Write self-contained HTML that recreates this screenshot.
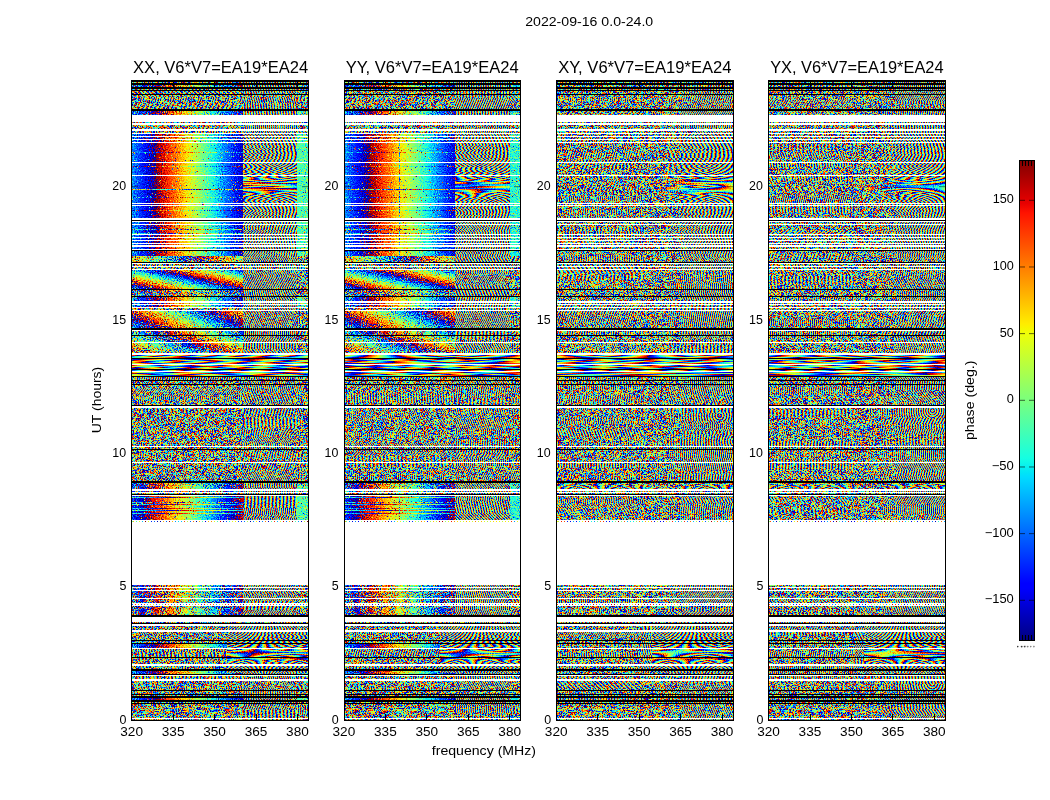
<!DOCTYPE html>
<html lang="en"><head><meta charset="utf-8"><title>2022-09-16 0.0-24.0</title>
<style>html,body{margin:0;padding:0;background:#fff}svg{display:block}text{font-family:'Liberation Sans', sans-serif;fill:#000}</style></head>
<body>
<svg width="1050" height="800" viewBox="0 0 1050 800" shape-rendering="crispEdges">
<defs>
<filter id="S0" x="0" y="0" width="1" height="1" color-interpolation-filters="sRGB"><feTurbulence type="fractalNoise" baseFrequency="0.93 0.91" numOctaves="1" seed="3" result="t"/><feColorMatrix in="t" values="0 0 0 0 0 1 0 0 0 0 0 0 0 0 0 0 0 0 0 1" result="n"/><feComposite in="SourceGraphic" in2="n" operator="arithmetic" k1="1" k2="0" k3="0" k4="0" result="p"/><feColorMatrix in="p" values="0 1 0 0 0 0 0 0 0 0 0 0 0 0 0 0 0 0 0 1" result="p2"/><feColorMatrix in="SourceGraphic" values="1 -.5 0 0 0 0 0 0 0 0 0 0 0 0 0 0 0 0 0 1" result="q"/><feComposite in="p2" in2="q" operator="arithmetic" k1="0" k2="1" k3="1" k4="0" result="s"/><feColorMatrix in="s" values="1 0 0 0 0 1 0 0 0 0 1 0 0 0 0 0 0 0 0 1"/><feComponentTransfer><feFuncR type="discrete" tableValues="0.484 0.534 0.585 0.636 0.686 0.737 0.787 0.838 0.889 0.939 0.99 1 1 1 1 1 1 1 1 1 1 1 1 1 1 0.99 0.919 0.848 0.776 0.705 0.634 0.562 0 0 0 0 0 0 0 0 0 0 0 0 0 0 0 0 0 0 0 0 0 0 0 0.041 0.092 0.142 0.193 0.244 0.294 0.345 0.395 0.446 0.497 0.547 0.598 0.648 0.699 0.75 0.8 0.851 0.901 0.952 1 1 1 1 1 1 1 1 1 1 1 1 1 1 1 0.972 0.901 0.83 0.758 0.687 0.616 0.545 0 0 0 0 0 0 0 0 0 0 0 0 0 0 0 0 0 0 0 0 0 0 0.003 0.054 0.104 0.155 0.206 0.256 0.307 0.357 0.408 0.459 0.509 0.56 0.61 0.661 0.712 0.762 0.813 0.863 0.914 0.965 1 1 1 1 1 1 1 1 1 1 1 1 1 1 1 0.955 0.883 0.812 0.741 0.669 0.598 0.527 0 0 0 0 0 0 0 0 0 0 0 0 0 0 0 0 0 0 0 0 0 0 0.016 0.066 0.117 0.168 0.218 0.269 0.319 0.37 0.421 0.471 0.522 0.572 0.623 0.674 0.724 0.775 0.825 0.876 0.927 0.977 1 1 1 1 1 1 1 1 1 1 1 1 1 1 1 0.937 0.865 0.794 0.723 0.652 0.58 0.509 0 0 0 0 0 0 0 0 0 0 0 0 0 0 0 0 0 0 0 0 0 0 0.028 0.079 0.13 0.18 0.231 0.281 0.332 0.383 0.433 0.484"/><feFuncG type="discrete" tableValues="1 1 1 1 1 1 1 1 1 0.996 0.938 0.879 0.821 0.763 0.705 0.647 0.589 0.531 0.473 0.415 0.357 0.298 0.24 0.182 0.124 0.066 0.008 0 0 0 0 0 0 0 0 0 0 0 0 0 0.01 0.073 0.135 0.198 0.261 0.324 0.386 0.449 0.512 0.575 0.637 0.7 0.763 0.825 0.888 0.951 1 1 1 1 1 1 1 1 1 1 1 1 1 1 1 1 1 0.981 0.923 0.865 0.807 0.749 0.691 0.633 0.574 0.516 0.458 0.4 0.342 0.284 0.226 0.168 0.11 0.052 0 0 0 0 0 0 0 0 0 0 0 0 0 0 0.025 0.088 0.151 0.214 0.276 0.339 0.402 0.465 0.527 0.59 0.653 0.716 0.778 0.841 0.904 0.967 1 1 1 1 1 1 1 1 1 1 1 1 1 1 1 1 1 0.967 0.908 0.85 0.792 0.734 0.676 0.618 0.56 0.502 0.444 0.386 0.328 0.269 0.211 0.153 0.095 0.037 0 0 0 0 0 0 0 0 0 0 0 0 0 0 0.041 0.104 0.167 0.229 0.292 0.355 0.418 0.48 0.543 0.606 0.669 0.731 0.794 0.857 0.92 0.982 1 1 1 1 1 1 1 1 1 1 1 1 1 1 1 1 1 0.952 0.894 0.836 0.778 0.72 0.662 0.603 0.545 0.487 0.429 0.371 0.313 0.255 0.197 0.139 0.081 0.023 0 0 0 0 0 0 0 0 0 0 0 0 0 0 0.057 0.12 0.182 0.245 0.308 0.371 0.433 0.496 0.559 0.622 0.684 0.747 0.81 0.873 0.935 0.998 1 1 1 1 1 1 1 1"/><feFuncB type="discrete" tableValues="0.484 0.433 0.383 0.332 0.281 0.231 0.18 0.13 0.079 0.028 0 0 0 0 0 0 0 0 0 0 0 0 0 0 0 0 0 0 0 0 0 0 0.509 0.58 0.652 0.723 0.794 0.865 0.937 1 1 1 1 1 1 1 1 1 1 1 1 1 1 1 0.977 0.927 0.876 0.825 0.775 0.724 0.674 0.623 0.572 0.522 0.471 0.421 0.37 0.319 0.269 0.218 0.168 0.117 0.066 0.016 0 0 0 0 0 0 0 0 0 0 0 0 0 0 0 0 0 0 0 0 0 0 0.527 0.598 0.669 0.741 0.812 0.883 0.955 1 1 1 1 1 1 1 1 1 1 1 1 1 1 1 0.965 0.914 0.863 0.813 0.762 0.712 0.661 0.61 0.56 0.509 0.459 0.408 0.357 0.307 0.256 0.206 0.155 0.104 0.054 0.003 0 0 0 0 0 0 0 0 0 0 0 0 0 0 0 0 0 0 0 0 0 0 0.545 0.616 0.687 0.758 0.83 0.901 0.972 1 1 1 1 1 1 1 1 1 1 1 1 1 1 1 0.952 0.901 0.851 0.8 0.75 0.699 0.648 0.598 0.547 0.497 0.446 0.395 0.345 0.294 0.244 0.193 0.142 0.092 0.041 0 0 0 0 0 0 0 0 0 0 0 0 0 0 0 0 0 0 0 0 0 0 0 0.562 0.634 0.705 0.776 0.848 0.919 0.99 1 1 1 1 1 1 1 1 1 1 1 1 1 1 0.99 0.939 0.889 0.838 0.787 0.737 0.686 0.636 0.585 0.534 0.484"/></feComponentTransfer></filter>
<filter id="S1" x="0" y="0" width="1" height="1" color-interpolation-filters="sRGB"><feTurbulence type="fractalNoise" baseFrequency="0.93 0.91" numOctaves="1" seed="10" result="t"/><feColorMatrix in="t" values="0 0 0 0 0 1 0 0 0 0 0 0 0 0 0 0 0 0 0 1" result="n"/><feComposite in="SourceGraphic" in2="n" operator="arithmetic" k1="1" k2="0" k3="0" k4="0" result="p"/><feColorMatrix in="p" values="0 1 0 0 0 0 0 0 0 0 0 0 0 0 0 0 0 0 0 1" result="p2"/><feColorMatrix in="SourceGraphic" values="1 -.5 0 0 0 0 0 0 0 0 0 0 0 0 0 0 0 0 0 1" result="q"/><feComposite in="p2" in2="q" operator="arithmetic" k1="0" k2="1" k3="1" k4="0" result="s"/><feColorMatrix in="s" values="1 0 0 0 0 1 0 0 0 0 1 0 0 0 0 0 0 0 0 1"/><feComponentTransfer><feFuncR type="discrete" tableValues="0.484 0.534 0.585 0.636 0.686 0.737 0.787 0.838 0.889 0.939 0.99 1 1 1 1 1 1 1 1 1 1 1 1 1 1 0.99 0.919 0.848 0.776 0.705 0.634 0.562 0 0 0 0 0 0 0 0 0 0 0 0 0 0 0 0 0 0 0 0 0 0 0 0.041 0.092 0.142 0.193 0.244 0.294 0.345 0.395 0.446 0.497 0.547 0.598 0.648 0.699 0.75 0.8 0.851 0.901 0.952 1 1 1 1 1 1 1 1 1 1 1 1 1 1 1 0.972 0.901 0.83 0.758 0.687 0.616 0.545 0 0 0 0 0 0 0 0 0 0 0 0 0 0 0 0 0 0 0 0 0 0 0.003 0.054 0.104 0.155 0.206 0.256 0.307 0.357 0.408 0.459 0.509 0.56 0.61 0.661 0.712 0.762 0.813 0.863 0.914 0.965 1 1 1 1 1 1 1 1 1 1 1 1 1 1 1 0.955 0.883 0.812 0.741 0.669 0.598 0.527 0 0 0 0 0 0 0 0 0 0 0 0 0 0 0 0 0 0 0 0 0 0 0.016 0.066 0.117 0.168 0.218 0.269 0.319 0.37 0.421 0.471 0.522 0.572 0.623 0.674 0.724 0.775 0.825 0.876 0.927 0.977 1 1 1 1 1 1 1 1 1 1 1 1 1 1 1 0.937 0.865 0.794 0.723 0.652 0.58 0.509 0 0 0 0 0 0 0 0 0 0 0 0 0 0 0 0 0 0 0 0 0 0 0.028 0.079 0.13 0.18 0.231 0.281 0.332 0.383 0.433 0.484"/><feFuncG type="discrete" tableValues="1 1 1 1 1 1 1 1 1 0.996 0.938 0.879 0.821 0.763 0.705 0.647 0.589 0.531 0.473 0.415 0.357 0.298 0.24 0.182 0.124 0.066 0.008 0 0 0 0 0 0 0 0 0 0 0 0 0 0.01 0.073 0.135 0.198 0.261 0.324 0.386 0.449 0.512 0.575 0.637 0.7 0.763 0.825 0.888 0.951 1 1 1 1 1 1 1 1 1 1 1 1 1 1 1 1 1 0.981 0.923 0.865 0.807 0.749 0.691 0.633 0.574 0.516 0.458 0.4 0.342 0.284 0.226 0.168 0.11 0.052 0 0 0 0 0 0 0 0 0 0 0 0 0 0 0.025 0.088 0.151 0.214 0.276 0.339 0.402 0.465 0.527 0.59 0.653 0.716 0.778 0.841 0.904 0.967 1 1 1 1 1 1 1 1 1 1 1 1 1 1 1 1 1 0.967 0.908 0.85 0.792 0.734 0.676 0.618 0.56 0.502 0.444 0.386 0.328 0.269 0.211 0.153 0.095 0.037 0 0 0 0 0 0 0 0 0 0 0 0 0 0 0.041 0.104 0.167 0.229 0.292 0.355 0.418 0.48 0.543 0.606 0.669 0.731 0.794 0.857 0.92 0.982 1 1 1 1 1 1 1 1 1 1 1 1 1 1 1 1 1 0.952 0.894 0.836 0.778 0.72 0.662 0.603 0.545 0.487 0.429 0.371 0.313 0.255 0.197 0.139 0.081 0.023 0 0 0 0 0 0 0 0 0 0 0 0 0 0 0.057 0.12 0.182 0.245 0.308 0.371 0.433 0.496 0.559 0.622 0.684 0.747 0.81 0.873 0.935 0.998 1 1 1 1 1 1 1 1"/><feFuncB type="discrete" tableValues="0.484 0.433 0.383 0.332 0.281 0.231 0.18 0.13 0.079 0.028 0 0 0 0 0 0 0 0 0 0 0 0 0 0 0 0 0 0 0 0 0 0 0.509 0.58 0.652 0.723 0.794 0.865 0.937 1 1 1 1 1 1 1 1 1 1 1 1 1 1 1 0.977 0.927 0.876 0.825 0.775 0.724 0.674 0.623 0.572 0.522 0.471 0.421 0.37 0.319 0.269 0.218 0.168 0.117 0.066 0.016 0 0 0 0 0 0 0 0 0 0 0 0 0 0 0 0 0 0 0 0 0 0 0.527 0.598 0.669 0.741 0.812 0.883 0.955 1 1 1 1 1 1 1 1 1 1 1 1 1 1 1 0.965 0.914 0.863 0.813 0.762 0.712 0.661 0.61 0.56 0.509 0.459 0.408 0.357 0.307 0.256 0.206 0.155 0.104 0.054 0.003 0 0 0 0 0 0 0 0 0 0 0 0 0 0 0 0 0 0 0 0 0 0 0.545 0.616 0.687 0.758 0.83 0.901 0.972 1 1 1 1 1 1 1 1 1 1 1 1 1 1 1 0.952 0.901 0.851 0.8 0.75 0.699 0.648 0.598 0.547 0.497 0.446 0.395 0.345 0.294 0.244 0.193 0.142 0.092 0.041 0 0 0 0 0 0 0 0 0 0 0 0 0 0 0 0 0 0 0 0 0 0 0 0.562 0.634 0.705 0.776 0.848 0.919 0.99 1 1 1 1 1 1 1 1 1 1 1 1 1 1 0.99 0.939 0.889 0.838 0.787 0.737 0.686 0.636 0.585 0.534 0.484"/></feComponentTransfer></filter>
<filter id="S2" x="0" y="0" width="1" height="1" color-interpolation-filters="sRGB"><feTurbulence type="fractalNoise" baseFrequency="0.93 0.91" numOctaves="1" seed="17" result="t"/><feColorMatrix in="t" values="0 0 0 0 0 1 0 0 0 0 0 0 0 0 0 0 0 0 0 1" result="n"/><feComposite in="SourceGraphic" in2="n" operator="arithmetic" k1="1" k2="0" k3="0" k4="0" result="p"/><feColorMatrix in="p" values="0 1 0 0 0 0 0 0 0 0 0 0 0 0 0 0 0 0 0 1" result="p2"/><feColorMatrix in="SourceGraphic" values="1 -.5 0 0 0 0 0 0 0 0 0 0 0 0 0 0 0 0 0 1" result="q"/><feComposite in="p2" in2="q" operator="arithmetic" k1="0" k2="1" k3="1" k4="0" result="s"/><feColorMatrix in="s" values="1 0 0 0 0 1 0 0 0 0 1 0 0 0 0 0 0 0 0 1"/><feComponentTransfer><feFuncR type="discrete" tableValues="0.484 0.534 0.585 0.636 0.686 0.737 0.787 0.838 0.889 0.939 0.99 1 1 1 1 1 1 1 1 1 1 1 1 1 1 0.99 0.919 0.848 0.776 0.705 0.634 0.562 0 0 0 0 0 0 0 0 0 0 0 0 0 0 0 0 0 0 0 0 0 0 0 0.041 0.092 0.142 0.193 0.244 0.294 0.345 0.395 0.446 0.497 0.547 0.598 0.648 0.699 0.75 0.8 0.851 0.901 0.952 1 1 1 1 1 1 1 1 1 1 1 1 1 1 1 0.972 0.901 0.83 0.758 0.687 0.616 0.545 0 0 0 0 0 0 0 0 0 0 0 0 0 0 0 0 0 0 0 0 0 0 0.003 0.054 0.104 0.155 0.206 0.256 0.307 0.357 0.408 0.459 0.509 0.56 0.61 0.661 0.712 0.762 0.813 0.863 0.914 0.965 1 1 1 1 1 1 1 1 1 1 1 1 1 1 1 0.955 0.883 0.812 0.741 0.669 0.598 0.527 0 0 0 0 0 0 0 0 0 0 0 0 0 0 0 0 0 0 0 0 0 0 0.016 0.066 0.117 0.168 0.218 0.269 0.319 0.37 0.421 0.471 0.522 0.572 0.623 0.674 0.724 0.775 0.825 0.876 0.927 0.977 1 1 1 1 1 1 1 1 1 1 1 1 1 1 1 0.937 0.865 0.794 0.723 0.652 0.58 0.509 0 0 0 0 0 0 0 0 0 0 0 0 0 0 0 0 0 0 0 0 0 0 0.028 0.079 0.13 0.18 0.231 0.281 0.332 0.383 0.433 0.484"/><feFuncG type="discrete" tableValues="1 1 1 1 1 1 1 1 1 0.996 0.938 0.879 0.821 0.763 0.705 0.647 0.589 0.531 0.473 0.415 0.357 0.298 0.24 0.182 0.124 0.066 0.008 0 0 0 0 0 0 0 0 0 0 0 0 0 0.01 0.073 0.135 0.198 0.261 0.324 0.386 0.449 0.512 0.575 0.637 0.7 0.763 0.825 0.888 0.951 1 1 1 1 1 1 1 1 1 1 1 1 1 1 1 1 1 0.981 0.923 0.865 0.807 0.749 0.691 0.633 0.574 0.516 0.458 0.4 0.342 0.284 0.226 0.168 0.11 0.052 0 0 0 0 0 0 0 0 0 0 0 0 0 0 0.025 0.088 0.151 0.214 0.276 0.339 0.402 0.465 0.527 0.59 0.653 0.716 0.778 0.841 0.904 0.967 1 1 1 1 1 1 1 1 1 1 1 1 1 1 1 1 1 0.967 0.908 0.85 0.792 0.734 0.676 0.618 0.56 0.502 0.444 0.386 0.328 0.269 0.211 0.153 0.095 0.037 0 0 0 0 0 0 0 0 0 0 0 0 0 0 0.041 0.104 0.167 0.229 0.292 0.355 0.418 0.48 0.543 0.606 0.669 0.731 0.794 0.857 0.92 0.982 1 1 1 1 1 1 1 1 1 1 1 1 1 1 1 1 1 0.952 0.894 0.836 0.778 0.72 0.662 0.603 0.545 0.487 0.429 0.371 0.313 0.255 0.197 0.139 0.081 0.023 0 0 0 0 0 0 0 0 0 0 0 0 0 0 0.057 0.12 0.182 0.245 0.308 0.371 0.433 0.496 0.559 0.622 0.684 0.747 0.81 0.873 0.935 0.998 1 1 1 1 1 1 1 1"/><feFuncB type="discrete" tableValues="0.484 0.433 0.383 0.332 0.281 0.231 0.18 0.13 0.079 0.028 0 0 0 0 0 0 0 0 0 0 0 0 0 0 0 0 0 0 0 0 0 0 0.509 0.58 0.652 0.723 0.794 0.865 0.937 1 1 1 1 1 1 1 1 1 1 1 1 1 1 1 0.977 0.927 0.876 0.825 0.775 0.724 0.674 0.623 0.572 0.522 0.471 0.421 0.37 0.319 0.269 0.218 0.168 0.117 0.066 0.016 0 0 0 0 0 0 0 0 0 0 0 0 0 0 0 0 0 0 0 0 0 0 0.527 0.598 0.669 0.741 0.812 0.883 0.955 1 1 1 1 1 1 1 1 1 1 1 1 1 1 1 0.965 0.914 0.863 0.813 0.762 0.712 0.661 0.61 0.56 0.509 0.459 0.408 0.357 0.307 0.256 0.206 0.155 0.104 0.054 0.003 0 0 0 0 0 0 0 0 0 0 0 0 0 0 0 0 0 0 0 0 0 0 0.545 0.616 0.687 0.758 0.83 0.901 0.972 1 1 1 1 1 1 1 1 1 1 1 1 1 1 1 0.952 0.901 0.851 0.8 0.75 0.699 0.648 0.598 0.547 0.497 0.446 0.395 0.345 0.294 0.244 0.193 0.142 0.092 0.041 0 0 0 0 0 0 0 0 0 0 0 0 0 0 0 0 0 0 0 0 0 0 0 0.562 0.634 0.705 0.776 0.848 0.919 0.99 1 1 1 1 1 1 1 1 1 1 1 1 1 1 0.99 0.939 0.889 0.838 0.787 0.737 0.686 0.636 0.585 0.534 0.484"/></feComponentTransfer></filter>
<filter id="S3" x="0" y="0" width="1" height="1" color-interpolation-filters="sRGB"><feTurbulence type="fractalNoise" baseFrequency="0.93 0.91" numOctaves="1" seed="24" result="t"/><feColorMatrix in="t" values="0 0 0 0 0 1 0 0 0 0 0 0 0 0 0 0 0 0 0 1" result="n"/><feComposite in="SourceGraphic" in2="n" operator="arithmetic" k1="1" k2="0" k3="0" k4="0" result="p"/><feColorMatrix in="p" values="0 1 0 0 0 0 0 0 0 0 0 0 0 0 0 0 0 0 0 1" result="p2"/><feColorMatrix in="SourceGraphic" values="1 -.5 0 0 0 0 0 0 0 0 0 0 0 0 0 0 0 0 0 1" result="q"/><feComposite in="p2" in2="q" operator="arithmetic" k1="0" k2="1" k3="1" k4="0" result="s"/><feColorMatrix in="s" values="1 0 0 0 0 1 0 0 0 0 1 0 0 0 0 0 0 0 0 1"/><feComponentTransfer><feFuncR type="discrete" tableValues="0.484 0.534 0.585 0.636 0.686 0.737 0.787 0.838 0.889 0.939 0.99 1 1 1 1 1 1 1 1 1 1 1 1 1 1 0.99 0.919 0.848 0.776 0.705 0.634 0.562 0 0 0 0 0 0 0 0 0 0 0 0 0 0 0 0 0 0 0 0 0 0 0 0.041 0.092 0.142 0.193 0.244 0.294 0.345 0.395 0.446 0.497 0.547 0.598 0.648 0.699 0.75 0.8 0.851 0.901 0.952 1 1 1 1 1 1 1 1 1 1 1 1 1 1 1 0.972 0.901 0.83 0.758 0.687 0.616 0.545 0 0 0 0 0 0 0 0 0 0 0 0 0 0 0 0 0 0 0 0 0 0 0.003 0.054 0.104 0.155 0.206 0.256 0.307 0.357 0.408 0.459 0.509 0.56 0.61 0.661 0.712 0.762 0.813 0.863 0.914 0.965 1 1 1 1 1 1 1 1 1 1 1 1 1 1 1 0.955 0.883 0.812 0.741 0.669 0.598 0.527 0 0 0 0 0 0 0 0 0 0 0 0 0 0 0 0 0 0 0 0 0 0 0.016 0.066 0.117 0.168 0.218 0.269 0.319 0.37 0.421 0.471 0.522 0.572 0.623 0.674 0.724 0.775 0.825 0.876 0.927 0.977 1 1 1 1 1 1 1 1 1 1 1 1 1 1 1 0.937 0.865 0.794 0.723 0.652 0.58 0.509 0 0 0 0 0 0 0 0 0 0 0 0 0 0 0 0 0 0 0 0 0 0 0.028 0.079 0.13 0.18 0.231 0.281 0.332 0.383 0.433 0.484"/><feFuncG type="discrete" tableValues="1 1 1 1 1 1 1 1 1 0.996 0.938 0.879 0.821 0.763 0.705 0.647 0.589 0.531 0.473 0.415 0.357 0.298 0.24 0.182 0.124 0.066 0.008 0 0 0 0 0 0 0 0 0 0 0 0 0 0.01 0.073 0.135 0.198 0.261 0.324 0.386 0.449 0.512 0.575 0.637 0.7 0.763 0.825 0.888 0.951 1 1 1 1 1 1 1 1 1 1 1 1 1 1 1 1 1 0.981 0.923 0.865 0.807 0.749 0.691 0.633 0.574 0.516 0.458 0.4 0.342 0.284 0.226 0.168 0.11 0.052 0 0 0 0 0 0 0 0 0 0 0 0 0 0 0.025 0.088 0.151 0.214 0.276 0.339 0.402 0.465 0.527 0.59 0.653 0.716 0.778 0.841 0.904 0.967 1 1 1 1 1 1 1 1 1 1 1 1 1 1 1 1 1 0.967 0.908 0.85 0.792 0.734 0.676 0.618 0.56 0.502 0.444 0.386 0.328 0.269 0.211 0.153 0.095 0.037 0 0 0 0 0 0 0 0 0 0 0 0 0 0 0.041 0.104 0.167 0.229 0.292 0.355 0.418 0.48 0.543 0.606 0.669 0.731 0.794 0.857 0.92 0.982 1 1 1 1 1 1 1 1 1 1 1 1 1 1 1 1 1 0.952 0.894 0.836 0.778 0.72 0.662 0.603 0.545 0.487 0.429 0.371 0.313 0.255 0.197 0.139 0.081 0.023 0 0 0 0 0 0 0 0 0 0 0 0 0 0 0.057 0.12 0.182 0.245 0.308 0.371 0.433 0.496 0.559 0.622 0.684 0.747 0.81 0.873 0.935 0.998 1 1 1 1 1 1 1 1"/><feFuncB type="discrete" tableValues="0.484 0.433 0.383 0.332 0.281 0.231 0.18 0.13 0.079 0.028 0 0 0 0 0 0 0 0 0 0 0 0 0 0 0 0 0 0 0 0 0 0 0.509 0.58 0.652 0.723 0.794 0.865 0.937 1 1 1 1 1 1 1 1 1 1 1 1 1 1 1 0.977 0.927 0.876 0.825 0.775 0.724 0.674 0.623 0.572 0.522 0.471 0.421 0.37 0.319 0.269 0.218 0.168 0.117 0.066 0.016 0 0 0 0 0 0 0 0 0 0 0 0 0 0 0 0 0 0 0 0 0 0 0.527 0.598 0.669 0.741 0.812 0.883 0.955 1 1 1 1 1 1 1 1 1 1 1 1 1 1 1 0.965 0.914 0.863 0.813 0.762 0.712 0.661 0.61 0.56 0.509 0.459 0.408 0.357 0.307 0.256 0.206 0.155 0.104 0.054 0.003 0 0 0 0 0 0 0 0 0 0 0 0 0 0 0 0 0 0 0 0 0 0 0.545 0.616 0.687 0.758 0.83 0.901 0.972 1 1 1 1 1 1 1 1 1 1 1 1 1 1 1 0.952 0.901 0.851 0.8 0.75 0.699 0.648 0.598 0.547 0.497 0.446 0.395 0.345 0.294 0.244 0.193 0.142 0.092 0.041 0 0 0 0 0 0 0 0 0 0 0 0 0 0 0 0 0 0 0 0 0 0 0 0.562 0.634 0.705 0.776 0.848 0.919 0.99 1 1 1 1 1 1 1 1 1 1 1 1 1 1 0.99 0.939 0.889 0.838 0.787 0.737 0.686 0.636 0.585 0.534 0.484"/></feComponentTransfer></filter>
<linearGradient id="c153" gradientUnits="userSpaceOnUse" spreadMethod="repeat"><stop offset="0" stop-color="#609900"/><stop offset="1" stop-color="#9f9900"/></linearGradient>
<linearGradient id="g1" href="#c153" x1="129.47" y1="80.31" x2="131.38" y2="81.17"/>
<linearGradient id="c76" gradientUnits="userSpaceOnUse" spreadMethod="repeat"><stop offset="0" stop-color="#604c00"/><stop offset="1" stop-color="#9f4c00"/></linearGradient>
<linearGradient id="g2" href="#c76" x1="129.75" y1="87.36" x2="131.68" y2="85.26"/>
<linearGradient id="c128" gradientUnits="userSpaceOnUse" spreadMethod="repeat"><stop offset="0" stop-color="#608000"/><stop offset="1" stop-color="#9f8000"/></linearGradient>
<linearGradient id="g3" href="#c128" x1="131.78" y1="97.26" x2="129.53" y2="96.52"/>
<linearGradient id="c102" gradientUnits="userSpaceOnUse" spreadMethod="repeat"><stop offset="0" stop-color="#606600"/><stop offset="1" stop-color="#9f6600"/></linearGradient>
<linearGradient id="g4" href="#c102" x1="128.85" y1="101.89" x2="132.16" y2="103.6"/>
<linearGradient id="g5" href="#c102" x1="133.47" y1="113.17" x2="130.53" y2="111.78"/>
<radialGradient id="r153_0" gradientUnits="userSpaceOnUse" spreadMethod="repeat"><stop offset="0" stop-color="#609900"/><stop offset="1" stop-color="#9f9900"/></radialGradient>
<radialGradient id="g6" href="#r153_0" cx="50.69" cy="124.92" r="2.7"/>
<radialGradient id="r178_5" gradientUnits="userSpaceOnUse" spreadMethod="repeat"><stop offset="0" stop-color="#87b200"/><stop offset="0.38" stop-color="#9fb200"/><stop offset="0.38" stop-color="#60b200"/><stop offset="1" stop-color="#87b200"/></radialGradient>
<radialGradient id="g7" href="#r178_5" cx="334.01" cy="120.47" r="3.1"/>
<radialGradient id="r128_5" gradientUnits="userSpaceOnUse" spreadMethod="repeat"><stop offset="0" stop-color="#878000"/><stop offset="0.38" stop-color="#9f8000"/><stop offset="0.38" stop-color="#608000"/><stop offset="1" stop-color="#878000"/></radialGradient>
<radialGradient id="g8" href="#r128_5" cx="18.4" cy="144.71" r="2.7"/>
<radialGradient id="r102_4" gradientUnits="userSpaceOnUse" spreadMethod="repeat"><stop offset="0" stop-color="#806600"/><stop offset="0.5" stop-color="#9f6600"/><stop offset="0.5" stop-color="#606600"/><stop offset="1" stop-color="#806600"/></radialGradient>
<radialGradient id="g9" href="#r102_4" cx="347.13" cy="142.35" r="3.6"/>
<linearGradient id="g10" href="#c102" x1="132.24" y1="147.12" x2="130.48" y2="145.53"/>
<radialGradient id="r76_6" gradientUnits="userSpaceOnUse" spreadMethod="repeat"><stop offset="0" stop-color="#8f4c00"/><stop offset="0.25" stop-color="#9f4c00"/><stop offset="0.25" stop-color="#604c00"/><stop offset="1" stop-color="#8f4c00"/></radialGradient>
<radialGradient id="g11" href="#r76_6" cx="305.92" cy="147.98" r="2.2"/>
<linearGradient id="g12" href="#c128" x1="130.82" y1="157.12" x2="132.33" y2="156.13"/>
<linearGradient id="g13" href="#c76" x1="129.89" y1="165.59" x2="131.57" y2="164.7"/>
<linearGradient id="c178" gradientUnits="userSpaceOnUse" spreadMethod="repeat"><stop offset="0" stop-color="#60b200"/><stop offset="1" stop-color="#9fb200"/></linearGradient>
<linearGradient id="g14" href="#c178" x1="132.44" y1="172.79" x2="130.79" y2="170.74"/>
<radialGradient id="r102_1" gradientUnits="userSpaceOnUse" spreadMethod="repeat"><stop offset="0" stop-color="#686600"/><stop offset="0.88" stop-color="#9f6600"/><stop offset="0.88" stop-color="#606600"/><stop offset="1" stop-color="#686600"/></radialGradient>
<radialGradient id="g15" href="#r102_1" cx="150.11" cy="175.66" r="2.2"/>
<radialGradient id="r76_4" gradientUnits="userSpaceOnUse" spreadMethod="repeat"><stop offset="0" stop-color="#804c00"/><stop offset="0.5" stop-color="#9f4c00"/><stop offset="0.5" stop-color="#604c00"/><stop offset="1" stop-color="#804c00"/></radialGradient>
<radialGradient id="g16" href="#r76_4" cx="223.02" cy="185.08" r="3.6"/>
<linearGradient id="g17" href="#c178" x1="129.65" y1="192.14" x2="131.28" y2="190.76"/>
<linearGradient id="g18" href="#c178" x1="128.06" y1="202.39" x2="131.01" y2="201"/>
<linearGradient id="g19" href="#c128" x1="131.8" y1="205.78" x2="130.37" y2="204.38"/>
<linearGradient id="g20" href="#c153" x1="132.2" y1="213.34" x2="130.55" y2="214.25"/>
<radialGradient id="g21" href="#r76_6" cx="331.3" cy="219.78" r="2.4"/>
<linearGradient id="g22" href="#c76" x1="131.01" y1="223.01" x2="129.45" y2="221.41"/>
<linearGradient id="g23" href="#c128" x1="130.68" y1="227.8" x2="132.32" y2="228.84"/>
<radialGradient id="r178_6" gradientUnits="userSpaceOnUse" spreadMethod="repeat"><stop offset="0" stop-color="#8fb200"/><stop offset="0.25" stop-color="#9fb200"/><stop offset="0.25" stop-color="#60b200"/><stop offset="1" stop-color="#8fb200"/></radialGradient>
<radialGradient id="g24" href="#r178_6" cx="229.19" cy="231.98" r="3.1"/>
<radialGradient id="r178_1" gradientUnits="userSpaceOnUse" spreadMethod="repeat"><stop offset="0" stop-color="#68b200"/><stop offset="0.88" stop-color="#9fb200"/><stop offset="0.88" stop-color="#60b200"/><stop offset="1" stop-color="#68b200"/></radialGradient>
<radialGradient id="g25" href="#r178_1" cx="46" cy="229.52" r="3.1"/>
<linearGradient id="g26" href="#c76" x1="130.87" y1="244.82" x2="132.41" y2="246.85"/>
<linearGradient id="g27" href="#c153" x1="130.51" y1="251.3" x2="132.18" y2="250.28"/>
<radialGradient id="g28" href="#r178_1" cx="-7.18" cy="256.76" r="2.2"/>
<linearGradient id="g29" href="#c178" x1="129.14" y1="257.55" x2="131.17" y2="258.04"/>
<linearGradient id="g30" href="#c128" x1="131.34" y1="266.36" x2="129.82" y2="264.76"/>
<linearGradient id="g31" href="#c178" x1="132.3" y1="275.04" x2="129.57" y2="277.05"/>
<radialGradient id="r76_0" gradientUnits="userSpaceOnUse" spreadMethod="repeat"><stop offset="0" stop-color="#604c00"/><stop offset="1" stop-color="#9f4c00"/></radialGradient>
<radialGradient id="g32" href="#r76_0" cx="221.74" cy="285.23" r="3.6"/>
<linearGradient id="g33" href="#c102" x1="130.15" y1="290.24" x2="132.47" y2="289.59"/>
<radialGradient id="g34" href="#r76_4" cx="268.59" cy="307.41" r="2.05"/>
<linearGradient id="g35" href="#c128" x1="131.15" y1="302.13" x2="129.33" y2="300.54"/>
<linearGradient id="g36" href="#c178" x1="132.61" y1="308.9" x2="130.48" y2="307.71"/>
<radialGradient id="r102_0" gradientUnits="userSpaceOnUse" spreadMethod="repeat"><stop offset="0" stop-color="#606600"/><stop offset="1" stop-color="#9f6600"/></radialGradient>
<radialGradient id="g37" href="#r102_0" cx="343" cy="324.58" r="2.2"/>
<radialGradient id="r153_3" gradientUnits="userSpaceOnUse" spreadMethod="repeat"><stop offset="0" stop-color="#789900"/><stop offset="0.62" stop-color="#9f9900"/><stop offset="0.62" stop-color="#609900"/><stop offset="1" stop-color="#789900"/></radialGradient>
<radialGradient id="g38" href="#r153_3" cx="72.23" cy="321.76" r="2.05"/>
<linearGradient id="g39" href="#c153" x1="130.41" y1="330.56" x2="131.89" y2="329.16"/>
<linearGradient id="g40" href="#c128" x1="132.09" y1="336.29" x2="129.47" y2="335.6"/>
<linearGradient id="g41" href="#c76" x1="130.12" y1="346.07" x2="131.82" y2="344.01"/>
<linearGradient id="g42" href="#c76" x1="133.15" y1="351.52" x2="130.97" y2="353.02"/>
<linearGradient id="g43" href="#c128" x1="130.27" y1="361.54" x2="132.28" y2="362.8"/>
<radialGradient id="r102_2" gradientUnits="userSpaceOnUse" spreadMethod="repeat"><stop offset="0" stop-color="#706600"/><stop offset="0.75" stop-color="#9f6600"/><stop offset="0.75" stop-color="#606600"/><stop offset="1" stop-color="#706600"/></radialGradient>
<radialGradient id="g44" href="#r102_2" cx="348.3" cy="370.83" r="2.4"/>
<linearGradient id="g45" href="#c76" x1="132.34" y1="371.31" x2="130.16" y2="370.8"/>
<linearGradient id="g46" href="#c153" x1="130.04" y1="381.74" x2="132.05" y2="380.19"/>
<linearGradient id="g47" href="#c76" x1="130.43" y1="387.55" x2="131.84" y2="388.67"/>
<radialGradient id="r76_3" gradientUnits="userSpaceOnUse" spreadMethod="repeat"><stop offset="0" stop-color="#784c00"/><stop offset="0.62" stop-color="#9f4c00"/><stop offset="0.62" stop-color="#604c00"/><stop offset="1" stop-color="#784c00"/></radialGradient>
<radialGradient id="g48" href="#r76_3" cx="16.67" cy="392.06" r="2.05"/>
<linearGradient id="g49" href="#c178" x1="130.83" y1="398.95" x2="132.74" y2="399.46"/>
<radialGradient id="g50" href="#r178_6" cx="66.71" cy="408.83" r="3.6"/>
<linearGradient id="g51" href="#c178" x1="130.27" y1="419.69" x2="131.95" y2="418.1"/>
<radialGradient id="r178_3" gradientUnits="userSpaceOnUse" spreadMethod="repeat"><stop offset="0" stop-color="#78b200"/><stop offset="0.62" stop-color="#9fb200"/><stop offset="0.62" stop-color="#60b200"/><stop offset="1" stop-color="#78b200"/></radialGradient>
<radialGradient id="g52" href="#r178_3" cx="380.94" cy="418.04" r="2.7"/>
<linearGradient id="g53" href="#c178" x1="130.05" y1="433.4" x2="131.84" y2="434.53"/>
<linearGradient id="g54" href="#c153" x1="129.94" y1="444.26" x2="132.58" y2="443.62"/>
<radialGradient id="g55" href="#r178_3" cx="15.85" cy="458.25" r="2.2"/>
<radialGradient id="r178_4" gradientUnits="userSpaceOnUse" spreadMethod="repeat"><stop offset="0" stop-color="#80b200"/><stop offset="0.5" stop-color="#9fb200"/><stop offset="0.5" stop-color="#60b200"/><stop offset="1" stop-color="#80b200"/></radialGradient>
<radialGradient id="g56" href="#r178_4" cx="314.55" cy="463.24" r="2.7"/>
<radialGradient id="g57" href="#r178_4" cx="70.04" cy="451.75" r="2.2"/>
<linearGradient id="g58" href="#c153" x1="131.44" y1="471.25" x2="129.8" y2="470.33"/>
<radialGradient id="r102_3" gradientUnits="userSpaceOnUse" spreadMethod="repeat"><stop offset="0" stop-color="#786600"/><stop offset="0.62" stop-color="#9f6600"/><stop offset="0.62" stop-color="#606600"/><stop offset="1" stop-color="#786600"/></radialGradient>
<radialGradient id="g59" href="#r102_3" cx="330.03" cy="480.43" r="2.7"/>
<linearGradient id="g60" href="#c153" x1="131.05" y1="490.94" x2="129.63" y2="492.7"/>
<linearGradient id="g61" href="#c153" x1="132.2" y1="493.75" x2="130.18" y2="495.85"/>
<linearGradient id="g62" href="#c76" x1="130.56" y1="503.25" x2="132.2" y2="502.33"/>
<linearGradient id="g63" href="#c76" x1="129.81" y1="511.64" x2="131.26" y2="509.64"/>
<radialGradient id="g64" href="#r178_4" cx="343.64" cy="518.51" r="2.2"/>
<radialGradient id="r128_0" gradientUnits="userSpaceOnUse" spreadMethod="repeat"><stop offset="0" stop-color="#608000"/><stop offset="1" stop-color="#9f8000"/></radialGradient>
<radialGradient id="g65" href="#r128_0" cx="234.13" cy="528.35" r="2.4"/>
<linearGradient id="g66" href="#c102" x1="131.31" y1="527.79" x2="129.09" y2="529.26"/>
<radialGradient id="r102_7" gradientUnits="userSpaceOnUse" spreadMethod="repeat"><stop offset="0" stop-color="#976600"/><stop offset="0.12" stop-color="#9f6600"/><stop offset="0.12" stop-color="#606600"/><stop offset="1" stop-color="#976600"/></radialGradient>
<radialGradient id="g67" href="#r102_7" cx="35.11" cy="536.67" r="2.2"/>
<radialGradient id="r128_6" gradientUnits="userSpaceOnUse" spreadMethod="repeat"><stop offset="0" stop-color="#8f8000"/><stop offset="0.25" stop-color="#9f8000"/><stop offset="0.25" stop-color="#608000"/><stop offset="1" stop-color="#8f8000"/></radialGradient>
<radialGradient id="g68" href="#r128_6" cx="315.07" cy="546.82" r="3.6"/>
<linearGradient id="g69" href="#c178" x1="129.24" y1="558.34" x2="131.01" y2="556.99"/>
<radialGradient id="r128_7" gradientUnits="userSpaceOnUse" spreadMethod="repeat"><stop offset="0" stop-color="#978000"/><stop offset="0.12" stop-color="#9f8000"/><stop offset="0.12" stop-color="#608000"/><stop offset="1" stop-color="#978000"/></radialGradient>
<radialGradient id="g70" href="#r128_7" cx="289.13" cy="569.92" r="2.4"/>
<linearGradient id="g71" href="#c76" x1="132.56" y1="571.35" x2="130.37" y2="570.86"/>
<linearGradient id="g72" href="#c153" x1="132.27" y1="575.62" x2="129.7" y2="576.39"/>
<radialGradient id="r153_1" gradientUnits="userSpaceOnUse" spreadMethod="repeat"><stop offset="0" stop-color="#689900"/><stop offset="0.88" stop-color="#9f9900"/><stop offset="0.88" stop-color="#609900"/><stop offset="1" stop-color="#689900"/></radialGradient>
<radialGradient id="g73" href="#r153_1" cx="59.89" cy="598.11" r="2.4"/>
<radialGradient id="r153_4" gradientUnits="userSpaceOnUse" spreadMethod="repeat"><stop offset="0" stop-color="#809900"/><stop offset="0.5" stop-color="#9f9900"/><stop offset="0.5" stop-color="#609900"/><stop offset="1" stop-color="#809900"/></radialGradient>
<radialGradient id="g74" href="#r153_4" cx="219.49" cy="587.77" r="3.6"/>
<linearGradient id="g75" href="#c76" x1="132.11" y1="599.3" x2="130.58" y2="600.27"/>
<linearGradient id="g76" href="#c128" x1="131.32" y1="610.71" x2="129.56" y2="612.3"/>
<linearGradient id="g77" href="#c153" x1="128.45" y1="614.14" x2="131.32" y2="615.11"/>
<radialGradient id="r153_6" gradientUnits="userSpaceOnUse" spreadMethod="repeat"><stop offset="0" stop-color="#8f9900"/><stop offset="0.25" stop-color="#9f9900"/><stop offset="0.25" stop-color="#609900"/><stop offset="1" stop-color="#8f9900"/></radialGradient>
<radialGradient id="g78" href="#r153_6" cx="90.37" cy="624.05" r="2.4"/>
<linearGradient id="g79" href="#c76" x1="131.27" y1="628.29" x2="129.6" y2="626.49"/>
<linearGradient id="g80" href="#c128" x1="131.16" y1="630.89" x2="129.57" y2="631.96"/>
<radialGradient id="g81" href="#r178_3" cx="6.83" cy="645.03" r="2.2"/>
<radialGradient id="r76_5" gradientUnits="userSpaceOnUse" spreadMethod="repeat"><stop offset="0" stop-color="#874c00"/><stop offset="0.38" stop-color="#9f4c00"/><stop offset="0.38" stop-color="#604c00"/><stop offset="1" stop-color="#874c00"/></radialGradient>
<radialGradient id="g82" href="#r76_5" cx="7.74" cy="647.57" r="2.7"/>
<radialGradient id="g83" href="#r102_7" cx="311.67" cy="643.69" r="3.6"/>
<radialGradient id="g84" href="#r153_6" cx="155.8" cy="659.88" r="2.7"/>
<radialGradient id="g85" href="#r128_5" cx="19.28" cy="674.7" r="3.6"/>
<linearGradient id="g86" href="#c178" x1="130" y1="681.46" x2="131.58" y2="682.32"/>
<linearGradient id="g87" href="#c128" x1="128.76" y1="686.62" x2="131.08" y2="685.98"/>
<radialGradient id="g88" href="#r153_4" cx="295.37" cy="694.33" r="2.2"/>
<linearGradient id="g89" href="#c153" x1="130.84" y1="692.17" x2="132.38" y2="690.57"/>
<radialGradient id="g90" href="#r76_5" cx="100.69" cy="693.77" r="3.1"/>
<radialGradient id="g91" href="#r178_3" cx="345.82" cy="712.2" r="2.05"/>
<linearGradient id="g92" href="#c76" x1="130.5" y1="715.27" x2="132.29" y2="714.31"/>
<radialGradient id="g93" href="#r76_0" cx="48.53" cy="714.64" r="2.2"/>
<linearGradient id="c46" gradientUnits="userSpaceOnUse" spreadMethod="repeat"><stop offset="0" stop-color="#602e00"/><stop offset="1" stop-color="#9f2e00"/></linearGradient>
<linearGradient id="g94" href="#c46" x1="240.91" y1="81.33" x2="243.4" y2="80.81"/>
<radialGradient id="g95" href="#r102_2" cx="165.43" cy="98.81" r="3.1"/>
<linearGradient id="c64" gradientUnits="userSpaceOnUse" spreadMethod="repeat"><stop offset="0" stop-color="#604000"/><stop offset="1" stop-color="#9f4000"/></linearGradient>
<linearGradient id="g96" href="#c64" x1="241.74" y1="97.23" x2="243.9" y2="96.58"/>
<radialGradient id="r46_1" gradientUnits="userSpaceOnUse" spreadMethod="repeat"><stop offset="0" stop-color="#682e00"/><stop offset="0.88" stop-color="#9f2e00"/><stop offset="0.88" stop-color="#602e00"/><stop offset="1" stop-color="#682e00"/></radialGradient>
<radialGradient id="g97" href="#r46_1" cx="408.97" cy="97.11" r="2.7"/>
<linearGradient id="g98" href="#c64" x1="241.07" y1="115.28" x2="243.33" y2="114.84"/>
<radialGradient id="r38_6" gradientUnits="userSpaceOnUse" spreadMethod="repeat"><stop offset="0" stop-color="#8f2600"/><stop offset="0.25" stop-color="#9f2600"/><stop offset="0.25" stop-color="#602600"/><stop offset="1" stop-color="#8f2600"/></radialGradient>
<radialGradient id="g99" href="#r38_6" cx="222.09" cy="129.67" r="2.05"/>
<linearGradient id="g100" href="#c46" x1="241.48" y1="131.65" x2="244.16" y2="132.57"/>
<linearGradient id="c31" gradientUnits="userSpaceOnUse" spreadMethod="repeat"><stop offset="0" stop-color="#601f00"/><stop offset="1" stop-color="#9f1f00"/></linearGradient>
<linearGradient id="g101" href="#c31" x1="242.8" y1="140.88" x2="241.02" y2="141.58"/>
<linearGradient id="g102" href="#c31" x1="244.28" y1="151.54" x2="242.32" y2="152.05"/>
<radialGradient id="r31_4" gradientUnits="userSpaceOnUse" spreadMethod="repeat"><stop offset="0" stop-color="#801f00"/><stop offset="0.5" stop-color="#9f1f00"/><stop offset="0.5" stop-color="#601f00"/><stop offset="1" stop-color="#801f00"/></radialGradient>
<radialGradient id="g103" href="#r31_4" cx="371.41" cy="153.34" r="2.2"/>
<linearGradient id="g104" href="#c31" x1="243.65" y1="167.17" x2="242.1" y2="168.29"/>
<linearGradient id="g105" href="#c31" x1="244.36" y1="178.26" x2="242.31" y2="176.87"/>
<linearGradient id="g106" href="#c31" x1="243.37" y1="187.64" x2="241.67" y2="186.4"/>
<radialGradient id="r31_5" gradientUnits="userSpaceOnUse" spreadMethod="repeat"><stop offset="0" stop-color="#871f00"/><stop offset="0.38" stop-color="#9f1f00"/><stop offset="0.38" stop-color="#601f00"/><stop offset="1" stop-color="#871f00"/></radialGradient>
<radialGradient id="g107" href="#r31_5" cx="218.01" cy="201.34" r="3.6"/>
<linearGradient id="g108" href="#c31" x1="241.88" y1="208.78" x2="244.18" y2="209.61"/>
<linearGradient id="g109" href="#c31" x1="243.18" y1="216.55" x2="241.38" y2="215.09"/>
<linearGradient id="g110" href="#c31" x1="242.03" y1="223.37" x2="243.65" y2="222.11"/>
<linearGradient id="g111" href="#c31" x1="243.2" y1="228.34" x2="241.5" y2="227.51"/>
<linearGradient id="g112" href="#c31" x1="243.42" y1="234.59" x2="241.59" y2="235.41"/>
<linearGradient id="g113" href="#c31" x1="242.96" y1="243.14" x2="241.08" y2="242.57"/>
<linearGradient id="g114" href="#c31" x1="241.37" y1="255.7" x2="242.89" y2="254.76"/>
<linearGradient id="g115" href="#c64" x1="242.98" y1="260.84" x2="240.65" y2="261.63"/>
<linearGradient id="g116" href="#c64" x1="244.19" y1="265.56" x2="242.23" y2="266.07"/>
<linearGradient id="c38" gradientUnits="userSpaceOnUse" spreadMethod="repeat"><stop offset="0" stop-color="#602600"/><stop offset="1" stop-color="#9f2600"/></linearGradient>
<linearGradient id="g117" href="#c38" x1="243.76" y1="271.15" x2="242.14" y2="272.24"/>
<linearGradient id="g118" href="#c38" x1="244.2" y1="276.97" x2="242.43" y2="275.96"/>
<radialGradient id="r46_2" gradientUnits="userSpaceOnUse" spreadMethod="repeat"><stop offset="0" stop-color="#702e00"/><stop offset="0.75" stop-color="#9f2e00"/><stop offset="0.75" stop-color="#602e00"/><stop offset="1" stop-color="#702e00"/></radialGradient>
<radialGradient id="g119" href="#r46_2" cx="308.29" cy="283.02" r="2.2"/>
<linearGradient id="g120" href="#c46" x1="241.47" y1="299.26" x2="242.83" y2="300.24"/>
<linearGradient id="g121" href="#c64" x1="243.19" y1="306.54" x2="241.4" y2="307.74"/>
<linearGradient id="g122" href="#c64" x1="242.78" y1="314.87" x2="241.06" y2="315.67"/>
<radialGradient id="r38_2" gradientUnits="userSpaceOnUse" spreadMethod="repeat"><stop offset="0" stop-color="#702600"/><stop offset="0.75" stop-color="#9f2600"/><stop offset="0.75" stop-color="#602600"/><stop offset="1" stop-color="#702600"/></radialGradient>
<radialGradient id="g123" href="#r38_2" cx="82" cy="329.08" r="2.05"/>
<linearGradient id="g124" href="#c38" x1="242.41" y1="336.94" x2="244.18" y2="338.15"/>
<radialGradient id="r38_0" gradientUnits="userSpaceOnUse" spreadMethod="repeat"><stop offset="0" stop-color="#602600"/><stop offset="1" stop-color="#9f2600"/></radialGradient>
<radialGradient id="g125" href="#r38_0" cx="127.58" cy="343.14" r="2.7"/>
<linearGradient id="c51" gradientUnits="userSpaceOnUse" spreadMethod="repeat"><stop offset="0" stop-color="#603300"/><stop offset="1" stop-color="#9f3300"/></linearGradient>
<linearGradient id="g126" href="#c51" x1="242.73" y1="348.8" x2="241.01" y2="350.29"/>
<radialGradient id="r76_2" gradientUnits="userSpaceOnUse" spreadMethod="repeat"><stop offset="0" stop-color="#704c00"/><stop offset="0.75" stop-color="#9f4c00"/><stop offset="0.75" stop-color="#604c00"/><stop offset="1" stop-color="#704c00"/></radialGradient>
<radialGradient id="g127" href="#r76_2" cx="305.21" cy="353.66" r="3.1"/>
<radialGradient id="g128" href="#r76_4" cx="361.03" cy="363.02" r="2.2"/>
<radialGradient id="r64_1" gradientUnits="userSpaceOnUse" spreadMethod="repeat"><stop offset="0" stop-color="#684000"/><stop offset="0.88" stop-color="#9f4000"/><stop offset="0.88" stop-color="#604000"/><stop offset="1" stop-color="#684000"/></radialGradient>
<radialGradient id="g129" href="#r64_1" cx="196.98" cy="377.99" r="2.4"/>
<linearGradient id="g130" href="#c102" x1="242.06" y1="379.26" x2="244.29" y2="377.95"/>
<linearGradient id="g131" href="#c64" x1="241.35" y1="382.26" x2="243.34" y2="381.81"/>
<linearGradient id="g132" href="#c76" x1="244.04" y1="390.38" x2="241.8" y2="391.28"/>
<linearGradient id="g133" href="#c64" x1="242.57" y1="402.05" x2="241.16" y2="401.06"/>
<linearGradient id="g134" href="#c64" x1="245.16" y1="409.77" x2="242.39" y2="408.97"/>
<radialGradient id="g135" href="#r64_1" cx="426.9" cy="415.6" r="3.6"/>
<radialGradient id="g136" href="#r76_5" cx="306.42" cy="444.1" r="2.4"/>
<linearGradient id="g137" href="#c64" x1="241.99" y1="437.39" x2="243.37" y2="436.33"/>
<radialGradient id="g138" href="#r76_6" cx="167.34" cy="455.07" r="2.2"/>
<linearGradient id="g139" href="#c64" x1="243.49" y1="449.68" x2="241.73" y2="448.47"/>
<linearGradient id="g140" href="#c102" x1="244.6" y1="452.51" x2="242.15" y2="451.91"/>
<linearGradient id="g141" href="#c102" x1="243.11" y1="461.23" x2="240.83" y2="460.38"/>
<linearGradient id="g142" href="#c64" x1="244.05" y1="471.11" x2="242.39" y2="472.06"/>
<radialGradient id="r46_3" gradientUnits="userSpaceOnUse" spreadMethod="repeat"><stop offset="0" stop-color="#782e00"/><stop offset="0.62" stop-color="#9f2e00"/><stop offset="0.62" stop-color="#602e00"/><stop offset="1" stop-color="#782e00"/></radialGradient>
<radialGradient id="g143" href="#r46_3" cx="458.59" cy="484.45" r="2.4"/>
<radialGradient id="r46_6" gradientUnits="userSpaceOnUse" spreadMethod="repeat"><stop offset="0" stop-color="#8f2e00"/><stop offset="0.25" stop-color="#9f2e00"/><stop offset="0.25" stop-color="#602e00"/><stop offset="1" stop-color="#8f2e00"/></radialGradient>
<radialGradient id="g144" href="#r46_6" cx="415.22" cy="498.19" r="2.4"/>
<radialGradient id="g145" href="#r46_6" cx="95.28" cy="495.32" r="3.6"/>
<radialGradient id="r46_7" gradientUnits="userSpaceOnUse" spreadMethod="repeat"><stop offset="0" stop-color="#972e00"/><stop offset="0.12" stop-color="#9f2e00"/><stop offset="0.12" stop-color="#602e00"/><stop offset="1" stop-color="#972e00"/></radialGradient>
<radialGradient id="g146" href="#r46_7" cx="189.03" cy="501.81" r="2.05"/>
<linearGradient id="g147" href="#c46" x1="242.24" y1="514.78" x2="243.98" y2="516.26"/>
<radialGradient id="r46_0" gradientUnits="userSpaceOnUse" spreadMethod="repeat"><stop offset="0" stop-color="#602e00"/><stop offset="1" stop-color="#9f2e00"/></radialGradient>
<radialGradient id="g148" href="#r46_0" cx="211.17" cy="524.17" r="2.2"/>
<linearGradient id="g149" href="#c76" x1="243.15" y1="521.78" x2="241.27" y2="522.42"/>
<linearGradient id="g150" href="#c64" x1="243.31" y1="533.28" x2="241.34" y2="532.6"/>
<radialGradient id="g151" href="#r76_0" cx="169.64" cy="536.26" r="2.2"/>
<linearGradient id="g152" href="#c64" x1="242.89" y1="546.17" x2="240.7" y2="545.22"/>
<radialGradient id="r64_0" gradientUnits="userSpaceOnUse" spreadMethod="repeat"><stop offset="0" stop-color="#604000"/><stop offset="1" stop-color="#9f4000"/></radialGradient>
<radialGradient id="g153" href="#r64_0" cx="112.39" cy="559.02" r="3.6"/>
<radialGradient id="r64_3" gradientUnits="userSpaceOnUse" spreadMethod="repeat"><stop offset="0" stop-color="#784000"/><stop offset="0.62" stop-color="#9f4000"/><stop offset="0.62" stop-color="#604000"/><stop offset="1" stop-color="#784000"/></radialGradient>
<radialGradient id="g154" href="#r64_3" cx="215.91" cy="547.86" r="2.05"/>
<radialGradient id="r64_5" gradientUnits="userSpaceOnUse" spreadMethod="repeat"><stop offset="0" stop-color="#874000"/><stop offset="0.38" stop-color="#9f4000"/><stop offset="0.38" stop-color="#604000"/><stop offset="1" stop-color="#874000"/></radialGradient>
<radialGradient id="g155" href="#r64_5" cx="193.31" cy="572.68" r="2.2"/>
<radialGradient id="g156" href="#r76_3" cx="453.23" cy="561.14" r="3.6"/>
<linearGradient id="g157" href="#c76" x1="241.84" y1="568.16" x2="244.06" y2="567.61"/>
<linearGradient id="g158" href="#c102" x1="241.18" y1="579.22" x2="242.73" y2="580.14"/>
<linearGradient id="g159" href="#c46" x1="242.98" y1="585.27" x2="241.2" y2="584.26"/>
<linearGradient id="g160" href="#c46" x1="242.15" y1="592.27" x2="244.04" y2="590.82"/>
<linearGradient id="g161" href="#c46" x1="243.99" y1="594.43" x2="242.16" y2="595.13"/>
<radialGradient id="g162" href="#r46_1" cx="303.75" cy="614.47" r="3.6"/>
<linearGradient id="g163" href="#c46" x1="243.12" y1="610.46" x2="241.71" y2="609.41"/>
<linearGradient id="g164" href="#c46" x1="244.41" y1="613.2" x2="241.86" y2="614.27"/>
<linearGradient id="g165" href="#c102" x1="243.21" y1="617.3" x2="240.66" y2="616.22"/>
<linearGradient id="g166" href="#c76" x1="241.64" y1="629.6" x2="243.02" y2="628.64"/>
<linearGradient id="g167" href="#c102" x1="243.13" y1="638.26" x2="240.57" y2="637.2"/>
<radialGradient id="g168" href="#r46_1" cx="424.75" cy="642.82" r="3.1"/>
<linearGradient id="g169" href="#c76" x1="241.55" y1="650.61" x2="244.11" y2="651.67"/>
<radialGradient id="g170" href="#r76_0" cx="143.49" cy="659.33" r="2.4"/>
<radialGradient id="g171" href="#r46_1" cx="115.85" cy="683.54" r="2.7"/>
<linearGradient id="g172" href="#c76" x1="241.48" y1="676.24" x2="243.47" y2="675.77"/>
<linearGradient id="g173" href="#c102" x1="242.67" y1="681.9" x2="241.11" y2="682.82"/>
<radialGradient id="g174" href="#r46_1" cx="95.44" cy="693.96" r="2.4"/>
<linearGradient id="g175" href="#c46" x1="241.46" y1="698.32" x2="243.29" y2="699.51"/>
<linearGradient id="g176" href="#c64" x1="242.44" y1="703.97" x2="244.37" y2="704.87"/>
<radialGradient id="r64_4" gradientUnits="userSpaceOnUse" spreadMethod="repeat"><stop offset="0" stop-color="#804000"/><stop offset="0.5" stop-color="#9f4000"/><stop offset="0.5" stop-color="#604000"/><stop offset="1" stop-color="#804000"/></radialGradient>
<radialGradient id="g177" href="#r64_4" cx="83.83" cy="719.02" r="3.6"/>
<radialGradient id="g178" href="#r102_0" cx="71.72" cy="715.71" r="3.6"/>
<linearGradient id="g179" href="#c128" x1="298.16" y1="80.64" x2="296.2" y2="81.25"/>
<linearGradient id="g180" href="#c102" x1="298.42" y1="86.54" x2="296.87" y2="88.14"/>
<radialGradient id="g181" href="#r102_7" cx="350.51" cy="109.95" r="3.6"/>
<linearGradient id="g182" href="#c128" x1="294" y1="101.93" x2="297.28" y2="100.91"/>
<radialGradient id="g183" href="#r153_4" cx="212.75" cy="115.51" r="2.05"/>
<radialGradient id="r178_2" gradientUnits="userSpaceOnUse" spreadMethod="repeat"><stop offset="0" stop-color="#70b200"/><stop offset="0.75" stop-color="#9fb200"/><stop offset="0.75" stop-color="#60b200"/><stop offset="1" stop-color="#70b200"/></radialGradient>
<radialGradient id="g184" href="#r178_2" cx="172.13" cy="105.78" r="3.1"/>
<linearGradient id="g185" href="#c102" x1="297.55" y1="122.21" x2="295.37" y2="121.37"/>
<radialGradient id="g186" href="#r153_3" cx="371.58" cy="138.82" r="3.6"/>
<linearGradient id="g187" href="#c128" x1="298.17" y1="130.09" x2="296.18" y2="131.64"/>
<radialGradient id="r128_4" gradientUnits="userSpaceOnUse" spreadMethod="repeat"><stop offset="0" stop-color="#808000"/><stop offset="0.5" stop-color="#9f8000"/><stop offset="0.5" stop-color="#608000"/><stop offset="1" stop-color="#808000"/></radialGradient>
<radialGradient id="g188" href="#r128_4" cx="446.23" cy="149.4" r="2.7"/>
<linearGradient id="g189" href="#c178" x1="294.14" y1="148.39" x2="297.05" y2="146.98"/>
<linearGradient id="g190" href="#c128" x1="297.16" y1="154.08" x2="294.61" y2="152.8"/>
<linearGradient id="g191" href="#c153" x1="298.53" y1="159.48" x2="296.61" y2="160.13"/>
<radialGradient id="g192" href="#r128_6" cx="251.31" cy="162.79" r="2.05"/>
<radialGradient id="r128_2" gradientUnits="userSpaceOnUse" spreadMethod="repeat"><stop offset="0" stop-color="#708000"/><stop offset="0.75" stop-color="#9f8000"/><stop offset="0.75" stop-color="#608000"/><stop offset="1" stop-color="#708000"/></radialGradient>
<radialGradient id="g193" href="#r128_2" cx="339.86" cy="195.85" r="2.05"/>
<linearGradient id="g194" href="#c153" x1="298.34" y1="190.31" x2="296.19" y2="188.21"/>
<radialGradient id="g195" href="#r76_0" cx="225.87" cy="213.92" r="2.05"/>
<radialGradient id="r178_0" gradientUnits="userSpaceOnUse" spreadMethod="repeat"><stop offset="0" stop-color="#60b200"/><stop offset="1" stop-color="#9fb200"/></radialGradient>
<radialGradient id="g196" href="#r178_0" cx="103.02" cy="198.15" r="3.1"/>
<radialGradient id="g197" href="#r153_1" cx="491.47" cy="223.29" r="2.7"/>
<linearGradient id="g198" href="#c153" x1="298.6" y1="216.53" x2="295.36" y2="215.46"/>
<radialGradient id="g199" href="#r128_5" cx="235.15" cy="211.68" r="3.1"/>
<radialGradient id="r178_7" gradientUnits="userSpaceOnUse" spreadMethod="repeat"><stop offset="0" stop-color="#97b200"/><stop offset="0.12" stop-color="#9fb200"/><stop offset="0.12" stop-color="#60b200"/><stop offset="1" stop-color="#97b200"/></radialGradient>
<radialGradient id="g200" href="#r178_7" cx="129.82" cy="220.73" r="2.05"/>
<linearGradient id="g201" href="#c76" x1="298.27" y1="237.76" x2="296.21" y2="236.53"/>
<radialGradient id="g202" href="#r128_5" cx="182.39" cy="258.63" r="3.1"/>
<linearGradient id="g203" href="#c102" x1="296.52" y1="258.66" x2="297.88" y2="259.63"/>
<radialGradient id="g204" href="#r178_6" cx="128.55" cy="265.46" r="2.05"/>
<linearGradient id="g205" href="#c128" x1="296.38" y1="274.76" x2="298.07" y2="272.7"/>
<radialGradient id="g206" href="#r128_0" cx="342.62" cy="292.14" r="3.1"/>
<linearGradient id="g207" href="#c102" x1="296.46" y1="286.44" x2="298.2" y2="288.24"/>
<linearGradient id="g208" href="#c128" x1="297.13" y1="299.05" x2="295.36" y2="298.35"/>
<radialGradient id="g209" href="#r178_0" cx="479.34" cy="313.31" r="3.6"/>
<radialGradient id="r153_5" gradientUnits="userSpaceOnUse" spreadMethod="repeat"><stop offset="0" stop-color="#879900"/><stop offset="0.38" stop-color="#9f9900"/><stop offset="0.38" stop-color="#609900"/><stop offset="1" stop-color="#879900"/></radialGradient>
<radialGradient id="g210" href="#r153_5" cx="501.88" cy="308.1" r="2.4"/>
<linearGradient id="g211" href="#c76" x1="294.33" y1="323.27" x2="297.31" y2="324.08"/>
<linearGradient id="g212" href="#c153" x1="297.94" y1="335.63" x2="296.22" y2="334.47"/>
<linearGradient id="g213" href="#c128" x1="296.17" y1="347.51" x2="297.98" y2="346.39"/>
<linearGradient id="g214" href="#c102" x1="298.96" y1="357.31" x2="296.11" y2="358.31"/>
<linearGradient id="g215" href="#c128" x1="298.06" y1="363.69" x2="295.76" y2="364.36"/>
<radialGradient id="g216" href="#r102_4" cx="451.17" cy="371.84" r="2.2"/>
<linearGradient id="g217" href="#c153" x1="296.65" y1="378.49" x2="297.99" y2="380.44"/>
<linearGradient id="g218" href="#c128" x1="296.71" y1="383.93" x2="298.66" y2="384.39"/>
<radialGradient id="g219" href="#r153_3" cx="210.8" cy="399.49" r="2.4"/>
<radialGradient id="g220" href="#r102_4" cx="114.42" cy="402.32" r="2.2"/>
<linearGradient id="g221" href="#c128" x1="295.14" y1="406.64" x2="297.37" y2="405.87"/>
<radialGradient id="g222" href="#r153_1" cx="376.79" cy="423.3" r="2.4"/>
<radialGradient id="g223" href="#r178_6" cx="434.34" cy="414.86" r="3.6"/>
<radialGradient id="g224" href="#r153_0" cx="380.54" cy="449.81" r="2.2"/>
<linearGradient id="g225" href="#c102" x1="296.05" y1="443.33" x2="298.86" y2="445.31"/>
<radialGradient id="g226" href="#r153_6" cx="349.08" cy="458.95" r="3.1"/>
<linearGradient id="g227" href="#c128" x1="298.35" y1="463.81" x2="295.7" y2="462.22"/>
<linearGradient id="g228" href="#c153" x1="297.62" y1="465.53" x2="296.16" y2="466.64"/>
<radialGradient id="r102_5" gradientUnits="userSpaceOnUse" spreadMethod="repeat"><stop offset="0" stop-color="#876600"/><stop offset="0.38" stop-color="#9f6600"/><stop offset="0.38" stop-color="#606600"/><stop offset="1" stop-color="#876600"/></radialGradient>
<radialGradient id="g229" href="#r102_5" cx="467.03" cy="482.96" r="2.7"/>
<linearGradient id="g230" href="#c178" x1="296.08" y1="478.3" x2="297.54" y2="479.41"/>
<linearGradient id="g231" href="#c153" x1="295.61" y1="488.13" x2="297.78" y2="486.37"/>
<radialGradient id="g232" href="#r102_7" cx="370.61" cy="489.82" r="2.7"/>
<linearGradient id="g233" href="#c178" x1="294.52" y1="505.17" x2="297.95" y2="503.55"/>
<linearGradient id="g234" href="#c178" x1="298.01" y1="511.57" x2="296.27" y2="512.31"/>
<linearGradient id="g235" href="#c102" x1="298.19" y1="518.63" x2="295.91" y2="519.34"/>
<radialGradient id="g236" href="#r102_0" cx="154.11" cy="535.45" r="2.2"/>
<radialGradient id="g237" href="#r178_5" cx="337.6" cy="548.69" r="3.1"/>
<radialGradient id="g238" href="#r178_4" cx="337.31" cy="551.71" r="3.1"/>
<linearGradient id="g239" href="#c102" x1="296.37" y1="546.22" x2="298.59" y2="545.44"/>
<radialGradient id="g240" href="#r102_4" cx="162.24" cy="572.89" r="3.1"/>
<linearGradient id="g241" href="#c178" x1="296.5" y1="566.55" x2="298.4" y2="564.46"/>
<linearGradient id="g242" href="#c128" x1="295.64" y1="578.98" x2="297.05" y2="577.96"/>
<linearGradient id="g243" href="#c76" x1="298.63" y1="581.83" x2="296.98" y2="583.02"/>
<linearGradient id="g244" href="#c153" x1="296.88" y1="589.04" x2="300.02" y2="587.84"/>
<radialGradient id="g245" href="#r102_5" cx="263.75" cy="590.58" r="2.4"/>
<linearGradient id="g246" href="#c178" x1="298.42" y1="600.53" x2="296.23" y2="599.71"/>
<linearGradient id="g247" href="#c128" x1="299.3" y1="611.03" x2="296.92" y2="612.03"/>
<linearGradient id="g248" href="#c76" x1="296.35" y1="624.45" x2="298.23" y2="623.14"/>
<linearGradient id="g249" href="#c76" x1="296.61" y1="634.88" x2="298.57" y2="635.49"/>
<linearGradient id="g250" href="#c153" x1="296.07" y1="645.59" x2="298.07" y2="644.32"/>
<linearGradient id="g251" href="#c102" x1="298.33" y1="655.33" x2="296.34" y2="656.33"/>
<radialGradient id="r153_7" gradientUnits="userSpaceOnUse" spreadMethod="repeat"><stop offset="0" stop-color="#979900"/><stop offset="0.12" stop-color="#9f9900"/><stop offset="0.12" stop-color="#609900"/><stop offset="1" stop-color="#979900"/></radialGradient>
<radialGradient id="g252" href="#r153_7" cx="490.38" cy="680.79" r="2.7"/>
<linearGradient id="g253" href="#c102" x1="295.35" y1="680.85" x2="297.33" y2="679.83"/>
<linearGradient id="g254" href="#c102" x1="295.64" y1="683.64" x2="299.08" y2="682.02"/>
<linearGradient id="g255" href="#c102" x1="298.56" y1="691.29" x2="296.06" y2="689.23"/>
<linearGradient id="g256" href="#c153" x1="297.33" y1="694.13" x2="294.54" y2="693.06"/>
<radialGradient id="g257" href="#r76_6" cx="234.19" cy="709.47" r="2.2"/>
<radialGradient id="g258" href="#r102_5" cx="269.28" cy="721.27" r="2.05"/>
<linearGradient id="c89" gradientUnits="userSpaceOnUse" spreadMethod="repeat"><stop offset="0" stop-color="#605900"/><stop offset="1" stop-color="#9f5900"/></linearGradient>
<linearGradient id="g259" href="#c89" x1="156.23" y1="85" x2="64.49" y2="85"/>
<linearGradient id="g260" href="#c76" x1="156.23" y1="111" x2="64.49" y2="111"/>
<linearGradient id="c56" gradientUnits="userSpaceOnUse" spreadMethod="repeat"><stop offset="0" stop-color="#603800"/><stop offset="1" stop-color="#9f3800"/></linearGradient>
<linearGradient id="g261" href="#c56" x1="156.23" y1="134" x2="64.49" y2="134"/>
<linearGradient id="c26" gradientUnits="userSpaceOnUse" spreadMethod="repeat"><stop offset="0" stop-color="#601a00"/><stop offset="1" stop-color="#9f1a00"/></linearGradient>
<linearGradient id="g262" href="#c26" x1="156.23" y1="143" x2="64.49" y2="143"/>
<linearGradient id="c41" gradientUnits="userSpaceOnUse" spreadMethod="repeat"><stop offset="0" stop-color="#602900"/><stop offset="1" stop-color="#9f2900"/></linearGradient>
<linearGradient id="g263" href="#c41" x1="156.23" y1="221" x2="64.49" y2="221"/>
<linearGradient id="g264" href="#c51" x1="156.23" y1="251" x2="64.49" y2="251"/>
<linearGradient id="g265" href="#c76" x1="156.23" y1="297" x2="64.49" y2="297"/>
<linearGradient id="g266" href="#c64" x1="156.23" y1="303" x2="64.49" y2="303"/>
<linearGradient id="g267" href="#c89" x1="148.89" y1="483" x2="57.15" y2="483"/>
<linearGradient id="g268" href="#c128" x1="156.23" y1="491" x2="64.49" y2="491"/>
<linearGradient id="c36" gradientUnits="userSpaceOnUse" spreadMethod="repeat"><stop offset="0" stop-color="#602400"/><stop offset="1" stop-color="#9f2400"/></linearGradient>
<linearGradient id="g269" href="#c36" x1="146.14" y1="496" x2="54.39" y2="496"/>
<linearGradient id="c107" gradientUnits="userSpaceOnUse" spreadMethod="repeat"><stop offset="0" stop-color="#606b00"/><stop offset="1" stop-color="#9f6b00"/></linearGradient>
<linearGradient id="g270" href="#c107" x1="149.81" y1="585" x2="58.06" y2="585"/>
<linearGradient id="g271" href="#c128" x1="149.81" y1="599" x2="58.06" y2="599"/>
<linearGradient id="c115" gradientUnits="userSpaceOnUse" spreadMethod="repeat"><stop offset="0" stop-color="#607300"/><stop offset="1" stop-color="#9f7300"/></linearGradient>
<linearGradient id="g272" href="#c115" x1="149.81" y1="606" x2="58.06" y2="606"/>
<linearGradient id="g273" href="#c56" x1="156.23" y1="644" x2="64.49" y2="644"/>
<linearGradient id="g274" href="#c56" x1="156.23" y1="671" x2="64.49" y2="671"/>
<linearGradient id="g275" href="#c56" x1="156.23" y1="698" x2="64.49" y2="698"/>
<linearGradient id="g276" href="#c64" x1="167.24" y1="152" x2="75.5" y2="152"/>
<linearGradient id="g277" href="#c76" x1="147.06" y1="166" x2="55.31" y2="166"/>
<linearGradient id="g278" href="#c128" x1="197.51" y1="189" x2="105.77" y2="189"/>
<linearGradient id="g279" href="#c76" x1="165.4" y1="197" x2="73.66" y2="197"/>
<linearGradient id="g280" href="#c76" x1="145.22" y1="210" x2="53.48" y2="210"/>
<linearGradient id="g281" href="#c102" x1="183.75" y1="229" x2="92.01" y2="229"/>
<linearGradient id="g282" href="#c102" x1="174.58" y1="233" x2="82.83" y2="233"/>
<linearGradient id="g283" href="#c38" x1="173.66" y1="497" x2="81.92" y2="497"/>
<linearGradient id="g284" href="#c115" x1="164.49" y1="502" x2="72.74" y2="502"/>
<linearGradient id="g285" href="#c38" x1="171.83" y1="504" x2="80.08" y2="504"/>
<linearGradient id="g286" href="#c38" x1="166.32" y1="508" x2="74.58" y2="508"/>
<linearGradient id="g287" href="#c46" x1="178.25" y1="510" x2="86.5" y2="510"/>
<linearGradient id="g288" href="#c38" x1="169.07" y1="513" x2="77.33" y2="513"/>
<linearGradient id="g289" href="#c102" x1="199.81" y1="256" x2="108.06" y2="256"/>
<linearGradient id="g290" href="#c64" x1="132.37" y1="263.7" x2="128.21" y2="282.79"/>
<linearGradient id="g291" href="#c128" x1="133.14" y1="284.11" x2="122.44" y2="313.56"/>
<linearGradient id="g292" href="#c76" x1="144.19" y1="280.75" x2="129.53" y2="314.36"/>
<linearGradient id="g293" href="#c115" x1="134.21" y1="322.17" x2="123.51" y2="351.61"/>
<linearGradient id="g294" href="#c102" x1="135.06" y1="323.71" x2="126.04" y2="351.03"/>
<linearGradient id="g295" href="#c31" x1="242.03" y1="134" x2="245.34" y2="134"/>
<linearGradient id="g296" href="#c31" x1="240.38" y1="135" x2="243.65" y2="135"/>
<linearGradient id="g297" href="#c31" x1="240.3" y1="137" x2="243.65" y2="137"/>
<linearGradient id="g298" href="#c31" x1="241.27" y1="138" x2="244.79" y2="138"/>
<linearGradient id="g299" href="#c31" x1="239.63" y1="140" x2="243.12" y2="140"/>
<linearGradient id="g300" href="#c31" x1="240.9" y1="141" x2="244.35" y2="141"/>
<linearGradient id="g301" href="#c31" x1="240.91" y1="143" x2="244.41" y2="143"/>
<linearGradient id="g302" href="#c31" x1="239.7" y1="144" x2="243.3" y2="144"/>
<linearGradient id="g303" href="#c31" x1="241.17" y1="145" x2="244.7" y2="145"/>
<linearGradient id="g304" href="#c31" x1="241.78" y1="146" x2="245.31" y2="146"/>
<linearGradient id="g305" href="#c31" x1="241.2" y1="147" x2="244.78" y2="147"/>
<linearGradient id="g306" href="#c31" x1="241.85" y1="148" x2="245.62" y2="148"/>
<linearGradient id="g307" href="#c31" x1="239.98" y1="149" x2="243.65" y2="149"/>
<linearGradient id="g308" href="#c31" x1="241.44" y1="150" x2="245.27" y2="150"/>
<linearGradient id="g309" href="#c31" x1="242.09" y1="151" x2="245.9" y2="151"/>
<linearGradient id="g310" href="#c31" x1="242.21" y1="152" x2="246.03" y2="152"/>
<linearGradient id="g311" href="#c31" x1="240.61" y1="153" x2="244.29" y2="153"/>
<linearGradient id="g312" href="#c31" x1="241.62" y1="154" x2="245.49" y2="154"/>
<linearGradient id="g313" href="#c31" x1="242.16" y1="155" x2="245.99" y2="155"/>
<linearGradient id="g314" href="#c31" x1="240.38" y1="156" x2="244.32" y2="156"/>
<linearGradient id="g315" href="#c31" x1="239.79" y1="157" x2="243.77" y2="157"/>
<linearGradient id="g316" href="#c31" x1="241.58" y1="158" x2="245.42" y2="158"/>
<linearGradient id="g317" href="#c31" x1="239.11" y1="159" x2="243.08" y2="159"/>
<linearGradient id="g318" href="#c31" x1="241.58" y1="160" x2="245.63" y2="160"/>
<linearGradient id="g319" href="#c31" x1="241.28" y1="161" x2="245.33" y2="161"/>
<linearGradient id="g320" href="#c31" x1="239.25" y1="163" x2="243.38" y2="163"/>
<linearGradient id="g321" href="#c31" x1="240.63" y1="164" x2="244.91" y2="164"/>
<linearGradient id="g322" href="#c31" x1="241.17" y1="165" x2="245.65" y2="165"/>
<linearGradient id="g323" href="#c31" x1="241.12" y1="166" x2="245.88" y2="166"/>
<linearGradient id="g324" href="#c31" x1="241.07" y1="167" x2="246.14" y2="167"/>
<linearGradient id="g325" href="#c31" x1="239.48" y1="168" x2="244.6" y2="168"/>
<linearGradient id="g326" href="#c31" x1="237" y1="169" x2="242.65" y2="169"/>
<linearGradient id="g327" href="#c31" x1="239.33" y1="170" x2="245.15" y2="170"/>
<linearGradient id="g328" href="#c31" x1="239.75" y1="171" x2="245.98" y2="171"/>
<linearGradient id="g329" href="#c31" x1="238.25" y1="172" x2="245.11" y2="172"/>
<linearGradient id="g330" href="#c31" x1="240.34" y1="173" x2="247.56" y2="173"/>
<linearGradient id="g331" href="#c31" x1="236.61" y1="174" x2="244.96" y2="174"/>
<linearGradient id="g332" href="#c31" x1="238.3" y1="176" x2="248.26" y2="176"/>
<linearGradient id="g333" href="#c31" x1="240.52" y1="177" x2="253.76" y2="177"/>
<linearGradient id="g334" href="#c31" x1="238.75" y1="178" x2="254.98" y2="178"/>
<linearGradient id="g335" href="#c31" x1="231.43" y1="179" x2="253.59" y2="179"/>
<linearGradient id="g336" href="#c31" x1="233.47" y1="180" x2="261.74" y2="180"/>
<linearGradient id="g337" href="#c31" x1="215.68" y1="181" x2="247.43" y2="181"/>
<linearGradient id="g338" href="#c31" x1="221.94" y1="182" x2="263.79" y2="182"/>
<linearGradient id="g339" href="#c31" x1="46.94" y1="183" x2="285.89" y2="183"/>
<linearGradient id="g340" href="#c31" x1="318.44" y1="184" x2="213.25" y2="184"/>
<linearGradient id="g341" href="#c31" x1="247.15" y1="185" x2="178.02" y2="185"/>
<linearGradient id="g342" href="#c31" x1="273.49" y1="186" x2="238.26" y2="186"/>
<linearGradient id="g343" href="#c31" x1="260.22" y1="187" x2="209.45" y2="187"/>
<linearGradient id="g344" href="#c31" x1="26.11" y1="188" x2="276.11" y2="188"/>
<linearGradient id="g345" href="#c31" x1="132.28" y1="189" x2="307.02" y2="189"/>
<linearGradient id="g346" href="#c31" x1="227.33" y1="190" x2="268.28" y2="190"/>
<linearGradient id="g347" href="#c31" x1="240.82" y1="191" x2="277.07" y2="191"/>
<linearGradient id="g348" href="#c31" x1="229.2" y1="192" x2="250.18" y2="192"/>
<linearGradient id="g349" href="#c31" x1="242.11" y1="193" x2="256.16" y2="193"/>
<linearGradient id="g350" href="#c31" x1="242.16" y1="194" x2="254.14" y2="194"/>
<linearGradient id="g351" href="#c31" x1="239.64" y1="195" x2="250.45" y2="195"/>
<linearGradient id="g352" href="#c31" x1="238.1" y1="196" x2="246.53" y2="196"/>
<linearGradient id="g353" href="#c31" x1="237.1" y1="197" x2="244.84" y2="197"/>
<linearGradient id="g354" href="#c31" x1="237.46" y1="198" x2="244.45" y2="198"/>
<linearGradient id="g355" href="#c31" x1="237.65" y1="199" x2="243.45" y2="199"/>
<linearGradient id="g356" href="#c31" x1="237.67" y1="200" x2="243.08" y2="200"/>
<linearGradient id="g357" href="#c31" x1="238.83" y1="201" x2="243.81" y2="201"/>
<linearGradient id="g358" href="#c31" x1="240.76" y1="202" x2="245.62" y2="202"/>
<linearGradient id="g359" href="#c31" x1="238.52" y1="204" x2="242.65" y2="204"/>
<linearGradient id="g360" href="#c31" x1="240.37" y1="206" x2="244.16" y2="206"/>
<linearGradient id="g361" href="#c31" x1="241.77" y1="207" x2="245.47" y2="207"/>
<linearGradient id="g362" href="#c31" x1="239.04" y1="208" x2="242.68" y2="208"/>
<linearGradient id="g363" href="#c31" x1="240.35" y1="209" x2="243.92" y2="209"/>
<linearGradient id="g364" href="#c31" x1="241.85" y1="210" x2="245.31" y2="210"/>
<linearGradient id="g365" href="#c31" x1="241.11" y1="211" x2="244.6" y2="211"/>
<linearGradient id="g366" href="#c31" x1="240.15" y1="212" x2="243.48" y2="212"/>
<linearGradient id="g367" href="#c31" x1="242.43" y1="213" x2="245.79" y2="213"/>
<linearGradient id="g368" href="#c31" x1="240.6" y1="214" x2="243.85" y2="214"/>
<linearGradient id="g369" href="#c31" x1="242.07" y1="215" x2="245.4" y2="215"/>
<linearGradient id="g370" href="#c31" x1="241.88" y1="216" x2="245.01" y2="216"/>
<linearGradient id="g371" href="#c31" x1="241.32" y1="217" x2="244.47" y2="217"/>
<linearGradient id="g372" href="#c31" x1="240.2" y1="222" x2="243.27" y2="222"/>
<linearGradient id="g373" href="#c31" x1="242.2" y1="223" x2="245.13" y2="223"/>
<linearGradient id="g374" href="#c31" x1="241.6" y1="225" x2="244.5" y2="225"/>
<linearGradient id="g375" href="#c31" x1="240.85" y1="226" x2="243.77" y2="226"/>
<linearGradient id="g376" href="#c31" x1="241.38" y1="227" x2="244.24" y2="227"/>
<linearGradient id="g377" href="#c31" x1="241.45" y1="228" x2="244.28" y2="228"/>
<linearGradient id="g378" href="#c31" x1="241.46" y1="229" x2="244.28" y2="229"/>
<linearGradient id="g379" href="#c31" x1="239.8" y1="230" x2="242.67" y2="230"/>
<linearGradient id="g380" href="#c31" x1="241.32" y1="231" x2="244.11" y2="231"/>
<linearGradient id="g381" href="#c31" x1="240.22" y1="232" x2="243.05" y2="232"/>
<linearGradient id="g382" href="#c31" x1="241.9" y1="233" x2="244.77" y2="233"/>
<linearGradient id="g383" href="#c31" x1="239.76" y1="235" x2="242.6" y2="235"/>
<linearGradient id="g384" href="#c31" x1="239.79" y1="236" x2="242.51" y2="236"/>
<linearGradient id="g385" href="#c31" x1="240.21" y1="238" x2="242.91" y2="238"/>
<linearGradient id="g386" href="#c31" x1="240.11" y1="239" x2="242.83" y2="239"/>
<linearGradient id="g387" href="#c31" x1="241.2" y1="241" x2="243.89" y2="241"/>
<linearGradient id="g388" href="#c31" x1="240.24" y1="242" x2="242.98" y2="242"/>
<linearGradient id="g389" href="#c31" x1="241.99" y1="244" x2="244.66" y2="244"/>
<linearGradient id="g390" href="#c31" x1="239.94" y1="247" x2="242.58" y2="247"/>
<linearGradient id="g391" href="#c31" x1="240.93" y1="248" x2="243.53" y2="248"/>
<linearGradient id="g392" href="#c31" x1="241.95" y1="251" x2="244.47" y2="251"/>
<linearGradient id="g393" href="#c31" x1="241.4" y1="252" x2="243.94" y2="252"/>
<linearGradient id="g394" href="#c31" x1="240.6" y1="253" x2="243.16" y2="253"/>
<linearGradient id="g395" href="#c31" x1="242.43" y1="254" x2="244.9" y2="254"/>
<linearGradient id="g396" href="#c31" x1="241.45" y1="255" x2="243.96" y2="255"/>
<linearGradient id="g397" href="#c31" x1="240.58" y1="256" x2="243.11" y2="256"/>
<linearGradient id="g398" href="#c38" x1="224.5" y1="626" x2="227.26" y2="626"/>
<linearGradient id="g399" href="#c38" x1="226.09" y1="627" x2="228.94" y2="627"/>
<linearGradient id="g400" href="#c38" x1="224.07" y1="628" x2="227.06" y2="628"/>
<linearGradient id="g401" href="#c38" x1="226.13" y1="629" x2="229.17" y2="629"/>
<linearGradient id="g402" href="#c38" x1="223.93" y1="632" x2="227.36" y2="632"/>
<linearGradient id="g403" href="#c38" x1="226.2" y1="633" x2="229.68" y2="633"/>
<linearGradient id="g404" href="#c38" x1="223.23" y1="634" x2="227.01" y2="634"/>
<linearGradient id="g405" href="#c38" x1="224.92" y1="635" x2="228.89" y2="635"/>
<linearGradient id="g406" href="#c38" x1="226.66" y1="636" x2="230.8" y2="636"/>
<linearGradient id="g407" href="#c38" x1="224.75" y1="637" x2="229" y2="637"/>
<linearGradient id="g408" href="#c38" x1="225.45" y1="638" x2="230.17" y2="638"/>
<linearGradient id="g409" href="#c38" x1="222.41" y1="639" x2="227.47" y2="639"/>
<linearGradient id="g410" href="#c38" x1="221.63" y1="641" x2="227.29" y2="641"/>
<linearGradient id="g411" href="#c38" x1="224.24" y1="642" x2="230.24" y2="642"/>
<linearGradient id="g412" href="#c38" x1="220.23" y1="644" x2="228.02" y2="644"/>
<linearGradient id="g413" href="#c38" x1="223.23" y1="645" x2="232.12" y2="645"/>
<linearGradient id="g414" href="#c38" x1="219.84" y1="646" x2="229.39" y2="646"/>
<linearGradient id="g415" href="#c38" x1="223.08" y1="647" x2="234.55" y2="647"/>
<linearGradient id="g416" href="#c38" x1="221.44" y1="649" x2="238.24" y2="649"/>
<linearGradient id="g417" href="#c38" x1="225.16" y1="650" x2="255.26" y2="650"/>
<linearGradient id="g418" href="#c38" x1="179.37" y1="651" x2="252.69" y2="651"/>
<linearGradient id="g419" href="#c38" x1="-6.55" y1="652" x2="243.45" y2="652"/>
<linearGradient id="g420" href="#c38" x1="254.86" y1="653" x2="179.88" y2="653"/>
<linearGradient id="g421" href="#c38" x1="253.4" y1="654" x2="210.84" y2="654"/>
<linearGradient id="g422" href="#c38" x1="249.98" y1="655" x2="221.47" y2="655"/>
<linearGradient id="g423" href="#c38" x1="229.42" y1="656" x2="210.48" y2="656"/>
<linearGradient id="g424" href="#c38" x1="214.56" y1="658" x2="297.71" y2="658"/>
<linearGradient id="g425" href="#c38" x1="219.73" y1="659" x2="246.89" y2="659"/>
<linearGradient id="g426" href="#c38" x1="226.67" y1="660" x2="239.83" y2="660"/>
<linearGradient id="g427" href="#c38" x1="224.49" y1="661" x2="235.02" y2="661"/>
<linearGradient id="g428" href="#c38" x1="225.5" y1="662" x2="233.28" y2="662"/>
<linearGradient id="g429" href="#c38" x1="223.11" y1="663" x2="230.05" y2="663"/>
<linearGradient id="g430" href="#c38" x1="222.36" y1="666" x2="227.03" y2="666"/>
<linearGradient id="g431" href="#c38" x1="226.89" y1="667" x2="231.01" y2="667"/>
<linearGradient id="g432" href="#c38" x1="225.3" y1="668" x2="229.19" y2="668"/>
<linearGradient id="g433" href="#c38" x1="225.44" y1="671" x2="228.64" y2="671"/>
<linearGradient id="g434" href="#c38" x1="224.81" y1="672" x2="227.8" y2="672"/>
<linearGradient id="c140" gradientUnits="userSpaceOnUse" spreadMethod="repeat"><stop offset="0" stop-color="#608c00"/><stop offset="1" stop-color="#9f8c00"/></linearGradient>
<linearGradient id="g435" href="#c140" x1="113.97" y1="704" x2="135.15" y2="704"/>
<linearGradient id="g436" href="#c140" x1="125.53" y1="705" x2="140.62" y2="705"/>
<linearGradient id="g437" href="#c140" x1="137.28" y1="706" x2="96.04" y2="706"/>
<linearGradient id="g438" href="#c140" x1="157.18" y1="707" x2="122.1" y2="707"/>
<linearGradient id="g439" href="#c140" x1="140.09" y1="708" x2="107.64" y2="708"/>
<linearGradient id="g440" href="#c140" x1="132.54" y1="709" x2="109.52" y2="709"/>
<linearGradient id="g441" href="#c140" x1="139.54" y1="710" x2="97.81" y2="710"/>
<linearGradient id="g442" href="#c140" x1="117.35" y1="711" x2="135.92" y2="711"/>
<linearGradient id="g443" href="#c140" x1="129.73" y1="712" x2="183.05" y2="712"/>
<linearGradient id="g444" href="#c140" x1="108.12" y1="713" x2="171.32" y2="713"/>
<linearGradient id="g445" href="#c140" x1="84.37" y1="714" x2="137.02" y2="714"/>
<linearGradient id="g446" href="#c140" x1="89.28" y1="715" x2="339.28" y2="715"/>
<linearGradient id="g447" href="#c140" x1="176.22" y1="716" x2="109.57" y2="716"/>
<linearGradient id="g448" href="#c140" x1="141.73" y1="717" x2="127.72" y2="717"/>
<linearGradient id="c8" gradientUnits="userSpaceOnUse" spreadMethod="repeat"><stop offset="0" stop-color="#600800"/><stop offset="1" stop-color="#9f0800"/></linearGradient>
<linearGradient id="g449" href="#c8" x1="110.56" y1="355" x2="137.08" y2="355"/>
<linearGradient id="g450" href="#c8" x1="126.06" y1="356" x2="153.33" y2="356"/>
<linearGradient id="g451" href="#c8" x1="104.23" y1="357" x2="184.77" y2="357"/>
<linearGradient id="g452" href="#c8" x1="140.75" y1="359" x2="85.56" y2="359"/>
<linearGradient id="g453" href="#c8" x1="132.85" y1="360" x2="93.81" y2="360"/>
<linearGradient id="g454" href="#c8" x1="111.69" y1="361" x2="146.54" y2="361"/>
<linearGradient id="g455" href="#c8" x1="108.66" y1="362" x2="141.65" y2="362"/>
<linearGradient id="g456" href="#c8" x1="111.24" y1="363" x2="153.35" y2="363"/>
<linearGradient id="g457" href="#c8" x1="161.35" y1="365" x2="130.64" y2="365"/>
<linearGradient id="g458" href="#c8" x1="200.05" y1="366" x2="85.73" y2="366"/>
<linearGradient id="g459" href="#c8" x1="107.69" y1="367" x2="135.18" y2="367"/>
<linearGradient id="g460" href="#c8" x1="137.71" y1="368" x2="87.98" y2="368"/>
<linearGradient id="g461" href="#c8" x1="127.48" y1="370" x2="155.94" y2="370"/>
<linearGradient id="g462" href="#c8" x1="173.63" y1="372" x2="118.02" y2="372"/>
<linearGradient id="g463" href="#c8" x1="62.51" y1="373" x2="137.37" y2="373"/>
<linearGradient id="g464" href="#c8" x1="113.16" y1="374" x2="151.35" y2="374"/>
<linearGradient id="g465" href="#c8" x1="180.08" y1="375" x2="107.66" y2="375"/>
<radialGradient id="g466" href="#r178_2" cx="256.56" cy="76.36" r="2.7"/>
<radialGradient id="r153_2" gradientUnits="userSpaceOnUse" spreadMethod="repeat"><stop offset="0" stop-color="#709900"/><stop offset="0.75" stop-color="#9f9900"/><stop offset="0.75" stop-color="#609900"/><stop offset="1" stop-color="#709900"/></radialGradient>
<radialGradient id="g467" href="#r153_2" cx="594.44" cy="78.83" r="2.2"/>
<radialGradient id="g468" href="#r153_5" cx="289.16" cy="91.5" r="2.4"/>
<linearGradient id="g469" href="#c153" x1="342.11" y1="97.07" x2="345.01" y2="98.5"/>
<linearGradient id="g470" href="#c128" x1="346.37" y1="106.14" x2="343.19" y2="107.29"/>
<radialGradient id="g471" href="#r76_6" cx="310.61" cy="105.61" r="2.2"/>
<radialGradient id="g472" href="#r128_6" cx="295.95" cy="120.11" r="2.2"/>
<radialGradient id="g473" href="#r128_4" cx="457.63" cy="140.63" r="3.1"/>
<radialGradient id="g474" href="#r178_4" cx="358.14" cy="139.82" r="2.05"/>
<radialGradient id="r76_1" gradientUnits="userSpaceOnUse" spreadMethod="repeat"><stop offset="0" stop-color="#684c00"/><stop offset="0.88" stop-color="#9f4c00"/><stop offset="0.88" stop-color="#604c00"/><stop offset="1" stop-color="#684c00"/></radialGradient>
<radialGradient id="g475" href="#r76_1" cx="564.03" cy="135.07" r="3.1"/>
<linearGradient id="g476" href="#c178" x1="344.5" y1="151.37" x2="343.01" y2="150.27"/>
<linearGradient id="g477" href="#c76" x1="342.16" y1="157.78" x2="344.87" y2="156.63"/>
<linearGradient id="g478" href="#c76" x1="343.76" y1="160.93" x2="345.86" y2="161.58"/>
<linearGradient id="g479" href="#c102" x1="345.48" y1="169.85" x2="343.75" y2="168.86"/>
<linearGradient id="g480" href="#c178" x1="344.44" y1="176.71" x2="342.21" y2="178.19"/>
<linearGradient id="g481" href="#c128" x1="342.5" y1="186.09" x2="344.18" y2="187.11"/>
<radialGradient id="g482" href="#r76_1" cx="332.6" cy="206.62" r="3.1"/>
<linearGradient id="g483" href="#c128" x1="342.74" y1="207.36" x2="345.05" y2="206.7"/>
<radialGradient id="g484" href="#r128_4" cx="470.27" cy="212.75" r="3.6"/>
<linearGradient id="g485" href="#c76" x1="343.49" y1="218.58" x2="345.38" y2="220.15"/>
<radialGradient id="g486" href="#r76_5" cx="367.1" cy="239.19" r="2.7"/>
<radialGradient id="g487" href="#r153_5" cx="363.3" cy="242.88" r="3.6"/>
<radialGradient id="g488" href="#r76_4" cx="517.82" cy="228.67" r="2.7"/>
<linearGradient id="g489" href="#c76" x1="343.05" y1="241.6" x2="344.83" y2="240.47"/>
<radialGradient id="g490" href="#r102_2" cx="293.07" cy="240.95" r="2.2"/>
<radialGradient id="g491" href="#r178_7" cx="312.74" cy="273.93" r="2.05"/>
<linearGradient id="g492" href="#c102" x1="343.45" y1="267.39" x2="344.81" y2="266.42"/>
<linearGradient id="g493" href="#c76" x1="344.31" y1="276.9" x2="342.45" y2="277.5"/>
<linearGradient id="g494" href="#c178" x1="346.26" y1="283.18" x2="343.74" y2="281.87"/>
<linearGradient id="g495" href="#c102" x1="345.76" y1="290.2" x2="343.86" y2="291.06"/>
<radialGradient id="g496" href="#r76_4" cx="561.53" cy="296.82" r="2.2"/>
<linearGradient id="g497" href="#c153" x1="343.91" y1="307.91" x2="345.53" y2="309.51"/>
<linearGradient id="g498" href="#c76" x1="343.93" y1="310.96" x2="345.39" y2="311.89"/>
<linearGradient id="g499" href="#c76" x1="346.28" y1="317.35" x2="343.97" y2="318.01"/>
<linearGradient id="g500" href="#c102" x1="343" y1="325.57" x2="344.37" y2="327.54"/>
<linearGradient id="g501" href="#c153" x1="343.38" y1="330.53" x2="344.85" y2="331.64"/>
<linearGradient id="g502" href="#c76" x1="345.21" y1="337.59" x2="343.28" y2="338.24"/>
<linearGradient id="g503" href="#c102" x1="345.27" y1="350.53" x2="343.56" y2="348.47"/>
<radialGradient id="g504" href="#r76_5" cx="199.78" cy="347.71" r="2.7"/>
<radialGradient id="g505" href="#r128_6" cx="275.04" cy="361.08" r="2.2"/>
<radialGradient id="g506" href="#r178_0" cx="559.05" cy="389.35" r="2.7"/>
<linearGradient id="g507" href="#c76" x1="345.06" y1="382.46" x2="343.24" y2="383.39"/>
<radialGradient id="g508" href="#r178_2" cx="336.55" cy="378.28" r="3.6"/>
<radialGradient id="g509" href="#r76_1" cx="594.32" cy="388.33" r="2.7"/>
<linearGradient id="g510" href="#c153" x1="344.11" y1="402.93" x2="342.62" y2="403.84"/>
<radialGradient id="g511" href="#r102_7" cx="435.72" cy="409.94" r="2.05"/>
<linearGradient id="g512" href="#c153" x1="343.04" y1="420.69" x2="344.69" y2="419.5"/>
<linearGradient id="g513" href="#c153" x1="343.14" y1="424.47" x2="345.17" y2="425.72"/>
<radialGradient id="g514" href="#r102_7" cx="447.75" cy="433.46" r="2.05"/>
<linearGradient id="g515" href="#c128" x1="345.44" y1="438.66" x2="341.96" y2="437.07"/>
<linearGradient id="g516" href="#c76" x1="343.1" y1="443.68" x2="344.56" y2="442.57"/>
<linearGradient id="g517" href="#c102" x1="344.59" y1="452.54" x2="343.06" y2="451.14"/>
<radialGradient id="g518" href="#r102_3" cx="548.24" cy="452.94" r="3.6"/>
<linearGradient id="g519" href="#c153" x1="343.1" y1="466.63" x2="345.24" y2="467.51"/>
<radialGradient id="r128_3" gradientUnits="userSpaceOnUse" spreadMethod="repeat"><stop offset="0" stop-color="#788000"/><stop offset="0.62" stop-color="#9f8000"/><stop offset="0.62" stop-color="#608000"/><stop offset="1" stop-color="#788000"/></radialGradient>
<radialGradient id="g520" href="#r128_3" cx="512.26" cy="483.22" r="2.05"/>
<linearGradient id="g521" href="#c76" x1="341.51" y1="478.53" x2="344.63" y2="480.37"/>
<linearGradient id="g522" href="#c178" x1="343.08" y1="487.38" x2="344.66" y2="488.45"/>
<radialGradient id="g523" href="#r128_5" cx="265.49" cy="499.07" r="2.05"/>
<linearGradient id="g524" href="#c178" x1="343.88" y1="498.05" x2="345.79" y2="497.19"/>
<radialGradient id="r128_1" gradientUnits="userSpaceOnUse" spreadMethod="repeat"><stop offset="0" stop-color="#688000"/><stop offset="0.88" stop-color="#9f8000"/><stop offset="0.88" stop-color="#608000"/><stop offset="1" stop-color="#688000"/></radialGradient>
<radialGradient id="g525" href="#r128_1" cx="239.93" cy="516.33" r="2.2"/>
<linearGradient id="g526" href="#c76" x1="344.59" y1="512.86" x2="341.94" y2="513.49"/>
<linearGradient id="g527" href="#c178" x1="344.26" y1="519.84" x2="341.66" y2="521.45"/>
<radialGradient id="g528" href="#r153_2" cx="441.2" cy="516.03" r="2.4"/>
<linearGradient id="g529" href="#c76" x1="344.2" y1="532.1" x2="342.35" y2="531.19"/>
<radialGradient id="g530" href="#r102_7" cx="461.53" cy="543.41" r="3.1"/>
<radialGradient id="r76_7" gradientUnits="userSpaceOnUse" spreadMethod="repeat"><stop offset="0" stop-color="#974c00"/><stop offset="0.12" stop-color="#9f4c00"/><stop offset="0.12" stop-color="#604c00"/><stop offset="1" stop-color="#974c00"/></radialGradient>
<radialGradient id="g531" href="#r76_7" cx="577.12" cy="562.75" r="2.4"/>
<radialGradient id="r102_6" gradientUnits="userSpaceOnUse" spreadMethod="repeat"><stop offset="0" stop-color="#8f6600"/><stop offset="0.25" stop-color="#9f6600"/><stop offset="0.25" stop-color="#606600"/><stop offset="1" stop-color="#8f6600"/></radialGradient>
<radialGradient id="g532" href="#r102_6" cx="436.31" cy="574.53" r="3.1"/>
<radialGradient id="g533" href="#r178_5" cx="434.84" cy="561.57" r="2.05"/>
<linearGradient id="g534" href="#c178" x1="343.75" y1="575.18" x2="345.43" y2="574.01"/>
<radialGradient id="g535" href="#r153_6" cx="566" cy="588.7" r="3.1"/>
<linearGradient id="g536" href="#c76" x1="345.24" y1="581.85" x2="342.99" y2="583.94"/>
<linearGradient id="g537" href="#c102" x1="344.1" y1="594.12" x2="342.26" y2="592.03"/>
<linearGradient id="g538" href="#c102" x1="344.14" y1="597.95" x2="341.25" y2="598.9"/>
<radialGradient id="g539" href="#r178_0" cx="573.62" cy="602.19" r="2.2"/>
<linearGradient id="g540" href="#c76" x1="344.85" y1="607.58" x2="342.94" y2="606.28"/>
<radialGradient id="g541" href="#r128_7" cx="348.83" cy="606.64" r="2.05"/>
<radialGradient id="g542" href="#r128_4" cx="217.22" cy="613.61" r="3.6"/>
<radialGradient id="g543" href="#r153_3" cx="485.31" cy="623.47" r="2.05"/>
<radialGradient id="g544" href="#r178_4" cx="525.91" cy="634.29" r="2.2"/>
<linearGradient id="g545" href="#c76" x1="345.09" y1="649.35" x2="342.82" y2="648.62"/>
<linearGradient id="g546" href="#c178" x1="342.76" y1="655.19" x2="345.71" y2="657.11"/>
<linearGradient id="g547" href="#c128" x1="344.26" y1="667.14" x2="341.76" y2="665.81"/>
<linearGradient id="g548" href="#c178" x1="342.91" y1="675.64" x2="344.98" y2="676.33"/>
<radialGradient id="g549" href="#r128_1" cx="326.76" cy="697.36" r="2.7"/>
<linearGradient id="g550" href="#c128" x1="342.26" y1="691.43" x2="344.41" y2="689.67"/>
<radialGradient id="g551" href="#r178_2" cx="338.48" cy="694.91" r="3.6"/>
<linearGradient id="g552" href="#c128" x1="342.1" y1="698.75" x2="344.53" y2="697.79"/>
<linearGradient id="g553" href="#c102" x1="342.22" y1="699.68" x2="344.03" y2="701.02"/>
<radialGradient id="g554" href="#r153_6" cx="576.57" cy="714.24" r="2.2"/>
<linearGradient id="g555" href="#c76" x1="342.88" y1="717.74" x2="344.73" y2="719.82"/>
<radialGradient id="g556" href="#r46_6" cx="331.75" cy="90.43" r="2.4"/>
<radialGradient id="r64_2" gradientUnits="userSpaceOnUse" spreadMethod="repeat"><stop offset="0" stop-color="#704000"/><stop offset="0.75" stop-color="#9f4000"/><stop offset="0.75" stop-color="#604000"/><stop offset="1" stop-color="#704000"/></radialGradient>
<radialGradient id="g557" href="#r64_2" cx="639.31" cy="93.36" r="3.1"/>
<linearGradient id="g558" href="#c38" x1="455.93" y1="98.52" x2="453.94" y2="97.68"/>
<radialGradient id="r46_4" gradientUnits="userSpaceOnUse" spreadMethod="repeat"><stop offset="0" stop-color="#802e00"/><stop offset="0.5" stop-color="#9f2e00"/><stop offset="0.5" stop-color="#602e00"/><stop offset="1" stop-color="#802e00"/></radialGradient>
<radialGradient id="g559" href="#r46_4" cx="664.87" cy="105.7" r="2.7"/>
<radialGradient id="r51_0" gradientUnits="userSpaceOnUse" spreadMethod="repeat"><stop offset="0" stop-color="#603300"/><stop offset="1" stop-color="#9f3300"/></radialGradient>
<radialGradient id="g560" href="#r51_0" cx="602.85" cy="116.28" r="3.1"/>
<linearGradient id="g561" href="#c46" x1="453.75" y1="125.67" x2="455.62" y2="126.32"/>
<radialGradient id="r31_0" gradientUnits="userSpaceOnUse" spreadMethod="repeat"><stop offset="0" stop-color="#601f00"/><stop offset="1" stop-color="#9f1f00"/></radialGradient>
<radialGradient id="g562" href="#r31_0" cx="525.78" cy="146.8" r="3.1"/>
<linearGradient id="g563" href="#c31" x1="453.2" y1="147.3" x2="455.22" y2="146.9"/>
<linearGradient id="g564" href="#c31" x1="453.22" y1="150.34" x2="455.73" y2="151.46"/>
<linearGradient id="g565" href="#c31" x1="456.05" y1="157.7" x2="454.31" y2="156.8"/>
<linearGradient id="g566" href="#c31" x1="456.19" y1="166.07" x2="454.04" y2="167.42"/>
<radialGradient id="r31_6" gradientUnits="userSpaceOnUse" spreadMethod="repeat"><stop offset="0" stop-color="#8f1f00"/><stop offset="0.25" stop-color="#9f1f00"/><stop offset="0.25" stop-color="#601f00"/><stop offset="1" stop-color="#8f1f00"/></radialGradient>
<radialGradient id="g567" href="#r31_6" cx="283.25" cy="171.08" r="2.05"/>
<radialGradient id="r31_3" gradientUnits="userSpaceOnUse" spreadMethod="repeat"><stop offset="0" stop-color="#781f00"/><stop offset="0.62" stop-color="#9f1f00"/><stop offset="0.62" stop-color="#601f00"/><stop offset="1" stop-color="#781f00"/></radialGradient>
<radialGradient id="g568" href="#r31_3" cx="309.96" cy="195.49" r="3.1"/>
<linearGradient id="g569" href="#c31" x1="455.61" y1="192.28" x2="454.17" y2="193.42"/>
<linearGradient id="g570" href="#c31" x1="454.41" y1="198.85" x2="456.16" y2="199.74"/>
<linearGradient id="g571" href="#c31" x1="454.28" y1="208.73" x2="456.4" y2="210.1"/>
<linearGradient id="g572" href="#c31" x1="455.48" y1="215.54" x2="453.73" y2="216.57"/>
<radialGradient id="g573" href="#r31_0" cx="569.29" cy="238.12" r="3.6"/>
<linearGradient id="g574" href="#c31" x1="453.17" y1="230.43" x2="455.07" y2="229.89"/>
<radialGradient id="r31_7" gradientUnits="userSpaceOnUse" spreadMethod="repeat"><stop offset="0" stop-color="#971f00"/><stop offset="0.12" stop-color="#9f1f00"/><stop offset="0.12" stop-color="#601f00"/><stop offset="1" stop-color="#971f00"/></radialGradient>
<radialGradient id="g575" href="#r31_7" cx="364.82" cy="246.08" r="3.6"/>
<linearGradient id="g576" href="#c31" x1="454.83" y1="243.05" x2="452.21" y2="242.05"/>
<linearGradient id="g577" href="#c31" x1="453.95" y1="254.18" x2="456.03" y2="253.69"/>
<linearGradient id="g578" href="#c38" x1="456.23" y1="256.1" x2="454" y2="257.41"/>
<radialGradient id="r51_4" gradientUnits="userSpaceOnUse" spreadMethod="repeat"><stop offset="0" stop-color="#803300"/><stop offset="0.5" stop-color="#9f3300"/><stop offset="0.5" stop-color="#603300"/><stop offset="1" stop-color="#803300"/></radialGradient>
<radialGradient id="g579" href="#r51_4" cx="639.84" cy="277.39" r="2.4"/>
<linearGradient id="g580" href="#c64" x1="454.55" y1="272.91" x2="456.1" y2="273.83"/>
<linearGradient id="g581" href="#c38" x1="453.86" y1="285.33" x2="456.46" y2="284.31"/>
<linearGradient id="g582" href="#c46" x1="457.13" y1="297.56" x2="454.66" y2="296.99"/>
<radialGradient id="r51_7" gradientUnits="userSpaceOnUse" spreadMethod="repeat"><stop offset="0" stop-color="#973300"/><stop offset="0.12" stop-color="#9f3300"/><stop offset="0.12" stop-color="#603300"/><stop offset="1" stop-color="#973300"/></radialGradient>
<radialGradient id="g583" href="#r51_7" cx="413.68" cy="320.4" r="2.7"/>
<linearGradient id="g584" href="#c38" x1="455.91" y1="311.43" x2="454.23" y2="312.22"/>
<linearGradient id="g585" href="#c38" x1="455.69" y1="320.58" x2="454.16" y2="319.69"/>
<radialGradient id="r64_7" gradientUnits="userSpaceOnUse" spreadMethod="repeat"><stop offset="0" stop-color="#974000"/><stop offset="0.12" stop-color="#9f4000"/><stop offset="0.12" stop-color="#604000"/><stop offset="1" stop-color="#974000"/></radialGradient>
<radialGradient id="g586" href="#r64_7" cx="403.42" cy="329.62" r="3.6"/>
<linearGradient id="g587" href="#c64" x1="454.18" y1="339.91" x2="456.17" y2="340.25"/>
<linearGradient id="g588" href="#c38" x1="453.4" y1="344.73" x2="455.37" y2="343.62"/>
<radialGradient id="g589" href="#r64_4" cx="623.97" cy="358.86" r="2.2"/>
<linearGradient id="g590" href="#c76" x1="453.6" y1="353.5" x2="455.76" y2="354.48"/>
<linearGradient id="g591" href="#c64" x1="454.7" y1="362" x2="456.06" y2="361.03"/>
<linearGradient id="g592" href="#c76" x1="453.28" y1="372.55" x2="455.11" y2="371.84"/>
<linearGradient id="g593" href="#c76" x1="456.31" y1="377.91" x2="454.53" y2="379.12"/>
<radialGradient id="g594" href="#r76_6" cx="566.93" cy="403.26" r="2.2"/>
<radialGradient id="g595" href="#r102_3" cx="431.88" cy="399.33" r="3.6"/>
<linearGradient id="g596" href="#c102" x1="454.89" y1="407.95" x2="452.69" y2="408.52"/>
<linearGradient id="g597" href="#c64" x1="454.67" y1="419.01" x2="456.57" y2="418.26"/>
<radialGradient id="g598" href="#r102_2" cx="612.05" cy="430.62" r="2.05"/>
<linearGradient id="g599" href="#c102" x1="455.93" y1="435.86" x2="454.45" y2="434.83"/>
<radialGradient id="g600" href="#r76_1" cx="664.69" cy="450.39" r="2.4"/>
<linearGradient id="g601" href="#c64" x1="453.55" y1="449.72" x2="456.01" y2="450.32"/>
<linearGradient id="g602" href="#c76" x1="454.45" y1="452.84" x2="456.55" y2="454.21"/>
<radialGradient id="g603" href="#r64_4" cx="377.6" cy="471.13" r="2.05"/>
<linearGradient id="g604" href="#c102" x1="453.19" y1="465.28" x2="454.99" y2="466.13"/>
<linearGradient id="g605" href="#c102" x1="452.94" y1="476.67" x2="454.97" y2="477.05"/>
<linearGradient id="g606" href="#c46" x1="454.81" y1="482.91" x2="453.35" y2="484.05"/>
<linearGradient id="g607" href="#c46" x1="453.11" y1="486.9" x2="454.87" y2="488.11"/>
<radialGradient id="g608" href="#r46_2" cx="419.99" cy="492.42" r="2.2"/>
<linearGradient id="g609" href="#c46" x1="455.8" y1="500.74" x2="453.33" y2="501.32"/>
<linearGradient id="g610" href="#c46" x1="453.9" y1="513.8" x2="455.4" y2="512.3"/>
<radialGradient id="g611" href="#r76_1" cx="301.02" cy="519.3" r="2.4"/>
<radialGradient id="g612" href="#r64_2" cx="419.2" cy="537.27" r="3.6"/>
<radialGradient id="g613" href="#r76_3" cx="311.08" cy="555.36" r="2.4"/>
<radialGradient id="g614" href="#r76_0" cx="523.87" cy="547.14" r="2.05"/>
<radialGradient id="g615" href="#r64_3" cx="605.69" cy="564.1" r="3.1"/>
<linearGradient id="g616" href="#c102" x1="454.77" y1="556.95" x2="453.39" y2="557.91"/>
<linearGradient id="g617" href="#c76" x1="453.19" y1="567.56" x2="455.12" y2="566.84"/>
<linearGradient id="g618" href="#c46" x1="454.86" y1="578.87" x2="453.46" y2="580.02"/>
<radialGradient id="g619" href="#r46_1" cx="530.39" cy="579.98" r="2.05"/>
<radialGradient id="g620" href="#r46_4" cx="516.7" cy="608.33" r="2.05"/>
<linearGradient id="g621" href="#c46" x1="453.09" y1="609.2" x2="454.77" y2="610.04"/>
<radialGradient id="g622" href="#r76_6" cx="528.13" cy="630.92" r="2.2"/>
<radialGradient id="g623" href="#r102_7" cx="528.38" cy="634.54" r="2.2"/>
<radialGradient id="g624" href="#r76_4" cx="336.89" cy="631.34" r="2.05"/>
<linearGradient id="g625" href="#c46" x1="456.28" y1="639.4" x2="454.07" y2="638.84"/>
<linearGradient id="g626" href="#c76" x1="456.27" y1="647.3" x2="454.43" y2="648.12"/>
<radialGradient id="g627" href="#r102_7" cx="605.74" cy="669.47" r="2.05"/>
<radialGradient id="g628" href="#r46_4" cx="676.82" cy="678.92" r="2.05"/>
<radialGradient id="g629" href="#r46_0" cx="559.1" cy="667.35" r="2.4"/>
<linearGradient id="g630" href="#c76" x1="454.3" y1="681.23" x2="455.94" y2="680.28"/>
<linearGradient id="g631" href="#c102" x1="452.58" y1="687.94" x2="454.98" y2="689.14"/>
<linearGradient id="g632" href="#c46" x1="453.72" y1="694.33" x2="455.61" y2="693.69"/>
<radialGradient id="g633" href="#r64_5" cx="610.33" cy="702.09" r="2.2"/>
<radialGradient id="g634" href="#r102_2" cx="308.66" cy="727.07" r="2.7"/>
<radialGradient id="g635" href="#r102_5" cx="338.9" cy="87.18" r="3.6"/>
<linearGradient id="g636" href="#c102" x1="510.45" y1="92.57" x2="508.56" y2="94.37"/>
<linearGradient id="g637" href="#c102" x1="508.98" y1="100.96" x2="510.46" y2="99.56"/>
<linearGradient id="g638" href="#c153" x1="511.36" y1="108.32" x2="508.47" y2="109.76"/>
<radialGradient id="g639" href="#r128_1" cx="595.48" cy="122.34" r="3.6"/>
<radialGradient id="g640" href="#r102_2" cx="691.77" cy="149.66" r="2.05"/>
<radialGradient id="g641" href="#r128_2" cx="419.39" cy="147.91" r="3.1"/>
<linearGradient id="g642" href="#c178" x1="509.48" y1="146.18" x2="511.99" y2="145.33"/>
<linearGradient id="g643" href="#c102" x1="509.05" y1="150.58" x2="511.4" y2="151.61"/>
<radialGradient id="g644" href="#r178_7" cx="321.65" cy="178.13" r="2.7"/>
<linearGradient id="g645" href="#c153" x1="510.11" y1="170.07" x2="508.45" y2="169.04"/>
<radialGradient id="g646" href="#r76_1" cx="671.56" cy="181.63" r="2.4"/>
<linearGradient id="g647" href="#c178" x1="509.61" y1="182.75" x2="511.24" y2="183.8"/>
<radialGradient id="g648" href="#r153_1" cx="420.2" cy="187.93" r="2.4"/>
<linearGradient id="g649" href="#c153" x1="510.86" y1="196.55" x2="509.25" y2="197.39"/>
<linearGradient id="g650" href="#c128" x1="509.56" y1="206.25" x2="511.11" y2="205.37"/>
<linearGradient id="g651" href="#c178" x1="511.16" y1="213.22" x2="509.16" y2="211.12"/>
<radialGradient id="g652" href="#r128_2" cx="619.45" cy="217.04" r="2.2"/>
<radialGradient id="g653" href="#r153_1" cx="443.95" cy="232.12" r="2.7"/>
<radialGradient id="g654" href="#r102_3" cx="572.84" cy="246.69" r="2.7"/>
<linearGradient id="g655" href="#c128" x1="511.02" y1="241.34" x2="508.5" y2="240.5"/>
<linearGradient id="g656" href="#c102" x1="508.99" y1="250.83" x2="511.5" y2="248.77"/>
<linearGradient id="g657" href="#c76" x1="507.72" y1="253.78" x2="510.99" y2="255.53"/>
<linearGradient id="g658" href="#c76" x1="510.99" y1="263.58" x2="509.47" y2="262.69"/>
<linearGradient id="g659" href="#c153" x1="507.85" y1="268.64" x2="510.42" y2="267.87"/>
<radialGradient id="g660" href="#r153_5" cx="676.36" cy="271.9" r="2.7"/>
<linearGradient id="g661" href="#c178" x1="508.78" y1="282.51" x2="510.22" y2="284.27"/>
<linearGradient id="g662" href="#c76" x1="510.28" y1="292.15" x2="508.34" y2="291.1"/>
<radialGradient id="g663" href="#r76_4" cx="341.03" cy="302.96" r="2.05"/>
<radialGradient id="g664" href="#r178_5" cx="336.76" cy="319.97" r="2.05"/>
<radialGradient id="g665" href="#r153_2" cx="393.49" cy="334.95" r="2.7"/>
<linearGradient id="g666" href="#c102" x1="509.6" y1="327.74" x2="512.13" y2="329.39"/>
<linearGradient id="g667" href="#c153" x1="509.2" y1="332.24" x2="511.4" y2="334.34"/>
<radialGradient id="g668" href="#r102_1" cx="428.63" cy="349.2" r="2.4"/>
<radialGradient id="g669" href="#r128_7" cx="345.56" cy="362.35" r="2.4"/>
<radialGradient id="g670" href="#r76_3" cx="678.74" cy="359.41" r="3.1"/>
<linearGradient id="g671" href="#c128" x1="509.9" y1="364.07" x2="511.4" y2="363.08"/>
<linearGradient id="g672" href="#c178" x1="511.67" y1="369.21" x2="509.84" y2="367.88"/>
<radialGradient id="g673" href="#r102_3" cx="566.45" cy="374.92" r="3.1"/>
<linearGradient id="g674" href="#c102" x1="508.73" y1="383.7" x2="510.67" y2="384.16"/>
<radialGradient id="g675" href="#r153_1" cx="684.47" cy="406.18" r="2.4"/>
<radialGradient id="g676" href="#r76_2" cx="571.95" cy="395.58" r="2.7"/>
<linearGradient id="g677" href="#c76" x1="510.77" y1="402.6" x2="509.22" y2="401.39"/>
<linearGradient id="g678" href="#c153" x1="510.17" y1="409.04" x2="507.8" y2="408.48"/>
<radialGradient id="g679" href="#r128_3" cx="629.92" cy="403.37" r="2.7"/>
<linearGradient id="g680" href="#c153" x1="510.08" y1="415.92" x2="508.32" y2="417.72"/>
<radialGradient id="g681" href="#r153_0" cx="616.4" cy="416.32" r="2.4"/>
<linearGradient id="g682" href="#c153" x1="510.56" y1="422.86" x2="508.63" y2="423.33"/>
<linearGradient id="g683" href="#c153" x1="510.24" y1="425.78" x2="508.54" y2="427.37"/>
<radialGradient id="g684" href="#r128_2" cx="661.02" cy="428.68" r="2.7"/>
<radialGradient id="g685" href="#r178_7" cx="634.77" cy="447.67" r="2.2"/>
<radialGradient id="g686" href="#r178_7" cx="437.63" cy="442.05" r="3.1"/>
<linearGradient id="g687" href="#c153" x1="510.6" y1="449.34" x2="508.71" y2="448.27"/>
<radialGradient id="g688" href="#r128_1" cx="671.84" cy="450.98" r="2.4"/>
<radialGradient id="g689" href="#r153_4" cx="713.12" cy="456.87" r="2.4"/>
<linearGradient id="g690" href="#c76" x1="510.04" y1="468.01" x2="508.23" y2="467.35"/>
<linearGradient id="g691" href="#c76" x1="510.93" y1="479.7" x2="509.46" y2="478.6"/>
<linearGradient id="g692" href="#c153" x1="509.87" y1="485.88" x2="511.9" y2="487.67"/>
<radialGradient id="g693" href="#r102_0" cx="389.11" cy="495.08" r="2.7"/>
<radialGradient id="g694" href="#r76_5" cx="680.51" cy="512.11" r="2.2"/>
<radialGradient id="g695" href="#r153_3" cx="369.31" cy="500.39" r="2.4"/>
<linearGradient id="g696" href="#c128" x1="510.35" y1="512.64" x2="508.79" y2="514.24"/>
<radialGradient id="g697" href="#r153_1" cx="619.14" cy="520.57" r="3.6"/>
<radialGradient id="g698" href="#r76_5" cx="369.96" cy="544.66" r="2.7"/>
<linearGradient id="g699" href="#c102" x1="509.01" y1="536.51" x2="511.87" y2="535.05"/>
<linearGradient id="g700" href="#c102" x1="509.26" y1="545.63" x2="510.98" y2="546.49"/>
<linearGradient id="g701" href="#c102" x1="509.03" y1="548.78" x2="511.41" y2="549.31"/>
<radialGradient id="g702" href="#r128_4" cx="571.14" cy="556.22" r="2.7"/>
<radialGradient id="g703" href="#r153_5" cx="572.94" cy="563.4" r="2.7"/>
<linearGradient id="g704" href="#c178" x1="510.41" y1="576.25" x2="508.75" y2="575.22"/>
<radialGradient id="g705" href="#r128_0" cx="618.95" cy="573.86" r="2.2"/>
<radialGradient id="g706" href="#r128_6" cx="452.54" cy="589.12" r="3.6"/>
<linearGradient id="g707" href="#c76" x1="507.83" y1="594.2" x2="510.28" y2="592.84"/>
<linearGradient id="g708" href="#c128" x1="508.2" y1="600.78" x2="510.12" y2="602.08"/>
<radialGradient id="g709" href="#r178_2" cx="386.13" cy="620.89" r="2.2"/>
<radialGradient id="g710" href="#r153_3" cx="691.73" cy="637" r="3.6"/>
<linearGradient id="g711" href="#c178" x1="510.21" y1="634.06" x2="507.89" y2="633.41"/>
<linearGradient id="g712" href="#c178" x1="510.55" y1="646.39" x2="509.13" y2="645.37"/>
<linearGradient id="g713" href="#c76" x1="510.64" y1="652.56" x2="508.19" y2="654.24"/>
<radialGradient id="g714" href="#r128_4" cx="397.5" cy="683.56" r="3.6"/>
<linearGradient id="g715" href="#c153" x1="509.95" y1="676.04" x2="512.65" y2="674.03"/>
<linearGradient id="g716" href="#c153" x1="509.63" y1="684.91" x2="511.67" y2="685.4"/>
<linearGradient id="g717" href="#c178" x1="512.28" y1="687.37" x2="509.95" y2="688.01"/>
<linearGradient id="g718" href="#c76" x1="508.73" y1="700.18" x2="510.44" y2="698.59"/>
<radialGradient id="g719" href="#r102_5" cx="318.49" cy="706.23" r="2.4"/>
<linearGradient id="g720" href="#c76" x1="510.76" y1="708.28" x2="507.58" y2="707.13"/>
<radialGradient id="g721" href="#r102_2" cx="668.37" cy="707.22" r="3.1"/>
<linearGradient id="g722" href="#c178" x1="509.3" y1="713.13" x2="510.71" y2="714.88"/>
<linearGradient id="g723" href="#c89" x1="369.46" y1="85" x2="276.87" y2="85"/>
<linearGradient id="g724" href="#c76" x1="369.46" y1="111" x2="276.87" y2="111"/>
<linearGradient id="g725" href="#c56" x1="369.46" y1="134" x2="276.87" y2="134"/>
<linearGradient id="g726" href="#c26" x1="369.46" y1="143" x2="276.87" y2="143"/>
<linearGradient id="g727" href="#c41" x1="369.46" y1="221" x2="276.87" y2="221"/>
<linearGradient id="g728" href="#c51" x1="369.46" y1="251" x2="276.87" y2="251"/>
<linearGradient id="g729" href="#c76" x1="369.46" y1="297" x2="276.87" y2="297"/>
<linearGradient id="g730" href="#c64" x1="369.46" y1="303" x2="276.87" y2="303"/>
<linearGradient id="g731" href="#c89" x1="362.06" y1="483" x2="269.46" y2="483"/>
<linearGradient id="g732" href="#c128" x1="369.46" y1="491" x2="276.87" y2="491"/>
<linearGradient id="g733" href="#c36" x1="359.28" y1="496" x2="266.69" y2="496"/>
<linearGradient id="g734" href="#c107" x1="362.98" y1="585" x2="270.39" y2="585"/>
<linearGradient id="g735" href="#c128" x1="362.98" y1="599" x2="270.39" y2="599"/>
<linearGradient id="g736" href="#c115" x1="362.98" y1="606" x2="270.39" y2="606"/>
<linearGradient id="g737" href="#c56" x1="369.46" y1="644" x2="276.87" y2="644"/>
<linearGradient id="g738" href="#c56" x1="369.46" y1="671" x2="276.87" y2="671"/>
<linearGradient id="g739" href="#c56" x1="369.46" y1="698" x2="276.87" y2="698"/>
<linearGradient id="g740" href="#c64" x1="380.57" y1="152" x2="287.98" y2="152"/>
<linearGradient id="g741" href="#c76" x1="360.2" y1="166" x2="267.61" y2="166"/>
<linearGradient id="g742" href="#c128" x1="411.13" y1="189" x2="318.54" y2="189"/>
<linearGradient id="g743" href="#c76" x1="378.72" y1="197" x2="286.13" y2="197"/>
<linearGradient id="g744" href="#c76" x1="358.35" y1="210" x2="265.76" y2="210"/>
<linearGradient id="g745" href="#c102" x1="397.24" y1="229" x2="304.65" y2="229"/>
<linearGradient id="g746" href="#c102" x1="387.98" y1="233" x2="295.39" y2="233"/>
<linearGradient id="g747" href="#c38" x1="387.06" y1="497" x2="294.46" y2="497"/>
<linearGradient id="g748" href="#c115" x1="377.8" y1="502" x2="285.2" y2="502"/>
<linearGradient id="g749" href="#c38" x1="385.2" y1="504" x2="292.61" y2="504"/>
<linearGradient id="g750" href="#c38" x1="379.65" y1="508" x2="287.06" y2="508"/>
<linearGradient id="g751" href="#c46" x1="391.69" y1="510" x2="299.09" y2="510"/>
<linearGradient id="g752" href="#c38" x1="382.43" y1="513" x2="289.83" y2="513"/>
<linearGradient id="g753" href="#c102" x1="413.44" y1="256" x2="320.85" y2="256"/>
<linearGradient id="g754" href="#c64" x1="345.36" y1="263.69" x2="341.23" y2="282.8"/>
<linearGradient id="g755" href="#c128" x1="346.12" y1="284.1" x2="335.5" y2="313.61"/>
<linearGradient id="g756" href="#c76" x1="357.11" y1="280.66" x2="342.54" y2="314.37"/>
<linearGradient id="g757" href="#c115" x1="347.19" y1="322.15" x2="336.56" y2="351.66"/>
<linearGradient id="g758" href="#c102" x1="348.03" y1="323.68" x2="339.07" y2="351.05"/>
<linearGradient id="g759" href="#c31" x1="452.53" y1="134" x2="455.75" y2="134"/>
<linearGradient id="g760" href="#c31" x1="454.11" y1="135" x2="457.29" y2="135"/>
<linearGradient id="g761" href="#c31" x1="453.28" y1="137" x2="456.57" y2="137"/>
<linearGradient id="g762" href="#c31" x1="452.95" y1="138" x2="456.29" y2="138"/>
<linearGradient id="g763" href="#c31" x1="451.67" y1="140" x2="454.95" y2="140"/>
<linearGradient id="g764" href="#c31" x1="453.26" y1="141" x2="456.66" y2="141"/>
<linearGradient id="g765" href="#c31" x1="451.81" y1="143" x2="455.16" y2="143"/>
<linearGradient id="g766" href="#c31" x1="452.64" y1="144" x2="455.96" y2="144"/>
<linearGradient id="g767" href="#c31" x1="452.55" y1="145" x2="455.9" y2="145"/>
<linearGradient id="g768" href="#c31" x1="453.2" y1="146" x2="456.74" y2="146"/>
<linearGradient id="g769" href="#c31" x1="452.99" y1="147" x2="456.36" y2="147"/>
<linearGradient id="g770" href="#c31" x1="452.9" y1="148" x2="456.3" y2="148"/>
<linearGradient id="g771" href="#c31" x1="453.09" y1="149" x2="456.69" y2="149"/>
<linearGradient id="g772" href="#c31" x1="454.63" y1="150" x2="458.16" y2="150"/>
<linearGradient id="g773" href="#c31" x1="453.05" y1="151" x2="456.68" y2="151"/>
<linearGradient id="g774" href="#c31" x1="451.79" y1="152" x2="455.5" y2="152"/>
<linearGradient id="g775" href="#c31" x1="452.27" y1="153" x2="455.95" y2="153"/>
<linearGradient id="g776" href="#c31" x1="453.92" y1="154" x2="457.51" y2="154"/>
<linearGradient id="g777" href="#c31" x1="454.39" y1="155" x2="458.18" y2="155"/>
<linearGradient id="g778" href="#c31" x1="451.31" y1="156" x2="455.05" y2="156"/>
<linearGradient id="g779" href="#c31" x1="451.75" y1="157" x2="455.46" y2="157"/>
<linearGradient id="g780" href="#c31" x1="452.06" y1="158" x2="455.96" y2="158"/>
<linearGradient id="g781" href="#c31" x1="454.46" y1="159" x2="458.2" y2="159"/>
<linearGradient id="g782" href="#c31" x1="452.27" y1="160" x2="456.11" y2="160"/>
<linearGradient id="g783" href="#c31" x1="452.94" y1="161" x2="456.94" y2="161"/>
<linearGradient id="g784" href="#c31" x1="451.53" y1="163" x2="455.55" y2="163"/>
<linearGradient id="g785" href="#c31" x1="452.66" y1="164" x2="456.85" y2="164"/>
<linearGradient id="g786" href="#c31" x1="453.9" y1="165" x2="458.26" y2="165"/>
<linearGradient id="g787" href="#c31" x1="454.48" y1="166" x2="459.07" y2="166"/>
<linearGradient id="g788" href="#c31" x1="452.21" y1="167" x2="456.91" y2="167"/>
<linearGradient id="g789" href="#c31" x1="450.38" y1="168" x2="455.52" y2="168"/>
<linearGradient id="g790" href="#c31" x1="449.97" y1="169" x2="455.06" y2="169"/>
<linearGradient id="g791" href="#c31" x1="450.01" y1="170" x2="455.42" y2="170"/>
<linearGradient id="g792" href="#c31" x1="453.91" y1="171" x2="459.9" y2="171"/>
<linearGradient id="g793" href="#c31" x1="449.6" y1="172" x2="455.88" y2="172"/>
<linearGradient id="g794" href="#c31" x1="453.33" y1="173" x2="460.42" y2="173"/>
<linearGradient id="g795" href="#c31" x1="451" y1="174" x2="458.17" y2="174"/>
<linearGradient id="g796" href="#c31" x1="454.45" y1="176" x2="463.91" y2="176"/>
<linearGradient id="g797" href="#c31" x1="445.69" y1="177" x2="456.02" y2="177"/>
<linearGradient id="g798" href="#c31" x1="444.99" y1="178" x2="456.59" y2="178"/>
<linearGradient id="g799" href="#c31" x1="439.82" y1="179" x2="457.11" y2="179"/>
<linearGradient id="g800" href="#c31" x1="454.12" y1="180" x2="470.63" y2="180"/>
<linearGradient id="g801" href="#c31" x1="430.15" y1="181" x2="459.53" y2="181"/>
<linearGradient id="g802" href="#c31" x1="428.34" y1="182" x2="469.99" y2="182"/>
<linearGradient id="g803" href="#c31" x1="429.34" y1="183" x2="468.18" y2="183"/>
<linearGradient id="g804" href="#c31" x1="424.86" y1="184" x2="674.86" y2="184"/>
<linearGradient id="g805" href="#c31" x1="409.72" y1="185" x2="659.72" y2="185"/>
<linearGradient id="g806" href="#c31" x1="479.63" y1="186" x2="418.93" y2="186"/>
<linearGradient id="g807" href="#c31" x1="470.04" y1="187" x2="389.67" y2="187"/>
<linearGradient id="g808" href="#c31" x1="424.68" y1="188" x2="674.68" y2="188"/>
<linearGradient id="g809" href="#c31" x1="393.36" y1="189" x2="484.31" y2="189"/>
<linearGradient id="g810" href="#c31" x1="451.92" y1="190" x2="479.41" y2="190"/>
<linearGradient id="g811" href="#c31" x1="452.16" y1="191" x2="481.51" y2="191"/>
<linearGradient id="g812" href="#c31" x1="444.37" y1="192" x2="462.26" y2="192"/>
<linearGradient id="g813" href="#c31" x1="448.17" y1="193" x2="462.36" y2="193"/>
<linearGradient id="g814" href="#c31" x1="444.17" y1="194" x2="455.12" y2="194"/>
<linearGradient id="g815" href="#c31" x1="448.92" y1="195" x2="458.1" y2="195"/>
<linearGradient id="g816" href="#c31" x1="452.24" y1="196" x2="460.08" y2="196"/>
<linearGradient id="g817" href="#c31" x1="452.49" y1="197" x2="459.58" y2="197"/>
<linearGradient id="g818" href="#c31" x1="452.05" y1="198" x2="458" y2="198"/>
<linearGradient id="g819" href="#c31" x1="450.96" y1="199" x2="456.58" y2="199"/>
<linearGradient id="g820" href="#c31" x1="450.65" y1="200" x2="455.89" y2="200"/>
<linearGradient id="g821" href="#c31" x1="453.34" y1="201" x2="458.03" y2="201"/>
<linearGradient id="g822" href="#c31" x1="453.67" y1="202" x2="458.04" y2="202"/>
<linearGradient id="g823" href="#c31" x1="454.11" y1="204" x2="457.97" y2="204"/>
<linearGradient id="g824" href="#c31" x1="454.14" y1="206" x2="457.58" y2="206"/>
<linearGradient id="g825" href="#c31" x1="452.56" y1="207" x2="456.09" y2="207"/>
<linearGradient id="g826" href="#c31" x1="452.96" y1="208" x2="456.48" y2="208"/>
<linearGradient id="g827" href="#c31" x1="451.55" y1="209" x2="454.95" y2="209"/>
<linearGradient id="g828" href="#c31" x1="452.96" y1="210" x2="456.29" y2="210"/>
<linearGradient id="g829" href="#c31" x1="453.92" y1="211" x2="457.18" y2="211"/>
<linearGradient id="g830" href="#c31" x1="454.55" y1="212" x2="457.76" y2="212"/>
<linearGradient id="g831" href="#c31" x1="454.22" y1="213" x2="457.43" y2="213"/>
<linearGradient id="g832" href="#c31" x1="454.33" y1="214" x2="457.5" y2="214"/>
<linearGradient id="g833" href="#c31" x1="453.34" y1="215" x2="456.39" y2="215"/>
<linearGradient id="g834" href="#c31" x1="451.76" y1="216" x2="454.87" y2="216"/>
<linearGradient id="g835" href="#c31" x1="451.84" y1="217" x2="454.92" y2="217"/>
<linearGradient id="g836" href="#c31" x1="452.15" y1="222" x2="455.08" y2="222"/>
<linearGradient id="g837" href="#c31" x1="453.92" y1="223" x2="456.74" y2="223"/>
<linearGradient id="g838" href="#c31" x1="452.46" y1="225" x2="455.3" y2="225"/>
<linearGradient id="g839" href="#c31" x1="453.78" y1="226" x2="456.53" y2="226"/>
<linearGradient id="g840" href="#c31" x1="454.1" y1="227" x2="456.95" y2="227"/>
<linearGradient id="g841" href="#c31" x1="453.34" y1="228" x2="456.07" y2="228"/>
<linearGradient id="g842" href="#c31" x1="452.4" y1="229" x2="455.16" y2="229"/>
<linearGradient id="g843" href="#c31" x1="453.52" y1="230" x2="456.34" y2="230"/>
<linearGradient id="g844" href="#c31" x1="454.52" y1="231" x2="457.29" y2="231"/>
<linearGradient id="g845" href="#c31" x1="453.4" y1="232" x2="456.09" y2="232"/>
<linearGradient id="g846" href="#c31" x1="453.15" y1="233" x2="455.85" y2="233"/>
<linearGradient id="g847" href="#c31" x1="454.11" y1="235" x2="456.76" y2="235"/>
<linearGradient id="g848" href="#c31" x1="452.51" y1="236" x2="455.12" y2="236"/>
<linearGradient id="g849" href="#c31" x1="453.85" y1="238" x2="456.52" y2="238"/>
<linearGradient id="g850" href="#c31" x1="452.48" y1="239" x2="455.1" y2="239"/>
<linearGradient id="g851" href="#c31" x1="452.18" y1="241" x2="454.74" y2="241"/>
<linearGradient id="g852" href="#c31" x1="454.26" y1="242" x2="456.84" y2="242"/>
<linearGradient id="g853" href="#c31" x1="452.98" y1="244" x2="455.52" y2="244"/>
<linearGradient id="g854" href="#c31" x1="454.39" y1="247" x2="456.87" y2="247"/>
<linearGradient id="g855" href="#c31" x1="453.98" y1="248" x2="456.47" y2="248"/>
<linearGradient id="g856" href="#c31" x1="452.81" y1="251" x2="455.33" y2="251"/>
<linearGradient id="g857" href="#c31" x1="454.51" y1="252" x2="456.95" y2="252"/>
<linearGradient id="g858" href="#c31" x1="452.52" y1="253" x2="454.93" y2="253"/>
<linearGradient id="g859" href="#c31" x1="453.22" y1="254" x2="455.69" y2="254"/>
<linearGradient id="g860" href="#c31" x1="453.44" y1="255" x2="455.88" y2="255"/>
<linearGradient id="g861" href="#c31" x1="453.36" y1="256" x2="455.79" y2="256"/>
<linearGradient id="g862" href="#c38" x1="439.81" y1="626" x2="442.56" y2="626"/>
<linearGradient id="g863" href="#c38" x1="438.36" y1="627" x2="441.21" y2="627"/>
<linearGradient id="g864" href="#c38" x1="437.8" y1="628" x2="440.65" y2="628"/>
<linearGradient id="g865" href="#c38" x1="438.87" y1="629" x2="441.84" y2="629"/>
<linearGradient id="g866" href="#c38" x1="437.68" y1="632" x2="440.92" y2="632"/>
<linearGradient id="g867" href="#c38" x1="438.53" y1="633" x2="441.98" y2="633"/>
<linearGradient id="g868" href="#c38" x1="437.44" y1="634" x2="440.93" y2="634"/>
<linearGradient id="g869" href="#c38" x1="437.74" y1="635" x2="441.57" y2="635"/>
<linearGradient id="g870" href="#c38" x1="439.33" y1="636" x2="443.36" y2="636"/>
<linearGradient id="g871" href="#c38" x1="437.66" y1="637" x2="441.8" y2="637"/>
<linearGradient id="g872" href="#c38" x1="438.24" y1="638" x2="442.8" y2="638"/>
<linearGradient id="g873" href="#c38" x1="436.43" y1="639" x2="441.09" y2="639"/>
<linearGradient id="g874" href="#c38" x1="438.52" y1="641" x2="444.13" y2="641"/>
<linearGradient id="g875" href="#c38" x1="435.32" y1="642" x2="441.29" y2="642"/>
<linearGradient id="g876" href="#c38" x1="439.91" y1="644" x2="447.45" y2="644"/>
<linearGradient id="g877" href="#c38" x1="436.12" y1="645" x2="444.38" y2="645"/>
<linearGradient id="g878" href="#c38" x1="432.51" y1="646" x2="441.33" y2="646"/>
<linearGradient id="g879" href="#c38" x1="433.8" y1="647" x2="445.07" y2="647"/>
<linearGradient id="g880" href="#c38" x1="434.95" y1="649" x2="450.04" y2="649"/>
<linearGradient id="g881" href="#c38" x1="419.42" y1="650" x2="441.6" y2="650"/>
<linearGradient id="g882" href="#c38" x1="421.81" y1="651" x2="461.91" y2="651"/>
<linearGradient id="g883" href="#c38" x1="393.15" y1="652" x2="456.62" y2="652"/>
<linearGradient id="g884" href="#c38" x1="424.13" y1="653" x2="674.13" y2="653"/>
<linearGradient id="g885" href="#c38" x1="469.08" y1="654" x2="399.69" y2="654"/>
<linearGradient id="g886" href="#c38" x1="465.87" y1="655" x2="419.2" y2="655"/>
<linearGradient id="g887" href="#c38" x1="461.42" y1="656" x2="438.3" y2="656"/>
<linearGradient id="g888" href="#c38" x1="385.91" y1="658" x2="440.17" y2="658"/>
<linearGradient id="g889" href="#c38" x1="422.23" y1="659" x2="441.47" y2="659"/>
<linearGradient id="g890" href="#c38" x1="431.08" y1="660" x2="442.53" y2="660"/>
<linearGradient id="g891" href="#c38" x1="432.6" y1="661" x2="441.25" y2="661"/>
<linearGradient id="g892" href="#c38" x1="439.58" y1="662" x2="446.79" y2="662"/>
<linearGradient id="g893" href="#c38" x1="437.44" y1="663" x2="443.84" y2="663"/>
<linearGradient id="g894" href="#c38" x1="436.34" y1="666" x2="440.75" y2="666"/>
<linearGradient id="g895" href="#c38" x1="438.99" y1="667" x2="443.09" y2="667"/>
<linearGradient id="g896" href="#c38" x1="438.84" y1="668" x2="442.5" y2="668"/>
<linearGradient id="g897" href="#c38" x1="438.74" y1="671" x2="441.78" y2="671"/>
<linearGradient id="g898" href="#c38" x1="437.8" y1="672" x2="440.68" y2="672"/>
<linearGradient id="g899" href="#c140" x1="333.51" y1="704" x2="344.42" y2="704"/>
<linearGradient id="g900" href="#c140" x1="322.4" y1="705" x2="356.57" y2="705"/>
<linearGradient id="g901" href="#c140" x1="367.71" y1="706" x2="320.96" y2="706"/>
<linearGradient id="g902" href="#c140" x1="356.43" y1="707" x2="327.96" y2="707"/>
<linearGradient id="g903" href="#c140" x1="370.18" y1="708" x2="342.25" y2="708"/>
<linearGradient id="g904" href="#c140" x1="497.2" y1="709" x2="321.02" y2="709"/>
<linearGradient id="g905" href="#c140" x1="348.37" y1="710" x2="184.23" y2="710"/>
<linearGradient id="g906" href="#c140" x1="325.67" y1="711" x2="356.52" y2="711"/>
<linearGradient id="g907" href="#c140" x1="316.7" y1="712" x2="349" y2="712"/>
<linearGradient id="g908" href="#c140" x1="338.83" y1="713" x2="353.32" y2="713"/>
<linearGradient id="g909" href="#c140" x1="306.25" y1="714" x2="368.84" y2="714"/>
<linearGradient id="g910" href="#c140" x1="140.8" y1="715" x2="390.8" y2="715"/>
<linearGradient id="g911" href="#c140" x1="317.49" y1="716" x2="374.21" y2="716"/>
<linearGradient id="g912" href="#c140" x1="344.5" y1="717" x2="322.65" y2="717"/>
<linearGradient id="g913" href="#c8" x1="367.76" y1="355" x2="338.26" y2="355"/>
<linearGradient id="g914" href="#c8" x1="365.08" y1="356" x2="328.74" y2="356"/>
<linearGradient id="g915" href="#c8" x1="358.59" y1="357" x2="310.77" y2="357"/>
<linearGradient id="g916" href="#c8" x1="325.83" y1="359" x2="353.76" y2="359"/>
<linearGradient id="g917" href="#c8" x1="299.42" y1="360" x2="357.68" y2="360"/>
<linearGradient id="g918" href="#c8" x1="357.18" y1="361" x2="320.22" y2="361"/>
<linearGradient id="g919" href="#c8" x1="394.7" y1="362" x2="342.99" y2="362"/>
<linearGradient id="g920" href="#c8" x1="365.55" y1="363" x2="233.89" y2="363"/>
<linearGradient id="g921" href="#c8" x1="315.26" y1="365" x2="345.18" y2="365"/>
<linearGradient id="g922" href="#c8" x1="190.42" y1="366" x2="355" y2="366"/>
<linearGradient id="g923" href="#c8" x1="348.38" y1="367" x2="320.01" y2="367"/>
<linearGradient id="g924" href="#c8" x1="312.66" y1="368" x2="372.21" y2="368"/>
<linearGradient id="g925" href="#c8" x1="359.78" y1="370" x2="323.69" y2="370"/>
<linearGradient id="g926" href="#c8" x1="294.09" y1="372" x2="350.74" y2="372"/>
<linearGradient id="g927" href="#c8" x1="361.62" y1="373" x2="290.04" y2="373"/>
<linearGradient id="g928" href="#c8" x1="354.8" y1="374" x2="322.88" y2="374"/>
<linearGradient id="g929" href="#c8" x1="325.67" y1="375" x2="474.3" y2="375"/>
<linearGradient id="g930" href="#c178" x1="555.01" y1="80.44" x2="556.75" y2="81.43"/>
<linearGradient id="g931" href="#c178" x1="555.73" y1="85.91" x2="557.81" y2="86.59"/>
<radialGradient id="g932" href="#r102_4" cx="447.57" cy="90.56" r="2.7"/>
<radialGradient id="g933" href="#r153_2" cx="428.16" cy="92.57" r="2.2"/>
<linearGradient id="g934" href="#c178" x1="556.18" y1="101.12" x2="553.63" y2="99.48"/>
<linearGradient id="g935" href="#c128" x1="555.07" y1="109.01" x2="557.05" y2="111.11"/>
<radialGradient id="g936" href="#r153_5" cx="502.58" cy="128.29" r="3.1"/>
<linearGradient id="g937" href="#c178" x1="557.34" y1="126.52" x2="554.51" y2="127.54"/>
<linearGradient id="g938" href="#c128" x1="554.23" y1="136.31" x2="556.11" y2="138.11"/>
<linearGradient id="g939" href="#c128" x1="557.29" y1="142.65" x2="555.14" y2="143.23"/>
<linearGradient id="g940" href="#c102" x1="555.73" y1="148.92" x2="558.02" y2="149.61"/>
<linearGradient id="g941" href="#c76" x1="555.43" y1="159.65" x2="557.76" y2="161.08"/>
<radialGradient id="g942" href="#r128_6" cx="565.19" cy="159.69" r="3.6"/>
<radialGradient id="g943" href="#r178_7" cx="524.96" cy="188.3" r="3.6"/>
<linearGradient id="g944" href="#c153" x1="554.42" y1="180.39" x2="556.85" y2="181.33"/>
<radialGradient id="g945" href="#r102_2" cx="488.28" cy="200.92" r="3.6"/>
<radialGradient id="g946" href="#r102_1" cx="455.24" cy="208.08" r="2.05"/>
<radialGradient id="g947" href="#r153_6" cx="721.38" cy="204.12" r="2.05"/>
<radialGradient id="g948" href="#r102_0" cx="782.05" cy="203.77" r="2.4"/>
<linearGradient id="g949" href="#c76" x1="554.95" y1="216.39" x2="557.14" y2="215.57"/>
<linearGradient id="g950" href="#c153" x1="556.14" y1="221.93" x2="554.41" y2="222.79"/>
<radialGradient id="g951" href="#r76_6" cx="412.69" cy="234.87" r="3.6"/>
<radialGradient id="g952" href="#r102_2" cx="433.87" cy="242.02" r="2.7"/>
<linearGradient id="g953" href="#c153" x1="558.39" y1="238.9" x2="554.93" y2="240.49"/>
<linearGradient id="g954" href="#c128" x1="556.03" y1="246.98" x2="554.65" y2="248.01"/>
<radialGradient id="g955" href="#r76_7" cx="559.49" cy="258.69" r="2.4"/>
<linearGradient id="g956" href="#c76" x1="555.45" y1="265.34" x2="558.47" y2="263.46"/>
<radialGradient id="g957" href="#r102_7" cx="520.78" cy="266.21" r="3.6"/>
<radialGradient id="g958" href="#r128_4" cx="555.33" cy="289.92" r="2.2"/>
<radialGradient id="g959" href="#r178_4" cx="402.67" cy="302.31" r="3.6"/>
<linearGradient id="g960" href="#c178" x1="555.98" y1="293.99" x2="557.54" y2="295.06"/>
<linearGradient id="g961" href="#c76" x1="556.22" y1="303.11" x2="553.94" y2="302.02"/>
<linearGradient id="g962" href="#c76" x1="554.12" y1="313.42" x2="556.09" y2="314.03"/>
<linearGradient id="g963" href="#c76" x1="555.65" y1="323.3" x2="557.46" y2="321.72"/>
<radialGradient id="g964" href="#r102_4" cx="483.54" cy="318.31" r="2.4"/>
<linearGradient id="g965" href="#c153" x1="556.62" y1="335.62" x2="554.83" y2="333.82"/>
<linearGradient id="g966" href="#c128" x1="556.3" y1="337.89" x2="554.42" y2="338.6"/>
<linearGradient id="g967" href="#c102" x1="554.22" y1="348.51" x2="556.22" y2="349.06"/>
<radialGradient id="g968" href="#r128_3" cx="691.95" cy="374.2" r="2.2"/>
<linearGradient id="g969" href="#c102" x1="554.1" y1="365.5" x2="556.01" y2="366"/>
<radialGradient id="g970" href="#r102_1" cx="755.64" cy="375.45" r="2.05"/>
<radialGradient id="g971" href="#r76_4" cx="470.35" cy="388.69" r="3.1"/>
<radialGradient id="g972" href="#r102_2" cx="786.58" cy="379.69" r="2.2"/>
<linearGradient id="g973" href="#c153" x1="554.88" y1="389.72" x2="556.91" y2="390.23"/>
<radialGradient id="g974" href="#r76_7" cx="680.53" cy="398.83" r="2.4"/>
<radialGradient id="g975" href="#r102_5" cx="668.51" cy="400.79" r="2.4"/>
<radialGradient id="g976" href="#r128_5" cx="697.07" cy="402.56" r="2.05"/>
<linearGradient id="g977" href="#c178" x1="556.72" y1="409.19" x2="554.87" y2="411.27"/>
<radialGradient id="g978" href="#r76_7" cx="712.1" cy="426.14" r="2.7"/>
<radialGradient id="g979" href="#r76_7" cx="408.85" cy="423.58" r="2.2"/>
<radialGradient id="g980" href="#r128_4" cx="788.46" cy="435.71" r="3.6"/>
<linearGradient id="g981" href="#c76" x1="554.89" y1="429.42" x2="557.34" y2="428.49"/>
<radialGradient id="g982" href="#r153_6" cx="710.84" cy="449.88" r="2.05"/>
<linearGradient id="g983" href="#c178" x1="557.58" y1="446.6" x2="555.57" y2="448.38"/>
<linearGradient id="g984" href="#c178" x1="555.54" y1="454.13" x2="557.43" y2="453.58"/>
<radialGradient id="g985" href="#r76_6" cx="428.26" cy="468.84" r="2.7"/>
<linearGradient id="g986" href="#c178" x1="557.47" y1="467.11" x2="555.13" y2="468.53"/>
<radialGradient id="g987" href="#r153_0" cx="526.53" cy="468.77" r="2.4"/>
<linearGradient id="g988" href="#c102" x1="556.28" y1="480.85" x2="554.67" y2="481.7"/>
<linearGradient id="g989" href="#c102" x1="556.73" y1="489.8" x2="554.41" y2="490.44"/>
<radialGradient id="g990" href="#r76_7" cx="755" cy="493.08" r="2.2"/>
<linearGradient id="g991" href="#c76" x1="554.96" y1="504.98" x2="556.45" y2="503.58"/>
<linearGradient id="g992" href="#c128" x1="558.2" y1="506.87" x2="555.98" y2="508.01"/>
<linearGradient id="g993" href="#c128" x1="556.99" y1="517.28" x2="554.63" y2="518.99"/>
<linearGradient id="g994" href="#c76" x1="557.08" y1="525.92" x2="555.28" y2="527.72"/>
<radialGradient id="g995" href="#r102_3" cx="703.98" cy="533.23" r="2.4"/>
<linearGradient id="g996" href="#c102" x1="555.97" y1="538.99" x2="557.61" y2="539.9"/>
<linearGradient id="g997" href="#c102" x1="556.42" y1="548.6" x2="554.96" y2="550"/>
<linearGradient id="g998" href="#c178" x1="555.97" y1="557.99" x2="559.64" y2="559.39"/>
<radialGradient id="g999" href="#r178_7" cx="667.01" cy="574.47" r="3.6"/>
<linearGradient id="g1000" href="#c128" x1="555.3" y1="567.47" x2="556.67" y2="568.51"/>
<linearGradient id="g1001" href="#c153" x1="555.38" y1="577.75" x2="557.23" y2="578.49"/>
<radialGradient id="g1002" href="#r153_4" cx="777.39" cy="583.38" r="2.4"/>
<radialGradient id="g1003" href="#r76_3" cx="736.68" cy="595.63" r="2.2"/>
<radialGradient id="g1004" href="#r178_5" cx="790.64" cy="596.35" r="3.1"/>
<radialGradient id="g1005" href="#r153_6" cx="739.46" cy="606.98" r="2.05"/>
<linearGradient id="g1006" href="#c76" x1="557.23" y1="613.41" x2="555.57" y2="614.21"/>
<linearGradient id="g1007" href="#c128" x1="557.47" y1="616.34" x2="554.81" y2="617.54"/>
<radialGradient id="g1008" href="#r153_7" cx="493.39" cy="614.25" r="3.6"/>
<linearGradient id="g1009" href="#c76" x1="556.21" y1="630.12" x2="554.68" y2="629.23"/>
<linearGradient id="g1010" href="#c153" x1="556.3" y1="638.26" x2="554.26" y2="636.48"/>
<radialGradient id="g1011" href="#r153_5" cx="763.89" cy="641.76" r="3.6"/>
<radialGradient id="g1012" href="#r76_6" cx="680.56" cy="646.49" r="2.4"/>
<radialGradient id="g1013" href="#r128_2" cx="476.76" cy="651.4" r="3.6"/>
<radialGradient id="g1014" href="#r153_0" cx="520.8" cy="655.18" r="3.1"/>
<radialGradient id="g1015" href="#r178_4" cx="677.45" cy="685.57" r="2.7"/>
<linearGradient id="g1016" href="#c76" x1="557.62" y1="676.34" x2="555.57" y2="678.44"/>
<radialGradient id="g1017" href="#r153_0" cx="725.33" cy="697.94" r="2.4"/>
<radialGradient id="g1018" href="#r102_1" cx="770.02" cy="682.79" r="2.7"/>
<radialGradient id="g1019" href="#r76_7" cx="493.94" cy="711.88" r="3.6"/>
<radialGradient id="g1020" href="#r153_6" cx="736.14" cy="709.92" r="2.7"/>
<linearGradient id="g1021" href="#c76" x1="556.22" y1="716.07" x2="554.11" y2="715.43"/>
<radialGradient id="g1022" href="#r76_3" cx="582.3" cy="85.89" r="2.7"/>
<linearGradient id="g1023" href="#c38" x1="642.09" y1="92.93" x2="640.62" y2="94.07"/>
<linearGradient id="g1024" href="#c51" x1="640.39" y1="95.42" x2="642.47" y2="96.17"/>
<linearGradient id="g1025" href="#c76" x1="643.25" y1="100.35" x2="641.59" y2="101.21"/>
<linearGradient id="g1026" href="#c38" x1="642.47" y1="107.3" x2="640.98" y2="106.35"/>
<radialGradient id="g1027" href="#r38_2" cx="847.85" cy="134.3" r="2.2"/>
<linearGradient id="g1028" href="#c76" x1="641.24" y1="128.68" x2="642.68" y2="127.39"/>
<radialGradient id="r64_6" gradientUnits="userSpaceOnUse" spreadMethod="repeat"><stop offset="0" stop-color="#8f4000"/><stop offset="0.25" stop-color="#9f4000"/><stop offset="0.25" stop-color="#604000"/><stop offset="1" stop-color="#8f4000"/></radialGradient>
<radialGradient id="g1029" href="#r64_6" cx="790.96" cy="154.03" r="2.05"/>
<radialGradient id="r51_5" gradientUnits="userSpaceOnUse" spreadMethod="repeat"><stop offset="0" stop-color="#873300"/><stop offset="0.38" stop-color="#9f3300"/><stop offset="0.38" stop-color="#603300"/><stop offset="1" stop-color="#873300"/></radialGradient>
<radialGradient id="g1030" href="#r51_5" cx="781.29" cy="137.48" r="2.2"/>
<radialGradient id="r38_3" gradientUnits="userSpaceOnUse" spreadMethod="repeat"><stop offset="0" stop-color="#782600"/><stop offset="0.62" stop-color="#9f2600"/><stop offset="0.62" stop-color="#602600"/><stop offset="1" stop-color="#782600"/></radialGradient>
<radialGradient id="g1031" href="#r38_3" cx="886.62" cy="164.95" r="2.7"/>
<linearGradient id="g1032" href="#c64" x1="641.8" y1="168.89" x2="643.48" y2="169.83"/>
<radialGradient id="g1033" href="#r51_0" cx="721.38" cy="175.72" r="3.6"/>
<radialGradient id="g1034" href="#r38_6" cx="495.26" cy="176.57" r="2.05"/>
<linearGradient id="g1035" href="#c38" x1="643.55" y1="192.33" x2="641.78" y2="193.1"/>
<linearGradient id="g1036" href="#c51" x1="643.51" y1="195.71" x2="641.48" y2="196.1"/>
<linearGradient id="g1037" href="#c51" x1="641.77" y1="207.84" x2="643.15" y2="208.8"/>
<linearGradient id="g1038" href="#c64" x1="643.21" y1="217.12" x2="641.24" y2="218.55"/>
<linearGradient id="g1039" href="#c76" x1="643.47" y1="226.65" x2="641.75" y2="225.89"/>
<linearGradient id="g1040" href="#c76" x1="640.31" y1="229.66" x2="642.57" y2="230.12"/>
<linearGradient id="g1041" href="#c38" x1="642.18" y1="233.12" x2="640.73" y2="232.15"/>
<radialGradient id="r38_4" gradientUnits="userSpaceOnUse" spreadMethod="repeat"><stop offset="0" stop-color="#802600"/><stop offset="0.5" stop-color="#9f2600"/><stop offset="0.5" stop-color="#602600"/><stop offset="1" stop-color="#802600"/></radialGradient>
<radialGradient id="g1042" href="#r38_4" cx="646.09" cy="247.8" r="2.2"/>
<linearGradient id="g1043" href="#c51" x1="642.13" y1="248.94" x2="640.27" y2="249.89"/>
<linearGradient id="g1044" href="#c64" x1="642.21" y1="255.83" x2="640.78" y2="256.98"/>
<linearGradient id="g1045" href="#c38" x1="643.37" y1="264.74" x2="641.66" y2="263.82"/>
<radialGradient id="g1046" href="#r76_5" cx="757.24" cy="267.18" r="3.1"/>
<radialGradient id="g1047" href="#r76_5" cx="865.74" cy="276.45" r="2.05"/>
<radialGradient id="g1048" href="#r38_6" cx="537.82" cy="275.27" r="2.05"/>
<linearGradient id="g1049" href="#c38" x1="640.19" y1="293.66" x2="642.26" y2="292.91"/>
<radialGradient id="g1050" href="#r64_5" cx="580.14" cy="293.04" r="3.6"/>
<radialGradient id="g1051" href="#r38_6" cx="793.65" cy="330.46" r="2.05"/>
<radialGradient id="r38_1" gradientUnits="userSpaceOnUse" spreadMethod="repeat"><stop offset="0" stop-color="#682600"/><stop offset="0.88" stop-color="#9f2600"/><stop offset="0.88" stop-color="#602600"/><stop offset="1" stop-color="#682600"/></radialGradient>
<radialGradient id="g1052" href="#r38_1" cx="835.49" cy="333.79" r="2.05"/>
<radialGradient id="g1053" href="#r64_1" cx="804.66" cy="329.97" r="3.6"/>
<radialGradient id="r38_5" gradientUnits="userSpaceOnUse" spreadMethod="repeat"><stop offset="0" stop-color="#872600"/><stop offset="0.38" stop-color="#9f2600"/><stop offset="0.38" stop-color="#602600"/><stop offset="1" stop-color="#872600"/></radialGradient>
<radialGradient id="g1054" href="#r38_5" cx="819.62" cy="329.68" r="2.7"/>
<linearGradient id="g1055" href="#c76" x1="643.48" y1="333.14" x2="641.95" y2="334.03"/>
<radialGradient id="g1056" href="#r76_4" cx="857.69" cy="346.03" r="2.7"/>
<radialGradient id="r51_3" gradientUnits="userSpaceOnUse" spreadMethod="repeat"><stop offset="0" stop-color="#783300"/><stop offset="0.62" stop-color="#9f3300"/><stop offset="0.62" stop-color="#603300"/><stop offset="1" stop-color="#783300"/></radialGradient>
<radialGradient id="g1057" href="#r51_3" cx="510.1" cy="343.2" r="3.6"/>
<linearGradient id="g1058" href="#c51" x1="642.22" y1="356.16" x2="640.82" y2="355.17"/>
<linearGradient id="g1059" href="#c76" x1="642.41" y1="365.18" x2="640.69" y2="364.42"/>
<radialGradient id="r51_2" gradientUnits="userSpaceOnUse" spreadMethod="repeat"><stop offset="0" stop-color="#703300"/><stop offset="0.75" stop-color="#9f3300"/><stop offset="0.75" stop-color="#603300"/><stop offset="1" stop-color="#703300"/></radialGradient>
<radialGradient id="g1060" href="#r51_2" cx="553.51" cy="387.24" r="2.05"/>
<linearGradient id="g1061" href="#c51" x1="641.31" y1="387.17" x2="643.38" y2="386.65"/>
<linearGradient id="g1062" href="#c76" x1="643.55" y1="394.31" x2="641.38" y2="395.28"/>
<radialGradient id="g1063" href="#r76_4" cx="802.81" cy="413.13" r="3.6"/>
<radialGradient id="g1064" href="#r38_3" cx="719.51" cy="415.56" r="2.7"/>
<linearGradient id="g1065" href="#c76" x1="641.26" y1="421.37" x2="643.14" y2="420.43"/>
<radialGradient id="g1066" href="#r51_5" cx="764.61" cy="424.41" r="2.05"/>
<linearGradient id="g1067" href="#c51" x1="642.24" y1="427.84" x2="640.84" y2="428.79"/>
<radialGradient id="g1068" href="#r76_7" cx="839.34" cy="429.92" r="3.6"/>
<radialGradient id="g1069" href="#r51_7" cx="735.99" cy="441.47" r="2.7"/>
<radialGradient id="g1070" href="#r38_1" cx="802.98" cy="462.48" r="2.05"/>
<linearGradient id="g1071" href="#c38" x1="640.36" y1="458.3" x2="642.39" y2="457.93"/>
<radialGradient id="g1072" href="#r76_0" cx="553.2" cy="463.2" r="3.1"/>
<radialGradient id="g1073" href="#r38_1" cx="747.12" cy="481.14" r="2.7"/>
<radialGradient id="g1074" href="#r76_5" cx="495.62" cy="475.57" r="2.2"/>
<radialGradient id="g1075" href="#r76_4" cx="653.69" cy="492.26" r="3.6"/>
<radialGradient id="g1076" href="#r76_7" cx="645.19" cy="495.4" r="3.6"/>
<linearGradient id="g1077" href="#c76" x1="643.37" y1="489.01" x2="641.99" y2="490.01"/>
<linearGradient id="g1078" href="#c51" x1="641.13" y1="498.42" x2="643.56" y2="497.25"/>
<radialGradient id="g1079" href="#r51_2" cx="777.54" cy="517.82" r="2.2"/>
<radialGradient id="g1080" href="#r76_3" cx="775.18" cy="512.94" r="2.2"/>
<radialGradient id="g1081" href="#r51_5" cx="593.96" cy="518.09" r="2.05"/>
<radialGradient id="g1082" href="#r76_5" cx="596.45" cy="534.53" r="3.6"/>
<linearGradient id="g1083" href="#c38" x1="641.49" y1="535.49" x2="643.04" y2="533.99"/>
<radialGradient id="g1084" href="#r76_2" cx="733.05" cy="558.23" r="3.1"/>
<linearGradient id="g1085" href="#c76" x1="641.13" y1="555.8" x2="643.13" y2="556.26"/>
<linearGradient id="g1086" href="#c38" x1="641.48" y1="562.34" x2="642.93" y2="561.4"/>
<linearGradient id="g1087" href="#c51" x1="640.51" y1="565.72" x2="642.21" y2="564.9"/>
<radialGradient id="r51_6" gradientUnits="userSpaceOnUse" spreadMethod="repeat"><stop offset="0" stop-color="#8f3300"/><stop offset="0.25" stop-color="#9f3300"/><stop offset="0.25" stop-color="#603300"/><stop offset="1" stop-color="#8f3300"/></radialGradient>
<radialGradient id="g1088" href="#r51_6" cx="822.16" cy="567.22" r="2.2"/>
<radialGradient id="g1089" href="#r38_2" cx="655.14" cy="578.75" r="2.2"/>
<linearGradient id="g1090" href="#c38" x1="643.4" y1="591.98" x2="641.92" y2="590.94"/>
<radialGradient id="g1091" href="#r76_5" cx="499.73" cy="594.01" r="2.7"/>
<linearGradient id="g1092" href="#c38" x1="641.25" y1="610.22" x2="642.7" y2="611.72"/>
<radialGradient id="g1093" href="#r38_5" cx="546.68" cy="629.5" r="3.6"/>
<radialGradient id="g1094" href="#r76_5" cx="600.12" cy="622.4" r="2.4"/>
<linearGradient id="g1095" href="#c76" x1="641.4" y1="637.13" x2="643.5" y2="636.67"/>
<linearGradient id="g1096" href="#c38" x1="643.33" y1="642.72" x2="641.07" y2="643.19"/>
<radialGradient id="g1097" href="#r38_0" cx="762.06" cy="649.73" r="2.4"/>
<linearGradient id="g1098" href="#c76" x1="641.76" y1="659.15" x2="643.62" y2="657.98"/>
<linearGradient id="g1099" href="#c51" x1="640.27" y1="667.17" x2="642.39" y2="668.19"/>
<radialGradient id="g1100" href="#r76_6" cx="773.89" cy="680.81" r="3.6"/>
<linearGradient id="g1101" href="#c51" x1="639.64" y1="675.25" x2="642.37" y2="676.12"/>
<radialGradient id="g1102" href="#r76_5" cx="741.72" cy="680.69" r="3.6"/>
<linearGradient id="g1103" href="#c76" x1="642.91" y1="684.46" x2="641.39" y2="685.36"/>
<radialGradient id="g1104" href="#r76_3" cx="885.18" cy="691.49" r="3.1"/>
<linearGradient id="g1105" href="#c76" x1="642.14" y1="699.95" x2="640.07" y2="700.71"/>
<linearGradient id="g1106" href="#c76" x1="640.76" y1="708.6" x2="642.54" y2="707.74"/>
<linearGradient id="g1107" href="#c38" x1="642.4" y1="716.23" x2="640.64" y2="715.21"/>
<linearGradient id="g1108" href="#c128" x1="731.31" y1="80.07" x2="735.06" y2="81.37"/>
<linearGradient id="g1109" href="#c76" x1="735.65" y1="83.84" x2="733.23" y2="85.54"/>
<linearGradient id="g1110" href="#c76" x1="732.31" y1="90.26" x2="734.12" y2="91.05"/>
<linearGradient id="g1111" href="#c102" x1="732.52" y1="100.32" x2="734.08" y2="98.93"/>
<linearGradient id="g1112" href="#c128" x1="733.59" y1="102.68" x2="735.33" y2="104.04"/>
<radialGradient id="g1113" href="#r102_7" cx="593.85" cy="102.34" r="2.2"/>
<radialGradient id="g1114" href="#r153_5" cx="855.05" cy="109.99" r="2.4"/>
<radialGradient id="g1115" href="#r153_3" cx="902.05" cy="106.15" r="2.4"/>
<linearGradient id="g1116" href="#c76" x1="736.13" y1="125.74" x2="733.76" y2="127.14"/>
<radialGradient id="g1117" href="#r128_7" cx="662.09" cy="132.99" r="2.4"/>
<radialGradient id="g1118" href="#r178_0" cx="908.6" cy="139.4" r="2.05"/>
<radialGradient id="g1119" href="#r102_2" cx="876.11" cy="142.68" r="3.6"/>
<radialGradient id="g1120" href="#r178_7" cx="651.89" cy="162.24" r="2.05"/>
<radialGradient id="g1121" href="#r76_0" cx="652.98" cy="163.75" r="2.05"/>
<linearGradient id="g1122" href="#c153" x1="734.26" y1="161.06" x2="731.87" y2="160.53"/>
<radialGradient id="g1123" href="#r76_0" cx="877.96" cy="164.43" r="2.4"/>
<linearGradient id="g1124" href="#c128" x1="733.93" y1="173.95" x2="735.63" y2="175.12"/>
<linearGradient id="g1125" href="#c153" x1="734.18" y1="179.91" x2="732.56" y2="180.74"/>
<radialGradient id="g1126" href="#r178_1" cx="889.13" cy="197.87" r="3.1"/>
<linearGradient id="g1127" href="#c102" x1="732.98" y1="190.79" x2="734.54" y2="189.58"/>
<radialGradient id="g1128" href="#r76_5" cx="619.51" cy="205.61" r="2.2"/>
<radialGradient id="g1129" href="#r76_5" cx="775.53" cy="207.51" r="3.6"/>
<linearGradient id="g1130" href="#c153" x1="733.92" y1="218.06" x2="735.62" y2="216.69"/>
<linearGradient id="g1131" href="#c178" x1="732.46" y1="220.12" x2="735.18" y2="221.67"/>
<radialGradient id="g1132" href="#r128_4" cx="684.25" cy="229.72" r="2.7"/>
<radialGradient id="g1133" href="#r76_4" cx="767.82" cy="226.82" r="2.05"/>
<linearGradient id="g1134" href="#c178" x1="732.06" y1="239.37" x2="734.04" y2="238.99"/>
<linearGradient id="g1135" href="#c178" x1="732.01" y1="244.41" x2="734.41" y2="243.92"/>
<radialGradient id="g1136" href="#r76_6" cx="554.75" cy="248.16" r="3.1"/>
<linearGradient id="g1137" href="#c178" x1="733.46" y1="256.72" x2="735.15" y2="257.6"/>
<radialGradient id="g1138" href="#r102_6" cx="676.09" cy="285.26" r="2.2"/>
<radialGradient id="g1139" href="#r102_7" cx="649.42" cy="293.71" r="2.4"/>
<linearGradient id="g1140" href="#c102" x1="734.74" y1="286.3" x2="732.6" y2="285.43"/>
<radialGradient id="g1141" href="#r153_5" cx="560.29" cy="302.8" r="2.2"/>
<linearGradient id="g1142" href="#c102" x1="735.21" y1="300.25" x2="733" y2="299.79"/>
<linearGradient id="g1143" href="#c128" x1="732.82" y1="305.38" x2="734.43" y2="306.23"/>
<linearGradient id="g1144" href="#c153" x1="732.05" y1="318.13" x2="734.75" y2="316.57"/>
<radialGradient id="g1145" href="#r153_7" cx="784.44" cy="331.72" r="2.7"/>
<radialGradient id="g1146" href="#r128_1" cx="550.97" cy="331.35" r="2.2"/>
<radialGradient id="g1147" href="#r102_2" cx="832.63" cy="339.72" r="2.05"/>
<linearGradient id="g1148" href="#c102" x1="733.52" y1="359.46" x2="735.11" y2="361.25"/>
<linearGradient id="g1149" href="#c76" x1="731.97" y1="370.11" x2="734.22" y2="372.21"/>
<radialGradient id="g1150" href="#r76_4" cx="608.7" cy="375.91" r="3.6"/>
<radialGradient id="g1151" href="#r128_2" cx="835.72" cy="376.95" r="3.6"/>
<linearGradient id="g1152" href="#c178" x1="732.8" y1="388.76" x2="735.09" y2="387.31"/>
<radialGradient id="g1153" href="#r128_3" cx="925.17" cy="386.52" r="2.7"/>
<radialGradient id="g1154" href="#r178_5" cx="862.52" cy="397.64" r="2.2"/>
<linearGradient id="g1155" href="#c153" x1="733.08" y1="397.91" x2="734.84" y2="399.99"/>
<radialGradient id="g1156" href="#r178_4" cx="854.78" cy="416.74" r="2.7"/>
<radialGradient id="g1157" href="#r153_6" cx="536.09" cy="433.48" r="2.4"/>
<radialGradient id="g1158" href="#r178_3" cx="611.72" cy="419.4" r="3.1"/>
<linearGradient id="g1159" href="#c102" x1="732.98" y1="431.37" x2="734.54" y2="432.33"/>
<radialGradient id="g1160" href="#r102_7" cx="545.15" cy="445.52" r="2.7"/>
<linearGradient id="g1161" href="#c128" x1="733.96" y1="443.98" x2="736.96" y2="445.87"/>
<linearGradient id="g1162" href="#c178" x1="734" y1="455" x2="735.72" y2="455.75"/>
<radialGradient id="g1163" href="#r76_5" cx="852.58" cy="450.61" r="3.6"/>
<linearGradient id="g1164" href="#c102" x1="732.98" y1="464.65" x2="734.75" y2="463.52"/>
<linearGradient id="g1165" href="#c153" x1="732.9" y1="469.97" x2="734.39" y2="471.36"/>
<linearGradient id="g1166" href="#c102" x1="733.61" y1="478.84" x2="736.34" y2="479.97"/>
<radialGradient id="g1167" href="#r128_6" cx="540.37" cy="484.18" r="2.2"/>
<linearGradient id="g1168" href="#c178" x1="734.43" y1="492.85" x2="732.21" y2="493.63"/>
<linearGradient id="g1169" href="#c76" x1="731.6" y1="503.07" x2="734.27" y2="501.88"/>
<linearGradient id="g1170" href="#c178" x1="733.63" y1="511.87" x2="736.5" y2="512.85"/>
<linearGradient id="g1171" href="#c128" x1="733.45" y1="523.61" x2="735.06" y2="521.82"/>
<radialGradient id="g1172" href="#r153_2" cx="549" cy="539.81" r="2.2"/>
<radialGradient id="g1173" href="#r76_1" cx="833.87" cy="543.76" r="3.6"/>
<radialGradient id="g1174" href="#r178_3" cx="791.97" cy="532.96" r="2.7"/>
<linearGradient id="g1175" href="#c153" x1="733.5" y1="548.57" x2="735.36" y2="550.15"/>
<linearGradient id="g1176" href="#c153" x1="734.54" y1="560.76" x2="732.19" y2="561.79"/>
<linearGradient id="g1177" href="#c153" x1="735.39" y1="564.21" x2="733.84" y2="565.09"/>
<linearGradient id="g1178" href="#c178" x1="733.12" y1="573.18" x2="734.62" y2="574.57"/>
<linearGradient id="g1179" href="#c153" x1="731.54" y1="579.84" x2="735.3" y2="578.55"/>
<radialGradient id="g1180" href="#r76_2" cx="668.85" cy="592.62" r="3.1"/>
<linearGradient id="g1181" href="#c102" x1="733.87" y1="597.9" x2="735.3" y2="599.01"/>
<linearGradient id="g1182" href="#c128" x1="735.29" y1="603.02" x2="733.87" y2="601.9"/>
<linearGradient id="g1183" href="#c153" x1="733.01" y1="614.7" x2="734.88" y2="613.38"/>
<linearGradient id="g1184" href="#c102" x1="735.81" y1="619.52" x2="733.5" y2="618.86"/>
<linearGradient id="g1185" href="#c128" x1="733.4" y1="625.75" x2="735.23" y2="626.51"/>
<radialGradient id="g1186" href="#r76_6" cx="698.91" cy="630.35" r="2.4"/>
<linearGradient id="g1187" href="#c102" x1="734.44" y1="639.7" x2="732.88" y2="640.77"/>
<radialGradient id="g1188" href="#r128_3" cx="646.43" cy="656.46" r="2.05"/>
<linearGradient id="g1189" href="#c128" x1="735.95" y1="653.19" x2="732.9" y2="651.32"/>
<linearGradient id="g1190" href="#c102" x1="733.14" y1="662.64" x2="735.1" y2="663.46"/>
<radialGradient id="g1191" href="#r76_6" cx="676.94" cy="687.33" r="3.1"/>
<radialGradient id="g1192" href="#r102_3" cx="602.9" cy="674.97" r="2.7"/>
<radialGradient id="g1193" href="#r102_6" cx="817.23" cy="698.98" r="2.4"/>
<linearGradient id="g1194" href="#c102" x1="732.47" y1="700.21" x2="734.28" y2="701.15"/>
<linearGradient id="g1195" href="#c153" x1="732.49" y1="710.39" x2="734.84" y2="709.78"/>
<linearGradient id="g1196" href="#c38" x1="641.96" y1="134" x2="645.64" y2="134"/>
<linearGradient id="g1197" href="#c38" x1="639.45" y1="135" x2="642.96" y2="135"/>
<linearGradient id="g1198" href="#c38" x1="639.98" y1="137" x2="643.67" y2="137"/>
<linearGradient id="g1199" href="#c38" x1="638.7" y1="138" x2="642.31" y2="138"/>
<linearGradient id="g1200" href="#c38" x1="640.91" y1="140" x2="644.64" y2="140"/>
<linearGradient id="g1201" href="#c38" x1="639.39" y1="141" x2="643.21" y2="141"/>
<linearGradient id="g1202" href="#c38" x1="639.27" y1="143" x2="643.14" y2="143"/>
<linearGradient id="g1203" href="#c38" x1="640.35" y1="144" x2="644.2" y2="144"/>
<linearGradient id="g1204" href="#c38" x1="641.39" y1="145" x2="645.21" y2="145"/>
<linearGradient id="g1205" href="#c38" x1="639.59" y1="146" x2="643.35" y2="146"/>
<linearGradient id="g1206" href="#c38" x1="638.55" y1="147" x2="642.38" y2="147"/>
<linearGradient id="g1207" href="#c38" x1="639.57" y1="148" x2="643.38" y2="148"/>
<linearGradient id="g1208" href="#c38" x1="638.64" y1="149" x2="642.68" y2="149"/>
<linearGradient id="g1209" href="#c38" x1="638.13" y1="150" x2="642.2" y2="150"/>
<linearGradient id="g1210" href="#c38" x1="641.25" y1="151" x2="645.18" y2="151"/>
<linearGradient id="g1211" href="#c38" x1="640.04" y1="152" x2="644.03" y2="152"/>
<linearGradient id="g1212" href="#c38" x1="639.17" y1="153" x2="643.4" y2="153"/>
<linearGradient id="g1213" href="#c38" x1="639.74" y1="154" x2="643.95" y2="154"/>
<linearGradient id="g1214" href="#c38" x1="639.63" y1="155" x2="643.85" y2="155"/>
<linearGradient id="g1215" href="#c38" x1="639.42" y1="156" x2="643.65" y2="156"/>
<linearGradient id="g1216" href="#c38" x1="640.29" y1="157" x2="644.46" y2="157"/>
<linearGradient id="g1217" href="#c38" x1="640.86" y1="158" x2="645.19" y2="158"/>
<linearGradient id="g1218" href="#c38" x1="637.88" y1="159" x2="642.13" y2="159"/>
<linearGradient id="g1219" href="#c38" x1="638.35" y1="160" x2="642.77" y2="160"/>
<linearGradient id="g1220" href="#c38" x1="639.6" y1="161" x2="643.92" y2="161"/>
<linearGradient id="g1221" href="#c38" x1="640.26" y1="163" x2="644.7" y2="163"/>
<linearGradient id="g1222" href="#c38" x1="640.8" y1="164" x2="645.65" y2="164"/>
<linearGradient id="g1223" href="#c38" x1="640.24" y1="165" x2="645.34" y2="165"/>
<linearGradient id="g1224" href="#c38" x1="640.47" y1="166" x2="645.52" y2="166"/>
<linearGradient id="g1225" href="#c38" x1="641.81" y1="167" x2="647.37" y2="167"/>
<linearGradient id="g1226" href="#c38" x1="639.63" y1="168" x2="645.63" y2="168"/>
<linearGradient id="g1227" href="#c38" x1="638.48" y1="169" x2="644.88" y2="169"/>
<linearGradient id="g1228" href="#c38" x1="638.91" y1="170" x2="645.19" y2="170"/>
<linearGradient id="g1229" href="#c38" x1="637.56" y1="171" x2="644.85" y2="171"/>
<linearGradient id="g1230" href="#c38" x1="637.39" y1="172" x2="645.17" y2="172"/>
<linearGradient id="g1231" href="#c38" x1="636.63" y1="173" x2="644.96" y2="173"/>
<linearGradient id="g1232" href="#c38" x1="638.05" y1="174" x2="647.81" y2="174"/>
<linearGradient id="g1233" href="#c38" x1="631.77" y1="176" x2="644.27" y2="176"/>
<linearGradient id="g1234" href="#c38" x1="627.83" y1="177" x2="642.08" y2="177"/>
<linearGradient id="g1235" href="#c38" x1="627.91" y1="178" x2="651.36" y2="178"/>
<linearGradient id="g1236" href="#c38" x1="635.12" y1="179" x2="661.24" y2="179"/>
<linearGradient id="g1237" href="#c38" x1="596.76" y1="180" x2="642.28" y2="180"/>
<linearGradient id="g1238" href="#c38" x1="438.2" y1="181" x2="688.2" y2="181"/>
<linearGradient id="g1239" href="#c38" x1="783.1" y1="182" x2="633.34" y2="182"/>
<linearGradient id="g1240" href="#c38" x1="663.91" y1="183" x2="507.18" y2="183"/>
<linearGradient id="g1241" href="#c38" x1="651.76" y1="184" x2="618.96" y2="184"/>
<linearGradient id="g1242" href="#c38" x1="645.93" y1="185" x2="620.56" y2="185"/>
<linearGradient id="g1243" href="#c38" x1="654.32" y1="186" x2="636.6" y2="186"/>
<linearGradient id="g1244" href="#c38" x1="663.19" y1="187" x2="633.85" y2="187"/>
<linearGradient id="g1245" href="#c38" x1="660.76" y1="188" x2="605.72" y2="188"/>
<linearGradient id="g1246" href="#c38" x1="646.01" y1="189" x2="583.52" y2="189"/>
<linearGradient id="g1247" href="#c38" x1="586.85" y1="190" x2="836.85" y2="190"/>
<linearGradient id="g1248" href="#c38" x1="635.14" y1="191" x2="843.31" y2="191"/>
<linearGradient id="g1249" href="#c38" x1="629.33" y1="192" x2="673.01" y2="192"/>
<linearGradient id="g1250" href="#c38" x1="633.29" y1="193" x2="657.06" y2="193"/>
<linearGradient id="g1251" href="#c38" x1="630.34" y1="194" x2="644.9" y2="194"/>
<linearGradient id="g1252" href="#c38" x1="637.77" y1="195" x2="651.84" y2="195"/>
<linearGradient id="g1253" href="#c38" x1="631.8" y1="196" x2="642.27" y2="196"/>
<linearGradient id="g1254" href="#c38" x1="639.64" y1="197" x2="648.54" y2="197"/>
<linearGradient id="g1255" href="#c38" x1="640.71" y1="198" x2="648.89" y2="198"/>
<linearGradient id="g1256" href="#c38" x1="638.4" y1="199" x2="645.03" y2="199"/>
<linearGradient id="g1257" href="#c38" x1="635.77" y1="200" x2="642.23" y2="200"/>
<linearGradient id="g1258" href="#c38" x1="641.89" y1="201" x2="647.59" y2="201"/>
<linearGradient id="g1259" href="#c38" x1="639.33" y1="202" x2="644.58" y2="202"/>
<linearGradient id="g1260" href="#c38" x1="641.37" y1="204" x2="646.01" y2="204"/>
<linearGradient id="g1261" href="#c38" x1="639.67" y1="206" x2="643.59" y2="206"/>
<linearGradient id="g1262" href="#c38" x1="639.99" y1="207" x2="643.91" y2="207"/>
<linearGradient id="g1263" href="#c38" x1="638.37" y1="208" x2="642.36" y2="208"/>
<linearGradient id="g1264" href="#c38" x1="641.02" y1="209" x2="644.72" y2="209"/>
<linearGradient id="g1265" href="#c38" x1="641.69" y1="210" x2="645.35" y2="210"/>
<linearGradient id="g1266" href="#c38" x1="640.77" y1="211" x2="644.45" y2="211"/>
<linearGradient id="g1267" href="#c38" x1="641.43" y1="212" x2="645.08" y2="212"/>
<linearGradient id="g1268" href="#c38" x1="641.1" y1="213" x2="644.6" y2="213"/>
<linearGradient id="g1269" href="#c38" x1="641.14" y1="214" x2="644.62" y2="214"/>
<linearGradient id="g1270" href="#c38" x1="638.83" y1="215" x2="642.38" y2="215"/>
<linearGradient id="g1271" href="#c38" x1="639.42" y1="216" x2="642.92" y2="216"/>
<linearGradient id="g1272" href="#c38" x1="641.83" y1="217" x2="645.22" y2="217"/>
<linearGradient id="g1273" href="#c38" x1="640.26" y1="222" x2="643.37" y2="222"/>
<linearGradient id="g1274" href="#c38" x1="641.77" y1="223" x2="644.92" y2="223"/>
<linearGradient id="g1275" href="#c38" x1="641.66" y1="225" x2="644.75" y2="225"/>
<linearGradient id="g1276" href="#c38" x1="638.93" y1="226" x2="642.1" y2="226"/>
<linearGradient id="g1277" href="#c38" x1="641.33" y1="227" x2="644.4" y2="227"/>
<linearGradient id="g1278" href="#c38" x1="640.14" y1="228" x2="643.24" y2="228"/>
<linearGradient id="g1279" href="#c38" x1="640.23" y1="229" x2="643.2" y2="229"/>
<linearGradient id="g1280" href="#c38" x1="640.87" y1="230" x2="643.92" y2="230"/>
<linearGradient id="g1281" href="#c38" x1="639.33" y1="231" x2="642.42" y2="231"/>
<linearGradient id="g1282" href="#c38" x1="640.46" y1="232" x2="643.5" y2="232"/>
<linearGradient id="g1283" href="#c38" x1="640.02" y1="233" x2="642.97" y2="233"/>
<linearGradient id="g1284" href="#c38" x1="641.59" y1="235" x2="644.49" y2="235"/>
<linearGradient id="g1285" href="#c38" x1="640.44" y1="236" x2="643.38" y2="236"/>
<linearGradient id="g1286" href="#c38" x1="641.52" y1="238" x2="644.44" y2="238"/>
<linearGradient id="g1287" href="#c38" x1="641.45" y1="239" x2="644.29" y2="239"/>
<linearGradient id="g1288" href="#c38" x1="639.93" y1="241" x2="642.73" y2="241"/>
<linearGradient id="g1289" href="#c38" x1="639.89" y1="242" x2="642.79" y2="242"/>
<linearGradient id="g1290" href="#c38" x1="639.27" y1="244" x2="642.02" y2="244"/>
<linearGradient id="g1291" href="#c38" x1="640.75" y1="247" x2="643.46" y2="247"/>
<linearGradient id="g1292" href="#c38" x1="640.59" y1="248" x2="643.39" y2="248"/>
<linearGradient id="g1293" href="#c38" x1="641.63" y1="251" x2="644.29" y2="251"/>
<linearGradient id="g1294" href="#c38" x1="639.86" y1="252" x2="642.49" y2="252"/>
<linearGradient id="g1295" href="#c38" x1="639.63" y1="253" x2="642.25" y2="253"/>
<linearGradient id="g1296" href="#c38" x1="641.66" y1="254" x2="644.37" y2="254"/>
<linearGradient id="g1297" href="#c38" x1="641.99" y1="255" x2="644.68" y2="255"/>
<linearGradient id="g1298" href="#c38" x1="641.03" y1="256" x2="643.67" y2="256"/>
<linearGradient id="g1299" href="#c76" x1="541.79" y1="483" x2="559.76" y2="483"/>
<linearGradient id="g1300" href="#c76" x1="540.57" y1="484" x2="557.93" y2="484"/>
<linearGradient id="g1301" href="#c76" x1="545.55" y1="485" x2="557.75" y2="485"/>
<linearGradient id="g1302" href="#c76" x1="553.07" y1="486" x2="564.05" y2="486"/>
<linearGradient id="g1303" href="#c76" x1="553.21" y1="487" x2="561.97" y2="487"/>
<linearGradient id="g1304" href="#c76" x1="554.37" y1="488" x2="561.62" y2="488"/>
<linearGradient id="g1305" href="#c38" x1="649.68" y1="626" x2="652.61" y2="626"/>
<linearGradient id="g1306" href="#c38" x1="651.96" y1="627" x2="654.91" y2="627"/>
<linearGradient id="g1307" href="#c38" x1="650.21" y1="628" x2="653.31" y2="628"/>
<linearGradient id="g1308" href="#c38" x1="649.36" y1="629" x2="652.47" y2="629"/>
<linearGradient id="g1309" href="#c38" x1="650.79" y1="632" x2="654.28" y2="632"/>
<linearGradient id="g1310" href="#c38" x1="651.48" y1="633" x2="655.27" y2="633"/>
<linearGradient id="g1311" href="#c38" x1="649.38" y1="634" x2="653.33" y2="634"/>
<linearGradient id="g1312" href="#c38" x1="648.26" y1="635" x2="652.24" y2="635"/>
<linearGradient id="g1313" href="#c38" x1="649.5" y1="636" x2="653.73" y2="636"/>
<linearGradient id="g1314" href="#c38" x1="650.18" y1="637" x2="654.82" y2="637"/>
<linearGradient id="g1315" href="#c38" x1="647.93" y1="638" x2="652.77" y2="638"/>
<linearGradient id="g1316" href="#c38" x1="649.73" y1="639" x2="654.89" y2="639"/>
<linearGradient id="g1317" href="#c38" x1="648.08" y1="641" x2="654.07" y2="641"/>
<linearGradient id="g1318" href="#c38" x1="649.76" y1="642" x2="656.43" y2="642"/>
<linearGradient id="g1319" href="#c38" x1="647.89" y1="644" x2="656.18" y2="644"/>
<linearGradient id="g1320" href="#c38" x1="643.6" y1="645" x2="652.74" y2="645"/>
<linearGradient id="g1321" href="#c38" x1="645.27" y1="646" x2="656.44" y2="646"/>
<linearGradient id="g1322" href="#c38" x1="650.38" y1="647" x2="663.72" y2="647"/>
<linearGradient id="g1323" href="#c38" x1="639.07" y1="649" x2="669.04" y2="649"/>
<linearGradient id="g1324" href="#c38" x1="624.19" y1="650" x2="662" y2="650"/>
<linearGradient id="g1325" href="#c38" x1="568.08" y1="651" x2="818.08" y2="651"/>
<linearGradient id="g1326" href="#c38" x1="732.38" y1="652" x2="606.01" y2="652"/>
<linearGradient id="g1327" href="#c38" x1="653.63" y1="653" x2="615.03" y2="653"/>
<linearGradient id="g1328" href="#c38" x1="658.93" y1="654" x2="632.53" y2="654"/>
<linearGradient id="g1329" href="#c38" x1="662.74" y1="655" x2="644.66" y2="655"/>
<linearGradient id="g1330" href="#c38" x1="662.7" y1="656" x2="647.62" y2="656"/>
<linearGradient id="g1331" href="#c38" x1="479" y1="658" x2="729" y2="658"/>
<linearGradient id="g1332" href="#c38" x1="628.3" y1="659" x2="659.26" y2="659"/>
<linearGradient id="g1333" href="#c38" x1="637.54" y1="660" x2="655.07" y2="660"/>
<linearGradient id="g1334" href="#c38" x1="640.79" y1="661" x2="652.76" y2="661"/>
<linearGradient id="g1335" href="#c38" x1="644.14" y1="662" x2="652.95" y2="662"/>
<linearGradient id="g1336" href="#c38" x1="650.61" y1="663" x2="658.19" y2="663"/>
<linearGradient id="g1337" href="#c38" x1="649.69" y1="666" x2="654.36" y2="666"/>
<linearGradient id="g1338" href="#c38" x1="648.49" y1="667" x2="652.82" y2="667"/>
<linearGradient id="g1339" href="#c38" x1="651.62" y1="668" x2="655.61" y2="668"/>
<linearGradient id="g1340" href="#c38" x1="649.12" y1="671" x2="652.29" y2="671"/>
<linearGradient id="g1341" href="#c38" x1="650.85" y1="672" x2="653.9" y2="672"/>
<linearGradient id="g1342" href="#c140" x1="541.16" y1="704" x2="564.43" y2="704"/>
<linearGradient id="g1343" href="#c140" x1="541.34" y1="705" x2="563.28" y2="705"/>
<linearGradient id="g1344" href="#c140" x1="500.54" y1="706" x2="586.08" y2="706"/>
<linearGradient id="g1345" href="#c140" x1="395.73" y1="707" x2="645.73" y2="707"/>
<linearGradient id="g1346" href="#c140" x1="663.55" y1="708" x2="535.23" y2="708"/>
<linearGradient id="g1347" href="#c140" x1="434.19" y1="709" x2="684.19" y2="709"/>
<linearGradient id="g1348" href="#c140" x1="549.41" y1="710" x2="568.79" y2="710"/>
<linearGradient id="g1349" href="#c140" x1="551.03" y1="711" x2="594.75" y2="711"/>
<linearGradient id="g1350" href="#c140" x1="532.62" y1="712" x2="571.83" y2="712"/>
<linearGradient id="g1351" href="#c140" x1="547.93" y1="713" x2="562.17" y2="713"/>
<linearGradient id="g1352" href="#c140" x1="537.35" y1="714" x2="556.18" y2="714"/>
<linearGradient id="g1353" href="#c140" x1="553.91" y1="715" x2="600.63" y2="715"/>
<linearGradient id="g1354" href="#c140" x1="561.26" y1="716" x2="495.01" y2="716"/>
<linearGradient id="g1355" href="#c140" x1="567.92" y1="717" x2="540.88" y2="717"/>
<linearGradient id="g1356" href="#c8" x1="537.99" y1="355" x2="565.88" y2="355"/>
<linearGradient id="g1357" href="#c8" x1="537.81" y1="356" x2="574.43" y2="356"/>
<linearGradient id="g1358" href="#c8" x1="513.64" y1="357" x2="580.83" y2="357"/>
<linearGradient id="g1359" href="#c8" x1="563.76" y1="359" x2="534.89" y2="359"/>
<linearGradient id="g1360" href="#c8" x1="585.99" y1="360" x2="528.9" y2="360"/>
<linearGradient id="g1361" href="#c8" x1="551.87" y1="361" x2="586.38" y2="361"/>
<linearGradient id="g1362" href="#c8" x1="539.78" y1="362" x2="574.05" y2="362"/>
<linearGradient id="g1363" href="#c8" x1="515.58" y1="363" x2="577.47" y2="363"/>
<linearGradient id="g1364" href="#c8" x1="563.61" y1="365" x2="534.52" y2="365"/>
<linearGradient id="g1365" href="#c8" x1="525.18" y1="366" x2="677.88" y2="366"/>
<linearGradient id="g1366" href="#c8" x1="531.45" y1="367" x2="575" y2="367"/>
<linearGradient id="g1367" href="#c8" x1="588.22" y1="368" x2="545.31" y2="368"/>
<linearGradient id="g1368" href="#c8" x1="531.53" y1="370" x2="557.58" y2="370"/>
<linearGradient id="g1369" href="#c8" x1="608.11" y1="372" x2="478.29" y2="372"/>
<linearGradient id="g1370" href="#c8" x1="492.24" y1="373" x2="584.19" y2="373"/>
<linearGradient id="g1371" href="#c8" x1="553" y1="374" x2="637.15" y2="374"/>
<linearGradient id="g1372" href="#c8" x1="629.75" y1="375" x2="533.19" y2="375"/>
<radialGradient id="g1373" href="#r102_3" cx="669.76" cy="84.37" r="3.1"/>
<linearGradient id="g1374" href="#c153" x1="768.24" y1="91.08" x2="766.01" y2="90.3"/>
<linearGradient id="g1375" href="#c178" x1="766.63" y1="94.56" x2="768.71" y2="95.23"/>
<linearGradient id="g1376" href="#c76" x1="766.45" y1="98.95" x2="768.16" y2="100.11"/>
<linearGradient id="g1377" href="#c153" x1="768.21" y1="105.82" x2="766.59" y2="107.2"/>
<radialGradient id="g1378" href="#r128_6" cx="857.44" cy="131.39" r="2.7"/>
<linearGradient id="g1379" href="#c128" x1="769.06" y1="127.64" x2="767.13" y2="128.3"/>
<radialGradient id="g1380" href="#r153_4" cx="968.41" cy="123.81" r="2.7"/>
<radialGradient id="g1381" href="#r128_2" cx="684.88" cy="144.69" r="2.05"/>
<radialGradient id="g1382" href="#r102_1" cx="845.79" cy="146.72" r="3.6"/>
<linearGradient id="g1383" href="#c76" x1="769.97" y1="152.19" x2="767.83" y2="153.07"/>
<linearGradient id="g1384" href="#c128" x1="766.74" y1="157.7" x2="768.68" y2="158.16"/>
<radialGradient id="g1385" href="#r76_6" cx="711.23" cy="171.97" r="2.7"/>
<radialGradient id="g1386" href="#r178_0" cx="911.41" cy="163.94" r="3.6"/>
<radialGradient id="g1387" href="#r128_7" cx="757.86" cy="186.46" r="2.7"/>
<linearGradient id="g1388" href="#c178" x1="770" y1="182.98" x2="766.66" y2="184.68"/>
<linearGradient id="g1389" href="#c76" x1="768.28" y1="195.07" x2="766.34" y2="194.6"/>
<radialGradient id="g1390" href="#r76_0" cx="958.82" cy="200.84" r="3.1"/>
<radialGradient id="g1391" href="#r128_7" cx="891.55" cy="211.46" r="3.1"/>
<radialGradient id="g1392" href="#r153_5" cx="859.21" cy="214.62" r="2.2"/>
<linearGradient id="g1393" href="#c128" x1="767.91" y1="226.89" x2="769.63" y2="228.96"/>
<linearGradient id="g1394" href="#c153" x1="768.71" y1="238.28" x2="766.71" y2="237.5"/>
<linearGradient id="g1395" href="#c128" x1="769.29" y1="244.21" x2="767.73" y2="245.17"/>
<linearGradient id="g1396" href="#c102" x1="766.85" y1="253.61" x2="769.72" y2="254.59"/>
<radialGradient id="g1397" href="#r128_5" cx="616.94" cy="262.1" r="2.4"/>
<radialGradient id="g1398" href="#r128_6" cx="846.45" cy="259.26" r="3.6"/>
<radialGradient id="g1399" href="#r76_2" cx="1000.41" cy="277.92" r="3.6"/>
<radialGradient id="g1400" href="#r128_0" cx="666.53" cy="294.28" r="3.1"/>
<linearGradient id="g1401" href="#c128" x1="766.86" y1="290.16" x2="768.43" y2="288.56"/>
<radialGradient id="g1402" href="#r128_2" cx="892.29" cy="309.86" r="2.2"/>
<linearGradient id="g1403" href="#c178" x1="767.49" y1="302.62" x2="769.19" y2="300.56"/>
<linearGradient id="g1404" href="#c128" x1="766.79" y1="307.55" x2="768.52" y2="309.62"/>
<linearGradient id="g1405" href="#c128" x1="767.45" y1="314.72" x2="769.17" y2="315.59"/>
<radialGradient id="g1406" href="#r76_6" cx="932.03" cy="319.98" r="2.05"/>
<radialGradient id="g1407" href="#r128_0" cx="842.91" cy="321.71" r="3.6"/>
<radialGradient id="g1408" href="#r102_5" cx="660.81" cy="332.86" r="2.05"/>
<linearGradient id="g1409" href="#c178" x1="769.11" y1="338.97" x2="767.17" y2="340.77"/>
<linearGradient id="g1410" href="#c153" x1="769.88" y1="343.86" x2="767.54" y2="345.28"/>
<radialGradient id="g1411" href="#r102_7" cx="865.89" cy="359.72" r="2.05"/>
<radialGradient id="g1412" href="#r102_5" cx="765.79" cy="371.71" r="3.6"/>
<linearGradient id="g1413" href="#c76" x1="769.57" y1="361.79" x2="767.56" y2="363.34"/>
<radialGradient id="g1414" href="#r76_6" cx="867.2" cy="382.39" r="3.6"/>
<linearGradient id="g1415" href="#c178" x1="768.66" y1="377.43" x2="767.04" y2="376.37"/>
<linearGradient id="g1416" href="#c102" x1="769.17" y1="380.68" x2="767.32" y2="382.77"/>
<radialGradient id="g1417" href="#r76_7" cx="959.21" cy="395.76" r="2.2"/>
<linearGradient id="g1418" href="#c153" x1="766.09" y1="396.91" x2="768.19" y2="394.81"/>
<linearGradient id="g1419" href="#c128" x1="767.81" y1="404.21" x2="769.62" y2="402.13"/>
<radialGradient id="g1420" href="#r76_3" cx="980.56" cy="416.69" r="3.6"/>
<radialGradient id="g1421" href="#r178_0" cx="694.12" cy="414.92" r="2.2"/>
<radialGradient id="g1422" href="#r153_0" cx="736.51" cy="421.4" r="2.05"/>
<linearGradient id="g1423" href="#c178" x1="769.46" y1="436.51" x2="766.22" y2="437.6"/>
<radialGradient id="g1424" href="#r76_1" cx="943.29" cy="455.93" r="3.1"/>
<radialGradient id="g1425" href="#r178_5" cx="917.45" cy="442.56" r="2.2"/>
<radialGradient id="g1426" href="#r76_3" cx="734.19" cy="463.93" r="3.1"/>
<linearGradient id="g1427" href="#c153" x1="769.25" y1="468.62" x2="767.62" y2="470.41"/>
<linearGradient id="g1428" href="#c153" x1="767.49" y1="478.26" x2="770.83" y2="476.56"/>
<radialGradient id="g1429" href="#r153_1" cx="858.98" cy="493.8" r="2.7"/>
<linearGradient id="g1430" href="#c128" x1="766.14" y1="498.34" x2="768.25" y2="496.82"/>
<radialGradient id="g1431" href="#r128_7" cx="693.4" cy="523.8" r="3.6"/>
<radialGradient id="g1432" href="#r178_3" cx="729.16" cy="532.76" r="2.2"/>
<linearGradient id="g1433" href="#c178" x1="768.2" y1="527.87" x2="766.76" y2="528.81"/>
<linearGradient id="g1434" href="#c178" x1="769.01" y1="535.4" x2="767.02" y2="534.61"/>
<radialGradient id="g1435" href="#r153_2" cx="887.56" cy="557" r="3.1"/>
<linearGradient id="g1436" href="#c102" x1="769.46" y1="552.63" x2="767.11" y2="553.22"/>
<radialGradient id="g1437" href="#r153_4" cx="728.68" cy="559.08" r="2.2"/>
<linearGradient id="g1438" href="#c128" x1="766.35" y1="564.18" x2="768.19" y2="565.1"/>
<linearGradient id="g1439" href="#c76" x1="767.88" y1="570.96" x2="770.38" y2="571.82"/>
<linearGradient id="g1440" href="#c178" x1="767.43" y1="576.75" x2="769.14" y2="577.51"/>
<radialGradient id="g1441" href="#r178_7" cx="946.28" cy="576.91" r="3.1"/>
<radialGradient id="g1442" href="#r102_4" cx="964.44" cy="592.65" r="3.1"/>
<linearGradient id="g1443" href="#c178" x1="767.3" y1="592.61" x2="769.06" y2="593.59"/>
<linearGradient id="g1444" href="#c76" x1="767.35" y1="601.81" x2="768.77" y2="600.05"/>
<radialGradient id="g1445" href="#r153_3" cx="672.13" cy="605.82" r="2.4"/>
<radialGradient id="g1446" href="#r102_4" cx="653.83" cy="623.26" r="3.6"/>
<linearGradient id="g1447" href="#c76" x1="769.58" y1="623.06" x2="767.86" y2="621.9"/>
<radialGradient id="g1448" href="#r102_6" cx="665.82" cy="638.38" r="3.1"/>
<radialGradient id="g1449" href="#r153_5" cx="779.1" cy="645.39" r="2.4"/>
<radialGradient id="g1450" href="#r153_5" cx="962.21" cy="631.34" r="2.05"/>
<linearGradient id="g1451" href="#c76" x1="766.59" y1="650.74" x2="768.67" y2="651.12"/>
<linearGradient id="g1452" href="#c153" x1="767.92" y1="658.03" x2="769.85" y2="657.37"/>
<radialGradient id="g1453" href="#r76_0" cx="657.82" cy="682.06" r="2.05"/>
<radialGradient id="g1454" href="#r102_6" cx="709.04" cy="675.92" r="2.05"/>
<radialGradient id="g1455" href="#r76_5" cx="668.54" cy="684.23" r="3.6"/>
<radialGradient id="g1456" href="#r178_7" cx="864.04" cy="686.05" r="3.6"/>
<radialGradient id="g1457" href="#r128_2" cx="907.67" cy="685.89" r="2.2"/>
<radialGradient id="g1458" href="#r178_4" cx="688.76" cy="702.4" r="2.4"/>
<radialGradient id="g1459" href="#r128_1" cx="625.63" cy="712.88" r="2.4"/>
<radialGradient id="g1460" href="#r178_7" cx="699.33" cy="725.18" r="2.05"/>
<linearGradient id="g1461" href="#c38" x1="855.92" y1="81.35" x2="853.94" y2="80.99"/>
<linearGradient id="g1462" href="#c51" x1="854.84" y1="86.55" x2="853.41" y2="85.61"/>
<linearGradient id="g1463" href="#c51" x1="854.05" y1="90.03" x2="852.47" y2="89.12"/>
<radialGradient id="g1464" href="#r38_2" cx="846.75" cy="102.71" r="2.7"/>
<radialGradient id="g1465" href="#r76_6" cx="947.09" cy="104.07" r="3.1"/>
<radialGradient id="g1466" href="#r51_2" cx="955.32" cy="116.7" r="2.2"/>
<radialGradient id="g1467" href="#r64_1" cx="811.81" cy="124.53" r="2.05"/>
<linearGradient id="g1468" href="#c64" x1="852.74" y1="120.01" x2="854.35" y2="121.28"/>
<radialGradient id="g1469" href="#r38_0" cx="706.81" cy="139.05" r="2.7"/>
<linearGradient id="g1470" href="#c64" x1="854.08" y1="133.04" x2="852.49" y2="132.19"/>
<radialGradient id="g1471" href="#r76_5" cx="756.25" cy="135.04" r="3.1"/>
<radialGradient id="g1472" href="#r51_6" cx="738.71" cy="166.82" r="3.6"/>
<linearGradient id="g1473" href="#c76" x1="853.72" y1="162.81" x2="855.51" y2="164.02"/>
<radialGradient id="r38_7" gradientUnits="userSpaceOnUse" spreadMethod="repeat"><stop offset="0" stop-color="#972600"/><stop offset="0.12" stop-color="#9f2600"/><stop offset="0.12" stop-color="#602600"/><stop offset="1" stop-color="#972600"/></radialGradient>
<radialGradient id="g1474" href="#r38_7" cx="930.7" cy="170.5" r="2.05"/>
<radialGradient id="g1475" href="#r38_1" cx="984.23" cy="172.09" r="2.4"/>
<radialGradient id="g1476" href="#r51_7" cx="733.84" cy="193.26" r="2.4"/>
<linearGradient id="g1477" href="#c64" x1="852.94" y1="193.44" x2="854.54" y2="194.29"/>
<linearGradient id="g1478" href="#c64" x1="854.52" y1="198.24" x2="852.79" y2="197.44"/>
<linearGradient id="g1479" href="#c38" x1="854.26" y1="208.87" x2="852.58" y2="209.71"/>
<radialGradient id="g1480" href="#r76_0" cx="1078.82" cy="225.71" r="2.4"/>
<linearGradient id="g1481" href="#c64" x1="853.9" y1="220.91" x2="855.59" y2="222.4"/>
<radialGradient id="r51_1" gradientUnits="userSpaceOnUse" spreadMethod="repeat"><stop offset="0" stop-color="#683300"/><stop offset="0.88" stop-color="#9f3300"/><stop offset="0.88" stop-color="#603300"/><stop offset="1" stop-color="#683300"/></radialGradient>
<radialGradient id="g1482" href="#r51_1" cx="940.77" cy="238.85" r="3.1"/>
<radialGradient id="g1483" href="#r51_0" cx="1006.56" cy="237.66" r="2.7"/>
<radialGradient id="g1484" href="#r76_7" cx="1054.29" cy="245.89" r="2.7"/>
<linearGradient id="g1485" href="#c38" x1="855.16" y1="244.34" x2="853.38" y2="245.35"/>
<radialGradient id="g1486" href="#r38_4" cx="1077.58" cy="257.59" r="2.4"/>
<linearGradient id="g1487" href="#c76" x1="853.71" y1="257.83" x2="855.47" y2="258.86"/>
<radialGradient id="g1488" href="#r76_4" cx="864.94" cy="266.12" r="2.2"/>
<linearGradient id="g1489" href="#c64" x1="852.76" y1="279.75" x2="854.48" y2="278.71"/>
<linearGradient id="g1490" href="#c76" x1="853" y1="283.52" x2="854.84" y2="282.56"/>
<radialGradient id="g1491" href="#r51_0" cx="761.5" cy="294.37" r="2.2"/>
<linearGradient id="g1492" href="#c51" x1="855.17" y1="298.53" x2="853.35" y2="297.7"/>
<radialGradient id="g1493" href="#r51_3" cx="994.4" cy="314.56" r="3.1"/>
<linearGradient id="g1494" href="#c76" x1="852.6" y1="308.01" x2="854.33" y2="309.23"/>
<linearGradient id="g1495" href="#c51" x1="854.55" y1="315.17" x2="852.18" y2="314.43"/>
<linearGradient id="g1496" href="#c64" x1="855.94" y1="322.91" x2="853.81" y2="321.91"/>
<linearGradient id="g1497" href="#c64" x1="851.81" y1="328.2" x2="854.46" y2="329.17"/>
<linearGradient id="g1498" href="#c64" x1="856.06" y1="335.22" x2="853.78" y2="336.08"/>
<linearGradient id="g1499" href="#c51" x1="854.13" y1="346.04" x2="852.28" y2="345.44"/>
<linearGradient id="g1500" href="#c38" x1="854.43" y1="355.29" x2="853.02" y2="354.34"/>
<radialGradient id="g1501" href="#r76_0" cx="858.15" cy="375.82" r="2.7"/>
<linearGradient id="g1502" href="#c38" x1="852.71" y1="373.02" x2="854.15" y2="371.88"/>
<radialGradient id="g1503" href="#r38_0" cx="1003.44" cy="393.09" r="2.4"/>
<linearGradient id="g1504" href="#c76" x1="852.79" y1="391" x2="854.34" y2="389.72"/>
<linearGradient id="g1505" href="#c76" x1="853.08" y1="402.27" x2="855.01" y2="401.7"/>
<radialGradient id="g1506" href="#r38_2" cx="932.44" cy="410.67" r="2.4"/>
<linearGradient id="g1507" href="#c38" x1="853.41" y1="417.7" x2="855.81" y2="418.91"/>
<radialGradient id="g1508" href="#r51_7" cx="991.34" cy="426.19" r="2.7"/>
<linearGradient id="g1509" href="#c38" x1="852.69" y1="428.54" x2="854.78" y2="429.27"/>
<radialGradient id="g1510" href="#r76_2" cx="1070.08" cy="435.75" r="3.1"/>
<radialGradient id="g1511" href="#r38_0" cx="867.27" cy="455.29" r="2.05"/>
<radialGradient id="g1512" href="#r51_6" cx="814.3" cy="449.12" r="2.05"/>
<linearGradient id="g1513" href="#c38" x1="852.54" y1="459.79" x2="854.24" y2="458.87"/>
<linearGradient id="g1514" href="#c38" x1="852.51" y1="469.64" x2="854.96" y2="470.23"/>
<linearGradient id="g1515" href="#c51" x1="855.23" y1="475.62" x2="853.32" y2="476.21"/>
<linearGradient id="g1516" href="#c38" x1="851.96" y1="479.43" x2="854.75" y2="480.21"/>
<radialGradient id="g1517" href="#r38_6" cx="1036.55" cy="483.1" r="2.2"/>
<linearGradient id="g1518" href="#c51" x1="855.17" y1="495.75" x2="853.51" y2="494.68"/>
<radialGradient id="g1519" href="#r38_7" cx="978.99" cy="510.65" r="2.05"/>
<linearGradient id="g1520" href="#c76" x1="855.89" y1="514.76" x2="853.66" y2="513.86"/>
<linearGradient id="g1521" href="#c76" x1="852.99" y1="519.44" x2="854.71" y2="518.69"/>
<linearGradient id="g1522" href="#c76" x1="855.12" y1="529.38" x2="853.14" y2="530.48"/>
<radialGradient id="g1523" href="#r76_4" cx="1075.46" cy="545.42" r="2.2"/>
<radialGradient id="g1524" href="#r38_4" cx="700.87" cy="536.55" r="2.2"/>
<radialGradient id="g1525" href="#r51_0" cx="784.27" cy="543.44" r="2.4"/>
<radialGradient id="g1526" href="#r51_6" cx="750.09" cy="559.54" r="2.2"/>
<radialGradient id="g1527" href="#r38_3" cx="960.99" cy="569.01" r="2.4"/>
<radialGradient id="g1528" href="#r38_7" cx="948.03" cy="567.13" r="2.7"/>
<radialGradient id="g1529" href="#r51_7" cx="1065.59" cy="568.48" r="2.2"/>
<radialGradient id="g1530" href="#r51_7" cx="1009.39" cy="591.25" r="2.4"/>
<linearGradient id="g1531" href="#c51" x1="854.01" y1="589" x2="852.29" y2="588.09"/>
<linearGradient id="g1532" href="#c38" x1="853.72" y1="600.11" x2="855.77" y2="599.33"/>
<linearGradient id="g1533" href="#c38" x1="853.67" y1="611.22" x2="855.11" y2="610.25"/>
<linearGradient id="g1534" href="#c51" x1="855.49" y1="614.79" x2="853.15" y2="613.55"/>
<linearGradient id="g1535" href="#c76" x1="854.02" y1="618.01" x2="852.17" y2="617.19"/>
<radialGradient id="g1536" href="#r38_2" cx="991.36" cy="621.33" r="2.4"/>
<linearGradient id="g1537" href="#c76" x1="852.59" y1="632.68" x2="855.03" y2="631.51"/>
<linearGradient id="g1538" href="#c38" x1="854.93" y1="643.65" x2="853.55" y2="642.69"/>
<linearGradient id="g1539" href="#c76" x1="852.86" y1="648.18" x2="854.24" y2="649.17"/>
<radialGradient id="g1540" href="#r51_0" cx="805.31" cy="663.15" r="3.1"/>
<linearGradient id="g1541" href="#c76" x1="853.56" y1="664.72" x2="855.12" y2="665.72"/>
<radialGradient id="g1542" href="#r38_7" cx="962.13" cy="673.78" r="3.1"/>
<radialGradient id="g1543" href="#r51_0" cx="932.2" cy="683.33" r="2.7"/>
<radialGradient id="g1544" href="#r76_4" cx="1006.38" cy="698.74" r="2.4"/>
<linearGradient id="g1545" href="#c38" x1="853.68" y1="697.25" x2="855.14" y2="696.11"/>
<radialGradient id="g1546" href="#r38_7" cx="987.92" cy="697.75" r="3.1"/>
<linearGradient id="g1547" href="#c38" x1="855.35" y1="708.08" x2="853.3" y2="709.48"/>
<linearGradient id="g1548" href="#c38" x1="854.76" y1="715.57" x2="853.36" y2="714.51"/>
<radialGradient id="g1549" href="#r102_6" cx="999.13" cy="74.74" r="2.7"/>
<radialGradient id="g1550" href="#r128_6" cx="762.81" cy="96.43" r="2.4"/>
<linearGradient id="g1551" href="#c153" x1="942.41" y1="92.6" x2="946.06" y2="94.02"/>
<linearGradient id="g1552" href="#c76" x1="946.99" y1="98.46" x2="945.06" y2="99.51"/>
<radialGradient id="g1553" href="#r178_7" cx="1064.85" cy="113.09" r="2.2"/>
<linearGradient id="g1554" href="#c76" x1="947.15" y1="116.94" x2="945.24" y2="115.37"/>
<radialGradient id="g1555" href="#r76_2" cx="1052.45" cy="121.83" r="2.4"/>
<radialGradient id="g1556" href="#r76_0" cx="761.63" cy="135.92" r="2.7"/>
<linearGradient id="g1557" href="#c178" x1="945.52" y1="132.54" x2="947.18" y2="134.14"/>
<linearGradient id="g1558" href="#c178" x1="947.34" y1="136.03" x2="945.93" y2="137.05"/>
<linearGradient id="g1559" href="#c153" x1="946.42" y1="148.71" x2="944.85" y2="149.79"/>
<linearGradient id="g1560" href="#c178" x1="947.53" y1="154.21" x2="945.91" y2="155.05"/>
<linearGradient id="g1561" href="#c76" x1="943.74" y1="166.88" x2="946.22" y2="164.82"/>
<linearGradient id="g1562" href="#c153" x1="945.92" y1="174.93" x2="947.41" y2="176.16"/>
<linearGradient id="g1563" href="#c76" x1="946.14" y1="184.96" x2="944.18" y2="185.58"/>
<linearGradient id="g1564" href="#c178" x1="948.22" y1="187.53" x2="945.3" y2="189.47"/>
<linearGradient id="g1565" href="#c178" x1="947.18" y1="195.23" x2="945.65" y2="193.64"/>
<radialGradient id="g1566" href="#r102_0" cx="866.64" cy="204.77" r="3.1"/>
<linearGradient id="g1567" href="#c153" x1="946.38" y1="205.41" x2="944.69" y2="203.61"/>
<linearGradient id="g1568" href="#c102" x1="946.5" y1="216.14" x2="944.6" y2="215.61"/>
<linearGradient id="g1569" href="#c153" x1="944.51" y1="227.14" x2="946.52" y2="225.6"/>
<linearGradient id="g1570" href="#c178" x1="947.34" y1="231.49" x2="944.51" y2="230.46"/>
<linearGradient id="g1571" href="#c76" x1="947.67" y1="238.39" x2="945.49" y2="240.49"/>
<linearGradient id="g1572" href="#c76" x1="946.52" y1="246.54" x2="944.72" y2="248.13"/>
<radialGradient id="g1573" href="#r178_5" cx="993.3" cy="264.17" r="2.4"/>
<linearGradient id="g1574" href="#c128" x1="944.14" y1="268.02" x2="946.06" y2="266.96"/>
<linearGradient id="g1575" href="#c178" x1="944.84" y1="276.44" x2="946.71" y2="275.73"/>
<radialGradient id="g1576" href="#r178_3" cx="858.64" cy="276.86" r="2.05"/>
<linearGradient id="g1577" href="#c178" x1="944.06" y1="295.58" x2="946.02" y2="296"/>
<linearGradient id="g1578" href="#c102" x1="946.98" y1="307.63" x2="945.35" y2="306.58"/>
<radialGradient id="g1579" href="#r178_3" cx="844.54" cy="324.5" r="3.1"/>
<radialGradient id="g1580" href="#r128_0" cx="757.04" cy="313.93" r="3.1"/>
<radialGradient id="g1581" href="#r102_0" cx="899.85" cy="315.59" r="3.1"/>
<linearGradient id="g1582" href="#c128" x1="947.58" y1="335.16" x2="945.09" y2="336.49"/>
<radialGradient id="g1583" href="#r128_3" cx="804.32" cy="347.62" r="2.05"/>
<radialGradient id="g1584" href="#r102_4" cx="1047.31" cy="347.26" r="2.05"/>
<radialGradient id="g1585" href="#r178_3" cx="787.21" cy="353.3" r="2.4"/>
<linearGradient id="g1586" href="#c178" x1="946.03" y1="367.99" x2="944.3" y2="368.74"/>
<linearGradient id="g1587" href="#c178" x1="947.13" y1="372.25" x2="944.94" y2="371.76"/>
<linearGradient id="g1588" href="#c153" x1="945.05" y1="376.81" x2="947.26" y2="377.26"/>
<linearGradient id="g1589" href="#c178" x1="946.31" y1="383.08" x2="943.32" y2="382.29"/>
<radialGradient id="g1590" href="#r153_4" cx="853.05" cy="388.49" r="3.6"/>
<radialGradient id="g1591" href="#r102_3" cx="1048.45" cy="401.19" r="2.7"/>
<linearGradient id="g1592" href="#c76" x1="944.51" y1="401.4" x2="946.85" y2="400.77"/>
<linearGradient id="g1593" href="#c76" x1="943.74" y1="409.39" x2="946.53" y2="411.38"/>
<radialGradient id="g1594" href="#r178_2" cx="785.42" cy="420.89" r="2.7"/>
<radialGradient id="g1595" href="#r102_7" cx="1136.44" cy="433.91" r="2.2"/>
<linearGradient id="g1596" href="#c178" x1="947.01" y1="431.6" x2="945.02" y2="432.38"/>
<radialGradient id="g1597" href="#r76_0" cx="777.18" cy="455.98" r="3.1"/>
<linearGradient id="g1598" href="#c102" x1="944.75" y1="447.12" x2="946.29" y2="448.2"/>
<linearGradient id="g1599" href="#c102" x1="947.83" y1="453.3" x2="945.38" y2="454.23"/>
<linearGradient id="g1600" href="#c178" x1="945.85" y1="459.88" x2="947.29" y2="460.99"/>
<linearGradient id="g1601" href="#c128" x1="943.76" y1="469.79" x2="946.25" y2="468.91"/>
<radialGradient id="g1602" href="#r76_1" cx="808.02" cy="475.23" r="2.4"/>
<radialGradient id="g1603" href="#r178_2" cx="1104.61" cy="488.78" r="3.6"/>
<linearGradient id="g1604" href="#c153" x1="945.19" y1="487.5" x2="946.68" y2="486.58"/>
<radialGradient id="g1605" href="#r102_5" cx="797.84" cy="497.4" r="3.6"/>
<linearGradient id="g1606" href="#c128" x1="945.25" y1="507.79" x2="947.26" y2="505.69"/>
<radialGradient id="g1607" href="#r178_6" cx="1090.76" cy="526.41" r="2.4"/>
<linearGradient id="g1608" href="#c128" x1="947.19" y1="517.16" x2="945.33" y2="518.48"/>
<linearGradient id="g1609" href="#c102" x1="946.96" y1="521.98" x2="945.27" y2="523.77"/>
<linearGradient id="g1610" href="#c76" x1="944.41" y1="536.15" x2="946.25" y2="534.82"/>
<radialGradient id="g1611" href="#r102_1" cx="845" cy="556.16" r="2.7"/>
<radialGradient id="g1612" href="#r153_1" cx="754.99" cy="563.3" r="2.4"/>
<linearGradient id="g1613" href="#c102" x1="946.33" y1="556.78" x2="944.59" y2="557.93"/>
<linearGradient id="g1614" href="#c178" x1="944.64" y1="561.48" x2="946.69" y2="560.76"/>
<radialGradient id="g1615" href="#r102_6" cx="770.57" cy="556.55" r="3.6"/>
<linearGradient id="g1616" href="#c153" x1="945.55" y1="575.83" x2="949.23" y2="577.21"/>
<radialGradient id="g1617" href="#r178_7" cx="1105.94" cy="585.33" r="3.1"/>
<linearGradient id="g1618" href="#c102" x1="945.52" y1="591.43" x2="947.27" y2="589.84"/>
<radialGradient id="g1619" href="#r128_3" cx="902.84" cy="595.01" r="2.05"/>
<linearGradient id="g1620" href="#c76" x1="947.71" y1="603.63" x2="945.68" y2="602.88"/>
<linearGradient id="g1621" href="#c153" x1="946.85" y1="608.5" x2="943.73" y2="606.66"/>
<linearGradient id="g1622" href="#c76" x1="945.98" y1="614.01" x2="947.88" y2="613.47"/>
<radialGradient id="g1623" href="#r128_1" cx="1022.47" cy="611.58" r="3.1"/>
<radialGradient id="g1624" href="#r153_2" cx="902.98" cy="618.59" r="3.6"/>
<linearGradient id="g1625" href="#c178" x1="945.12" y1="627.36" x2="946.96" y2="626.61"/>
<radialGradient id="g1626" href="#r76_7" cx="870.31" cy="635.98" r="2.7"/>
<linearGradient id="g1627" href="#c178" x1="943.48" y1="647.65" x2="946.48" y2="646.88"/>
<radialGradient id="g1628" href="#r153_2" cx="793.18" cy="663.53" r="3.1"/>
<linearGradient id="g1629" href="#c102" x1="944.31" y1="661.18" x2="947.23" y2="662.59"/>
<radialGradient id="g1630" href="#r178_4" cx="791.71" cy="661.06" r="2.05"/>
<linearGradient id="g1631" href="#c128" x1="944.57" y1="679.97" x2="946.22" y2="681.16"/>
<radialGradient id="g1632" href="#r76_6" cx="1100.81" cy="690.07" r="2.05"/>
<radialGradient id="g1633" href="#r128_7" cx="845.53" cy="704.9" r="2.05"/>
<radialGradient id="g1634" href="#r153_0" cx="866.6" cy="703.32" r="3.1"/>
<linearGradient id="g1635" href="#c128" x1="946.02" y1="701.01" x2="944.22" y2="700.06"/>
<linearGradient id="g1636" href="#c178" x1="943.69" y1="702.98" x2="946.36" y2="704.16"/>
<radialGradient id="g1637" href="#r76_5" cx="880.31" cy="714.09" r="2.7"/>
<linearGradient id="g1638" href="#c38" x1="851.98" y1="134" x2="855.05" y2="134"/>
<linearGradient id="g1639" href="#c38" x1="853.43" y1="135" x2="856.46" y2="135"/>
<linearGradient id="g1640" href="#c38" x1="851.07" y1="137" x2="854.13" y2="137"/>
<linearGradient id="g1641" href="#c38" x1="853.78" y1="138" x2="856.98" y2="138"/>
<linearGradient id="g1642" href="#c38" x1="853.63" y1="140" x2="856.88" y2="140"/>
<linearGradient id="g1643" href="#c38" x1="851.02" y1="141" x2="854.15" y2="141"/>
<linearGradient id="g1644" href="#c38" x1="852.85" y1="143" x2="856.07" y2="143"/>
<linearGradient id="g1645" href="#c38" x1="853.26" y1="144" x2="856.6" y2="144"/>
<linearGradient id="g1646" href="#c38" x1="853.08" y1="145" x2="856.43" y2="145"/>
<linearGradient id="g1647" href="#c38" x1="851.55" y1="146" x2="854.85" y2="146"/>
<linearGradient id="g1648" href="#c38" x1="852.58" y1="147" x2="855.99" y2="147"/>
<linearGradient id="g1649" href="#c38" x1="851.26" y1="148" x2="854.6" y2="148"/>
<linearGradient id="g1650" href="#c38" x1="852.92" y1="149" x2="856.33" y2="149"/>
<linearGradient id="g1651" href="#c38" x1="852.58" y1="150" x2="856.01" y2="150"/>
<linearGradient id="g1652" href="#c38" x1="851.96" y1="151" x2="855.41" y2="151"/>
<linearGradient id="g1653" href="#c38" x1="852.68" y1="152" x2="856.12" y2="152"/>
<linearGradient id="g1654" href="#c38" x1="851.91" y1="153" x2="855.38" y2="153"/>
<linearGradient id="g1655" href="#c38" x1="853.69" y1="154" x2="857.11" y2="154"/>
<linearGradient id="g1656" href="#c38" x1="852.95" y1="155" x2="856.39" y2="155"/>
<linearGradient id="g1657" href="#c38" x1="851.12" y1="156" x2="854.63" y2="156"/>
<linearGradient id="g1658" href="#c38" x1="853" y1="157" x2="856.57" y2="157"/>
<linearGradient id="g1659" href="#c38" x1="851.35" y1="158" x2="854.97" y2="158"/>
<linearGradient id="g1660" href="#c38" x1="852.35" y1="159" x2="855.9" y2="159"/>
<linearGradient id="g1661" href="#c38" x1="853.73" y1="160" x2="857.36" y2="160"/>
<linearGradient id="g1662" href="#c38" x1="853.82" y1="161" x2="857.59" y2="161"/>
<linearGradient id="g1663" href="#c38" x1="853.3" y1="163" x2="857.03" y2="163"/>
<linearGradient id="g1664" href="#c38" x1="850.74" y1="164" x2="854.71" y2="164"/>
<linearGradient id="g1665" href="#c38" x1="850.95" y1="165" x2="855.06" y2="165"/>
<linearGradient id="g1666" href="#c38" x1="850.69" y1="166" x2="854.8" y2="166"/>
<linearGradient id="g1667" href="#c38" x1="851.55" y1="167" x2="855.98" y2="167"/>
<linearGradient id="g1668" href="#c38" x1="849.41" y1="168" x2="854.12" y2="168"/>
<linearGradient id="g1669" href="#c38" x1="849.71" y1="169" x2="854.61" y2="169"/>
<linearGradient id="g1670" href="#c38" x1="852.28" y1="170" x2="857.56" y2="170"/>
<linearGradient id="g1671" href="#c38" x1="849.21" y1="171" x2="854.58" y2="171"/>
<linearGradient id="g1672" href="#c38" x1="852.58" y1="172" x2="858.01" y2="172"/>
<linearGradient id="g1673" href="#c38" x1="851.46" y1="173" x2="857.63" y2="173"/>
<linearGradient id="g1674" href="#c38" x1="853.23" y1="174" x2="859.6" y2="174"/>
<linearGradient id="g1675" href="#c38" x1="850.48" y1="176" x2="859.32" y2="176"/>
<linearGradient id="g1676" href="#c38" x1="846.22" y1="177" x2="855.22" y2="177"/>
<linearGradient id="g1677" href="#c38" x1="851.18" y1="178" x2="862.78" y2="178"/>
<linearGradient id="g1678" href="#c38" x1="851.15" y1="179" x2="862.31" y2="179"/>
<linearGradient id="g1679" href="#c38" x1="851.14" y1="180" x2="867.93" y2="180"/>
<linearGradient id="g1680" href="#c38" x1="845.13" y1="181" x2="865.76" y2="181"/>
<linearGradient id="g1681" href="#c38" x1="847.77" y1="182" x2="871.62" y2="182"/>
<linearGradient id="g1682" href="#c38" x1="851.81" y1="183" x2="894.48" y2="183"/>
<linearGradient id="g1683" href="#c38" x1="831.42" y1="184" x2="879.61" y2="184"/>
<linearGradient id="g1684" href="#c38" x1="849.74" y1="185" x2="1099.74" y2="185"/>
<linearGradient id="g1685" href="#c38" x1="843.03" y1="186" x2="1093.03" y2="186"/>
<linearGradient id="g1686" href="#c38" x1="780.23" y1="187" x2="891.72" y2="187"/>
<linearGradient id="g1687" href="#c38" x1="839.17" y1="188" x2="881.23" y2="188"/>
<linearGradient id="g1688" href="#c38" x1="848.72" y1="189" x2="875.9" y2="189"/>
<linearGradient id="g1689" href="#c38" x1="849.41" y1="190" x2="870.87" y2="190"/>
<linearGradient id="g1690" href="#c38" x1="848.51" y1="191" x2="866.62" y2="191"/>
<linearGradient id="g1691" href="#c38" x1="840.65" y1="192" x2="855.23" y2="192"/>
<linearGradient id="g1692" href="#c38" x1="844.96" y1="193" x2="856.08" y2="193"/>
<linearGradient id="g1693" href="#c38" x1="847.29" y1="194" x2="857.29" y2="194"/>
<linearGradient id="g1694" href="#c38" x1="845.48" y1="195" x2="854.03" y2="195"/>
<linearGradient id="g1695" href="#c38" x1="848.26" y1="196" x2="855.45" y2="196"/>
<linearGradient id="g1696" href="#c38" x1="852.35" y1="197" x2="858.84" y2="197"/>
<linearGradient id="g1697" href="#c38" x1="851.41" y1="198" x2="857.21" y2="198"/>
<linearGradient id="g1698" href="#c38" x1="853.92" y1="199" x2="858.94" y2="199"/>
<linearGradient id="g1699" href="#c38" x1="853.44" y1="200" x2="858.27" y2="200"/>
<linearGradient id="g1700" href="#c38" x1="852.87" y1="201" x2="857.28" y2="201"/>
<linearGradient id="g1701" href="#c38" x1="852" y1="202" x2="856.26" y2="202"/>
<linearGradient id="g1702" href="#c38" x1="851.37" y1="204" x2="854.99" y2="204"/>
<linearGradient id="g1703" href="#c38" x1="851.4" y1="206" x2="854.76" y2="206"/>
<linearGradient id="g1704" href="#c38" x1="853.7" y1="207" x2="857.09" y2="207"/>
<linearGradient id="g1705" href="#c38" x1="852.71" y1="208" x2="855.9" y2="208"/>
<linearGradient id="g1706" href="#c38" x1="851.05" y1="209" x2="854.3" y2="209"/>
<linearGradient id="g1707" href="#c38" x1="851.64" y1="210" x2="854.76" y2="210"/>
<linearGradient id="g1708" href="#c38" x1="852.88" y1="211" x2="855.95" y2="211"/>
<linearGradient id="g1709" href="#c38" x1="853.06" y1="212" x2="856.22" y2="212"/>
<linearGradient id="g1710" href="#c38" x1="852.01" y1="213" x2="855.09" y2="213"/>
<linearGradient id="g1711" href="#c38" x1="851.61" y1="214" x2="854.68" y2="214"/>
<linearGradient id="g1712" href="#c38" x1="851.05" y1="215" x2="854.03" y2="215"/>
<linearGradient id="g1713" href="#c38" x1="853.89" y1="216" x2="856.76" y2="216"/>
<linearGradient id="g1714" href="#c38" x1="851.58" y1="217" x2="854.41" y2="217"/>
<linearGradient id="g1715" href="#c38" x1="852.19" y1="222" x2="854.91" y2="222"/>
<linearGradient id="g1716" href="#c38" x1="852.96" y1="223" x2="855.73" y2="223"/>
<linearGradient id="g1717" href="#c38" x1="851.56" y1="225" x2="854.25" y2="225"/>
<linearGradient id="g1718" href="#c38" x1="851.91" y1="226" x2="854.58" y2="226"/>
<linearGradient id="g1719" href="#c38" x1="852.54" y1="227" x2="855.17" y2="227"/>
<linearGradient id="g1720" href="#c38" x1="851.53" y1="228" x2="854.27" y2="228"/>
<linearGradient id="g1721" href="#c38" x1="851.62" y1="229" x2="854.34" y2="229"/>
<linearGradient id="g1722" href="#c38" x1="851.62" y1="230" x2="854.33" y2="230"/>
<linearGradient id="g1723" href="#c38" x1="852.26" y1="231" x2="854.86" y2="231"/>
<linearGradient id="g1724" href="#c38" x1="851.62" y1="232" x2="854.23" y2="232"/>
<linearGradient id="g1725" href="#c38" x1="852.31" y1="233" x2="854.9" y2="233"/>
<linearGradient id="g1726" href="#c38" x1="852.91" y1="235" x2="855.55" y2="235"/>
<linearGradient id="g1727" href="#c38" x1="853.78" y1="236" x2="856.4" y2="236"/>
<linearGradient id="g1728" href="#c38" x1="852.28" y1="238" x2="854.87" y2="238"/>
<linearGradient id="g1729" href="#c38" x1="853.94" y1="239" x2="856.49" y2="239"/>
<linearGradient id="g1730" href="#c38" x1="852.54" y1="241" x2="855.08" y2="241"/>
<linearGradient id="g1731" href="#c38" x1="852.17" y1="242" x2="854.64" y2="242"/>
<linearGradient id="g1732" href="#c38" x1="851.64" y1="244" x2="854.15" y2="244"/>
<linearGradient id="g1733" href="#c38" x1="853.13" y1="247" x2="855.59" y2="247"/>
<linearGradient id="g1734" href="#c38" x1="853.32" y1="248" x2="855.78" y2="248"/>
<linearGradient id="g1735" href="#c38" x1="851.74" y1="251" x2="854.16" y2="251"/>
<linearGradient id="g1736" href="#c38" x1="851.93" y1="252" x2="854.28" y2="252"/>
<linearGradient id="g1737" href="#c38" x1="853.77" y1="253" x2="856.12" y2="253"/>
<linearGradient id="g1738" href="#c38" x1="852.73" y1="254" x2="855.11" y2="254"/>
<linearGradient id="g1739" href="#c38" x1="853.99" y1="255" x2="856.32" y2="255"/>
<linearGradient id="g1740" href="#c38" x1="853.31" y1="256" x2="855.66" y2="256"/>
<linearGradient id="g1741" href="#c76" x1="764.89" y1="483" x2="787.84" y2="483"/>
<linearGradient id="g1742" href="#c76" x1="754.51" y1="484" x2="771.07" y2="484"/>
<linearGradient id="g1743" href="#c76" x1="765.51" y1="485" x2="778.06" y2="485"/>
<linearGradient id="g1744" href="#c76" x1="763.19" y1="486" x2="774.25" y2="486"/>
<linearGradient id="g1745" href="#c76" x1="764.21" y1="487" x2="773.01" y2="487"/>
<linearGradient id="g1746" href="#c76" x1="763.76" y1="488" x2="771.13" y2="488"/>
<linearGradient id="g1747" href="#c38" x1="862.76" y1="626" x2="865.51" y2="626"/>
<linearGradient id="g1748" href="#c38" x1="862.13" y1="627" x2="864.88" y2="627"/>
<linearGradient id="g1749" href="#c38" x1="863.48" y1="628" x2="866.33" y2="628"/>
<linearGradient id="g1750" href="#c38" x1="861.33" y1="629" x2="864.35" y2="629"/>
<linearGradient id="g1751" href="#c38" x1="862.88" y1="632" x2="866.23" y2="632"/>
<linearGradient id="g1752" href="#c38" x1="860.62" y1="633" x2="864.14" y2="633"/>
<linearGradient id="g1753" href="#c38" x1="863.02" y1="634" x2="866.6" y2="634"/>
<linearGradient id="g1754" href="#c38" x1="861.24" y1="635" x2="864.96" y2="635"/>
<linearGradient id="g1755" href="#c38" x1="862.69" y1="636" x2="866.6" y2="636"/>
<linearGradient id="g1756" href="#c38" x1="863.76" y1="637" x2="868" y2="637"/>
<linearGradient id="g1757" href="#c38" x1="861.7" y1="638" x2="866.08" y2="638"/>
<linearGradient id="g1758" href="#c38" x1="861.78" y1="639" x2="866.72" y2="639"/>
<linearGradient id="g1759" href="#c38" x1="861.48" y1="641" x2="866.89" y2="641"/>
<linearGradient id="g1760" href="#c38" x1="862.92" y1="642" x2="869.01" y2="642"/>
<linearGradient id="g1761" href="#c38" x1="862.15" y1="644" x2="869.5" y2="644"/>
<linearGradient id="g1762" href="#c38" x1="857.99" y1="645" x2="866" y2="645"/>
<linearGradient id="g1763" href="#c38" x1="861.32" y1="646" x2="870.42" y2="646"/>
<linearGradient id="g1764" href="#c38" x1="863.96" y1="647" x2="875.54" y2="647"/>
<linearGradient id="g1765" href="#c38" x1="847.02" y1="649" x2="864.54" y2="649"/>
<linearGradient id="g1766" href="#c38" x1="854.74" y1="650" x2="877.58" y2="650"/>
<linearGradient id="g1767" href="#c38" x1="859.94" y1="651" x2="913.27" y2="651"/>
<linearGradient id="g1768" href="#c38" x1="824.81" y1="652" x2="927.54" y2="652"/>
<linearGradient id="g1769" href="#c38" x1="726.65" y1="653" x2="976.65" y2="653"/>
<linearGradient id="g1770" href="#c38" x1="947.46" y1="654" x2="842.37" y2="654"/>
<linearGradient id="g1771" href="#c38" x1="865.93" y1="655" x2="820.59" y2="655"/>
<linearGradient id="g1772" href="#c38" x1="874.11" y1="656" x2="852" y2="656"/>
<linearGradient id="g1773" href="#c38" x1="845.02" y1="658" x2="884.81" y2="658"/>
<linearGradient id="g1774" href="#c38" x1="853.2" y1="659" x2="872.26" y2="659"/>
<linearGradient id="g1775" href="#c38" x1="857.54" y1="660" x2="869.62" y2="660"/>
<linearGradient id="g1776" href="#c38" x1="855.53" y1="661" x2="865.47" y2="661"/>
<linearGradient id="g1777" href="#c38" x1="856.44" y1="662" x2="864.3" y2="662"/>
<linearGradient id="g1778" href="#c38" x1="863.75" y1="663" x2="870.32" y2="663"/>
<linearGradient id="g1779" href="#c38" x1="862.99" y1="666" x2="867.26" y2="666"/>
<linearGradient id="g1780" href="#c38" x1="861.42" y1="667" x2="865.44" y2="667"/>
<linearGradient id="g1781" href="#c38" x1="860.9" y1="668" x2="864.58" y2="668"/>
<linearGradient id="g1782" href="#c38" x1="861.47" y1="671" x2="864.55" y2="671"/>
<linearGradient id="g1783" href="#c38" x1="863.51" y1="672" x2="866.43" y2="672"/>
<linearGradient id="g1784" href="#c140" x1="756.04" y1="704" x2="773.53" y2="704"/>
<linearGradient id="g1785" href="#c140" x1="755.97" y1="705" x2="772" y2="705"/>
<linearGradient id="g1786" href="#c140" x1="757.68" y1="706" x2="784.46" y2="706"/>
<linearGradient id="g1787" href="#c140" x1="672.43" y1="707" x2="922.43" y2="707"/>
<linearGradient id="g1788" href="#c140" x1="790.91" y1="708" x2="758.95" y2="708"/>
<linearGradient id="g1789" href="#c140" x1="768.13" y1="709" x2="749.6" y2="709"/>
<linearGradient id="g1790" href="#c140" x1="743.07" y1="710" x2="772.64" y2="710"/>
<linearGradient id="g1791" href="#c140" x1="749.46" y1="711" x2="775.41" y2="711"/>
<linearGradient id="g1792" href="#c140" x1="760.71" y1="712" x2="770.5" y2="712"/>
<linearGradient id="g1793" href="#c140" x1="648.63" y1="713" x2="814.41" y2="713"/>
<linearGradient id="g1794" href="#c140" x1="748.56" y1="714" x2="780.75" y2="714"/>
<linearGradient id="g1795" href="#c140" x1="761.93" y1="715" x2="793.08" y2="715"/>
<linearGradient id="g1796" href="#c140" x1="788.43" y1="716" x2="739.14" y2="716"/>
<linearGradient id="g1797" href="#c140" x1="773.36" y1="717" x2="741.1" y2="717"/>
<linearGradient id="g1798" href="#c8" x1="781.26" y1="355" x2="747.83" y2="355"/>
<linearGradient id="g1799" href="#c8" x1="776.68" y1="356" x2="735.43" y2="356"/>
<linearGradient id="g1800" href="#c8" x1="799.51" y1="357" x2="763.03" y2="357"/>
<linearGradient id="g1801" href="#c8" x1="746.01" y1="359" x2="798.89" y2="359"/>
<linearGradient id="g1802" href="#c8" x1="713.31" y1="360" x2="771.98" y2="360"/>
<linearGradient id="g1803" href="#c8" x1="777.77" y1="361" x2="751.32" y2="361"/>
<linearGradient id="g1804" href="#c8" x1="771.49" y1="362" x2="729.63" y2="362"/>
<linearGradient id="g1805" href="#c8" x1="783.78" y1="363" x2="709.5" y2="363"/>
<linearGradient id="g1806" href="#c8" x1="762.72" y1="365" x2="797.17" y2="365"/>
<linearGradient id="g1807" href="#c8" x1="693.62" y1="366" x2="943.62" y2="366"/>
<linearGradient id="g1808" href="#c8" x1="789.66" y1="367" x2="759.89" y2="367"/>
<linearGradient id="g1809" href="#c8" x1="748.16" y1="368" x2="785.59" y2="368"/>
<linearGradient id="g1810" href="#c8" x1="784.07" y1="370" x2="759.03" y2="370"/>
<linearGradient id="g1811" href="#c8" x1="759.31" y1="372" x2="814.52" y2="372"/>
<linearGradient id="g1812" href="#c8" x1="839.71" y1="373" x2="753.24" y2="373"/>
<linearGradient id="g1813" href="#c8" x1="776.06" y1="374" x2="725.32" y2="374"/>
<linearGradient id="g1814" href="#c8" x1="534.3" y1="375" x2="784.3" y2="375"/>
<linearGradient id="af" x1="0" y1="0" x2="1" y2="0"><stop offset="0" stop-color="#0f0" stop-opacity=".75"/><stop offset=".35" stop-color="#0f0" stop-opacity=".5"/><stop offset="1" stop-color="#0f0" stop-opacity="0"/></linearGradient>
<linearGradient id="cb" x1="0" y1="0" x2="0" y2="1"><stop offset="0" stop-color="#800000"/><stop offset="0.09" stop-color="#e80000"/><stop offset="0.11" stop-color="#ff1300"/><stop offset="0.34" stop-color="#ffec00"/><stop offset="0.35" stop-color="#f7f600"/><stop offset="0.36" stop-color="#efff08"/><stop offset="0.62" stop-color="#15ffe2"/><stop offset="0.65" stop-color="#00e5f7"/><stop offset="0.66" stop-color="#00dbff"/><stop offset="0.88" stop-color="#0000ff"/><stop offset="0.89" stop-color="#0000ff"/><stop offset="1" stop-color="#000080"/></linearGradient>
</defs>
<rect width="1050" height="800" fill="#fff"/>
<g filter="url(#S0)"><rect x="131" y="80" width="178" height="641" fill="#80ff00"/><rect x="131" y="81" width="111.5" height="5" fill="url(#g1)"/><rect x="131" y="86" width="111.5" height="11" fill="url(#g2)"/><rect x="131" y="97" width="111.5" height="6" fill="url(#g3)"/><rect x="131" y="103" width="111.5" height="9" fill="url(#g4)"/><rect x="131" y="112" width="111.5" height="4" fill="url(#g5)"/><rect x="131" y="116" width="111.5" height="6" fill="url(#g6)"/><rect x="131" y="122" width="111.5" height="6" fill="url(#g7)"/><rect x="131" y="128" width="111.5" height="11" fill="url(#g8)"/><rect x="131" y="139" width="111.5" height="7" fill="url(#g9)"/><rect x="131" y="146" width="111.5" height="7" fill="url(#g10)"/><rect x="131" y="153" width="111.5" height="4" fill="url(#g11)"/><rect x="131" y="157" width="111.5" height="8" fill="url(#g12)"/><rect x="131" y="165" width="111.5" height="6" fill="url(#g13)"/><rect x="131" y="171" width="111.5" height="10" fill="url(#g14)"/><rect x="131" y="181" width="111.5" height="3" fill="url(#g15)"/><rect x="131" y="184" width="111.5" height="7" fill="url(#g16)"/><rect x="131" y="191" width="111.5" height="10" fill="url(#g17)"/><rect x="131" y="201" width="111.5" height="4" fill="url(#g18)"/><rect x="131" y="205" width="111.5" height="9" fill="url(#g19)"/><rect x="131" y="214" width="111.5" height="6" fill="url(#g20)"/><rect x="131" y="220" width="111.5" height="3" fill="url(#g21)"/><rect x="131" y="223" width="111.5" height="5" fill="url(#g22)"/><rect x="131" y="228" width="111.5" height="3" fill="url(#g23)"/><rect x="131" y="231" width="111.5" height="5" fill="url(#g24)"/><rect x="131" y="236" width="111.5" height="9" fill="url(#g25)"/><rect x="131" y="245" width="111.5" height="6" fill="url(#g26)"/><rect x="131" y="251" width="111.5" height="3" fill="url(#g27)"/><rect x="131" y="254" width="111.5" height="4" fill="url(#g28)"/><rect x="131" y="258" width="111.5" height="8" fill="url(#g29)"/><rect x="131" y="266" width="111.5" height="10" fill="url(#g30)"/><rect x="131" y="276" width="111.5" height="4" fill="url(#g31)"/><rect x="131" y="280" width="111.5" height="10" fill="url(#g32)"/><rect x="131" y="290" width="111.5" height="4" fill="url(#g33)"/><rect x="131" y="294" width="111.5" height="8" fill="url(#g34)"/><rect x="131" y="302" width="111.5" height="6" fill="url(#g35)"/><rect x="131" y="308" width="111.5" height="8" fill="url(#g36)"/><rect x="131" y="316" width="111.5" height="3" fill="url(#g37)"/><rect x="131" y="319" width="111.5" height="11" fill="url(#g38)"/><rect x="131" y="330" width="111.5" height="6" fill="url(#g39)"/><rect x="131" y="336" width="111.5" height="9" fill="url(#g40)"/><rect x="131" y="345" width="111.5" height="8" fill="url(#g41)"/><rect x="131" y="353" width="111.5" height="9" fill="url(#g42)"/><rect x="131" y="362" width="111.5" height="4" fill="url(#g43)"/><rect x="131" y="366" width="111.5" height="5" fill="url(#g44)"/><rect x="131" y="371" width="111.5" height="10" fill="url(#g45)"/><rect x="131" y="381" width="111.5" height="7" fill="url(#g46)"/><rect x="131" y="388" width="111.5" height="8" fill="url(#g47)"/><rect x="131" y="396" width="111.5" height="3" fill="url(#g48)"/><rect x="131" y="399" width="111.5" height="10" fill="url(#g49)"/><rect x="131" y="409" width="111.5" height="10" fill="url(#g50)"/><rect x="131" y="419" width="111.5" height="9" fill="url(#g51)"/><rect x="131" y="428" width="111.5" height="6" fill="url(#g52)"/><rect x="131" y="434" width="111.5" height="10" fill="url(#g53)"/><rect x="131" y="444" width="111.5" height="5" fill="url(#g54)"/><rect x="131" y="449" width="111.5" height="4" fill="url(#g55)"/><rect x="131" y="453" width="111.5" height="7" fill="url(#g56)"/><rect x="131" y="460" width="111.5" height="11" fill="url(#g57)"/><rect x="131" y="471" width="111.5" height="9" fill="url(#g58)"/><rect x="131" y="480" width="111.5" height="11" fill="url(#g59)"/><rect x="131" y="491" width="111.5" height="4" fill="url(#g60)"/><rect x="131" y="495" width="111.5" height="8" fill="url(#g61)"/><rect x="131" y="503" width="111.5" height="7" fill="url(#g62)"/><rect x="131" y="510" width="111.5" height="3" fill="url(#g63)"/><rect x="131" y="513" width="111.5" height="8" fill="url(#g64)"/><rect x="131" y="521" width="111.5" height="7" fill="url(#g65)"/><rect x="131" y="528" width="111.5" height="11" fill="url(#g66)"/><rect x="131" y="539" width="111.5" height="8" fill="url(#g67)"/><rect x="131" y="547" width="111.5" height="10" fill="url(#g68)"/><rect x="131" y="557" width="111.5" height="9" fill="url(#g69)"/><rect x="131" y="566" width="111.5" height="5" fill="url(#g70)"/><rect x="131" y="571" width="111.5" height="5" fill="url(#g71)"/><rect x="131" y="576" width="111.5" height="11" fill="url(#g72)"/><rect x="131" y="587" width="111.5" height="10" fill="url(#g73)"/><rect x="131" y="597" width="111.5" height="3" fill="url(#g74)"/><rect x="131" y="600" width="111.5" height="11" fill="url(#g75)"/><rect x="131" y="611" width="111.5" height="4" fill="url(#g76)"/><rect x="131" y="615" width="111.5" height="3" fill="url(#g77)"/><rect x="131" y="618" width="111.5" height="10" fill="url(#g78)"/><rect x="131" y="628" width="111.5" height="3" fill="url(#g79)"/><rect x="131" y="631" width="111.5" height="6" fill="url(#g80)"/><rect x="131" y="637" width="111.5" height="7" fill="url(#g81)"/><rect x="131" y="644" width="111.5" height="8" fill="url(#g82)"/><rect x="131" y="652" width="111.5" height="8" fill="url(#g83)"/><rect x="131" y="660" width="111.5" height="11" fill="url(#g84)"/><rect x="131" y="671" width="111.5" height="11" fill="url(#g85)"/><rect x="131" y="682" width="111.5" height="4" fill="url(#g86)"/><rect x="131" y="686" width="111.5" height="3" fill="url(#g87)"/><rect x="131" y="689" width="111.5" height="3" fill="url(#g88)"/><rect x="131" y="692" width="111.5" height="7" fill="url(#g89)"/><rect x="131" y="699" width="111.5" height="6" fill="url(#g90)"/><rect x="131" y="705" width="111.5" height="10" fill="url(#g91)"/><rect x="131" y="715" width="111.5" height="4" fill="url(#g92)"/><rect x="131" y="719" width="111.5" height="1" fill="url(#g93)"/><rect x="242.5" y="81" width="54.5" height="12" fill="url(#g94)"/><rect x="242.5" y="93" width="54.5" height="4" fill="url(#g95)"/><rect x="242.5" y="97" width="54.5" height="6" fill="url(#g96)"/><rect x="242.5" y="103" width="54.5" height="12" fill="url(#g97)"/><rect x="242.5" y="115" width="54.5" height="6" fill="url(#g98)"/><rect x="242.5" y="121" width="54.5" height="11" fill="url(#g99)"/><rect x="242.5" y="132" width="54.5" height="9" fill="url(#g100)"/><rect x="242.5" y="141" width="54.5" height="11" fill="url(#g101)"/><rect x="242.5" y="152" width="54.5" height="8" fill="url(#g102)"/><rect x="242.5" y="160" width="54.5" height="8" fill="url(#g103)"/><rect x="242.5" y="168" width="54.5" height="9" fill="url(#g104)"/><rect x="242.5" y="177" width="54.5" height="10" fill="url(#g105)"/><rect x="242.5" y="187" width="54.5" height="11" fill="url(#g106)"/><rect x="242.5" y="198" width="54.5" height="11" fill="url(#g107)"/><rect x="242.5" y="209" width="54.5" height="7" fill="url(#g108)"/><rect x="242.5" y="216" width="54.5" height="7" fill="url(#g109)"/><rect x="242.5" y="223" width="54.5" height="5" fill="url(#g110)"/><rect x="242.5" y="228" width="54.5" height="7" fill="url(#g111)"/><rect x="242.5" y="235" width="54.5" height="8" fill="url(#g112)"/><rect x="242.5" y="243" width="54.5" height="12" fill="url(#g113)"/><rect x="242.5" y="255" width="54.5" height="6" fill="url(#g114)"/><rect x="242.5" y="261" width="54.5" height="5" fill="url(#g115)"/><rect x="242.5" y="266" width="54.5" height="6" fill="url(#g116)"/><rect x="242.5" y="272" width="54.5" height="4" fill="url(#g117)"/><rect x="242.5" y="276" width="54.5" height="12" fill="url(#g118)"/><rect x="242.5" y="288" width="54.5" height="12" fill="url(#g119)"/><rect x="242.5" y="300" width="54.5" height="7" fill="url(#g120)"/><rect x="242.5" y="307" width="54.5" height="8" fill="url(#g121)"/><rect x="242.5" y="315" width="54.5" height="11" fill="url(#g122)"/><rect x="242.5" y="326" width="54.5" height="11" fill="url(#g123)"/><rect x="242.5" y="337" width="54.5" height="6" fill="url(#g124)"/><rect x="242.5" y="343" width="54.5" height="6" fill="url(#g125)"/><rect x="242.5" y="349" width="54.5" height="7" fill="url(#g126)"/><rect x="242.5" y="356" width="54.5" height="8" fill="url(#g127)"/><rect x="242.5" y="364" width="54.5" height="11" fill="url(#g128)"/><rect x="242.5" y="375" width="54.5" height="4" fill="url(#g129)"/><rect x="242.5" y="379" width="54.5" height="3" fill="url(#g130)"/><rect x="242.5" y="382" width="54.5" height="9" fill="url(#g131)"/><rect x="242.5" y="391" width="54.5" height="11" fill="url(#g132)"/><rect x="242.5" y="402" width="54.5" height="7" fill="url(#g133)"/><rect x="242.5" y="409" width="54.5" height="8" fill="url(#g134)"/><rect x="242.5" y="417" width="54.5" height="11" fill="url(#g135)"/><rect x="242.5" y="428" width="54.5" height="9" fill="url(#g136)"/><rect x="242.5" y="437" width="54.5" height="6" fill="url(#g137)"/><rect x="242.5" y="443" width="54.5" height="6" fill="url(#g138)"/><rect x="242.5" y="449" width="54.5" height="3" fill="url(#g139)"/><rect x="242.5" y="452" width="54.5" height="9" fill="url(#g140)"/><rect x="242.5" y="461" width="54.5" height="11" fill="url(#g141)"/><rect x="242.5" y="472" width="54.5" height="10" fill="url(#g142)"/><rect x="242.5" y="482" width="54.5" height="6" fill="url(#g143)"/><rect x="242.5" y="488" width="54.5" height="8" fill="url(#g144)"/><rect x="242.5" y="496" width="54.5" height="12" fill="url(#g145)"/><rect x="242.5" y="508" width="54.5" height="7" fill="url(#g146)"/><rect x="242.5" y="515" width="54.5" height="3" fill="url(#g147)"/><rect x="242.5" y="518" width="54.5" height="4" fill="url(#g148)"/><rect x="242.5" y="522" width="54.5" height="11" fill="url(#g149)"/><rect x="242.5" y="533" width="54.5" height="8" fill="url(#g150)"/><rect x="242.5" y="541" width="54.5" height="5" fill="url(#g151)"/><rect x="242.5" y="546" width="54.5" height="3" fill="url(#g152)"/><rect x="242.5" y="549" width="54.5" height="7" fill="url(#g153)"/><rect x="242.5" y="556" width="54.5" height="4" fill="url(#g154)"/><rect x="242.5" y="560" width="54.5" height="4" fill="url(#g155)"/><rect x="242.5" y="564" width="54.5" height="4" fill="url(#g156)"/><rect x="242.5" y="568" width="54.5" height="12" fill="url(#g157)"/><rect x="242.5" y="580" width="54.5" height="5" fill="url(#g158)"/><rect x="242.5" y="585" width="54.5" height="7" fill="url(#g159)"/><rect x="242.5" y="592" width="54.5" height="3" fill="url(#g160)"/><rect x="242.5" y="595" width="54.5" height="6" fill="url(#g161)"/><rect x="242.5" y="601" width="54.5" height="9" fill="url(#g162)"/><rect x="242.5" y="610" width="54.5" height="4" fill="url(#g163)"/><rect x="242.5" y="614" width="54.5" height="3" fill="url(#g164)"/><rect x="242.5" y="617" width="54.5" height="12" fill="url(#g165)"/><rect x="242.5" y="629" width="54.5" height="9" fill="url(#g166)"/><rect x="242.5" y="638" width="54.5" height="4" fill="url(#g167)"/><rect x="242.5" y="642" width="54.5" height="9" fill="url(#g168)"/><rect x="242.5" y="651" width="54.5" height="11" fill="url(#g169)"/><rect x="242.5" y="662" width="54.5" height="8" fill="url(#g170)"/><rect x="242.5" y="670" width="54.5" height="6" fill="url(#g171)"/><rect x="242.5" y="676" width="54.5" height="6" fill="url(#g172)"/><rect x="242.5" y="682" width="54.5" height="7" fill="url(#g173)"/><rect x="242.5" y="689" width="54.5" height="10" fill="url(#g174)"/><rect x="242.5" y="699" width="54.5" height="5" fill="url(#g175)"/><rect x="242.5" y="704" width="54.5" height="6" fill="url(#g176)"/><rect x="242.5" y="710" width="54.5" height="9" fill="url(#g177)"/><rect x="242.5" y="719" width="54.5" height="1" fill="url(#g178)"/><rect x="297" y="81" width="12" height="7" fill="url(#g179)"/><rect x="297" y="88" width="12" height="4" fill="url(#g180)"/><rect x="297" y="92" width="12" height="9" fill="url(#g181)"/><rect x="297" y="101" width="12" height="3" fill="url(#g182)"/><rect x="297" y="104" width="12" height="9" fill="url(#g183)"/><rect x="297" y="113" width="12" height="9" fill="url(#g184)"/><rect x="297" y="122" width="12" height="6" fill="url(#g185)"/><rect x="297" y="128" width="12" height="3" fill="url(#g186)"/><rect x="297" y="131" width="12" height="9" fill="url(#g187)"/><rect x="297" y="140" width="12" height="7" fill="url(#g188)"/><rect x="297" y="147" width="12" height="7" fill="url(#g189)"/><rect x="297" y="154" width="12" height="6" fill="url(#g190)"/><rect x="297" y="160" width="12" height="8" fill="url(#g191)"/><rect x="297" y="168" width="12" height="9" fill="url(#g192)"/><rect x="297" y="177" width="12" height="12" fill="url(#g193)"/><rect x="297" y="189" width="12" height="12" fill="url(#g194)"/><rect x="297" y="201" width="12" height="4" fill="url(#g195)"/><rect x="297" y="205" width="12" height="4" fill="url(#g196)"/><rect x="297" y="209" width="12" height="7" fill="url(#g197)"/><rect x="297" y="216" width="12" height="3" fill="url(#g198)"/><rect x="297" y="219" width="12" height="11" fill="url(#g199)"/><rect x="297" y="230" width="12" height="7" fill="url(#g200)"/><rect x="297" y="237" width="12" height="12" fill="url(#g201)"/><rect x="297" y="249" width="12" height="10" fill="url(#g202)"/><rect x="297" y="259" width="12" height="5" fill="url(#g203)"/><rect x="297" y="264" width="12" height="10" fill="url(#g204)"/><rect x="297" y="274" width="12" height="10" fill="url(#g205)"/><rect x="297" y="284" width="12" height="3" fill="url(#g206)"/><rect x="297" y="287" width="12" height="12" fill="url(#g207)"/><rect x="297" y="299" width="12" height="8" fill="url(#g208)"/><rect x="297" y="307" width="12" height="8" fill="url(#g209)"/><rect x="297" y="315" width="12" height="9" fill="url(#g210)"/><rect x="297" y="324" width="12" height="11" fill="url(#g211)"/><rect x="297" y="335" width="12" height="12" fill="url(#g212)"/><rect x="297" y="347" width="12" height="11" fill="url(#g213)"/><rect x="297" y="358" width="12" height="6" fill="url(#g214)"/><rect x="297" y="364" width="12" height="12" fill="url(#g215)"/><rect x="297" y="376" width="12" height="3" fill="url(#g216)"/><rect x="297" y="379" width="12" height="5" fill="url(#g217)"/><rect x="297" y="384" width="12" height="7" fill="url(#g218)"/><rect x="297" y="391" width="12" height="12" fill="url(#g219)"/><rect x="297" y="403" width="12" height="3" fill="url(#g220)"/><rect x="297" y="406" width="12" height="12" fill="url(#g221)"/><rect x="297" y="418" width="12" height="6" fill="url(#g222)"/><rect x="297" y="424" width="12" height="8" fill="url(#g223)"/><rect x="297" y="432" width="12" height="12" fill="url(#g224)"/><rect x="297" y="444" width="12" height="9" fill="url(#g225)"/><rect x="297" y="453" width="12" height="10" fill="url(#g226)"/><rect x="297" y="463" width="12" height="3" fill="url(#g227)"/><rect x="297" y="466" width="12" height="3" fill="url(#g228)"/><rect x="297" y="469" width="12" height="10" fill="url(#g229)"/><rect x="297" y="479" width="12" height="8" fill="url(#g230)"/><rect x="297" y="487" width="12" height="7" fill="url(#g231)"/><rect x="297" y="494" width="12" height="10" fill="url(#g232)"/><rect x="297" y="504" width="12" height="8" fill="url(#g233)"/><rect x="297" y="512" width="12" height="7" fill="url(#g234)"/><rect x="297" y="519" width="12" height="12" fill="url(#g235)"/><rect x="297" y="531" width="12" height="3" fill="url(#g236)"/><rect x="297" y="534" width="12" height="7" fill="url(#g237)"/><rect x="297" y="541" width="12" height="5" fill="url(#g238)"/><rect x="297" y="546" width="12" height="12" fill="url(#g239)"/><rect x="297" y="558" width="12" height="8" fill="url(#g240)"/><rect x="297" y="566" width="12" height="12" fill="url(#g241)"/><rect x="297" y="578" width="12" height="5" fill="url(#g242)"/><rect x="297" y="583" width="12" height="6" fill="url(#g243)"/><rect x="297" y="589" width="12" height="8" fill="url(#g244)"/><rect x="297" y="597" width="12" height="3" fill="url(#g245)"/><rect x="297" y="600" width="12" height="12" fill="url(#g246)"/><rect x="297" y="612" width="12" height="12" fill="url(#g247)"/><rect x="297" y="624" width="12" height="11" fill="url(#g248)"/><rect x="297" y="635" width="12" height="10" fill="url(#g249)"/><rect x="297" y="645" width="12" height="11" fill="url(#g250)"/><rect x="297" y="656" width="12" height="12" fill="url(#g251)"/><rect x="297" y="668" width="12" height="12" fill="url(#g252)"/><rect x="297" y="680" width="12" height="3" fill="url(#g253)"/><rect x="297" y="683" width="12" height="7" fill="url(#g254)"/><rect x="297" y="690" width="12" height="4" fill="url(#g255)"/><rect x="297" y="694" width="12" height="11" fill="url(#g256)"/><rect x="297" y="705" width="12" height="10" fill="url(#g257)"/><rect x="297" y="715" width="12" height="5" fill="url(#g258)"/><rect x="131" y="85" width="111.5" height="2" fill="url(#g259)"/><rect x="297" y="85" width="12" height="2" fill="#7c6e00"/><rect x="131" y="111" width="111.5" height="4" fill="url(#g260)"/><rect x="297" y="111" width="12" height="4" fill="#7c6100"/><rect x="131" y="134" width="111.5" height="9" fill="url(#g261)"/><rect x="297" y="134" width="12" height="9" fill="#7c4c00"/><rect x="131" y="143" width="111.5" height="77" fill="url(#g262)"/><rect x="297" y="143" width="12" height="77" fill="#7c2e00"/><rect x="131" y="221" width="111.5" height="29" fill="url(#g263)"/><rect x="297" y="221" width="12" height="29" fill="#7c3d00"/><rect x="131" y="251" width="111.5" height="5" fill="url(#g264)"/><rect x="297" y="251" width="12" height="5" fill="#7c4700"/><rect x="131" y="297" width="111.5" height="4" fill="url(#g265)"/><rect x="297" y="297" width="12" height="4" fill="#7c6100"/><rect x="131" y="303" width="111.5" height="4" fill="url(#g266)"/><rect x="297" y="303" width="12" height="4" fill="#7c5400"/><rect x="131" y="483" width="111.5" height="6" fill="url(#g267)"/><rect x="297" y="483" width="12" height="6" fill="#7c6e00"/><rect x="131" y="491" width="111.5" height="2" fill="url(#g268)"/><rect x="297" y="491" width="12" height="2" fill="#7c9400"/><rect x="131" y="496" width="111.5" height="24" fill="url(#g269)"/><rect x="297" y="496" width="12" height="24" fill="#7c3800"/><rect x="131" y="585" width="111.5" height="13" fill="url(#g270)"/><rect x="131" y="599" width="111.5" height="4" fill="url(#g271)"/><rect x="131" y="606" width="111.5" height="9" fill="url(#g272)"/><rect x="131" y="644" width="111.5" height="4" fill="url(#g273)"/><rect x="297" y="644" width="12" height="4" fill="#7c4c00"/><rect x="131" y="671" width="111.5" height="4" fill="url(#g274)"/><rect x="297" y="671" width="12" height="4" fill="#7c4c00"/><rect x="131" y="698" width="111.5" height="2" fill="url(#g275)"/><rect x="297" y="698" width="12" height="2" fill="#7c4c00"/><rect x="131" y="152" width="111.5" height="1" fill="url(#g276)"/><rect x="131" y="166" width="111.5" height="1" fill="url(#g277)"/><rect x="131" y="189" width="111.5" height="1" fill="url(#g278)"/><rect x="131" y="197" width="111.5" height="1" fill="url(#g279)"/><rect x="131" y="210" width="111.5" height="1" fill="url(#g280)"/><rect x="131" y="229" width="111.5" height="1" fill="url(#g281)"/><rect x="131" y="233" width="111.5" height="1" fill="url(#g282)"/><rect x="131" y="497" width="111.5" height="1" fill="url(#g283)"/><rect x="131" y="502" width="111.5" height="1" fill="url(#g284)"/><rect x="131" y="504" width="111.5" height="1" fill="url(#g285)"/><rect x="131" y="508" width="111.5" height="1" fill="url(#g286)"/><rect x="131" y="510" width="111.5" height="1" fill="url(#g287)"/><rect x="131" y="513" width="111.5" height="1" fill="url(#g288)"/><rect x="131" y="256" width="111.5" height="6" fill="url(#g289)"/><rect x="131" y="270" width="111.5" height="19" fill="url(#g290)"/><rect x="131" y="290" width="111.5" height="6" fill="url(#g291)"/><rect x="131" y="311" width="111.5" height="17" fill="url(#g292)"/><rect x="131" y="331" width="111.5" height="4" fill="url(#g293)"/><rect x="131" y="336" width="111.5" height="16" fill="url(#g294)"/><rect x="242.5" y="134" width="54.5" height="1" fill="url(#g295)"/><rect x="242.5" y="135" width="54.5" height="1" fill="url(#g296)"/><rect x="242.5" y="137" width="54.5" height="1" fill="url(#g297)"/><rect x="242.5" y="138" width="54.5" height="1" fill="url(#g298)"/><rect x="242.5" y="140" width="54.5" height="1" fill="url(#g299)"/><rect x="242.5" y="141" width="54.5" height="1" fill="url(#g300)"/><rect x="242.5" y="143" width="54.5" height="1" fill="url(#g301)"/><rect x="242.5" y="144" width="54.5" height="1" fill="url(#g302)"/><rect x="242.5" y="145" width="54.5" height="1" fill="url(#g303)"/><rect x="242.5" y="146" width="54.5" height="1" fill="url(#g304)"/><rect x="242.5" y="147" width="54.5" height="1" fill="url(#g305)"/><rect x="242.5" y="148" width="54.5" height="1" fill="url(#g306)"/><rect x="242.5" y="149" width="54.5" height="1" fill="url(#g307)"/><rect x="242.5" y="150" width="54.5" height="1" fill="url(#g308)"/><rect x="242.5" y="151" width="54.5" height="1" fill="url(#g309)"/><rect x="242.5" y="152" width="54.5" height="1" fill="url(#g310)"/><rect x="242.5" y="153" width="54.5" height="1" fill="url(#g311)"/><rect x="242.5" y="154" width="54.5" height="1" fill="url(#g312)"/><rect x="242.5" y="155" width="54.5" height="1" fill="url(#g313)"/><rect x="242.5" y="156" width="54.5" height="1" fill="url(#g314)"/><rect x="242.5" y="157" width="54.5" height="1" fill="url(#g315)"/><rect x="242.5" y="158" width="54.5" height="1" fill="url(#g316)"/><rect x="242.5" y="159" width="54.5" height="1" fill="url(#g317)"/><rect x="242.5" y="160" width="54.5" height="1" fill="url(#g318)"/><rect x="242.5" y="161" width="54.5" height="1" fill="url(#g319)"/><rect x="242.5" y="163" width="54.5" height="1" fill="url(#g320)"/><rect x="242.5" y="164" width="54.5" height="1" fill="url(#g321)"/><rect x="242.5" y="165" width="54.5" height="1" fill="url(#g322)"/><rect x="242.5" y="166" width="54.5" height="1" fill="url(#g323)"/><rect x="242.5" y="167" width="54.5" height="1" fill="url(#g324)"/><rect x="242.5" y="168" width="54.5" height="1" fill="url(#g325)"/><rect x="242.5" y="169" width="54.5" height="1" fill="url(#g326)"/><rect x="242.5" y="170" width="54.5" height="1" fill="url(#g327)"/><rect x="242.5" y="171" width="54.5" height="1" fill="url(#g328)"/><rect x="242.5" y="172" width="54.5" height="1" fill="url(#g329)"/><rect x="242.5" y="173" width="54.5" height="1" fill="url(#g330)"/><rect x="242.5" y="174" width="54.5" height="1" fill="url(#g331)"/><rect x="242.5" y="176" width="54.5" height="1" fill="url(#g332)"/><rect x="242.5" y="177" width="54.5" height="1" fill="url(#g333)"/><rect x="242.5" y="178" width="54.5" height="1" fill="url(#g334)"/><rect x="242.5" y="179" width="54.5" height="1" fill="url(#g335)"/><rect x="242.5" y="180" width="54.5" height="1" fill="url(#g336)"/><rect x="242.5" y="181" width="54.5" height="1" fill="url(#g337)"/><rect x="242.5" y="182" width="54.5" height="1" fill="url(#g338)"/><rect x="242.5" y="183" width="54.5" height="1" fill="url(#g339)"/><rect x="242.5" y="184" width="54.5" height="1" fill="url(#g340)"/><rect x="242.5" y="185" width="54.5" height="1" fill="url(#g341)"/><rect x="242.5" y="186" width="54.5" height="1" fill="url(#g342)"/><rect x="242.5" y="187" width="54.5" height="1" fill="url(#g343)"/><rect x="242.5" y="188" width="54.5" height="1" fill="url(#g344)"/><rect x="242.5" y="189" width="54.5" height="1" fill="url(#g345)"/><rect x="242.5" y="190" width="54.5" height="1" fill="url(#g346)"/><rect x="242.5" y="191" width="54.5" height="1" fill="url(#g347)"/><rect x="242.5" y="192" width="54.5" height="1" fill="url(#g348)"/><rect x="242.5" y="193" width="54.5" height="1" fill="url(#g349)"/><rect x="242.5" y="194" width="54.5" height="1" fill="url(#g350)"/><rect x="242.5" y="195" width="54.5" height="1" fill="url(#g351)"/><rect x="242.5" y="196" width="54.5" height="1" fill="url(#g352)"/><rect x="242.5" y="197" width="54.5" height="1" fill="url(#g353)"/><rect x="242.5" y="198" width="54.5" height="1" fill="url(#g354)"/><rect x="242.5" y="199" width="54.5" height="1" fill="url(#g355)"/><rect x="242.5" y="200" width="54.5" height="1" fill="url(#g356)"/><rect x="242.5" y="201" width="54.5" height="1" fill="url(#g357)"/><rect x="242.5" y="202" width="54.5" height="1" fill="url(#g358)"/><rect x="242.5" y="204" width="54.5" height="1" fill="url(#g359)"/><rect x="242.5" y="206" width="54.5" height="1" fill="url(#g360)"/><rect x="242.5" y="207" width="54.5" height="1" fill="url(#g361)"/><rect x="242.5" y="208" width="54.5" height="1" fill="url(#g362)"/><rect x="242.5" y="209" width="54.5" height="1" fill="url(#g363)"/><rect x="242.5" y="210" width="54.5" height="1" fill="url(#g364)"/><rect x="242.5" y="211" width="54.5" height="1" fill="url(#g365)"/><rect x="242.5" y="212" width="54.5" height="1" fill="url(#g366)"/><rect x="242.5" y="213" width="54.5" height="1" fill="url(#g367)"/><rect x="242.5" y="214" width="54.5" height="1" fill="url(#g368)"/><rect x="242.5" y="215" width="54.5" height="1" fill="url(#g369)"/><rect x="242.5" y="216" width="54.5" height="1" fill="url(#g370)"/><rect x="242.5" y="217" width="54.5" height="1" fill="url(#g371)"/><rect x="242.5" y="222" width="54.5" height="1" fill="url(#g372)"/><rect x="242.5" y="223" width="54.5" height="1" fill="url(#g373)"/><rect x="242.5" y="225" width="54.5" height="1" fill="url(#g374)"/><rect x="242.5" y="226" width="54.5" height="1" fill="url(#g375)"/><rect x="242.5" y="227" width="54.5" height="1" fill="url(#g376)"/><rect x="242.5" y="228" width="54.5" height="1" fill="url(#g377)"/><rect x="242.5" y="229" width="54.5" height="1" fill="url(#g378)"/><rect x="242.5" y="230" width="54.5" height="1" fill="url(#g379)"/><rect x="242.5" y="231" width="54.5" height="1" fill="url(#g380)"/><rect x="242.5" y="232" width="54.5" height="1" fill="url(#g381)"/><rect x="242.5" y="233" width="54.5" height="1" fill="url(#g382)"/><rect x="242.5" y="235" width="54.5" height="1" fill="url(#g383)"/><rect x="242.5" y="236" width="54.5" height="1" fill="url(#g384)"/><rect x="242.5" y="238" width="54.5" height="1" fill="url(#g385)"/><rect x="242.5" y="239" width="54.5" height="1" fill="url(#g386)"/><rect x="242.5" y="241" width="54.5" height="1" fill="url(#g387)"/><rect x="242.5" y="242" width="54.5" height="1" fill="url(#g388)"/><rect x="242.5" y="244" width="54.5" height="1" fill="url(#g389)"/><rect x="242.5" y="247" width="54.5" height="1" fill="url(#g390)"/><rect x="242.5" y="248" width="54.5" height="1" fill="url(#g391)"/><rect x="242.5" y="251" width="54.5" height="1" fill="url(#g392)"/><rect x="242.5" y="252" width="54.5" height="1" fill="url(#g393)"/><rect x="242.5" y="253" width="54.5" height="1" fill="url(#g394)"/><rect x="242.5" y="254" width="54.5" height="1" fill="url(#g395)"/><rect x="242.5" y="255" width="54.5" height="1" fill="url(#g396)"/><rect x="242.5" y="256" width="54.5" height="1" fill="url(#g397)"/><rect x="227" y="626" width="82" height="1" fill="url(#g398)"/><rect x="227" y="627" width="82" height="1" fill="url(#g399)"/><rect x="227" y="628" width="82" height="1" fill="url(#g400)"/><rect x="227" y="629" width="82" height="1" fill="url(#g401)"/><rect x="227" y="632" width="82" height="1" fill="url(#g402)"/><rect x="227" y="633" width="82" height="1" fill="url(#g403)"/><rect x="227" y="634" width="82" height="1" fill="url(#g404)"/><rect x="227" y="635" width="82" height="1" fill="url(#g405)"/><rect x="227" y="636" width="82" height="1" fill="url(#g406)"/><rect x="227" y="637" width="82" height="1" fill="url(#g407)"/><rect x="227" y="638" width="82" height="1" fill="url(#g408)"/><rect x="227" y="639" width="82" height="1" fill="url(#g409)"/><rect x="227" y="641" width="82" height="1" fill="url(#g410)"/><rect x="227" y="642" width="82" height="1" fill="url(#g411)"/><rect x="227" y="644" width="82" height="1" fill="url(#g412)"/><rect x="227" y="645" width="82" height="1" fill="url(#g413)"/><rect x="227" y="646" width="82" height="1" fill="url(#g414)"/><rect x="227" y="647" width="82" height="1" fill="url(#g415)"/><rect x="227" y="649" width="82" height="1" fill="url(#g416)"/><rect x="227" y="650" width="82" height="1" fill="url(#g417)"/><rect x="227" y="651" width="82" height="1" fill="url(#g418)"/><rect x="227" y="652" width="82" height="1" fill="url(#g419)"/><rect x="227" y="653" width="82" height="1" fill="url(#g420)"/><rect x="227" y="654" width="82" height="1" fill="url(#g421)"/><rect x="227" y="655" width="82" height="1" fill="url(#g422)"/><rect x="227" y="656" width="82" height="1" fill="url(#g423)"/><rect x="227" y="658" width="82" height="1" fill="url(#g424)"/><rect x="227" y="659" width="82" height="1" fill="url(#g425)"/><rect x="227" y="660" width="82" height="1" fill="url(#g426)"/><rect x="227" y="661" width="82" height="1" fill="url(#g427)"/><rect x="227" y="662" width="82" height="1" fill="url(#g428)"/><rect x="227" y="663" width="82" height="1" fill="url(#g429)"/><rect x="227" y="666" width="82" height="1" fill="url(#g430)"/><rect x="227" y="667" width="82" height="1" fill="url(#g431)"/><rect x="227" y="668" width="82" height="1" fill="url(#g432)"/><rect x="227" y="671" width="82" height="1" fill="url(#g433)"/><rect x="227" y="672" width="82" height="1" fill="url(#g434)"/><rect x="131" y="704" width="104" height="1" fill="url(#g435)"/><rect x="131" y="705" width="104" height="1" fill="url(#g436)"/><rect x="131" y="706" width="104" height="1" fill="url(#g437)"/><rect x="131" y="707" width="104" height="1" fill="url(#g438)"/><rect x="131" y="708" width="104" height="1" fill="url(#g439)"/><rect x="131" y="709" width="104" height="1" fill="url(#g440)"/><rect x="131" y="710" width="104" height="1" fill="url(#g441)"/><rect x="131" y="711" width="104" height="1" fill="url(#g442)"/><rect x="131" y="712" width="104" height="1" fill="url(#g443)"/><rect x="131" y="713" width="104" height="1" fill="url(#g444)"/><rect x="131" y="714" width="104" height="1" fill="url(#g445)"/><rect x="131" y="715" width="104" height="1" fill="url(#g446)"/><rect x="131" y="716" width="104" height="1" fill="url(#g447)"/><rect x="131" y="717" width="104" height="1" fill="url(#g448)"/><rect x="131" y="355" width="178" height="1" fill="url(#g449)"/><rect x="131" y="356" width="178" height="1" fill="url(#g450)"/><rect x="131" y="357" width="178" height="1" fill="url(#g451)"/><rect x="131" y="359" width="178" height="1" fill="url(#g452)"/><rect x="131" y="360" width="178" height="1" fill="url(#g453)"/><rect x="131" y="361" width="178" height="1" fill="url(#g454)"/><rect x="131" y="362" width="178" height="1" fill="url(#g455)"/><rect x="131" y="363" width="178" height="1" fill="url(#g456)"/><rect x="131" y="365" width="178" height="1" fill="url(#g457)"/><rect x="131" y="366" width="178" height="1" fill="url(#g458)"/><rect x="131" y="367" width="178" height="1" fill="url(#g459)"/><rect x="131" y="368" width="178" height="1" fill="url(#g460)"/><rect x="131" y="370" width="178" height="1" fill="url(#g461)"/><rect x="131" y="372" width="178" height="1" fill="url(#g462)"/><rect x="131" y="373" width="178" height="1" fill="url(#g463)"/><rect x="131" y="374" width="178" height="1" fill="url(#g464)"/><rect x="131" y="375" width="178" height="1" fill="url(#g465)"/><path fill="#80ff00" d="M163 134h1v1h-1zM167 134h1v1h-1zM147 135h1v1h-1zM207 135h1v1h-1zM215 135h1v1h-1zM231 135h1v1h-1zM157 137h1v1h-1zM222 137h1v1h-1zM241 137h1v1h-1zM147 138h1v1h-1zM164 138h1v1h-1zM166 138h1v1h-1zM179 138h1v1h-1zM186 138h1v1h-1zM191 138h1v1h-1zM300 138h1v1h-1zM144 140h1v1h-1zM146 140h1v1h-1zM151 140h1v1h-1zM169 140h1v1h-1zM181 140h1v1h-1zM203 140h1v1h-1zM208 140h1v1h-1zM306 140h1v1h-1zM157 141h1v1h-1zM194 141h1v1h-1zM195 141h1v1h-1zM200 141h1v1h-1zM307 141h1v1h-1zM142 143h1v1h-1zM151 143h1v1h-1zM159 143h1v1h-1zM179 143h1v1h-1zM216 143h1v1h-1zM227 143h1v1h-1zM233 143h1v1h-1zM234 143h1v1h-1zM166 144h1v1h-1zM197 144h1v1h-1zM212 144h1v1h-1zM159 145h1v1h-1zM171 145h1v1h-1zM192 145h1v1h-1zM211 145h1v1h-1zM214 145h1v1h-1zM235 145h1v1h-1zM192 146h1v1h-1zM197 146h1v1h-1zM200 146h1v1h-1zM159 147h1v1h-1zM175 147h1v1h-1zM179 147h1v1h-1zM196 147h1v1h-1zM306 147h1v1h-1zM160 148h1v1h-1zM195 148h1v1h-1zM215 148h1v1h-1zM162 149h1v1h-1zM185 150h1v1h-1zM172 151h1v1h-1zM185 151h1v1h-1zM225 151h1v1h-1zM227 151h1v1h-1zM302 151h1v1h-1zM133 152h1v1h-1zM161 152h1v1h-1zM164 152h1v1h-1zM176 152h1v1h-1zM177 152h1v1h-1zM180 152h1v1h-1zM203 152h1v1h-1zM224 152h1v1h-1zM134 153h1v1h-1zM145 153h1v1h-1zM167 153h1v1h-1zM221 153h1v1h-1zM306 153h1v1h-1zM167 154h1v1h-1zM220 154h1v1h-1zM238 154h1v1h-1zM300 154h1v1h-1zM132 155h1v1h-1zM154 155h1v1h-1zM171 155h1v1h-1zM211 155h1v1h-1zM229 155h1v1h-1zM154 156h1v1h-1zM165 156h1v1h-1zM188 156h1v1h-1zM196 156h1v1h-1zM219 156h1v1h-1zM231 156h1v1h-1zM233 156h1v1h-1zM240 156h1v1h-1zM159 157h1v1h-1zM172 157h1v1h-1zM221 157h1v1h-1zM166 158h1v1h-1zM175 158h1v1h-1zM208 158h1v1h-1zM220 158h1v1h-1zM148 159h1v1h-1zM203 159h1v1h-1zM134 160h1v1h-1zM175 160h1v1h-1zM185 160h1v1h-1zM190 160h1v1h-1zM192 160h1v1h-1zM238 160h1v1h-1zM298 160h1v1h-1zM164 161h1v1h-1zM165 161h1v1h-1zM172 161h1v1h-1zM229 161h1v1h-1zM306 161h1v1h-1zM212 163h1v1h-1zM222 163h1v1h-1zM149 164h1v1h-1zM166 164h1v1h-1zM173 164h1v1h-1zM185 164h1v1h-1zM205 164h1v1h-1zM172 165h1v1h-1zM200 165h1v1h-1zM203 165h1v1h-1zM239 165h1v1h-1zM133 166h1v1h-1zM152 166h1v1h-1zM155 166h1v1h-1zM162 166h1v1h-1zM224 166h1v1h-1zM137 167h1v1h-1zM153 167h1v1h-1zM237 167h1v1h-1zM172 168h1v1h-1zM177 168h1v1h-1zM157 169h1v1h-1zM172 169h1v1h-1zM139 170h1v1h-1zM145 170h1v1h-1zM195 170h1v1h-1zM305 170h1v1h-1zM196 171h1v1h-1zM197 171h1v1h-1zM215 171h1v1h-1zM191 172h1v1h-1zM195 172h1v1h-1zM237 172h1v1h-1zM307 172h1v1h-1zM151 173h1v1h-1zM156 173h1v1h-1zM234 173h1v1h-1zM241 173h1v1h-1zM299 173h1v1h-1zM142 174h1v1h-1zM156 174h1v1h-1zM204 174h1v1h-1zM222 174h1v1h-1zM237 174h1v1h-1zM141 176h1v1h-1zM216 176h1v1h-1zM304 176h1v1h-1zM214 177h1v1h-1zM220 177h1v1h-1zM178 178h1v1h-1zM197 178h1v1h-1zM141 179h1v1h-1zM150 179h1v1h-1zM307 179h1v1h-1zM148 180h1v1h-1zM153 180h1v1h-1zM160 180h1v1h-1zM197 180h1v1h-1zM203 180h1v1h-1zM231 180h1v1h-1zM159 181h1v1h-1zM176 181h1v1h-1zM212 181h1v1h-1zM237 181h1v1h-1zM137 182h1v1h-1zM172 182h1v1h-1zM228 182h1v1h-1zM235 182h1v1h-1zM238 182h1v1h-1zM306 182h1v1h-1zM172 183h1v1h-1zM208 183h1v1h-1zM223 183h1v1h-1zM301 183h1v1h-1zM147 184h1v1h-1zM233 184h1v1h-1zM164 185h1v1h-1zM172 185h1v1h-1zM174 185h1v1h-1zM180 185h1v1h-1zM186 185h1v1h-1zM195 185h1v1h-1zM213 185h1v1h-1zM235 185h1v1h-1zM241 185h1v1h-1zM172 186h1v1h-1zM205 186h1v1h-1zM232 186h1v1h-1zM240 186h1v1h-1zM306 186h1v1h-1zM173 187h1v1h-1zM182 187h1v1h-1zM214 187h1v1h-1zM219 187h1v1h-1zM224 187h1v1h-1zM299 187h1v1h-1zM145 188h1v1h-1zM175 188h1v1h-1zM218 188h1v1h-1zM232 188h1v1h-1zM142 189h1v1h-1zM176 189h1v1h-1zM207 189h1v1h-1zM135 190h1v1h-1zM166 190h1v1h-1zM201 190h1v1h-1zM228 190h1v1h-1zM233 190h1v1h-1zM236 190h1v1h-1zM300 190h1v1h-1zM169 192h1v1h-1zM188 192h1v1h-1zM303 192h1v1h-1zM305 192h1v1h-1zM145 193h1v1h-1zM152 193h1v1h-1zM191 193h1v1h-1zM217 193h1v1h-1zM306 193h1v1h-1zM155 194h1v1h-1zM201 194h1v1h-1zM216 194h1v1h-1zM137 195h1v1h-1zM239 195h1v1h-1zM299 195h1v1h-1zM134 196h1v1h-1zM147 196h1v1h-1zM150 196h1v1h-1zM164 196h1v1h-1zM167 196h1v1h-1zM302 196h1v1h-1zM186 197h1v1h-1zM230 197h1v1h-1zM301 197h1v1h-1zM132 198h1v1h-1zM210 198h1v1h-1zM215 198h1v1h-1zM132 199h1v1h-1zM221 199h1v1h-1zM228 199h1v1h-1zM241 199h1v1h-1zM146 200h1v1h-1zM170 200h1v1h-1zM237 200h1v1h-1zM154 201h1v1h-1zM186 201h1v1h-1zM233 201h1v1h-1zM236 201h1v1h-1zM301 201h1v1h-1zM306 201h1v1h-1zM136 202h1v1h-1zM173 202h1v1h-1zM179 202h1v1h-1zM199 202h1v1h-1zM202 202h1v1h-1zM219 202h1v1h-1zM195 204h1v1h-1zM202 204h1v1h-1zM203 204h1v1h-1zM211 204h1v1h-1zM217 204h1v1h-1zM219 204h1v1h-1zM240 204h1v1h-1zM306 204h1v1h-1zM151 206h1v1h-1zM168 206h1v1h-1zM175 206h1v1h-1zM212 206h1v1h-1zM231 206h1v1h-1zM149 207h1v1h-1zM160 207h1v1h-1zM173 207h1v1h-1zM211 207h1v1h-1zM233 207h1v1h-1zM160 208h1v1h-1zM168 208h1v1h-1zM202 208h1v1h-1zM229 208h1v1h-1zM236 208h1v1h-1zM173 209h1v1h-1zM230 209h1v1h-1zM239 209h1v1h-1zM240 209h1v1h-1zM168 210h1v1h-1zM191 210h1v1h-1zM224 210h1v1h-1zM298 210h1v1h-1zM301 210h1v1h-1zM183 211h1v1h-1zM217 211h1v1h-1zM231 211h1v1h-1zM305 211h1v1h-1zM158 212h1v1h-1zM162 212h1v1h-1zM200 212h1v1h-1zM224 212h1v1h-1zM152 213h1v1h-1zM170 213h1v1h-1zM151 214h1v1h-1zM168 214h1v1h-1zM197 214h1v1h-1zM198 214h1v1h-1zM203 214h1v1h-1zM153 215h1v1h-1zM185 215h1v1h-1zM153 216h1v1h-1zM172 216h1v1h-1zM226 216h1v1h-1zM301 216h1v1h-1zM305 216h1v1h-1zM206 217h1v1h-1zM216 217h1v1h-1zM217 217h1v1h-1zM138 222h1v1h-1zM150 222h1v1h-1zM156 222h1v1h-1zM177 223h1v1h-1zM178 223h1v1h-1zM222 223h1v1h-1zM224 223h1v1h-1zM137 225h1v1h-1zM146 225h1v1h-1zM204 225h1v1h-1zM156 226h1v1h-1zM170 226h1v1h-1zM175 226h1v1h-1zM298 226h1v1h-1zM191 227h1v1h-1zM195 227h1v1h-1zM216 227h1v1h-1zM176 228h1v1h-1zM191 228h1v1h-1zM233 228h1v1h-1zM306 228h1v1h-1zM307 228h1v1h-1zM144 229h1v1h-1zM178 229h1v1h-1zM224 229h1v1h-1zM144 231h1v1h-1zM178 231h1v1h-1zM240 231h1v1h-1zM147 232h1v1h-1zM148 232h1v1h-1zM159 232h1v1h-1zM304 232h1v1h-1zM306 232h1v1h-1zM184 233h1v1h-1zM187 233h1v1h-1zM194 233h1v1h-1zM149 235h1v1h-1zM167 235h1v1h-1zM187 235h1v1h-1zM193 235h1v1h-1zM198 235h1v1h-1zM134 236h1v1h-1zM153 236h1v1h-1zM169 236h1v1h-1zM183 236h1v1h-1zM216 236h1v1h-1zM140 238h1v1h-1zM148 238h1v1h-1zM178 238h1v1h-1zM180 238h1v1h-1zM183 238h1v1h-1zM234 238h1v1h-1zM240 238h1v1h-1zM298 238h1v1h-1zM193 239h1v1h-1zM218 239h1v1h-1zM302 239h1v1h-1zM148 241h1v1h-1zM200 241h1v1h-1zM216 241h1v1h-1zM235 241h1v1h-1zM238 241h1v1h-1zM303 241h1v1h-1zM305 241h1v1h-1zM136 242h1v1h-1zM166 242h1v1h-1zM160 244h1v1h-1zM177 244h1v1h-1zM184 244h1v1h-1zM197 244h1v1h-1zM175 247h1v1h-1zM184 247h1v1h-1zM213 247h1v1h-1zM138 248h1v1h-1zM163 248h1v1h-1zM207 248h1v1h-1zM215 248h1v1h-1zM150 251h1v1h-1zM174 251h1v1h-1zM180 251h1v1h-1zM197 251h1v1h-1zM205 251h1v1h-1zM206 251h1v1h-1zM298 251h1v1h-1zM158 252h1v1h-1zM176 252h1v1h-1zM241 253h1v1h-1zM153 254h1v1h-1zM220 254h1v1h-1zM231 254h1v1h-1zM196 255h1v1h-1zM214 255h1v1h-1zM224 255h1v1h-1zM143 256h1v1h-1zM155 256h1v1h-1zM158 256h1v1h-1zM162 256h1v1h-1zM214 256h1v1h-1zM220 256h1v1h-1zM234 256h1v1h-1zM306 256h1v1h-1zM144 483h1v1h-1zM153 483h1v1h-1zM174 483h1v1h-1zM178 483h1v1h-1zM301 483h1v1h-1zM141 484h1v1h-1zM144 484h1v1h-1zM154 484h1v1h-1zM157 484h1v1h-1zM180 484h1v1h-1zM192 484h1v1h-1zM198 484h1v1h-1zM202 484h1v1h-1zM223 484h1v1h-1zM236 484h1v1h-1zM240 484h1v1h-1zM148 485h1v1h-1zM210 485h1v1h-1zM228 485h1v1h-1zM230 485h1v1h-1zM303 485h1v1h-1zM146 486h1v1h-1zM233 486h1v1h-1zM305 486h1v1h-1zM153 487h1v1h-1zM194 487h1v1h-1zM204 487h1v1h-1zM212 487h1v1h-1zM232 487h1v1h-1zM152 488h1v1h-1zM186 488h1v1h-1zM190 488h1v1h-1zM233 488h1v1h-1zM175 491h1v1h-1zM216 491h1v1h-1zM233 491h1v1h-1zM234 491h1v1h-1zM241 491h1v1h-1zM300 491h1v1h-1zM301 491h1v1h-1zM302 491h1v1h-1zM134 493h1v1h-1zM173 493h1v1h-1zM189 493h1v1h-1zM211 493h1v1h-1zM223 493h1v1h-1zM138 496h1v1h-1zM213 496h1v1h-1zM220 496h1v1h-1zM222 496h1v1h-1zM154 497h1v1h-1zM189 497h1v1h-1zM193 497h1v1h-1zM307 497h1v1h-1zM144 498h1v1h-1zM180 498h1v1h-1zM193 498h1v1h-1zM225 498h1v1h-1zM302 498h1v1h-1zM239 499h1v1h-1zM144 500h1v1h-1zM156 500h1v1h-1zM162 500h1v1h-1zM234 500h1v1h-1zM298 500h1v1h-1zM134 501h1v1h-1zM137 501h1v1h-1zM182 501h1v1h-1zM189 501h1v1h-1zM199 501h1v1h-1zM232 501h1v1h-1zM138 502h1v1h-1zM142 502h1v1h-1zM150 502h1v1h-1zM298 502h1v1h-1zM305 502h1v1h-1zM136 503h1v1h-1zM141 503h1v1h-1zM142 503h1v1h-1zM154 503h1v1h-1zM177 503h1v1h-1zM178 503h1v1h-1zM241 503h1v1h-1zM301 503h1v1h-1zM145 504h1v1h-1zM190 504h1v1h-1zM220 504h1v1h-1zM224 504h1v1h-1zM132 505h1v1h-1zM137 505h1v1h-1zM152 505h1v1h-1zM175 505h1v1h-1zM184 505h1v1h-1zM186 505h1v1h-1zM187 505h1v1h-1zM218 505h1v1h-1zM152 506h1v1h-1zM177 506h1v1h-1zM190 506h1v1h-1zM204 506h1v1h-1zM207 506h1v1h-1zM219 506h1v1h-1zM241 506h1v1h-1zM305 506h1v1h-1zM184 507h1v1h-1zM189 507h1v1h-1zM202 507h1v1h-1zM231 507h1v1h-1zM300 507h1v1h-1zM182 508h1v1h-1zM188 508h1v1h-1zM305 508h1v1h-1zM138 509h1v1h-1zM178 509h1v1h-1zM181 509h1v1h-1zM190 509h1v1h-1zM203 509h1v1h-1zM220 509h1v1h-1zM227 509h1v1h-1zM236 509h1v1h-1zM299 509h1v1h-1zM211 510h1v1h-1zM228 510h1v1h-1zM300 510h1v1h-1zM152 511h1v1h-1zM155 511h1v1h-1zM193 511h1v1h-1zM195 511h1v1h-1zM212 511h1v1h-1zM220 511h1v1h-1zM301 511h1v1h-1zM144 512h1v1h-1zM172 512h1v1h-1zM204 512h1v1h-1zM213 512h1v1h-1zM223 512h1v1h-1zM228 512h1v1h-1zM235 512h1v1h-1zM238 512h1v1h-1zM165 513h1v1h-1zM169 513h1v1h-1zM175 513h1v1h-1zM223 513h1v1h-1zM224 513h1v1h-1zM303 513h1v1h-1zM147 514h1v1h-1zM159 514h1v1h-1zM169 514h1v1h-1zM193 514h1v1h-1zM235 514h1v1h-1zM162 515h1v1h-1zM169 515h1v1h-1zM209 515h1v1h-1zM141 516h1v1h-1zM145 516h1v1h-1zM157 516h1v1h-1zM175 516h1v1h-1zM174 517h1v1h-1zM186 517h1v1h-1zM227 517h1v1h-1zM141 518h1v1h-1zM186 518h1v1h-1zM219 518h1v1h-1zM300 518h1v1h-1zM151 519h1v1h-1zM152 519h1v1h-1zM162 519h1v1h-1zM184 519h1v1h-1zM200 519h1v1h-1zM227 519h1v1h-1zM145 270h1v1h-1zM191 270h1v1h-1zM168 271h1v1h-1zM177 271h1v1h-1zM223 271h1v1h-1zM239 271h1v1h-1zM203 272h1v1h-1zM215 272h1v1h-1zM226 272h1v1h-1zM239 272h1v1h-1zM304 272h1v1h-1zM134 273h1v1h-1zM212 273h1v1h-1zM142 274h1v1h-1zM194 274h1v1h-1zM205 274h1v1h-1zM208 274h1v1h-1zM219 275h1v1h-1zM223 275h1v1h-1zM307 275h1v1h-1zM133 276h1v1h-1zM203 276h1v1h-1zM216 276h1v1h-1zM181 277h1v1h-1zM193 277h1v1h-1zM301 277h1v1h-1zM163 278h1v1h-1zM299 278h1v1h-1zM303 278h1v1h-1zM160 279h1v1h-1zM168 279h1v1h-1zM172 279h1v1h-1zM198 280h1v1h-1zM212 280h1v1h-1zM143 281h1v1h-1zM149 282h1v1h-1zM156 282h1v1h-1zM162 282h1v1h-1zM132 283h1v1h-1zM144 283h1v1h-1zM150 283h1v1h-1zM183 283h1v1h-1zM219 283h1v1h-1zM228 283h1v1h-1zM156 284h1v1h-1zM171 284h1v1h-1zM213 284h1v1h-1zM221 284h1v1h-1zM160 285h1v1h-1zM229 285h1v1h-1zM151 286h1v1h-1zM188 286h1v1h-1zM143 287h1v1h-1zM151 287h1v1h-1zM229 287h1v1h-1zM146 288h1v1h-1zM239 288h1v1h-1zM200 290h1v1h-1zM234 290h1v1h-1zM204 291h1v1h-1zM223 291h1v1h-1zM162 292h1v1h-1zM203 292h1v1h-1zM204 292h1v1h-1zM212 292h1v1h-1zM213 292h1v1h-1zM224 292h1v1h-1zM165 293h1v1h-1zM192 293h1v1h-1zM169 294h1v1h-1zM170 294h1v1h-1zM198 295h1v1h-1zM201 295h1v1h-1zM205 295h1v1h-1zM240 295h1v1h-1zM298 295h1v1h-1zM304 295h1v1h-1zM132 297h1v1h-1zM136 297h1v1h-1zM139 297h1v1h-1zM159 297h1v1h-1zM166 297h1v1h-1zM171 297h1v1h-1zM195 297h1v1h-1zM205 297h1v1h-1zM207 297h1v1h-1zM238 297h1v1h-1zM298 297h1v1h-1zM305 297h1v1h-1zM218 298h1v1h-1zM233 298h1v1h-1zM235 298h1v1h-1zM238 298h1v1h-1zM302 298h1v1h-1zM307 298h1v1h-1zM173 299h1v1h-1zM214 299h1v1h-1zM302 299h1v1h-1zM307 299h1v1h-1zM135 300h1v1h-1zM180 300h1v1h-1zM204 300h1v1h-1zM233 300h1v1h-1zM235 300h1v1h-1zM304 300h1v1h-1zM189 303h1v1h-1zM237 303h1v1h-1zM140 306h1v1h-1zM172 306h1v1h-1zM136 308h1v1h-1zM139 308h1v1h-1zM171 308h1v1h-1zM181 308h1v1h-1zM134 309h1v1h-1zM197 309h1v1h-1zM229 309h1v1h-1zM305 309h1v1h-1zM159 311h1v1h-1zM168 311h1v1h-1zM180 311h1v1h-1zM186 311h1v1h-1zM224 311h1v1h-1zM197 312h1v1h-1zM218 312h1v1h-1zM307 312h1v1h-1zM145 313h1v1h-1zM166 313h1v1h-1zM190 313h1v1h-1zM306 313h1v1h-1zM183 314h1v1h-1zM304 314h1v1h-1zM143 315h1v1h-1zM158 315h1v1h-1zM183 315h1v1h-1zM204 315h1v1h-1zM211 315h1v1h-1zM203 316h1v1h-1zM205 316h1v1h-1zM218 316h1v1h-1zM241 316h1v1h-1zM223 317h1v1h-1zM230 317h1v1h-1zM234 317h1v1h-1zM232 318h1v1h-1zM157 319h1v1h-1zM197 319h1v1h-1zM209 319h1v1h-1zM215 319h1v1h-1zM306 319h1v1h-1zM152 320h1v1h-1zM223 320h1v1h-1zM133 321h1v1h-1zM166 321h1v1h-1zM301 321h1v1h-1zM141 322h1v1h-1zM142 322h1v1h-1zM209 322h1v1h-1zM239 322h1v1h-1zM133 323h1v1h-1zM134 323h1v1h-1zM150 323h1v1h-1zM153 323h1v1h-1zM187 323h1v1h-1zM219 323h1v1h-1zM235 323h1v1h-1zM303 323h1v1h-1zM227 324h1v1h-1zM134 325h1v1h-1zM162 325h1v1h-1zM175 325h1v1h-1zM183 325h1v1h-1zM217 325h1v1h-1zM298 325h1v1h-1zM305 325h1v1h-1zM174 326h1v1h-1zM207 326h1v1h-1zM240 326h1v1h-1zM202 327h1v1h-1zM221 327h1v1h-1zM136 331h1v1h-1zM140 331h1v1h-1zM214 331h1v1h-1zM188 332h1v1h-1zM189 332h1v1h-1zM303 332h1v1h-1zM146 333h1v1h-1zM163 333h1v1h-1zM207 333h1v1h-1zM227 333h1v1h-1zM140 334h1v1h-1zM181 334h1v1h-1zM211 334h1v1h-1zM307 334h1v1h-1zM183 337h1v1h-1zM191 337h1v1h-1zM239 337h1v1h-1zM304 338h1v1h-1zM300 339h1v1h-1zM132 340h1v1h-1zM155 340h1v1h-1zM161 340h1v1h-1zM162 340h1v1h-1zM169 340h1v1h-1zM185 340h1v1h-1zM234 340h1v1h-1zM134 341h1v1h-1zM142 343h1v1h-1zM161 343h1v1h-1zM173 343h1v1h-1zM189 343h1v1h-1zM206 343h1v1h-1zM301 343h1v1h-1zM160 344h1v1h-1zM194 344h1v1h-1zM306 344h1v1h-1zM150 345h1v1h-1zM166 345h1v1h-1zM174 345h1v1h-1zM191 345h1v1h-1zM148 346h1v1h-1zM216 346h1v1h-1zM226 346h1v1h-1zM157 347h1v1h-1zM168 347h1v1h-1zM299 347h1v1h-1zM135 348h1v1h-1zM141 348h1v1h-1zM171 348h1v1h-1zM212 348h1v1h-1zM234 348h1v1h-1zM298 348h1v1h-1zM143 349h1v1h-1zM151 349h1v1h-1zM174 349h1v1h-1zM182 349h1v1h-1zM138 350h1v1h-1zM165 350h1v1h-1zM170 350h1v1h-1zM219 350h1v1h-1zM221 350h1v1h-1zM133 351h1v1h-1zM158 351h1v1h-1zM208 351h1v1h-1zM216 351h1v1h-1z"/></g>
<path fill="#fff" d="M131 115h178v7h-178zM131 123h178v2h-178zM131 129h178v2h-178zM131 133h178v1h-178zM131 136h178v1h-178zM131 139h178v1h-178zM131 142h178v1h-178zM131 162h178v1h-178zM131 175h178v1h-178zM131 203h178v1h-178zM131 205h178v1h-178zM131 218h178v2h-178zM131 221h178v1h-178zM131 224h178v1h-178zM131 234h178v1h-178zM131 237h178v1h-178zM131 240h178v1h-178zM131 243h178v1h-178zM131 245h178v2h-178zM131 249h178v1h-178zM131 263h178v1h-178zM131 266h178v1h-178zM131 269h178v1h-178zM131 301h178v2h-178zM131 304h178v1h-178zM131 307h178v1h-178zM131 310h178v1h-178zM131 330h178v1h-178zM131 342h178v1h-178zM131 353h178v2h-178zM131 364h178v1h-178zM131 371h178v1h-178zM131 406h178v2h-178zM131 446h178v1h-178zM131 462h178v1h-178zM131 489h178v2h-178zM131 492h178v1h-178zM131 495h178v1h-178zM131 520h178v1h-178zM131 522h178v63h-178zM131 587h178v1h-178zM131 590h178v1h-178zM131 598h178v1h-178zM131 603h178v1h-178zM131 605h178v1h-178zM131 617h178v5h-178zM131 624h178v2h-178zM131 630h178v2h-178zM131 648h178v1h-178zM131 664h178v2h-178zM131 675h178v1h-178zM131 679h178v2h-178zM131 718h178v1h-178z"/>
<path fill="#000" d="M131 81h178v1h-178zM131 83h178v2h-178zM131 87h178v2h-178zM131 90h178v1h-178zM131 94h178v1h-178zM131 109h178v2h-178zM131 220h178v1h-178zM131 250h178v1h-178zM131 262h178v1h-178zM131 289h178v1h-178zM131 296h178v1h-178zM131 328h178v2h-178zM131 335h178v1h-178zM131 358h178v1h-178zM131 369h178v1h-178zM131 376h178v1h-178zM131 380h178v1h-178zM131 384h178v1h-178zM131 405h178v1h-178zM131 449h178v1h-178zM131 481h178v2h-178zM131 494h178v1h-178zM131 615h178v2h-178zM131 623h178v1h-178zM131 640h178v1h-178zM131 643h178v1h-178zM131 657h178v1h-178zM131 669h178v2h-178zM131 674h178v1h-178zM131 690h178v1h-178zM131 694h178v1h-178zM131 696h178v2h-178zM131 700h178v2h-178zM131 703h178v1h-178z"/>
<path d="M134 521.5h178M133 604.5h178" stroke="#fff" stroke-width="1" stroke-dasharray="2 1" fill="none"/>
<g filter="url(#S1)"><rect x="344" y="80" width="177" height="641" fill="#80ff00"/><rect x="344" y="81" width="110.7" height="6" fill="url(#g466)"/><rect x="344" y="87" width="110.7" height="7" fill="url(#g467)"/><rect x="344" y="94" width="110.7" height="4" fill="url(#g468)"/><rect x="344" y="98" width="110.7" height="9" fill="url(#g469)"/><rect x="344" y="107" width="110.7" height="8" fill="url(#g470)"/><rect x="344" y="115" width="110.7" height="9" fill="url(#g471)"/><rect x="344" y="124" width="110.7" height="3" fill="url(#g472)"/><rect x="344" y="127" width="110.7" height="9" fill="url(#g473)"/><rect x="344" y="136" width="110.7" height="5" fill="url(#g474)"/><rect x="344" y="141" width="110.7" height="10" fill="url(#g475)"/><rect x="344" y="151" width="110.7" height="6" fill="url(#g476)"/><rect x="344" y="157" width="110.7" height="4" fill="url(#g477)"/><rect x="344" y="161" width="110.7" height="8" fill="url(#g478)"/><rect x="344" y="169" width="110.7" height="8" fill="url(#g479)"/><rect x="344" y="177" width="110.7" height="10" fill="url(#g480)"/><rect x="344" y="187" width="110.7" height="11" fill="url(#g481)"/><rect x="344" y="198" width="110.7" height="9" fill="url(#g482)"/><rect x="344" y="207" width="110.7" height="4" fill="url(#g483)"/><rect x="344" y="211" width="110.7" height="8" fill="url(#g484)"/><rect x="344" y="219" width="110.7" height="7" fill="url(#g485)"/><rect x="344" y="226" width="110.7" height="6" fill="url(#g486)"/><rect x="344" y="232" width="110.7" height="5" fill="url(#g487)"/><rect x="344" y="237" width="110.7" height="4" fill="url(#g488)"/><rect x="344" y="241" width="110.7" height="9" fill="url(#g489)"/><rect x="344" y="250" width="110.7" height="6" fill="url(#g490)"/><rect x="344" y="256" width="110.7" height="11" fill="url(#g491)"/><rect x="344" y="267" width="110.7" height="10" fill="url(#g492)"/><rect x="344" y="277" width="110.7" height="5" fill="url(#g493)"/><rect x="344" y="282" width="110.7" height="9" fill="url(#g494)"/><rect x="344" y="291" width="110.7" height="10" fill="url(#g495)"/><rect x="344" y="301" width="110.7" height="7" fill="url(#g496)"/><rect x="344" y="308" width="110.7" height="3" fill="url(#g497)"/><rect x="344" y="311" width="110.7" height="7" fill="url(#g498)"/><rect x="344" y="318" width="110.7" height="9" fill="url(#g499)"/><rect x="344" y="327" width="110.7" height="4" fill="url(#g500)"/><rect x="344" y="331" width="110.7" height="7" fill="url(#g501)"/><rect x="344" y="338" width="110.7" height="11" fill="url(#g502)"/><rect x="344" y="349" width="110.7" height="7" fill="url(#g503)"/><rect x="344" y="356" width="110.7" height="9" fill="url(#g504)"/><rect x="344" y="365" width="110.7" height="7" fill="url(#g505)"/><rect x="344" y="372" width="110.7" height="11" fill="url(#g506)"/><rect x="344" y="383" width="110.7" height="4" fill="url(#g507)"/><rect x="344" y="387" width="110.7" height="6" fill="url(#g508)"/><rect x="344" y="393" width="110.7" height="10" fill="url(#g509)"/><rect x="344" y="403" width="110.7" height="10" fill="url(#g510)"/><rect x="344" y="413" width="110.7" height="7" fill="url(#g511)"/><rect x="344" y="420" width="110.7" height="5" fill="url(#g512)"/><rect x="344" y="425" width="110.7" height="8" fill="url(#g513)"/><rect x="344" y="433" width="110.7" height="5" fill="url(#g514)"/><rect x="344" y="438" width="110.7" height="5" fill="url(#g515)"/><rect x="344" y="443" width="110.7" height="9" fill="url(#g516)"/><rect x="344" y="452" width="110.7" height="4" fill="url(#g517)"/><rect x="344" y="456" width="110.7" height="11" fill="url(#g518)"/><rect x="344" y="467" width="110.7" height="3" fill="url(#g519)"/><rect x="344" y="470" width="110.7" height="10" fill="url(#g520)"/><rect x="344" y="480" width="110.7" height="8" fill="url(#g521)"/><rect x="344" y="488" width="110.7" height="5" fill="url(#g522)"/><rect x="344" y="493" width="110.7" height="5" fill="url(#g523)"/><rect x="344" y="498" width="110.7" height="8" fill="url(#g524)"/><rect x="344" y="506" width="110.7" height="7" fill="url(#g525)"/><rect x="344" y="513" width="110.7" height="7" fill="url(#g526)"/><rect x="344" y="520" width="110.7" height="3" fill="url(#g527)"/><rect x="344" y="523" width="110.7" height="9" fill="url(#g528)"/><rect x="344" y="532" width="110.7" height="10" fill="url(#g529)"/><rect x="344" y="542" width="110.7" height="11" fill="url(#g530)"/><rect x="344" y="553" width="110.7" height="10" fill="url(#g531)"/><rect x="344" y="563" width="110.7" height="4" fill="url(#g532)"/><rect x="344" y="567" width="110.7" height="8" fill="url(#g533)"/><rect x="344" y="575" width="110.7" height="3" fill="url(#g534)"/><rect x="344" y="578" width="110.7" height="5" fill="url(#g535)"/><rect x="344" y="583" width="110.7" height="11" fill="url(#g536)"/><rect x="344" y="594" width="110.7" height="4" fill="url(#g537)"/><rect x="344" y="598" width="110.7" height="3" fill="url(#g538)"/><rect x="344" y="601" width="110.7" height="6" fill="url(#g539)"/><rect x="344" y="607" width="110.7" height="8" fill="url(#g540)"/><rect x="344" y="615" width="110.7" height="5" fill="url(#g541)"/><rect x="344" y="620" width="110.7" height="9" fill="url(#g542)"/><rect x="344" y="629" width="110.7" height="10" fill="url(#g543)"/><rect x="344" y="639" width="110.7" height="10" fill="url(#g544)"/><rect x="344" y="649" width="110.7" height="7" fill="url(#g545)"/><rect x="344" y="656" width="110.7" height="11" fill="url(#g546)"/><rect x="344" y="667" width="110.7" height="9" fill="url(#g547)"/><rect x="344" y="676" width="110.7" height="11" fill="url(#g548)"/><rect x="344" y="687" width="110.7" height="3" fill="url(#g549)"/><rect x="344" y="690" width="110.7" height="3" fill="url(#g550)"/><rect x="344" y="693" width="110.7" height="5" fill="url(#g551)"/><rect x="344" y="698" width="110.7" height="3" fill="url(#g552)"/><rect x="344" y="701" width="110.7" height="9" fill="url(#g553)"/><rect x="344" y="710" width="110.7" height="9" fill="url(#g554)"/><rect x="344" y="719" width="110.7" height="1" fill="url(#g555)"/><rect x="454.7" y="81" width="55.3" height="10" fill="url(#g556)"/><rect x="454.7" y="91" width="55.3" height="7" fill="url(#g557)"/><rect x="454.7" y="98" width="55.3" height="11" fill="url(#g558)"/><rect x="454.7" y="109" width="55.3" height="6" fill="url(#g559)"/><rect x="454.7" y="115" width="55.3" height="11" fill="url(#g560)"/><rect x="454.7" y="126" width="55.3" height="9" fill="url(#g561)"/><rect x="454.7" y="135" width="55.3" height="12" fill="url(#g562)"/><rect x="454.7" y="147" width="55.3" height="4" fill="url(#g563)"/><rect x="454.7" y="151" width="55.3" height="6" fill="url(#g564)"/><rect x="454.7" y="157" width="55.3" height="10" fill="url(#g565)"/><rect x="454.7" y="167" width="55.3" height="10" fill="url(#g566)"/><rect x="454.7" y="177" width="55.3" height="5" fill="url(#g567)"/><rect x="454.7" y="182" width="55.3" height="11" fill="url(#g568)"/><rect x="454.7" y="193" width="55.3" height="6" fill="url(#g569)"/><rect x="454.7" y="199" width="55.3" height="10" fill="url(#g570)"/><rect x="454.7" y="209" width="55.3" height="7" fill="url(#g571)"/><rect x="454.7" y="216" width="55.3" height="11" fill="url(#g572)"/><rect x="454.7" y="227" width="55.3" height="3" fill="url(#g573)"/><rect x="454.7" y="230" width="55.3" height="3" fill="url(#g574)"/><rect x="454.7" y="233" width="55.3" height="10" fill="url(#g575)"/><rect x="454.7" y="243" width="55.3" height="11" fill="url(#g576)"/><rect x="454.7" y="254" width="55.3" height="3" fill="url(#g577)"/><rect x="454.7" y="257" width="55.3" height="12" fill="url(#g578)"/><rect x="454.7" y="269" width="55.3" height="4" fill="url(#g579)"/><rect x="454.7" y="273" width="55.3" height="12" fill="url(#g580)"/><rect x="454.7" y="285" width="55.3" height="12" fill="url(#g581)"/><rect x="454.7" y="297" width="55.3" height="10" fill="url(#g582)"/><rect x="454.7" y="307" width="55.3" height="5" fill="url(#g583)"/><rect x="454.7" y="312" width="55.3" height="8" fill="url(#g584)"/><rect x="454.7" y="320" width="55.3" height="9" fill="url(#g585)"/><rect x="454.7" y="329" width="55.3" height="11" fill="url(#g586)"/><rect x="454.7" y="340" width="55.3" height="4" fill="url(#g587)"/><rect x="454.7" y="344" width="55.3" height="6" fill="url(#g588)"/><rect x="454.7" y="350" width="55.3" height="4" fill="url(#g589)"/><rect x="454.7" y="354" width="55.3" height="8" fill="url(#g590)"/><rect x="454.7" y="362" width="55.3" height="10" fill="url(#g591)"/><rect x="454.7" y="372" width="55.3" height="7" fill="url(#g592)"/><rect x="454.7" y="379" width="55.3" height="8" fill="url(#g593)"/><rect x="454.7" y="387" width="55.3" height="11" fill="url(#g594)"/><rect x="454.7" y="398" width="55.3" height="10" fill="url(#g595)"/><rect x="454.7" y="408" width="55.3" height="11" fill="url(#g596)"/><rect x="454.7" y="419" width="55.3" height="11" fill="url(#g597)"/><rect x="454.7" y="430" width="55.3" height="5" fill="url(#g598)"/><rect x="454.7" y="435" width="55.3" height="4" fill="url(#g599)"/><rect x="454.7" y="439" width="55.3" height="11" fill="url(#g600)"/><rect x="454.7" y="450" width="55.3" height="3" fill="url(#g601)"/><rect x="454.7" y="453" width="55.3" height="5" fill="url(#g602)"/><rect x="454.7" y="458" width="55.3" height="8" fill="url(#g603)"/><rect x="454.7" y="466" width="55.3" height="11" fill="url(#g604)"/><rect x="454.7" y="477" width="55.3" height="6" fill="url(#g605)"/><rect x="454.7" y="483" width="55.3" height="5" fill="url(#g606)"/><rect x="454.7" y="488" width="55.3" height="9" fill="url(#g607)"/><rect x="454.7" y="497" width="55.3" height="4" fill="url(#g608)"/><rect x="454.7" y="501" width="55.3" height="12" fill="url(#g609)"/><rect x="454.7" y="513" width="55.3" height="11" fill="url(#g610)"/><rect x="454.7" y="524" width="55.3" height="10" fill="url(#g611)"/><rect x="454.7" y="534" width="55.3" height="3" fill="url(#g612)"/><rect x="454.7" y="537" width="55.3" height="12" fill="url(#g613)"/><rect x="454.7" y="549" width="55.3" height="3" fill="url(#g614)"/><rect x="454.7" y="552" width="55.3" height="5" fill="url(#g615)"/><rect x="454.7" y="557" width="55.3" height="10" fill="url(#g616)"/><rect x="454.7" y="567" width="55.3" height="12" fill="url(#g617)"/><rect x="454.7" y="579" width="55.3" height="10" fill="url(#g618)"/><rect x="454.7" y="589" width="55.3" height="9" fill="url(#g619)"/><rect x="454.7" y="598" width="55.3" height="12" fill="url(#g620)"/><rect x="454.7" y="610" width="55.3" height="6" fill="url(#g621)"/><rect x="454.7" y="616" width="55.3" height="12" fill="url(#g622)"/><rect x="454.7" y="628" width="55.3" height="3" fill="url(#g623)"/><rect x="454.7" y="631" width="55.3" height="8" fill="url(#g624)"/><rect x="454.7" y="639" width="55.3" height="9" fill="url(#g625)"/><rect x="454.7" y="648" width="55.3" height="7" fill="url(#g626)"/><rect x="454.7" y="655" width="55.3" height="9" fill="url(#g627)"/><rect x="454.7" y="664" width="55.3" height="9" fill="url(#g628)"/><rect x="454.7" y="673" width="55.3" height="8" fill="url(#g629)"/><rect x="454.7" y="681" width="55.3" height="8" fill="url(#g630)"/><rect x="454.7" y="689" width="55.3" height="5" fill="url(#g631)"/><rect x="454.7" y="694" width="55.3" height="11" fill="url(#g632)"/><rect x="454.7" y="705" width="55.3" height="8" fill="url(#g633)"/><rect x="454.7" y="713" width="55.3" height="7" fill="url(#g634)"/><rect x="510" y="81" width="11" height="12" fill="url(#g635)"/><rect x="510" y="93" width="11" height="7" fill="url(#g636)"/><rect x="510" y="100" width="11" height="9" fill="url(#g637)"/><rect x="510" y="109" width="11" height="12" fill="url(#g638)"/><rect x="510" y="121" width="11" height="11" fill="url(#g639)"/><rect x="510" y="132" width="11" height="10" fill="url(#g640)"/><rect x="510" y="142" width="11" height="4" fill="url(#g641)"/><rect x="510" y="146" width="11" height="5" fill="url(#g642)"/><rect x="510" y="151" width="11" height="10" fill="url(#g643)"/><rect x="510" y="161" width="11" height="9" fill="url(#g644)"/><rect x="510" y="170" width="11" height="9" fill="url(#g645)"/><rect x="510" y="179" width="11" height="4" fill="url(#g646)"/><rect x="510" y="183" width="11" height="11" fill="url(#g647)"/><rect x="510" y="194" width="11" height="3" fill="url(#g648)"/><rect x="510" y="197" width="11" height="9" fill="url(#g649)"/><rect x="510" y="206" width="11" height="6" fill="url(#g650)"/><rect x="510" y="212" width="11" height="6" fill="url(#g651)"/><rect x="510" y="218" width="11" height="8" fill="url(#g652)"/><rect x="510" y="226" width="11" height="6" fill="url(#g653)"/><rect x="510" y="232" width="11" height="9" fill="url(#g654)"/><rect x="510" y="241" width="11" height="9" fill="url(#g655)"/><rect x="510" y="250" width="11" height="5" fill="url(#g656)"/><rect x="510" y="255" width="11" height="8" fill="url(#g657)"/><rect x="510" y="263" width="11" height="5" fill="url(#g658)"/><rect x="510" y="268" width="11" height="10" fill="url(#g659)"/><rect x="510" y="278" width="11" height="6" fill="url(#g660)"/><rect x="510" y="284" width="11" height="8" fill="url(#g661)"/><rect x="510" y="292" width="11" height="9" fill="url(#g662)"/><rect x="510" y="301" width="11" height="8" fill="url(#g663)"/><rect x="510" y="309" width="11" height="8" fill="url(#g664)"/><rect x="510" y="317" width="11" height="11" fill="url(#g665)"/><rect x="510" y="328" width="11" height="5" fill="url(#g666)"/><rect x="510" y="333" width="11" height="9" fill="url(#g667)"/><rect x="510" y="342" width="11" height="11" fill="url(#g668)"/><rect x="510" y="353" width="11" height="8" fill="url(#g669)"/><rect x="510" y="361" width="11" height="3" fill="url(#g670)"/><rect x="510" y="364" width="11" height="4" fill="url(#g671)"/><rect x="510" y="368" width="11" height="12" fill="url(#g672)"/><rect x="510" y="380" width="11" height="4" fill="url(#g673)"/><rect x="510" y="384" width="11" height="11" fill="url(#g674)"/><rect x="510" y="395" width="11" height="3" fill="url(#g675)"/><rect x="510" y="398" width="11" height="4" fill="url(#g676)"/><rect x="510" y="402" width="11" height="7" fill="url(#g677)"/><rect x="510" y="409" width="11" height="3" fill="url(#g678)"/><rect x="510" y="412" width="11" height="4" fill="url(#g679)"/><rect x="510" y="416" width="11" height="3" fill="url(#g680)"/><rect x="510" y="419" width="11" height="4" fill="url(#g681)"/><rect x="510" y="423" width="11" height="3" fill="url(#g682)"/><rect x="510" y="426" width="11" height="5" fill="url(#g683)"/><rect x="510" y="431" width="11" height="6" fill="url(#g684)"/><rect x="510" y="437" width="11" height="5" fill="url(#g685)"/><rect x="510" y="442" width="11" height="7" fill="url(#g686)"/><rect x="510" y="449" width="11" height="9" fill="url(#g687)"/><rect x="510" y="458" width="11" height="3" fill="url(#g688)"/><rect x="510" y="461" width="11" height="7" fill="url(#g689)"/><rect x="510" y="468" width="11" height="11" fill="url(#g690)"/><rect x="510" y="479" width="11" height="7" fill="url(#g691)"/><rect x="510" y="486" width="11" height="9" fill="url(#g692)"/><rect x="510" y="495" width="11" height="3" fill="url(#g693)"/><rect x="510" y="498" width="11" height="6" fill="url(#g694)"/><rect x="510" y="504" width="11" height="9" fill="url(#g695)"/><rect x="510" y="513" width="11" height="8" fill="url(#g696)"/><rect x="510" y="521" width="11" height="11" fill="url(#g697)"/><rect x="510" y="532" width="11" height="4" fill="url(#g698)"/><rect x="510" y="536" width="11" height="10" fill="url(#g699)"/><rect x="510" y="546" width="11" height="3" fill="url(#g700)"/><rect x="510" y="549" width="11" height="7" fill="url(#g701)"/><rect x="510" y="556" width="11" height="8" fill="url(#g702)"/><rect x="510" y="564" width="11" height="12" fill="url(#g703)"/><rect x="510" y="576" width="11" height="7" fill="url(#g704)"/><rect x="510" y="583" width="11" height="6" fill="url(#g705)"/><rect x="510" y="589" width="11" height="4" fill="url(#g706)"/><rect x="510" y="593" width="11" height="9" fill="url(#g707)"/><rect x="510" y="602" width="11" height="12" fill="url(#g708)"/><rect x="510" y="614" width="11" height="10" fill="url(#g709)"/><rect x="510" y="624" width="11" height="10" fill="url(#g710)"/><rect x="510" y="634" width="11" height="12" fill="url(#g711)"/><rect x="510" y="646" width="11" height="7" fill="url(#g712)"/><rect x="510" y="653" width="11" height="11" fill="url(#g713)"/><rect x="510" y="664" width="11" height="12" fill="url(#g714)"/><rect x="510" y="676" width="11" height="9" fill="url(#g715)"/><rect x="510" y="685" width="11" height="3" fill="url(#g716)"/><rect x="510" y="688" width="11" height="11" fill="url(#g717)"/><rect x="510" y="699" width="11" height="6" fill="url(#g718)"/><rect x="510" y="705" width="11" height="3" fill="url(#g719)"/><rect x="510" y="708" width="11" height="3" fill="url(#g720)"/><rect x="510" y="711" width="11" height="3" fill="url(#g721)"/><rect x="510" y="714" width="11" height="6" fill="url(#g722)"/><rect x="344" y="85" width="110.7" height="2" fill="url(#g723)"/><rect x="510" y="85" width="11" height="2" fill="#796e00"/><rect x="344" y="111" width="110.7" height="4" fill="url(#g724)"/><rect x="510" y="111" width="11" height="4" fill="#796100"/><rect x="344" y="134" width="110.7" height="9" fill="url(#g725)"/><rect x="510" y="134" width="11" height="9" fill="#794c00"/><rect x="344" y="143" width="110.7" height="77" fill="url(#g726)"/><rect x="510" y="143" width="11" height="77" fill="#792e00"/><rect x="344" y="221" width="110.7" height="29" fill="url(#g727)"/><rect x="510" y="221" width="11" height="29" fill="#793d00"/><rect x="344" y="251" width="110.7" height="5" fill="url(#g728)"/><rect x="510" y="251" width="11" height="5" fill="#794700"/><rect x="344" y="297" width="110.7" height="4" fill="url(#g729)"/><rect x="510" y="297" width="11" height="4" fill="#796100"/><rect x="344" y="303" width="110.7" height="4" fill="url(#g730)"/><rect x="510" y="303" width="11" height="4" fill="#795400"/><rect x="344" y="483" width="110.7" height="6" fill="url(#g731)"/><rect x="510" y="483" width="11" height="6" fill="#796e00"/><rect x="344" y="491" width="110.7" height="2" fill="url(#g732)"/><rect x="510" y="491" width="11" height="2" fill="#799400"/><rect x="344" y="496" width="110.7" height="24" fill="url(#g733)"/><rect x="510" y="496" width="11" height="24" fill="#793800"/><rect x="344" y="585" width="110.7" height="13" fill="url(#g734)"/><rect x="344" y="599" width="110.7" height="4" fill="url(#g735)"/><rect x="344" y="606" width="110.7" height="9" fill="url(#g736)"/><rect x="344" y="644" width="110.7" height="4" fill="url(#g737)"/><rect x="510" y="644" width="11" height="4" fill="#794c00"/><rect x="344" y="671" width="110.7" height="4" fill="url(#g738)"/><rect x="510" y="671" width="11" height="4" fill="#794c00"/><rect x="344" y="698" width="110.7" height="2" fill="url(#g739)"/><rect x="510" y="698" width="11" height="2" fill="#794c00"/><rect x="344" y="152" width="110.7" height="1" fill="url(#g740)"/><rect x="344" y="166" width="110.7" height="1" fill="url(#g741)"/><rect x="344" y="189" width="110.7" height="1" fill="url(#g742)"/><rect x="344" y="197" width="110.7" height="1" fill="url(#g743)"/><rect x="344" y="210" width="110.7" height="1" fill="url(#g744)"/><rect x="344" y="229" width="110.7" height="1" fill="url(#g745)"/><rect x="344" y="233" width="110.7" height="1" fill="url(#g746)"/><rect x="344" y="497" width="110.7" height="1" fill="url(#g747)"/><rect x="344" y="502" width="110.7" height="1" fill="url(#g748)"/><rect x="344" y="504" width="110.7" height="1" fill="url(#g749)"/><rect x="344" y="508" width="110.7" height="1" fill="url(#g750)"/><rect x="344" y="510" width="110.7" height="1" fill="url(#g751)"/><rect x="344" y="513" width="110.7" height="1" fill="url(#g752)"/><rect x="399" y="134" width="1" height="123" fill="#63e600"/><rect x="399" y="483" width="1" height="37" fill="#63e600"/><rect x="344" y="256" width="110.7" height="6" fill="url(#g753)"/><rect x="344" y="270" width="110.7" height="19" fill="url(#g754)"/><rect x="344" y="290" width="110.7" height="6" fill="url(#g755)"/><rect x="344" y="311" width="110.7" height="17" fill="url(#g756)"/><rect x="344" y="331" width="110.7" height="4" fill="url(#g757)"/><rect x="344" y="336" width="110.7" height="16" fill="url(#g758)"/><rect x="454.7" y="134" width="55.3" height="1" fill="url(#g759)"/><rect x="454.7" y="135" width="55.3" height="1" fill="url(#g760)"/><rect x="454.7" y="137" width="55.3" height="1" fill="url(#g761)"/><rect x="454.7" y="138" width="55.3" height="1" fill="url(#g762)"/><rect x="454.7" y="140" width="55.3" height="1" fill="url(#g763)"/><rect x="454.7" y="141" width="55.3" height="1" fill="url(#g764)"/><rect x="454.7" y="143" width="55.3" height="1" fill="url(#g765)"/><rect x="454.7" y="144" width="55.3" height="1" fill="url(#g766)"/><rect x="454.7" y="145" width="55.3" height="1" fill="url(#g767)"/><rect x="454.7" y="146" width="55.3" height="1" fill="url(#g768)"/><rect x="454.7" y="147" width="55.3" height="1" fill="url(#g769)"/><rect x="454.7" y="148" width="55.3" height="1" fill="url(#g770)"/><rect x="454.7" y="149" width="55.3" height="1" fill="url(#g771)"/><rect x="454.7" y="150" width="55.3" height="1" fill="url(#g772)"/><rect x="454.7" y="151" width="55.3" height="1" fill="url(#g773)"/><rect x="454.7" y="152" width="55.3" height="1" fill="url(#g774)"/><rect x="454.7" y="153" width="55.3" height="1" fill="url(#g775)"/><rect x="454.7" y="154" width="55.3" height="1" fill="url(#g776)"/><rect x="454.7" y="155" width="55.3" height="1" fill="url(#g777)"/><rect x="454.7" y="156" width="55.3" height="1" fill="url(#g778)"/><rect x="454.7" y="157" width="55.3" height="1" fill="url(#g779)"/><rect x="454.7" y="158" width="55.3" height="1" fill="url(#g780)"/><rect x="454.7" y="159" width="55.3" height="1" fill="url(#g781)"/><rect x="454.7" y="160" width="55.3" height="1" fill="url(#g782)"/><rect x="454.7" y="161" width="55.3" height="1" fill="url(#g783)"/><rect x="454.7" y="163" width="55.3" height="1" fill="url(#g784)"/><rect x="454.7" y="164" width="55.3" height="1" fill="url(#g785)"/><rect x="454.7" y="165" width="55.3" height="1" fill="url(#g786)"/><rect x="454.7" y="166" width="55.3" height="1" fill="url(#g787)"/><rect x="454.7" y="167" width="55.3" height="1" fill="url(#g788)"/><rect x="454.7" y="168" width="55.3" height="1" fill="url(#g789)"/><rect x="454.7" y="169" width="55.3" height="1" fill="url(#g790)"/><rect x="454.7" y="170" width="55.3" height="1" fill="url(#g791)"/><rect x="454.7" y="171" width="55.3" height="1" fill="url(#g792)"/><rect x="454.7" y="172" width="55.3" height="1" fill="url(#g793)"/><rect x="454.7" y="173" width="55.3" height="1" fill="url(#g794)"/><rect x="454.7" y="174" width="55.3" height="1" fill="url(#g795)"/><rect x="454.7" y="176" width="55.3" height="1" fill="url(#g796)"/><rect x="454.7" y="177" width="55.3" height="1" fill="url(#g797)"/><rect x="454.7" y="178" width="55.3" height="1" fill="url(#g798)"/><rect x="454.7" y="179" width="55.3" height="1" fill="url(#g799)"/><rect x="454.7" y="180" width="55.3" height="1" fill="url(#g800)"/><rect x="454.7" y="181" width="55.3" height="1" fill="url(#g801)"/><rect x="454.7" y="182" width="55.3" height="1" fill="url(#g802)"/><rect x="454.7" y="183" width="55.3" height="1" fill="url(#g803)"/><rect x="454.7" y="184" width="55.3" height="1" fill="url(#g804)"/><rect x="454.7" y="185" width="55.3" height="1" fill="url(#g805)"/><rect x="454.7" y="186" width="55.3" height="1" fill="url(#g806)"/><rect x="454.7" y="187" width="55.3" height="1" fill="url(#g807)"/><rect x="454.7" y="188" width="55.3" height="1" fill="url(#g808)"/><rect x="454.7" y="189" width="55.3" height="1" fill="url(#g809)"/><rect x="454.7" y="190" width="55.3" height="1" fill="url(#g810)"/><rect x="454.7" y="191" width="55.3" height="1" fill="url(#g811)"/><rect x="454.7" y="192" width="55.3" height="1" fill="url(#g812)"/><rect x="454.7" y="193" width="55.3" height="1" fill="url(#g813)"/><rect x="454.7" y="194" width="55.3" height="1" fill="url(#g814)"/><rect x="454.7" y="195" width="55.3" height="1" fill="url(#g815)"/><rect x="454.7" y="196" width="55.3" height="1" fill="url(#g816)"/><rect x="454.7" y="197" width="55.3" height="1" fill="url(#g817)"/><rect x="454.7" y="198" width="55.3" height="1" fill="url(#g818)"/><rect x="454.7" y="199" width="55.3" height="1" fill="url(#g819)"/><rect x="454.7" y="200" width="55.3" height="1" fill="url(#g820)"/><rect x="454.7" y="201" width="55.3" height="1" fill="url(#g821)"/><rect x="454.7" y="202" width="55.3" height="1" fill="url(#g822)"/><rect x="454.7" y="204" width="55.3" height="1" fill="url(#g823)"/><rect x="454.7" y="206" width="55.3" height="1" fill="url(#g824)"/><rect x="454.7" y="207" width="55.3" height="1" fill="url(#g825)"/><rect x="454.7" y="208" width="55.3" height="1" fill="url(#g826)"/><rect x="454.7" y="209" width="55.3" height="1" fill="url(#g827)"/><rect x="454.7" y="210" width="55.3" height="1" fill="url(#g828)"/><rect x="454.7" y="211" width="55.3" height="1" fill="url(#g829)"/><rect x="454.7" y="212" width="55.3" height="1" fill="url(#g830)"/><rect x="454.7" y="213" width="55.3" height="1" fill="url(#g831)"/><rect x="454.7" y="214" width="55.3" height="1" fill="url(#g832)"/><rect x="454.7" y="215" width="55.3" height="1" fill="url(#g833)"/><rect x="454.7" y="216" width="55.3" height="1" fill="url(#g834)"/><rect x="454.7" y="217" width="55.3" height="1" fill="url(#g835)"/><rect x="454.7" y="222" width="55.3" height="1" fill="url(#g836)"/><rect x="454.7" y="223" width="55.3" height="1" fill="url(#g837)"/><rect x="454.7" y="225" width="55.3" height="1" fill="url(#g838)"/><rect x="454.7" y="226" width="55.3" height="1" fill="url(#g839)"/><rect x="454.7" y="227" width="55.3" height="1" fill="url(#g840)"/><rect x="454.7" y="228" width="55.3" height="1" fill="url(#g841)"/><rect x="454.7" y="229" width="55.3" height="1" fill="url(#g842)"/><rect x="454.7" y="230" width="55.3" height="1" fill="url(#g843)"/><rect x="454.7" y="231" width="55.3" height="1" fill="url(#g844)"/><rect x="454.7" y="232" width="55.3" height="1" fill="url(#g845)"/><rect x="454.7" y="233" width="55.3" height="1" fill="url(#g846)"/><rect x="454.7" y="235" width="55.3" height="1" fill="url(#g847)"/><rect x="454.7" y="236" width="55.3" height="1" fill="url(#g848)"/><rect x="454.7" y="238" width="55.3" height="1" fill="url(#g849)"/><rect x="454.7" y="239" width="55.3" height="1" fill="url(#g850)"/><rect x="454.7" y="241" width="55.3" height="1" fill="url(#g851)"/><rect x="454.7" y="242" width="55.3" height="1" fill="url(#g852)"/><rect x="454.7" y="244" width="55.3" height="1" fill="url(#g853)"/><rect x="454.7" y="247" width="55.3" height="1" fill="url(#g854)"/><rect x="454.7" y="248" width="55.3" height="1" fill="url(#g855)"/><rect x="454.7" y="251" width="55.3" height="1" fill="url(#g856)"/><rect x="454.7" y="252" width="55.3" height="1" fill="url(#g857)"/><rect x="454.7" y="253" width="55.3" height="1" fill="url(#g858)"/><rect x="454.7" y="254" width="55.3" height="1" fill="url(#g859)"/><rect x="454.7" y="255" width="55.3" height="1" fill="url(#g860)"/><rect x="454.7" y="256" width="55.3" height="1" fill="url(#g861)"/><rect x="440" y="626" width="81" height="1" fill="url(#g862)"/><rect x="440" y="627" width="81" height="1" fill="url(#g863)"/><rect x="440" y="628" width="81" height="1" fill="url(#g864)"/><rect x="440" y="629" width="81" height="1" fill="url(#g865)"/><rect x="440" y="632" width="81" height="1" fill="url(#g866)"/><rect x="440" y="633" width="81" height="1" fill="url(#g867)"/><rect x="440" y="634" width="81" height="1" fill="url(#g868)"/><rect x="440" y="635" width="81" height="1" fill="url(#g869)"/><rect x="440" y="636" width="81" height="1" fill="url(#g870)"/><rect x="440" y="637" width="81" height="1" fill="url(#g871)"/><rect x="440" y="638" width="81" height="1" fill="url(#g872)"/><rect x="440" y="639" width="81" height="1" fill="url(#g873)"/><rect x="440" y="641" width="81" height="1" fill="url(#g874)"/><rect x="440" y="642" width="81" height="1" fill="url(#g875)"/><rect x="440" y="644" width="81" height="1" fill="url(#g876)"/><rect x="440" y="645" width="81" height="1" fill="url(#g877)"/><rect x="440" y="646" width="81" height="1" fill="url(#g878)"/><rect x="440" y="647" width="81" height="1" fill="url(#g879)"/><rect x="440" y="649" width="81" height="1" fill="url(#g880)"/><rect x="440" y="650" width="81" height="1" fill="url(#g881)"/><rect x="440" y="651" width="81" height="1" fill="url(#g882)"/><rect x="440" y="652" width="81" height="1" fill="url(#g883)"/><rect x="440" y="653" width="81" height="1" fill="url(#g884)"/><rect x="440" y="654" width="81" height="1" fill="url(#g885)"/><rect x="440" y="655" width="81" height="1" fill="url(#g886)"/><rect x="440" y="656" width="81" height="1" fill="url(#g887)"/><rect x="440" y="658" width="81" height="1" fill="url(#g888)"/><rect x="440" y="659" width="81" height="1" fill="url(#g889)"/><rect x="440" y="660" width="81" height="1" fill="url(#g890)"/><rect x="440" y="661" width="81" height="1" fill="url(#g891)"/><rect x="440" y="662" width="81" height="1" fill="url(#g892)"/><rect x="440" y="663" width="81" height="1" fill="url(#g893)"/><rect x="440" y="666" width="81" height="1" fill="url(#g894)"/><rect x="440" y="667" width="81" height="1" fill="url(#g895)"/><rect x="440" y="668" width="81" height="1" fill="url(#g896)"/><rect x="440" y="671" width="81" height="1" fill="url(#g897)"/><rect x="440" y="672" width="81" height="1" fill="url(#g898)"/><rect x="344" y="704" width="104" height="1" fill="url(#g899)"/><rect x="344" y="705" width="104" height="1" fill="url(#g900)"/><rect x="344" y="706" width="104" height="1" fill="url(#g901)"/><rect x="344" y="707" width="104" height="1" fill="url(#g902)"/><rect x="344" y="708" width="104" height="1" fill="url(#g903)"/><rect x="344" y="709" width="104" height="1" fill="url(#g904)"/><rect x="344" y="710" width="104" height="1" fill="url(#g905)"/><rect x="344" y="711" width="104" height="1" fill="url(#g906)"/><rect x="344" y="712" width="104" height="1" fill="url(#g907)"/><rect x="344" y="713" width="104" height="1" fill="url(#g908)"/><rect x="344" y="714" width="104" height="1" fill="url(#g909)"/><rect x="344" y="715" width="104" height="1" fill="url(#g910)"/><rect x="344" y="716" width="104" height="1" fill="url(#g911)"/><rect x="344" y="717" width="104" height="1" fill="url(#g912)"/><rect x="344" y="355" width="177" height="1" fill="url(#g913)"/><rect x="344" y="356" width="177" height="1" fill="url(#g914)"/><rect x="344" y="357" width="177" height="1" fill="url(#g915)"/><rect x="344" y="359" width="177" height="1" fill="url(#g916)"/><rect x="344" y="360" width="177" height="1" fill="url(#g917)"/><rect x="344" y="361" width="177" height="1" fill="url(#g918)"/><rect x="344" y="362" width="177" height="1" fill="url(#g919)"/><rect x="344" y="363" width="177" height="1" fill="url(#g920)"/><rect x="344" y="365" width="177" height="1" fill="url(#g921)"/><rect x="344" y="366" width="177" height="1" fill="url(#g922)"/><rect x="344" y="367" width="177" height="1" fill="url(#g923)"/><rect x="344" y="368" width="177" height="1" fill="url(#g924)"/><rect x="344" y="370" width="177" height="1" fill="url(#g925)"/><rect x="344" y="372" width="177" height="1" fill="url(#g926)"/><rect x="344" y="373" width="177" height="1" fill="url(#g927)"/><rect x="344" y="374" width="177" height="1" fill="url(#g928)"/><rect x="344" y="375" width="177" height="1" fill="url(#g929)"/><path fill="#80ff00" d="M366 134h1v1h-1zM376 134h1v1h-1zM402 134h1v1h-1zM515 134h1v1h-1zM377 135h1v1h-1zM383 135h1v1h-1zM386 135h1v1h-1zM401 135h1v1h-1zM412 135h1v1h-1zM433 135h1v1h-1zM513 135h1v1h-1zM369 137h1v1h-1zM405 137h1v1h-1zM428 137h1v1h-1zM398 138h1v1h-1zM415 138h1v1h-1zM426 138h1v1h-1zM511 138h1v1h-1zM376 140h1v1h-1zM406 140h1v1h-1zM436 140h1v1h-1zM386 143h1v1h-1zM387 143h1v1h-1zM423 143h1v1h-1zM437 143h1v1h-1zM348 144h1v1h-1zM408 144h1v1h-1zM376 145h1v1h-1zM381 145h1v1h-1zM420 145h1v1h-1zM346 146h1v1h-1zM371 146h1v1h-1zM374 146h1v1h-1zM407 146h1v1h-1zM513 146h1v1h-1zM355 147h1v1h-1zM361 147h1v1h-1zM375 147h1v1h-1zM398 147h1v1h-1zM354 148h1v1h-1zM358 148h1v1h-1zM375 148h1v1h-1zM392 148h1v1h-1zM398 148h1v1h-1zM411 148h1v1h-1zM355 149h1v1h-1zM359 149h1v1h-1zM376 149h1v1h-1zM408 149h1v1h-1zM437 149h1v1h-1zM441 149h1v1h-1zM519 149h1v1h-1zM364 150h1v1h-1zM401 150h1v1h-1zM410 150h1v1h-1zM417 150h1v1h-1zM420 150h1v1h-1zM448 150h1v1h-1zM516 150h1v1h-1zM364 151h1v1h-1zM376 151h1v1h-1zM394 151h1v1h-1zM410 151h1v1h-1zM419 151h1v1h-1zM421 151h1v1h-1zM447 151h1v1h-1zM515 151h1v1h-1zM421 152h1v1h-1zM442 152h1v1h-1zM370 153h1v1h-1zM425 153h1v1h-1zM451 153h1v1h-1zM351 154h1v1h-1zM372 154h1v1h-1zM423 154h1v1h-1zM446 154h1v1h-1zM451 154h1v1h-1zM387 155h1v1h-1zM388 155h1v1h-1zM376 156h1v1h-1zM399 156h1v1h-1zM410 156h1v1h-1zM425 156h1v1h-1zM512 156h1v1h-1zM415 157h1v1h-1zM428 157h1v1h-1zM452 157h1v1h-1zM514 157h1v1h-1zM519 157h1v1h-1zM352 158h1v1h-1zM382 158h1v1h-1zM429 158h1v1h-1zM515 158h1v1h-1zM360 159h1v1h-1zM423 159h1v1h-1zM512 159h1v1h-1zM378 160h1v1h-1zM390 160h1v1h-1zM405 160h1v1h-1zM348 161h1v1h-1zM359 161h1v1h-1zM416 161h1v1h-1zM419 161h1v1h-1zM426 161h1v1h-1zM439 161h1v1h-1zM450 161h1v1h-1zM376 163h1v1h-1zM395 163h1v1h-1zM370 164h1v1h-1zM380 164h1v1h-1zM384 164h1v1h-1zM396 164h1v1h-1zM403 164h1v1h-1zM444 164h1v1h-1zM354 165h1v1h-1zM411 165h1v1h-1zM444 165h1v1h-1zM447 165h1v1h-1zM512 165h1v1h-1zM513 165h1v1h-1zM449 166h1v1h-1zM513 166h1v1h-1zM519 166h1v1h-1zM520 166h1v1h-1zM352 167h1v1h-1zM415 167h1v1h-1zM424 167h1v1h-1zM354 168h1v1h-1zM357 168h1v1h-1zM372 168h1v1h-1zM405 169h1v1h-1zM411 169h1v1h-1zM429 169h1v1h-1zM368 170h1v1h-1zM412 170h1v1h-1zM419 170h1v1h-1zM427 170h1v1h-1zM429 170h1v1h-1zM514 170h1v1h-1zM357 171h1v1h-1zM377 171h1v1h-1zM380 171h1v1h-1zM408 171h1v1h-1zM423 171h1v1h-1zM430 171h1v1h-1zM419 172h1v1h-1zM365 173h1v1h-1zM426 173h1v1h-1zM437 173h1v1h-1zM409 174h1v1h-1zM511 174h1v1h-1zM348 176h1v1h-1zM415 176h1v1h-1zM416 176h1v1h-1zM420 176h1v1h-1zM439 176h1v1h-1zM519 176h1v1h-1zM381 177h1v1h-1zM348 178h1v1h-1zM413 178h1v1h-1zM451 178h1v1h-1zM453 178h1v1h-1zM516 178h1v1h-1zM376 179h1v1h-1zM400 179h1v1h-1zM413 179h1v1h-1zM511 179h1v1h-1zM399 180h1v1h-1zM405 180h1v1h-1zM512 180h1v1h-1zM518 180h1v1h-1zM401 181h1v1h-1zM514 181h1v1h-1zM516 181h1v1h-1zM371 182h1v1h-1zM386 182h1v1h-1zM391 182h1v1h-1zM409 182h1v1h-1zM430 182h1v1h-1zM442 182h1v1h-1zM345 183h1v1h-1zM362 183h1v1h-1zM447 183h1v1h-1zM448 183h1v1h-1zM348 184h1v1h-1zM353 184h1v1h-1zM360 185h1v1h-1zM370 185h1v1h-1zM403 185h1v1h-1zM516 185h1v1h-1zM388 186h1v1h-1zM416 186h1v1h-1zM363 187h1v1h-1zM364 187h1v1h-1zM389 187h1v1h-1zM409 187h1v1h-1zM511 187h1v1h-1zM358 188h1v1h-1zM406 188h1v1h-1zM516 188h1v1h-1zM353 189h1v1h-1zM387 189h1v1h-1zM388 190h1v1h-1zM397 190h1v1h-1zM405 190h1v1h-1zM402 191h1v1h-1zM423 191h1v1h-1zM436 192h1v1h-1zM453 192h1v1h-1zM408 193h1v1h-1zM448 193h1v1h-1zM449 193h1v1h-1zM516 193h1v1h-1zM371 194h1v1h-1zM389 194h1v1h-1zM405 194h1v1h-1zM430 194h1v1h-1zM439 194h1v1h-1zM382 195h1v1h-1zM393 195h1v1h-1zM410 195h1v1h-1zM426 195h1v1h-1zM435 195h1v1h-1zM511 195h1v1h-1zM405 196h1v1h-1zM512 196h1v1h-1zM520 196h1v1h-1zM350 197h1v1h-1zM359 197h1v1h-1zM391 198h1v1h-1zM441 198h1v1h-1zM355 199h1v1h-1zM370 199h1v1h-1zM380 199h1v1h-1zM383 199h1v1h-1zM386 199h1v1h-1zM410 199h1v1h-1zM419 199h1v1h-1zM367 200h1v1h-1zM383 200h1v1h-1zM412 200h1v1h-1zM413 200h1v1h-1zM421 200h1v1h-1zM425 200h1v1h-1zM396 201h1v1h-1zM438 201h1v1h-1zM518 201h1v1h-1zM519 201h1v1h-1zM378 202h1v1h-1zM391 202h1v1h-1zM393 202h1v1h-1zM395 202h1v1h-1zM363 204h1v1h-1zM379 204h1v1h-1zM430 204h1v1h-1zM447 204h1v1h-1zM515 204h1v1h-1zM345 206h1v1h-1zM352 206h1v1h-1zM453 206h1v1h-1zM384 207h1v1h-1zM398 207h1v1h-1zM417 207h1v1h-1zM429 207h1v1h-1zM512 207h1v1h-1zM401 208h1v1h-1zM415 208h1v1h-1zM428 208h1v1h-1zM453 208h1v1h-1zM513 208h1v1h-1zM352 209h1v1h-1zM361 209h1v1h-1zM393 209h1v1h-1zM426 209h1v1h-1zM520 209h1v1h-1zM369 210h1v1h-1zM439 210h1v1h-1zM516 210h1v1h-1zM520 210h1v1h-1zM441 211h1v1h-1zM448 211h1v1h-1zM358 212h1v1h-1zM360 212h1v1h-1zM369 212h1v1h-1zM383 212h1v1h-1zM387 212h1v1h-1zM416 212h1v1h-1zM421 212h1v1h-1zM433 212h1v1h-1zM452 212h1v1h-1zM364 213h1v1h-1zM383 213h1v1h-1zM396 213h1v1h-1zM451 213h1v1h-1zM513 213h1v1h-1zM419 214h1v1h-1zM450 214h1v1h-1zM511 214h1v1h-1zM438 215h1v1h-1zM440 215h1v1h-1zM357 216h1v1h-1zM406 216h1v1h-1zM452 216h1v1h-1zM514 216h1v1h-1zM354 217h1v1h-1zM374 217h1v1h-1zM397 217h1v1h-1zM411 217h1v1h-1zM432 217h1v1h-1zM390 222h1v1h-1zM400 222h1v1h-1zM403 222h1v1h-1zM511 222h1v1h-1zM357 223h1v1h-1zM382 223h1v1h-1zM399 223h1v1h-1zM401 223h1v1h-1zM413 223h1v1h-1zM421 223h1v1h-1zM424 223h1v1h-1zM347 225h1v1h-1zM349 225h1v1h-1zM389 225h1v1h-1zM405 225h1v1h-1zM428 225h1v1h-1zM440 225h1v1h-1zM511 225h1v1h-1zM514 225h1v1h-1zM389 226h1v1h-1zM438 226h1v1h-1zM519 226h1v1h-1zM360 227h1v1h-1zM354 228h1v1h-1zM413 228h1v1h-1zM519 228h1v1h-1zM388 229h1v1h-1zM408 229h1v1h-1zM413 229h1v1h-1zM419 229h1v1h-1zM420 229h1v1h-1zM345 230h1v1h-1zM349 230h1v1h-1zM351 230h1v1h-1zM362 230h1v1h-1zM367 230h1v1h-1zM368 230h1v1h-1zM372 230h1v1h-1zM380 230h1v1h-1zM396 230h1v1h-1zM449 230h1v1h-1zM347 231h1v1h-1zM369 231h1v1h-1zM437 231h1v1h-1zM512 231h1v1h-1zM516 231h1v1h-1zM374 232h1v1h-1zM435 232h1v1h-1zM444 232h1v1h-1zM446 232h1v1h-1zM362 233h1v1h-1zM511 235h1v1h-1zM518 235h1v1h-1zM354 236h1v1h-1zM360 236h1v1h-1zM363 236h1v1h-1zM396 236h1v1h-1zM354 238h1v1h-1zM370 238h1v1h-1zM373 238h1v1h-1zM379 238h1v1h-1zM439 238h1v1h-1zM380 239h1v1h-1zM385 239h1v1h-1zM408 239h1v1h-1zM520 239h1v1h-1zM360 241h1v1h-1zM390 241h1v1h-1zM419 241h1v1h-1zM350 242h1v1h-1zM384 242h1v1h-1zM518 242h1v1h-1zM384 244h1v1h-1zM410 244h1v1h-1zM412 244h1v1h-1zM443 244h1v1h-1zM453 244h1v1h-1zM378 247h1v1h-1zM402 247h1v1h-1zM414 247h1v1h-1zM369 248h1v1h-1zM389 248h1v1h-1zM415 248h1v1h-1zM377 251h1v1h-1zM389 251h1v1h-1zM400 251h1v1h-1zM422 251h1v1h-1zM430 251h1v1h-1zM451 251h1v1h-1zM379 252h1v1h-1zM406 252h1v1h-1zM409 252h1v1h-1zM438 252h1v1h-1zM520 252h1v1h-1zM358 253h1v1h-1zM368 253h1v1h-1zM410 253h1v1h-1zM439 253h1v1h-1zM348 254h1v1h-1zM437 254h1v1h-1zM517 254h1v1h-1zM399 255h1v1h-1zM411 255h1v1h-1zM443 255h1v1h-1zM351 256h1v1h-1zM515 256h1v1h-1zM400 483h1v1h-1zM406 483h1v1h-1zM429 483h1v1h-1zM437 483h1v1h-1zM441 483h1v1h-1zM353 484h1v1h-1zM380 484h1v1h-1zM412 484h1v1h-1zM391 485h1v1h-1zM439 485h1v1h-1zM445 485h1v1h-1zM513 485h1v1h-1zM367 486h1v1h-1zM399 486h1v1h-1zM402 486h1v1h-1zM403 486h1v1h-1zM424 486h1v1h-1zM434 486h1v1h-1zM446 486h1v1h-1zM377 487h1v1h-1zM388 487h1v1h-1zM390 487h1v1h-1zM410 487h1v1h-1zM435 487h1v1h-1zM446 487h1v1h-1zM448 487h1v1h-1zM360 488h1v1h-1zM374 488h1v1h-1zM378 488h1v1h-1zM397 488h1v1h-1zM404 488h1v1h-1zM419 488h1v1h-1zM423 488h1v1h-1zM440 488h1v1h-1zM515 488h1v1h-1zM354 491h1v1h-1zM369 491h1v1h-1zM445 491h1v1h-1zM363 493h1v1h-1zM377 493h1v1h-1zM397 493h1v1h-1zM446 493h1v1h-1zM515 493h1v1h-1zM349 496h1v1h-1zM362 496h1v1h-1zM382 496h1v1h-1zM390 496h1v1h-1zM391 496h1v1h-1zM411 496h1v1h-1zM419 497h1v1h-1zM435 497h1v1h-1zM438 497h1v1h-1zM345 498h1v1h-1zM362 498h1v1h-1zM376 498h1v1h-1zM383 498h1v1h-1zM433 498h1v1h-1zM446 498h1v1h-1zM359 499h1v1h-1zM364 499h1v1h-1zM369 499h1v1h-1zM396 499h1v1h-1zM421 499h1v1h-1zM359 500h1v1h-1zM377 500h1v1h-1zM394 500h1v1h-1zM402 500h1v1h-1zM407 500h1v1h-1zM421 500h1v1h-1zM435 500h1v1h-1zM411 501h1v1h-1zM436 501h1v1h-1zM514 501h1v1h-1zM383 502h1v1h-1zM399 502h1v1h-1zM424 502h1v1h-1zM430 502h1v1h-1zM518 502h1v1h-1zM380 503h1v1h-1zM449 503h1v1h-1zM517 503h1v1h-1zM435 504h1v1h-1zM448 504h1v1h-1zM358 505h1v1h-1zM362 505h1v1h-1zM375 505h1v1h-1zM376 505h1v1h-1zM406 505h1v1h-1zM424 505h1v1h-1zM428 505h1v1h-1zM451 505h1v1h-1zM358 506h1v1h-1zM391 507h1v1h-1zM412 507h1v1h-1zM362 508h1v1h-1zM369 508h1v1h-1zM386 508h1v1h-1zM389 508h1v1h-1zM390 508h1v1h-1zM424 508h1v1h-1zM356 509h1v1h-1zM365 509h1v1h-1zM376 509h1v1h-1zM384 509h1v1h-1zM385 509h1v1h-1zM395 509h1v1h-1zM453 509h1v1h-1zM512 509h1v1h-1zM362 510h1v1h-1zM370 510h1v1h-1zM403 510h1v1h-1zM407 510h1v1h-1zM424 510h1v1h-1zM453 510h1v1h-1zM437 511h1v1h-1zM350 512h1v1h-1zM375 512h1v1h-1zM390 512h1v1h-1zM402 512h1v1h-1zM442 512h1v1h-1zM444 512h1v1h-1zM384 513h1v1h-1zM452 513h1v1h-1zM345 514h1v1h-1zM352 514h1v1h-1zM379 514h1v1h-1zM393 514h1v1h-1zM396 514h1v1h-1zM404 514h1v1h-1zM440 514h1v1h-1zM364 515h1v1h-1zM377 515h1v1h-1zM412 515h1v1h-1zM417 515h1v1h-1zM448 515h1v1h-1zM387 516h1v1h-1zM409 516h1v1h-1zM413 516h1v1h-1zM438 516h1v1h-1zM451 516h1v1h-1zM372 517h1v1h-1zM378 517h1v1h-1zM401 517h1v1h-1zM419 517h1v1h-1zM426 517h1v1h-1zM428 517h1v1h-1zM513 517h1v1h-1zM360 518h1v1h-1zM373 518h1v1h-1zM430 518h1v1h-1zM441 518h1v1h-1zM517 518h1v1h-1zM360 519h1v1h-1zM389 519h1v1h-1zM395 519h1v1h-1zM511 519h1v1h-1zM436 270h1v1h-1zM441 270h1v1h-1zM442 270h1v1h-1zM444 270h1v1h-1zM450 270h1v1h-1zM395 271h1v1h-1zM354 272h1v1h-1zM408 272h1v1h-1zM413 272h1v1h-1zM451 272h1v1h-1zM438 273h1v1h-1zM446 273h1v1h-1zM513 273h1v1h-1zM520 273h1v1h-1zM365 274h1v1h-1zM439 274h1v1h-1zM518 274h1v1h-1zM356 275h1v1h-1zM358 275h1v1h-1zM367 275h1v1h-1zM389 275h1v1h-1zM400 275h1v1h-1zM439 275h1v1h-1zM442 276h1v1h-1zM351 277h1v1h-1zM357 277h1v1h-1zM379 277h1v1h-1zM414 277h1v1h-1zM423 277h1v1h-1zM348 278h1v1h-1zM360 278h1v1h-1zM400 278h1v1h-1zM405 278h1v1h-1zM407 278h1v1h-1zM411 278h1v1h-1zM378 279h1v1h-1zM402 280h1v1h-1zM408 280h1v1h-1zM512 280h1v1h-1zM346 281h1v1h-1zM353 281h1v1h-1zM355 281h1v1h-1zM373 281h1v1h-1zM375 281h1v1h-1zM377 281h1v1h-1zM435 281h1v1h-1zM520 281h1v1h-1zM352 282h1v1h-1zM372 282h1v1h-1zM378 282h1v1h-1zM452 282h1v1h-1zM345 283h1v1h-1zM349 283h1v1h-1zM370 283h1v1h-1zM359 284h1v1h-1zM405 284h1v1h-1zM407 284h1v1h-1zM444 284h1v1h-1zM357 285h1v1h-1zM407 285h1v1h-1zM412 285h1v1h-1zM453 285h1v1h-1zM512 285h1v1h-1zM359 286h1v1h-1zM406 286h1v1h-1zM365 287h1v1h-1zM366 287h1v1h-1zM381 287h1v1h-1zM396 287h1v1h-1zM402 287h1v1h-1zM403 287h1v1h-1zM425 287h1v1h-1zM511 287h1v1h-1zM517 288h1v1h-1zM444 290h1v1h-1zM519 290h1v1h-1zM347 291h1v1h-1zM412 291h1v1h-1zM419 291h1v1h-1zM427 291h1v1h-1zM432 292h1v1h-1zM352 293h1v1h-1zM360 293h1v1h-1zM400 293h1v1h-1zM355 294h1v1h-1zM366 294h1v1h-1zM367 294h1v1h-1zM380 294h1v1h-1zM429 294h1v1h-1zM517 294h1v1h-1zM519 294h1v1h-1zM371 295h1v1h-1zM414 295h1v1h-1zM349 297h1v1h-1zM409 298h1v1h-1zM515 298h1v1h-1zM400 299h1v1h-1zM360 300h1v1h-1zM447 303h1v1h-1zM515 303h1v1h-1zM345 305h1v1h-1zM388 305h1v1h-1zM519 305h1v1h-1zM353 306h1v1h-1zM370 306h1v1h-1zM390 306h1v1h-1zM444 306h1v1h-1zM511 306h1v1h-1zM407 308h1v1h-1zM426 308h1v1h-1zM439 308h1v1h-1zM447 308h1v1h-1zM378 309h1v1h-1zM407 309h1v1h-1zM357 311h1v1h-1zM380 311h1v1h-1zM519 311h1v1h-1zM351 312h1v1h-1zM368 312h1v1h-1zM392 312h1v1h-1zM420 312h1v1h-1zM425 312h1v1h-1zM362 313h1v1h-1zM388 313h1v1h-1zM412 313h1v1h-1zM383 314h1v1h-1zM387 314h1v1h-1zM434 314h1v1h-1zM364 315h1v1h-1zM432 315h1v1h-1zM375 316h1v1h-1zM390 316h1v1h-1zM368 317h1v1h-1zM379 317h1v1h-1zM384 317h1v1h-1zM400 317h1v1h-1zM439 317h1v1h-1zM419 318h1v1h-1zM429 318h1v1h-1zM451 318h1v1h-1zM348 319h1v1h-1zM445 319h1v1h-1zM356 321h1v1h-1zM387 321h1v1h-1zM438 321h1v1h-1zM446 321h1v1h-1zM511 321h1v1h-1zM519 321h1v1h-1zM403 322h1v1h-1zM412 322h1v1h-1zM437 322h1v1h-1zM445 322h1v1h-1zM348 323h1v1h-1zM392 323h1v1h-1zM418 323h1v1h-1zM434 323h1v1h-1zM514 323h1v1h-1zM450 324h1v1h-1zM349 325h1v1h-1zM415 325h1v1h-1zM423 325h1v1h-1zM352 326h1v1h-1zM378 326h1v1h-1zM390 326h1v1h-1zM409 326h1v1h-1zM512 326h1v1h-1zM515 326h1v1h-1zM366 327h1v1h-1zM369 327h1v1h-1zM440 327h1v1h-1zM453 327h1v1h-1zM366 331h1v1h-1zM391 331h1v1h-1zM424 331h1v1h-1zM442 331h1v1h-1zM354 332h1v1h-1zM390 332h1v1h-1zM426 332h1v1h-1zM516 332h1v1h-1zM365 333h1v1h-1zM380 333h1v1h-1zM416 333h1v1h-1zM514 333h1v1h-1zM386 334h1v1h-1zM409 334h1v1h-1zM417 334h1v1h-1zM448 334h1v1h-1zM345 336h1v1h-1zM362 337h1v1h-1zM449 337h1v1h-1zM357 338h1v1h-1zM384 338h1v1h-1zM431 338h1v1h-1zM432 339h1v1h-1zM436 339h1v1h-1zM355 340h1v1h-1zM449 340h1v1h-1zM452 340h1v1h-1zM391 341h1v1h-1zM404 341h1v1h-1zM440 341h1v1h-1zM400 343h1v1h-1zM419 343h1v1h-1zM383 344h1v1h-1zM390 344h1v1h-1zM410 344h1v1h-1zM421 344h1v1h-1zM353 345h1v1h-1zM366 345h1v1h-1zM425 345h1v1h-1zM427 345h1v1h-1zM513 345h1v1h-1zM519 345h1v1h-1zM413 346h1v1h-1zM519 346h1v1h-1zM360 347h1v1h-1zM447 347h1v1h-1zM517 347h1v1h-1zM520 347h1v1h-1zM346 348h1v1h-1zM369 348h1v1h-1zM371 348h1v1h-1zM379 348h1v1h-1zM399 348h1v1h-1zM367 349h1v1h-1zM418 349h1v1h-1zM406 350h1v1h-1zM432 350h1v1h-1zM450 350h1v1h-1zM372 351h1v1h-1zM394 351h1v1h-1zM437 351h1v1h-1zM513 351h1v1h-1zM514 351h1v1h-1z"/></g>
<path fill="#fff" d="M344 115h177v7h-177zM344 123h177v2h-177zM344 129h177v2h-177zM344 133h177v1h-177zM344 136h177v1h-177zM344 139h177v1h-177zM344 142h177v1h-177zM344 162h177v1h-177zM344 175h177v1h-177zM344 203h177v1h-177zM344 205h177v1h-177zM344 218h177v2h-177zM344 221h177v1h-177zM344 224h177v1h-177zM344 234h177v1h-177zM344 237h177v1h-177zM344 240h177v1h-177zM344 243h177v1h-177zM344 245h177v2h-177zM344 249h177v1h-177zM344 263h177v1h-177zM344 266h177v1h-177zM344 269h177v1h-177zM344 301h177v2h-177zM344 304h177v1h-177zM344 307h177v1h-177zM344 310h177v1h-177zM344 330h177v1h-177zM344 342h177v1h-177zM344 353h177v2h-177zM344 364h177v1h-177zM344 371h177v1h-177zM344 406h177v2h-177zM344 446h177v1h-177zM344 462h177v1h-177zM344 489h177v2h-177zM344 492h177v1h-177zM344 495h177v1h-177zM344 520h177v1h-177zM344 522h177v63h-177zM344 587h177v1h-177zM344 590h177v1h-177zM344 598h177v1h-177zM344 603h177v1h-177zM344 605h177v1h-177zM344 617h177v5h-177zM344 624h177v2h-177zM344 630h177v2h-177zM344 648h177v1h-177zM344 664h177v2h-177zM344 675h177v1h-177zM344 679h177v2h-177zM344 718h177v1h-177z"/>
<path fill="#000" d="M344 81h177v1h-177zM344 83h177v2h-177zM344 87h177v2h-177zM344 90h177v1h-177zM344 94h177v1h-177zM344 109h177v2h-177zM344 220h177v1h-177zM344 250h177v1h-177zM344 262h177v1h-177zM344 289h177v1h-177zM344 296h177v1h-177zM344 328h177v2h-177zM344 335h177v1h-177zM344 358h177v1h-177zM344 369h177v1h-177zM344 376h177v1h-177zM344 380h177v1h-177zM344 384h177v1h-177zM344 405h177v1h-177zM344 449h177v1h-177zM344 481h177v2h-177zM344 494h177v1h-177zM344 615h177v2h-177zM344 623h177v1h-177zM344 640h177v1h-177zM344 643h177v1h-177zM344 657h177v1h-177zM344 669h177v2h-177zM344 674h177v1h-177zM344 690h177v1h-177zM344 694h177v1h-177zM344 696h177v2h-177zM344 700h177v2h-177zM344 703h177v1h-177z"/>
<path d="M347 521.5h177M346 604.5h177" stroke="#fff" stroke-width="1" stroke-dasharray="2 1" fill="none"/>
<g filter="url(#S2)"><rect x="556" y="80" width="178" height="641" fill="#80ff00"/><rect x="556" y="81" width="86" height="5" fill="url(#g930)"/><rect x="556" y="86" width="86" height="3" fill="url(#g931)"/><rect x="556" y="89" width="86" height="3" fill="url(#g932)"/><rect x="556" y="92" width="86" height="9" fill="url(#g933)"/><rect x="556" y="101" width="86" height="9" fill="url(#g934)"/><rect x="556" y="110" width="86" height="6" fill="url(#g935)"/><rect x="556" y="116" width="86" height="11" fill="url(#g936)"/><rect x="556" y="127" width="86" height="11" fill="url(#g937)"/><rect x="556" y="138" width="86" height="5" fill="url(#g938)"/><rect x="556" y="143" width="86" height="6" fill="url(#g939)"/><rect x="556" y="149" width="86" height="11" fill="url(#g940)"/><rect x="556" y="160" width="86" height="5" fill="url(#g941)"/><rect x="556" y="165" width="86" height="6" fill="url(#g942)"/><rect x="556" y="171" width="86" height="10" fill="url(#g943)"/><rect x="556" y="181" width="86" height="9" fill="url(#g944)"/><rect x="556" y="190" width="86" height="6" fill="url(#g945)"/><rect x="556" y="196" width="86" height="5" fill="url(#g946)"/><rect x="556" y="201" width="86" height="9" fill="url(#g947)"/><rect x="556" y="210" width="86" height="6" fill="url(#g948)"/><rect x="556" y="216" width="86" height="6" fill="url(#g949)"/><rect x="556" y="222" width="86" height="5" fill="url(#g950)"/><rect x="556" y="227" width="86" height="4" fill="url(#g951)"/><rect x="556" y="231" width="86" height="9" fill="url(#g952)"/><rect x="556" y="240" width="86" height="7" fill="url(#g953)"/><rect x="556" y="247" width="86" height="8" fill="url(#g954)"/><rect x="556" y="255" width="86" height="10" fill="url(#g955)"/><rect x="556" y="265" width="86" height="9" fill="url(#g956)"/><rect x="556" y="274" width="86" height="7" fill="url(#g957)"/><rect x="556" y="281" width="86" height="7" fill="url(#g958)"/><rect x="556" y="288" width="86" height="6" fill="url(#g959)"/><rect x="556" y="294" width="86" height="9" fill="url(#g960)"/><rect x="556" y="303" width="86" height="11" fill="url(#g961)"/><rect x="556" y="314" width="86" height="9" fill="url(#g962)"/><rect x="556" y="323" width="86" height="3" fill="url(#g963)"/><rect x="556" y="326" width="86" height="9" fill="url(#g964)"/><rect x="556" y="335" width="86" height="3" fill="url(#g965)"/><rect x="556" y="338" width="86" height="11" fill="url(#g966)"/><rect x="556" y="349" width="86" height="8" fill="url(#g967)"/><rect x="556" y="357" width="86" height="9" fill="url(#g968)"/><rect x="556" y="366" width="86" height="8" fill="url(#g969)"/><rect x="556" y="374" width="86" height="6" fill="url(#g970)"/><rect x="556" y="380" width="86" height="5" fill="url(#g971)"/><rect x="556" y="385" width="86" height="5" fill="url(#g972)"/><rect x="556" y="390" width="86" height="5" fill="url(#g973)"/><rect x="556" y="395" width="86" height="4" fill="url(#g974)"/><rect x="556" y="399" width="86" height="5" fill="url(#g975)"/><rect x="556" y="404" width="86" height="6" fill="url(#g976)"/><rect x="556" y="410" width="86" height="7" fill="url(#g977)"/><rect x="556" y="417" width="86" height="4" fill="url(#g978)"/><rect x="556" y="421" width="86" height="3" fill="url(#g979)"/><rect x="556" y="424" width="86" height="5" fill="url(#g980)"/><rect x="556" y="429" width="86" height="10" fill="url(#g981)"/><rect x="556" y="439" width="86" height="9" fill="url(#g982)"/><rect x="556" y="448" width="86" height="6" fill="url(#g983)"/><rect x="556" y="454" width="86" height="7" fill="url(#g984)"/><rect x="556" y="461" width="86" height="7" fill="url(#g985)"/><rect x="556" y="468" width="86" height="6" fill="url(#g986)"/><rect x="556" y="474" width="86" height="7" fill="url(#g987)"/><rect x="556" y="481" width="86" height="9" fill="url(#g988)"/><rect x="556" y="490" width="86" height="9" fill="url(#g989)"/><rect x="556" y="499" width="86" height="5" fill="url(#g990)"/><rect x="556" y="504" width="86" height="4" fill="url(#g991)"/><rect x="556" y="508" width="86" height="10" fill="url(#g992)"/><rect x="556" y="518" width="86" height="9" fill="url(#g993)"/><rect x="556" y="527" width="86" height="6" fill="url(#g994)"/><rect x="556" y="533" width="86" height="6" fill="url(#g995)"/><rect x="556" y="539" width="86" height="10" fill="url(#g996)"/><rect x="556" y="549" width="86" height="9" fill="url(#g997)"/><rect x="556" y="558" width="86" height="6" fill="url(#g998)"/><rect x="556" y="564" width="86" height="4" fill="url(#g999)"/><rect x="556" y="568" width="86" height="10" fill="url(#g1000)"/><rect x="556" y="578" width="86" height="10" fill="url(#g1001)"/><rect x="556" y="588" width="86" height="9" fill="url(#g1002)"/><rect x="556" y="597" width="86" height="6" fill="url(#g1003)"/><rect x="556" y="603" width="86" height="5" fill="url(#g1004)"/><rect x="556" y="608" width="86" height="6" fill="url(#g1005)"/><rect x="556" y="614" width="86" height="3" fill="url(#g1006)"/><rect x="556" y="617" width="86" height="7" fill="url(#g1007)"/><rect x="556" y="624" width="86" height="6" fill="url(#g1008)"/><rect x="556" y="630" width="86" height="8" fill="url(#g1009)"/><rect x="556" y="638" width="86" height="3" fill="url(#g1010)"/><rect x="556" y="641" width="86" height="11" fill="url(#g1011)"/><rect x="556" y="652" width="86" height="6" fill="url(#g1012)"/><rect x="556" y="658" width="86" height="5" fill="url(#g1013)"/><rect x="556" y="663" width="86" height="4" fill="url(#g1014)"/><rect x="556" y="667" width="86" height="11" fill="url(#g1015)"/><rect x="556" y="678" width="86" height="11" fill="url(#g1016)"/><rect x="556" y="689" width="86" height="3" fill="url(#g1017)"/><rect x="556" y="692" width="86" height="10" fill="url(#g1018)"/><rect x="556" y="702" width="86" height="7" fill="url(#g1019)"/><rect x="556" y="709" width="86" height="7" fill="url(#g1020)"/><rect x="556" y="716" width="86" height="4" fill="url(#g1021)"/><rect x="642" y="81" width="92" height="12" fill="url(#g1022)"/><rect x="642" y="93" width="92" height="3" fill="url(#g1023)"/><rect x="642" y="96" width="92" height="5" fill="url(#g1024)"/><rect x="642" y="101" width="92" height="6" fill="url(#g1025)"/><rect x="642" y="107" width="92" height="12" fill="url(#g1026)"/><rect x="642" y="119" width="92" height="9" fill="url(#g1027)"/><rect x="642" y="128" width="92" height="9" fill="url(#g1028)"/><rect x="642" y="137" width="92" height="10" fill="url(#g1029)"/><rect x="642" y="147" width="92" height="12" fill="url(#g1030)"/><rect x="642" y="159" width="92" height="10" fill="url(#g1031)"/><rect x="642" y="169" width="92" height="8" fill="url(#g1032)"/><rect x="642" y="177" width="92" height="9" fill="url(#g1033)"/><rect x="642" y="186" width="92" height="7" fill="url(#g1034)"/><rect x="642" y="193" width="92" height="3" fill="url(#g1035)"/><rect x="642" y="196" width="92" height="12" fill="url(#g1036)"/><rect x="642" y="208" width="92" height="10" fill="url(#g1037)"/><rect x="642" y="218" width="92" height="8" fill="url(#g1038)"/><rect x="642" y="226" width="92" height="4" fill="url(#g1039)"/><rect x="642" y="230" width="92" height="3" fill="url(#g1040)"/><rect x="642" y="233" width="92" height="9" fill="url(#g1041)"/><rect x="642" y="242" width="92" height="7" fill="url(#g1042)"/><rect x="642" y="249" width="92" height="7" fill="url(#g1043)"/><rect x="642" y="256" width="92" height="8" fill="url(#g1044)"/><rect x="642" y="264" width="92" height="7" fill="url(#g1045)"/><rect x="642" y="271" width="92" height="4" fill="url(#g1046)"/><rect x="642" y="275" width="92" height="8" fill="url(#g1047)"/><rect x="642" y="283" width="92" height="10" fill="url(#g1048)"/><rect x="642" y="293" width="92" height="7" fill="url(#g1049)"/><rect x="642" y="300" width="92" height="11" fill="url(#g1050)"/><rect x="642" y="311" width="92" height="11" fill="url(#g1051)"/><rect x="642" y="322" width="92" height="5" fill="url(#g1052)"/><rect x="642" y="327" width="92" height="4" fill="url(#g1053)"/><rect x="642" y="331" width="92" height="3" fill="url(#g1054)"/><rect x="642" y="334" width="92" height="6" fill="url(#g1055)"/><rect x="642" y="340" width="92" height="5" fill="url(#g1056)"/><rect x="642" y="345" width="92" height="11" fill="url(#g1057)"/><rect x="642" y="356" width="92" height="9" fill="url(#g1058)"/><rect x="642" y="365" width="92" height="12" fill="url(#g1059)"/><rect x="642" y="377" width="92" height="10" fill="url(#g1060)"/><rect x="642" y="387" width="92" height="8" fill="url(#g1061)"/><rect x="642" y="395" width="92" height="8" fill="url(#g1062)"/><rect x="642" y="403" width="92" height="10" fill="url(#g1063)"/><rect x="642" y="413" width="92" height="8" fill="url(#g1064)"/><rect x="642" y="421" width="92" height="3" fill="url(#g1065)"/><rect x="642" y="424" width="92" height="4" fill="url(#g1066)"/><rect x="642" y="428" width="92" height="3" fill="url(#g1067)"/><rect x="642" y="431" width="92" height="3" fill="url(#g1068)"/><rect x="642" y="434" width="92" height="12" fill="url(#g1069)"/><rect x="642" y="446" width="92" height="12" fill="url(#g1070)"/><rect x="642" y="458" width="92" height="12" fill="url(#g1071)"/><rect x="642" y="470" width="92" height="4" fill="url(#g1072)"/><rect x="642" y="474" width="92" height="6" fill="url(#g1073)"/><rect x="642" y="480" width="92" height="3" fill="url(#g1074)"/><rect x="642" y="483" width="92" height="4" fill="url(#g1075)"/><rect x="642" y="487" width="92" height="3" fill="url(#g1076)"/><rect x="642" y="490" width="92" height="8" fill="url(#g1077)"/><rect x="642" y="498" width="92" height="5" fill="url(#g1078)"/><rect x="642" y="503" width="92" height="9" fill="url(#g1079)"/><rect x="642" y="512" width="92" height="8" fill="url(#g1080)"/><rect x="642" y="520" width="92" height="5" fill="url(#g1081)"/><rect x="642" y="525" width="92" height="10" fill="url(#g1082)"/><rect x="642" y="535" width="92" height="12" fill="url(#g1083)"/><rect x="642" y="547" width="92" height="9" fill="url(#g1084)"/><rect x="642" y="556" width="92" height="6" fill="url(#g1085)"/><rect x="642" y="562" width="92" height="3" fill="url(#g1086)"/><rect x="642" y="565" width="92" height="12" fill="url(#g1087)"/><rect x="642" y="577" width="92" height="6" fill="url(#g1088)"/><rect x="642" y="583" width="92" height="8" fill="url(#g1089)"/><rect x="642" y="591" width="92" height="12" fill="url(#g1090)"/><rect x="642" y="603" width="92" height="8" fill="url(#g1091)"/><rect x="642" y="611" width="92" height="10" fill="url(#g1092)"/><rect x="642" y="621" width="92" height="9" fill="url(#g1093)"/><rect x="642" y="630" width="92" height="7" fill="url(#g1094)"/><rect x="642" y="637" width="92" height="6" fill="url(#g1095)"/><rect x="642" y="643" width="92" height="12" fill="url(#g1096)"/><rect x="642" y="655" width="92" height="4" fill="url(#g1097)"/><rect x="642" y="659" width="92" height="9" fill="url(#g1098)"/><rect x="642" y="668" width="92" height="5" fill="url(#g1099)"/><rect x="642" y="673" width="92" height="3" fill="url(#g1100)"/><rect x="642" y="676" width="92" height="3" fill="url(#g1101)"/><rect x="642" y="679" width="92" height="6" fill="url(#g1102)"/><rect x="642" y="685" width="92" height="8" fill="url(#g1103)"/><rect x="642" y="693" width="92" height="7" fill="url(#g1104)"/><rect x="642" y="700" width="92" height="8" fill="url(#g1105)"/><rect x="642" y="708" width="92" height="8" fill="url(#g1106)"/><rect x="642" y="716" width="92" height="4" fill="url(#g1107)"/><rect x="734" y="81" width="0" height="4" fill="url(#g1108)"/><rect x="734" y="85" width="0" height="6" fill="url(#g1109)"/><rect x="734" y="91" width="0" height="8" fill="url(#g1110)"/><rect x="734" y="99" width="0" height="4" fill="url(#g1111)"/><rect x="734" y="103" width="0" height="3" fill="url(#g1112)"/><rect x="734" y="106" width="0" height="3" fill="url(#g1113)"/><rect x="734" y="109" width="0" height="6" fill="url(#g1114)"/><rect x="734" y="115" width="0" height="12" fill="url(#g1115)"/><rect x="734" y="127" width="0" height="6" fill="url(#g1116)"/><rect x="734" y="133" width="0" height="4" fill="url(#g1117)"/><rect x="734" y="137" width="0" height="5" fill="url(#g1118)"/><rect x="734" y="142" width="0" height="3" fill="url(#g1119)"/><rect x="734" y="145" width="0" height="12" fill="url(#g1120)"/><rect x="734" y="157" width="0" height="4" fill="url(#g1121)"/><rect x="734" y="161" width="0" height="9" fill="url(#g1122)"/><rect x="734" y="170" width="0" height="4" fill="url(#g1123)"/><rect x="734" y="174" width="0" height="6" fill="url(#g1124)"/><rect x="734" y="180" width="0" height="7" fill="url(#g1125)"/><rect x="734" y="187" width="0" height="3" fill="url(#g1126)"/><rect x="734" y="190" width="0" height="11" fill="url(#g1127)"/><rect x="734" y="201" width="0" height="6" fill="url(#g1128)"/><rect x="734" y="207" width="0" height="11" fill="url(#g1129)"/><rect x="734" y="218" width="0" height="3" fill="url(#g1130)"/><rect x="734" y="221" width="0" height="4" fill="url(#g1131)"/><rect x="734" y="225" width="0" height="5" fill="url(#g1132)"/><rect x="734" y="230" width="0" height="9" fill="url(#g1133)"/><rect x="734" y="239" width="0" height="5" fill="url(#g1134)"/><rect x="734" y="244" width="0" height="9" fill="url(#g1135)"/><rect x="734" y="253" width="0" height="4" fill="url(#g1136)"/><rect x="734" y="257" width="0" height="11" fill="url(#g1137)"/><rect x="734" y="268" width="0" height="12" fill="url(#g1138)"/><rect x="734" y="280" width="0" height="6" fill="url(#g1139)"/><rect x="734" y="286" width="0" height="6" fill="url(#g1140)"/><rect x="734" y="292" width="0" height="8" fill="url(#g1141)"/><rect x="734" y="300" width="0" height="6" fill="url(#g1142)"/><rect x="734" y="306" width="0" height="11" fill="url(#g1143)"/><rect x="734" y="317" width="0" height="10" fill="url(#g1144)"/><rect x="734" y="327" width="0" height="10" fill="url(#g1145)"/><rect x="734" y="337" width="0" height="11" fill="url(#g1146)"/><rect x="734" y="348" width="0" height="12" fill="url(#g1147)"/><rect x="734" y="360" width="0" height="12" fill="url(#g1148)"/><rect x="734" y="372" width="0" height="5" fill="url(#g1149)"/><rect x="734" y="377" width="0" height="7" fill="url(#g1150)"/><rect x="734" y="384" width="0" height="4" fill="url(#g1151)"/><rect x="734" y="388" width="0" height="5" fill="url(#g1152)"/><rect x="734" y="393" width="0" height="3" fill="url(#g1153)"/><rect x="734" y="396" width="0" height="3" fill="url(#g1154)"/><rect x="734" y="399" width="0" height="8" fill="url(#g1155)"/><rect x="734" y="407" width="0" height="11" fill="url(#g1156)"/><rect x="734" y="418" width="0" height="7" fill="url(#g1157)"/><rect x="734" y="425" width="0" height="7" fill="url(#g1158)"/><rect x="734" y="432" width="0" height="9" fill="url(#g1159)"/><rect x="734" y="441" width="0" height="3" fill="url(#g1160)"/><rect x="734" y="444" width="0" height="11" fill="url(#g1161)"/><rect x="734" y="455" width="0" height="4" fill="url(#g1162)"/><rect x="734" y="459" width="0" height="5" fill="url(#g1163)"/><rect x="734" y="464" width="0" height="7" fill="url(#g1164)"/><rect x="734" y="471" width="0" height="8" fill="url(#g1165)"/><rect x="734" y="479" width="0" height="3" fill="url(#g1166)"/><rect x="734" y="482" width="0" height="11" fill="url(#g1167)"/><rect x="734" y="493" width="0" height="9" fill="url(#g1168)"/><rect x="734" y="502" width="0" height="10" fill="url(#g1169)"/><rect x="734" y="512" width="0" height="11" fill="url(#g1170)"/><rect x="734" y="523" width="0" height="4" fill="url(#g1171)"/><rect x="734" y="527" width="0" height="4" fill="url(#g1172)"/><rect x="734" y="531" width="0" height="10" fill="url(#g1173)"/><rect x="734" y="541" width="0" height="8" fill="url(#g1174)"/><rect x="734" y="549" width="0" height="12" fill="url(#g1175)"/><rect x="734" y="561" width="0" height="4" fill="url(#g1176)"/><rect x="734" y="565" width="0" height="9" fill="url(#g1177)"/><rect x="734" y="574" width="0" height="5" fill="url(#g1178)"/><rect x="734" y="579" width="0" height="12" fill="url(#g1179)"/><rect x="734" y="591" width="0" height="7" fill="url(#g1180)"/><rect x="734" y="598" width="0" height="4" fill="url(#g1181)"/><rect x="734" y="602" width="0" height="12" fill="url(#g1182)"/><rect x="734" y="614" width="0" height="5" fill="url(#g1183)"/><rect x="734" y="619" width="0" height="7" fill="url(#g1184)"/><rect x="734" y="626" width="0" height="7" fill="url(#g1185)"/><rect x="734" y="633" width="0" height="7" fill="url(#g1186)"/><rect x="734" y="640" width="0" height="4" fill="url(#g1187)"/><rect x="734" y="644" width="0" height="8" fill="url(#g1188)"/><rect x="734" y="652" width="0" height="11" fill="url(#g1189)"/><rect x="734" y="663" width="0" height="6" fill="url(#g1190)"/><rect x="734" y="669" width="0" height="12" fill="url(#g1191)"/><rect x="734" y="681" width="0" height="12" fill="url(#g1192)"/><rect x="734" y="693" width="0" height="8" fill="url(#g1193)"/><rect x="734" y="701" width="0" height="9" fill="url(#g1194)"/><rect x="734" y="710" width="0" height="10" fill="url(#g1195)"/><rect x="642" y="134" width="92" height="1" fill="url(#g1196)"/><rect x="642" y="135" width="92" height="1" fill="url(#g1197)"/><rect x="642" y="137" width="92" height="1" fill="url(#g1198)"/><rect x="642" y="138" width="92" height="1" fill="url(#g1199)"/><rect x="642" y="140" width="92" height="1" fill="url(#g1200)"/><rect x="642" y="141" width="92" height="1" fill="url(#g1201)"/><rect x="642" y="143" width="92" height="1" fill="url(#g1202)"/><rect x="642" y="144" width="92" height="1" fill="url(#g1203)"/><rect x="642" y="145" width="92" height="1" fill="url(#g1204)"/><rect x="642" y="146" width="92" height="1" fill="url(#g1205)"/><rect x="642" y="147" width="92" height="1" fill="url(#g1206)"/><rect x="642" y="148" width="92" height="1" fill="url(#g1207)"/><rect x="642" y="149" width="92" height="1" fill="url(#g1208)"/><rect x="642" y="150" width="92" height="1" fill="url(#g1209)"/><rect x="642" y="151" width="92" height="1" fill="url(#g1210)"/><rect x="642" y="152" width="92" height="1" fill="url(#g1211)"/><rect x="642" y="153" width="92" height="1" fill="url(#g1212)"/><rect x="642" y="154" width="92" height="1" fill="url(#g1213)"/><rect x="642" y="155" width="92" height="1" fill="url(#g1214)"/><rect x="642" y="156" width="92" height="1" fill="url(#g1215)"/><rect x="642" y="157" width="92" height="1" fill="url(#g1216)"/><rect x="642" y="158" width="92" height="1" fill="url(#g1217)"/><rect x="642" y="159" width="92" height="1" fill="url(#g1218)"/><rect x="642" y="160" width="92" height="1" fill="url(#g1219)"/><rect x="642" y="161" width="92" height="1" fill="url(#g1220)"/><rect x="642" y="163" width="92" height="1" fill="url(#g1221)"/><rect x="642" y="164" width="92" height="1" fill="url(#g1222)"/><rect x="642" y="165" width="92" height="1" fill="url(#g1223)"/><rect x="642" y="166" width="92" height="1" fill="url(#g1224)"/><rect x="642" y="167" width="92" height="1" fill="url(#g1225)"/><rect x="642" y="168" width="92" height="1" fill="url(#g1226)"/><rect x="642" y="169" width="92" height="1" fill="url(#g1227)"/><rect x="642" y="170" width="92" height="1" fill="url(#g1228)"/><rect x="642" y="171" width="92" height="1" fill="url(#g1229)"/><rect x="642" y="172" width="92" height="1" fill="url(#g1230)"/><rect x="642" y="173" width="92" height="1" fill="url(#g1231)"/><rect x="642" y="174" width="92" height="1" fill="url(#g1232)"/><rect x="642" y="176" width="92" height="1" fill="url(#g1233)"/><rect x="642" y="177" width="92" height="1" fill="url(#g1234)"/><rect x="642" y="178" width="92" height="1" fill="url(#g1235)"/><rect x="642" y="179" width="92" height="1" fill="url(#g1236)"/><rect x="642" y="180" width="92" height="1" fill="url(#g1237)"/><rect x="642" y="181" width="92" height="1" fill="url(#g1238)"/><rect x="642" y="182" width="92" height="1" fill="url(#g1239)"/><rect x="642" y="183" width="92" height="1" fill="url(#g1240)"/><rect x="642" y="184" width="92" height="1" fill="url(#g1241)"/><rect x="642" y="185" width="92" height="1" fill="url(#g1242)"/><rect x="642" y="186" width="92" height="1" fill="url(#g1243)"/><rect x="642" y="187" width="92" height="1" fill="url(#g1244)"/><rect x="642" y="188" width="92" height="1" fill="url(#g1245)"/><rect x="642" y="189" width="92" height="1" fill="url(#g1246)"/><rect x="642" y="190" width="92" height="1" fill="url(#g1247)"/><rect x="642" y="191" width="92" height="1" fill="url(#g1248)"/><rect x="642" y="192" width="92" height="1" fill="url(#g1249)"/><rect x="642" y="193" width="92" height="1" fill="url(#g1250)"/><rect x="642" y="194" width="92" height="1" fill="url(#g1251)"/><rect x="642" y="195" width="92" height="1" fill="url(#g1252)"/><rect x="642" y="196" width="92" height="1" fill="url(#g1253)"/><rect x="642" y="197" width="92" height="1" fill="url(#g1254)"/><rect x="642" y="198" width="92" height="1" fill="url(#g1255)"/><rect x="642" y="199" width="92" height="1" fill="url(#g1256)"/><rect x="642" y="200" width="92" height="1" fill="url(#g1257)"/><rect x="642" y="201" width="92" height="1" fill="url(#g1258)"/><rect x="642" y="202" width="92" height="1" fill="url(#g1259)"/><rect x="642" y="204" width="92" height="1" fill="url(#g1260)"/><rect x="642" y="206" width="92" height="1" fill="url(#g1261)"/><rect x="642" y="207" width="92" height="1" fill="url(#g1262)"/><rect x="642" y="208" width="92" height="1" fill="url(#g1263)"/><rect x="642" y="209" width="92" height="1" fill="url(#g1264)"/><rect x="642" y="210" width="92" height="1" fill="url(#g1265)"/><rect x="642" y="211" width="92" height="1" fill="url(#g1266)"/><rect x="642" y="212" width="92" height="1" fill="url(#g1267)"/><rect x="642" y="213" width="92" height="1" fill="url(#g1268)"/><rect x="642" y="214" width="92" height="1" fill="url(#g1269)"/><rect x="642" y="215" width="92" height="1" fill="url(#g1270)"/><rect x="642" y="216" width="92" height="1" fill="url(#g1271)"/><rect x="642" y="217" width="92" height="1" fill="url(#g1272)"/><rect x="642" y="222" width="92" height="1" fill="url(#g1273)"/><rect x="642" y="223" width="92" height="1" fill="url(#g1274)"/><rect x="642" y="225" width="92" height="1" fill="url(#g1275)"/><rect x="642" y="226" width="92" height="1" fill="url(#g1276)"/><rect x="642" y="227" width="92" height="1" fill="url(#g1277)"/><rect x="642" y="228" width="92" height="1" fill="url(#g1278)"/><rect x="642" y="229" width="92" height="1" fill="url(#g1279)"/><rect x="642" y="230" width="92" height="1" fill="url(#g1280)"/><rect x="642" y="231" width="92" height="1" fill="url(#g1281)"/><rect x="642" y="232" width="92" height="1" fill="url(#g1282)"/><rect x="642" y="233" width="92" height="1" fill="url(#g1283)"/><rect x="642" y="235" width="92" height="1" fill="url(#g1284)"/><rect x="642" y="236" width="92" height="1" fill="url(#g1285)"/><rect x="642" y="238" width="92" height="1" fill="url(#g1286)"/><rect x="642" y="239" width="92" height="1" fill="url(#g1287)"/><rect x="642" y="241" width="92" height="1" fill="url(#g1288)"/><rect x="642" y="242" width="92" height="1" fill="url(#g1289)"/><rect x="642" y="244" width="92" height="1" fill="url(#g1290)"/><rect x="642" y="247" width="92" height="1" fill="url(#g1291)"/><rect x="642" y="248" width="92" height="1" fill="url(#g1292)"/><rect x="642" y="251" width="92" height="1" fill="url(#g1293)"/><rect x="642" y="252" width="92" height="1" fill="url(#g1294)"/><rect x="642" y="253" width="92" height="1" fill="url(#g1295)"/><rect x="642" y="254" width="92" height="1" fill="url(#g1296)"/><rect x="642" y="255" width="92" height="1" fill="url(#g1297)"/><rect x="642" y="256" width="92" height="1" fill="url(#g1298)"/><rect x="556" y="483" width="178" height="1" fill="url(#g1299)"/><rect x="556" y="484" width="178" height="1" fill="url(#g1300)"/><rect x="556" y="485" width="178" height="1" fill="url(#g1301)"/><rect x="556" y="486" width="178" height="1" fill="url(#g1302)"/><rect x="556" y="487" width="178" height="1" fill="url(#g1303)"/><rect x="556" y="488" width="178" height="1" fill="url(#g1304)"/><rect x="652" y="626" width="82" height="1" fill="url(#g1305)"/><rect x="652" y="627" width="82" height="1" fill="url(#g1306)"/><rect x="652" y="628" width="82" height="1" fill="url(#g1307)"/><rect x="652" y="629" width="82" height="1" fill="url(#g1308)"/><rect x="652" y="632" width="82" height="1" fill="url(#g1309)"/><rect x="652" y="633" width="82" height="1" fill="url(#g1310)"/><rect x="652" y="634" width="82" height="1" fill="url(#g1311)"/><rect x="652" y="635" width="82" height="1" fill="url(#g1312)"/><rect x="652" y="636" width="82" height="1" fill="url(#g1313)"/><rect x="652" y="637" width="82" height="1" fill="url(#g1314)"/><rect x="652" y="638" width="82" height="1" fill="url(#g1315)"/><rect x="652" y="639" width="82" height="1" fill="url(#g1316)"/><rect x="652" y="641" width="82" height="1" fill="url(#g1317)"/><rect x="652" y="642" width="82" height="1" fill="url(#g1318)"/><rect x="652" y="644" width="82" height="1" fill="url(#g1319)"/><rect x="652" y="645" width="82" height="1" fill="url(#g1320)"/><rect x="652" y="646" width="82" height="1" fill="url(#g1321)"/><rect x="652" y="647" width="82" height="1" fill="url(#g1322)"/><rect x="652" y="649" width="82" height="1" fill="url(#g1323)"/><rect x="652" y="650" width="82" height="1" fill="url(#g1324)"/><rect x="652" y="651" width="82" height="1" fill="url(#g1325)"/><rect x="652" y="652" width="82" height="1" fill="url(#g1326)"/><rect x="652" y="653" width="82" height="1" fill="url(#g1327)"/><rect x="652" y="654" width="82" height="1" fill="url(#g1328)"/><rect x="652" y="655" width="82" height="1" fill="url(#g1329)"/><rect x="652" y="656" width="82" height="1" fill="url(#g1330)"/><rect x="652" y="658" width="82" height="1" fill="url(#g1331)"/><rect x="652" y="659" width="82" height="1" fill="url(#g1332)"/><rect x="652" y="660" width="82" height="1" fill="url(#g1333)"/><rect x="652" y="661" width="82" height="1" fill="url(#g1334)"/><rect x="652" y="662" width="82" height="1" fill="url(#g1335)"/><rect x="652" y="663" width="82" height="1" fill="url(#g1336)"/><rect x="652" y="666" width="82" height="1" fill="url(#g1337)"/><rect x="652" y="667" width="82" height="1" fill="url(#g1338)"/><rect x="652" y="668" width="82" height="1" fill="url(#g1339)"/><rect x="652" y="671" width="82" height="1" fill="url(#g1340)"/><rect x="652" y="672" width="82" height="1" fill="url(#g1341)"/><rect x="556" y="704" width="104" height="1" fill="url(#g1342)"/><rect x="556" y="705" width="104" height="1" fill="url(#g1343)"/><rect x="556" y="706" width="104" height="1" fill="url(#g1344)"/><rect x="556" y="707" width="104" height="1" fill="url(#g1345)"/><rect x="556" y="708" width="104" height="1" fill="url(#g1346)"/><rect x="556" y="709" width="104" height="1" fill="url(#g1347)"/><rect x="556" y="710" width="104" height="1" fill="url(#g1348)"/><rect x="556" y="711" width="104" height="1" fill="url(#g1349)"/><rect x="556" y="712" width="104" height="1" fill="url(#g1350)"/><rect x="556" y="713" width="104" height="1" fill="url(#g1351)"/><rect x="556" y="714" width="104" height="1" fill="url(#g1352)"/><rect x="556" y="715" width="104" height="1" fill="url(#g1353)"/><rect x="556" y="716" width="104" height="1" fill="url(#g1354)"/><rect x="556" y="717" width="104" height="1" fill="url(#g1355)"/><rect x="556" y="355" width="178" height="1" fill="url(#g1356)"/><rect x="556" y="356" width="178" height="1" fill="url(#g1357)"/><rect x="556" y="357" width="178" height="1" fill="url(#g1358)"/><rect x="556" y="359" width="178" height="1" fill="url(#g1359)"/><rect x="556" y="360" width="178" height="1" fill="url(#g1360)"/><rect x="556" y="361" width="178" height="1" fill="url(#g1361)"/><rect x="556" y="362" width="178" height="1" fill="url(#g1362)"/><rect x="556" y="363" width="178" height="1" fill="url(#g1363)"/><rect x="556" y="365" width="178" height="1" fill="url(#g1364)"/><rect x="556" y="366" width="178" height="1" fill="url(#g1365)"/><rect x="556" y="367" width="178" height="1" fill="url(#g1366)"/><rect x="556" y="368" width="178" height="1" fill="url(#g1367)"/><rect x="556" y="370" width="178" height="1" fill="url(#g1368)"/><rect x="556" y="372" width="178" height="1" fill="url(#g1369)"/><rect x="556" y="373" width="178" height="1" fill="url(#g1370)"/><rect x="556" y="374" width="178" height="1" fill="url(#g1371)"/><rect x="556" y="375" width="178" height="1" fill="url(#g1372)"/><rect x="642" y="81" width="50" height="274" fill="url(#af)" style="mix-blend-mode:screen"/><rect x="642" y="377" width="50" height="249" fill="url(#af)" style="mix-blend-mode:screen"/><rect x="642" y="673" width="50" height="47" fill="url(#af)" style="mix-blend-mode:screen"/></g>
<path fill="#fff" d="M556 115h178v7h-178zM556 123h178v2h-178zM556 129h178v2h-178zM556 133h178v1h-178zM556 136h178v1h-178zM556 139h178v1h-178zM556 142h178v1h-178zM556 162h178v1h-178zM556 175h178v1h-178zM556 203h178v1h-178zM556 205h178v1h-178zM556 218h178v2h-178zM556 221h178v1h-178zM556 224h178v1h-178zM556 234h178v1h-178zM556 237h178v1h-178zM556 240h178v1h-178zM556 243h178v1h-178zM556 245h178v2h-178zM556 249h178v1h-178zM556 263h178v1h-178zM556 266h178v1h-178zM556 269h178v1h-178zM556 301h178v2h-178zM556 304h178v1h-178zM556 307h178v1h-178zM556 310h178v1h-178zM556 330h178v1h-178zM556 342h178v1h-178zM556 353h178v2h-178zM556 364h178v1h-178zM556 371h178v1h-178zM556 406h178v2h-178zM556 446h178v1h-178zM556 462h178v1h-178zM556 489h178v2h-178zM556 492h178v1h-178zM556 495h178v1h-178zM556 520h178v1h-178zM556 522h178v63h-178zM556 587h178v1h-178zM556 590h178v1h-178zM556 598h178v1h-178zM556 603h178v1h-178zM556 605h178v1h-178zM556 617h178v5h-178zM556 624h178v2h-178zM556 630h178v2h-178zM556 648h178v1h-178zM556 664h178v2h-178zM556 675h178v1h-178zM556 679h178v2h-178zM556 718h178v1h-178z"/>
<path fill="#000" d="M556 81h178v1h-178zM556 83h178v2h-178zM556 87h178v2h-178zM556 90h178v1h-178zM556 94h178v1h-178zM556 109h178v2h-178zM556 220h178v1h-178zM556 250h178v1h-178zM556 262h178v1h-178zM556 289h178v1h-178zM556 296h178v1h-178zM556 328h178v2h-178zM556 335h178v1h-178zM556 358h178v1h-178zM556 369h178v1h-178zM556 376h178v1h-178zM556 380h178v1h-178zM556 384h178v1h-178zM556 405h178v1h-178zM556 449h178v1h-178zM556 481h178v2h-178zM556 494h178v1h-178zM556 615h178v2h-178zM556 623h178v1h-178zM556 640h178v1h-178zM556 643h178v1h-178zM556 657h178v1h-178zM556 669h178v2h-178zM556 674h178v1h-178zM556 690h178v1h-178zM556 694h178v1h-178zM556 696h178v2h-178zM556 700h178v2h-178zM556 703h178v1h-178z"/>
<path d="M559 521.5h178M558 604.5h178" stroke="#fff" stroke-width="1" stroke-dasharray="2 1" fill="none"/>
<g filter="url(#S3)"><rect x="768" y="80" width="178" height="641" fill="#80ff00"/><rect x="768" y="81" width="86" height="10" fill="url(#g1373)"/><rect x="768" y="91" width="86" height="4" fill="url(#g1374)"/><rect x="768" y="95" width="86" height="5" fill="url(#g1375)"/><rect x="768" y="100" width="86" height="6" fill="url(#g1376)"/><rect x="768" y="106" width="86" height="11" fill="url(#g1377)"/><rect x="768" y="117" width="86" height="11" fill="url(#g1378)"/><rect x="768" y="128" width="86" height="4" fill="url(#g1379)"/><rect x="768" y="132" width="86" height="9" fill="url(#g1380)"/><rect x="768" y="141" width="86" height="3" fill="url(#g1381)"/><rect x="768" y="144" width="86" height="9" fill="url(#g1382)"/><rect x="768" y="153" width="86" height="5" fill="url(#g1383)"/><rect x="768" y="158" width="86" height="5" fill="url(#g1384)"/><rect x="768" y="163" width="86" height="4" fill="url(#g1385)"/><rect x="768" y="167" width="86" height="7" fill="url(#g1386)"/><rect x="768" y="174" width="86" height="10" fill="url(#g1387)"/><rect x="768" y="184" width="86" height="11" fill="url(#g1388)"/><rect x="768" y="195" width="86" height="9" fill="url(#g1389)"/><rect x="768" y="204" width="86" height="8" fill="url(#g1390)"/><rect x="768" y="212" width="86" height="4" fill="url(#g1391)"/><rect x="768" y="216" width="86" height="11" fill="url(#g1392)"/><rect x="768" y="227" width="86" height="11" fill="url(#g1393)"/><rect x="768" y="238" width="86" height="7" fill="url(#g1394)"/><rect x="768" y="245" width="86" height="9" fill="url(#g1395)"/><rect x="768" y="254" width="86" height="7" fill="url(#g1396)"/><rect x="768" y="261" width="86" height="4" fill="url(#g1397)"/><rect x="768" y="265" width="86" height="11" fill="url(#g1398)"/><rect x="768" y="276" width="86" height="9" fill="url(#g1399)"/><rect x="768" y="285" width="86" height="4" fill="url(#g1400)"/><rect x="768" y="289" width="86" height="6" fill="url(#g1401)"/><rect x="768" y="295" width="86" height="7" fill="url(#g1402)"/><rect x="768" y="302" width="86" height="7" fill="url(#g1403)"/><rect x="768" y="309" width="86" height="6" fill="url(#g1404)"/><rect x="768" y="315" width="86" height="5" fill="url(#g1405)"/><rect x="768" y="320" width="86" height="6" fill="url(#g1406)"/><rect x="768" y="326" width="86" height="5" fill="url(#g1407)"/><rect x="768" y="331" width="86" height="9" fill="url(#g1408)"/><rect x="768" y="340" width="86" height="5" fill="url(#g1409)"/><rect x="768" y="345" width="86" height="4" fill="url(#g1410)"/><rect x="768" y="349" width="86" height="7" fill="url(#g1411)"/><rect x="768" y="356" width="86" height="7" fill="url(#g1412)"/><rect x="768" y="363" width="86" height="7" fill="url(#g1413)"/><rect x="768" y="370" width="86" height="7" fill="url(#g1414)"/><rect x="768" y="377" width="86" height="5" fill="url(#g1415)"/><rect x="768" y="382" width="86" height="5" fill="url(#g1416)"/><rect x="768" y="387" width="86" height="8" fill="url(#g1417)"/><rect x="768" y="395" width="86" height="9" fill="url(#g1418)"/><rect x="768" y="404" width="86" height="6" fill="url(#g1419)"/><rect x="768" y="410" width="86" height="8" fill="url(#g1420)"/><rect x="768" y="418" width="86" height="8" fill="url(#g1421)"/><rect x="768" y="426" width="86" height="11" fill="url(#g1422)"/><rect x="768" y="437" width="86" height="4" fill="url(#g1423)"/><rect x="768" y="441" width="86" height="7" fill="url(#g1424)"/><rect x="768" y="448" width="86" height="11" fill="url(#g1425)"/><rect x="768" y="459" width="86" height="11" fill="url(#g1426)"/><rect x="768" y="470" width="86" height="8" fill="url(#g1427)"/><rect x="768" y="478" width="86" height="11" fill="url(#g1428)"/><rect x="768" y="489" width="86" height="8" fill="url(#g1429)"/><rect x="768" y="497" width="86" height="11" fill="url(#g1430)"/><rect x="768" y="508" width="86" height="10" fill="url(#g1431)"/><rect x="768" y="518" width="86" height="10" fill="url(#g1432)"/><rect x="768" y="528" width="86" height="7" fill="url(#g1433)"/><rect x="768" y="535" width="86" height="11" fill="url(#g1434)"/><rect x="768" y="546" width="86" height="7" fill="url(#g1435)"/><rect x="768" y="553" width="86" height="6" fill="url(#g1436)"/><rect x="768" y="559" width="86" height="6" fill="url(#g1437)"/><rect x="768" y="565" width="86" height="6" fill="url(#g1438)"/><rect x="768" y="571" width="86" height="6" fill="url(#g1439)"/><rect x="768" y="577" width="86" height="4" fill="url(#g1440)"/><rect x="768" y="581" width="86" height="9" fill="url(#g1441)"/><rect x="768" y="590" width="86" height="3" fill="url(#g1442)"/><rect x="768" y="593" width="86" height="8" fill="url(#g1443)"/><rect x="768" y="601" width="86" height="7" fill="url(#g1444)"/><rect x="768" y="608" width="86" height="4" fill="url(#g1445)"/><rect x="768" y="612" width="86" height="10" fill="url(#g1446)"/><rect x="768" y="622" width="86" height="8" fill="url(#g1447)"/><rect x="768" y="630" width="86" height="6" fill="url(#g1448)"/><rect x="768" y="636" width="86" height="4" fill="url(#g1449)"/><rect x="768" y="640" width="86" height="11" fill="url(#g1450)"/><rect x="768" y="651" width="86" height="7" fill="url(#g1451)"/><rect x="768" y="658" width="86" height="8" fill="url(#g1452)"/><rect x="768" y="666" width="86" height="8" fill="url(#g1453)"/><rect x="768" y="674" width="86" height="5" fill="url(#g1454)"/><rect x="768" y="679" width="86" height="3" fill="url(#g1455)"/><rect x="768" y="682" width="86" height="8" fill="url(#g1456)"/><rect x="768" y="690" width="86" height="11" fill="url(#g1457)"/><rect x="768" y="701" width="86" height="9" fill="url(#g1458)"/><rect x="768" y="710" width="86" height="7" fill="url(#g1459)"/><rect x="768" y="717" width="86" height="3" fill="url(#g1460)"/><rect x="854" y="81" width="92" height="5" fill="url(#g1461)"/><rect x="854" y="86" width="92" height="4" fill="url(#g1462)"/><rect x="854" y="90" width="92" height="11" fill="url(#g1463)"/><rect x="854" y="101" width="92" height="3" fill="url(#g1464)"/><rect x="854" y="104" width="92" height="4" fill="url(#g1465)"/><rect x="854" y="108" width="92" height="8" fill="url(#g1466)"/><rect x="854" y="116" width="92" height="5" fill="url(#g1467)"/><rect x="854" y="121" width="92" height="3" fill="url(#g1468)"/><rect x="854" y="124" width="92" height="9" fill="url(#g1469)"/><rect x="854" y="133" width="92" height="10" fill="url(#g1470)"/><rect x="854" y="143" width="92" height="8" fill="url(#g1471)"/><rect x="854" y="151" width="92" height="12" fill="url(#g1472)"/><rect x="854" y="163" width="92" height="3" fill="url(#g1473)"/><rect x="854" y="166" width="92" height="11" fill="url(#g1474)"/><rect x="854" y="177" width="92" height="11" fill="url(#g1475)"/><rect x="854" y="188" width="92" height="6" fill="url(#g1476)"/><rect x="854" y="194" width="92" height="4" fill="url(#g1477)"/><rect x="854" y="198" width="92" height="11" fill="url(#g1478)"/><rect x="854" y="209" width="92" height="8" fill="url(#g1479)"/><rect x="854" y="217" width="92" height="4" fill="url(#g1480)"/><rect x="854" y="221" width="92" height="11" fill="url(#g1481)"/><rect x="854" y="232" width="92" height="5" fill="url(#g1482)"/><rect x="854" y="237" width="92" height="5" fill="url(#g1483)"/><rect x="854" y="242" width="92" height="3" fill="url(#g1484)"/><rect x="854" y="245" width="92" height="6" fill="url(#g1485)"/><rect x="854" y="251" width="92" height="7" fill="url(#g1486)"/><rect x="854" y="258" width="92" height="9" fill="url(#g1487)"/><rect x="854" y="267" width="92" height="12" fill="url(#g1488)"/><rect x="854" y="279" width="92" height="4" fill="url(#g1489)"/><rect x="854" y="283" width="92" height="8" fill="url(#g1490)"/><rect x="854" y="291" width="92" height="7" fill="url(#g1491)"/><rect x="854" y="298" width="92" height="6" fill="url(#g1492)"/><rect x="854" y="304" width="92" height="5" fill="url(#g1493)"/><rect x="854" y="309" width="92" height="6" fill="url(#g1494)"/><rect x="854" y="315" width="92" height="7" fill="url(#g1495)"/><rect x="854" y="322" width="92" height="7" fill="url(#g1496)"/><rect x="854" y="329" width="92" height="7" fill="url(#g1497)"/><rect x="854" y="336" width="92" height="10" fill="url(#g1498)"/><rect x="854" y="346" width="92" height="9" fill="url(#g1499)"/><rect x="854" y="355" width="92" height="10" fill="url(#g1500)"/><rect x="854" y="365" width="92" height="7" fill="url(#g1501)"/><rect x="854" y="372" width="92" height="9" fill="url(#g1502)"/><rect x="854" y="381" width="92" height="9" fill="url(#g1503)"/><rect x="854" y="390" width="92" height="12" fill="url(#g1504)"/><rect x="854" y="402" width="92" height="4" fill="url(#g1505)"/><rect x="854" y="406" width="92" height="12" fill="url(#g1506)"/><rect x="854" y="418" width="92" height="6" fill="url(#g1507)"/><rect x="854" y="424" width="92" height="5" fill="url(#g1508)"/><rect x="854" y="429" width="92" height="5" fill="url(#g1509)"/><rect x="854" y="434" width="92" height="11" fill="url(#g1510)"/><rect x="854" y="445" width="92" height="3" fill="url(#g1511)"/><rect x="854" y="448" width="92" height="11" fill="url(#g1512)"/><rect x="854" y="459" width="92" height="11" fill="url(#g1513)"/><rect x="854" y="470" width="92" height="6" fill="url(#g1514)"/><rect x="854" y="476" width="92" height="4" fill="url(#g1515)"/><rect x="854" y="480" width="92" height="11" fill="url(#g1516)"/><rect x="854" y="491" width="92" height="4" fill="url(#g1517)"/><rect x="854" y="495" width="92" height="10" fill="url(#g1518)"/><rect x="854" y="505" width="92" height="9" fill="url(#g1519)"/><rect x="854" y="514" width="92" height="5" fill="url(#g1520)"/><rect x="854" y="519" width="92" height="11" fill="url(#g1521)"/><rect x="854" y="530" width="92" height="8" fill="url(#g1522)"/><rect x="854" y="538" width="92" height="7" fill="url(#g1523)"/><rect x="854" y="545" width="92" height="4" fill="url(#g1524)"/><rect x="854" y="549" width="92" height="4" fill="url(#g1525)"/><rect x="854" y="553" width="92" height="10" fill="url(#g1526)"/><rect x="854" y="563" width="92" height="8" fill="url(#g1527)"/><rect x="854" y="571" width="92" height="5" fill="url(#g1528)"/><rect x="854" y="576" width="92" height="4" fill="url(#g1529)"/><rect x="854" y="580" width="92" height="9" fill="url(#g1530)"/><rect x="854" y="589" width="92" height="11" fill="url(#g1531)"/><rect x="854" y="600" width="92" height="11" fill="url(#g1532)"/><rect x="854" y="611" width="92" height="3" fill="url(#g1533)"/><rect x="854" y="614" width="92" height="4" fill="url(#g1534)"/><rect x="854" y="618" width="92" height="10" fill="url(#g1535)"/><rect x="854" y="628" width="92" height="4" fill="url(#g1536)"/><rect x="854" y="632" width="92" height="11" fill="url(#g1537)"/><rect x="854" y="643" width="92" height="6" fill="url(#g1538)"/><rect x="854" y="649" width="92" height="9" fill="url(#g1539)"/><rect x="854" y="658" width="92" height="7" fill="url(#g1540)"/><rect x="854" y="665" width="92" height="9" fill="url(#g1541)"/><rect x="854" y="674" width="92" height="10" fill="url(#g1542)"/><rect x="854" y="684" width="92" height="6" fill="url(#g1543)"/><rect x="854" y="690" width="92" height="7" fill="url(#g1544)"/><rect x="854" y="697" width="92" height="6" fill="url(#g1545)"/><rect x="854" y="703" width="92" height="6" fill="url(#g1546)"/><rect x="854" y="709" width="92" height="6" fill="url(#g1547)"/><rect x="854" y="715" width="92" height="5" fill="url(#g1548)"/><rect x="946" y="81" width="0" height="9" fill="url(#g1549)"/><rect x="946" y="90" width="0" height="4" fill="url(#g1550)"/><rect x="946" y="94" width="0" height="5" fill="url(#g1551)"/><rect x="946" y="99" width="0" height="12" fill="url(#g1552)"/><rect x="946" y="111" width="0" height="5" fill="url(#g1553)"/><rect x="946" y="116" width="0" height="7" fill="url(#g1554)"/><rect x="946" y="123" width="0" height="4" fill="url(#g1555)"/><rect x="946" y="127" width="0" height="6" fill="url(#g1556)"/><rect x="946" y="133" width="0" height="4" fill="url(#g1557)"/><rect x="946" y="137" width="0" height="12" fill="url(#g1558)"/><rect x="946" y="149" width="0" height="6" fill="url(#g1559)"/><rect x="946" y="155" width="0" height="10" fill="url(#g1560)"/><rect x="946" y="165" width="0" height="10" fill="url(#g1561)"/><rect x="946" y="175" width="0" height="10" fill="url(#g1562)"/><rect x="946" y="185" width="0" height="4" fill="url(#g1563)"/><rect x="946" y="189" width="0" height="5" fill="url(#g1564)"/><rect x="946" y="194" width="0" height="8" fill="url(#g1565)"/><rect x="946" y="202" width="0" height="3" fill="url(#g1566)"/><rect x="946" y="205" width="0" height="11" fill="url(#g1567)"/><rect x="946" y="216" width="0" height="10" fill="url(#g1568)"/><rect x="946" y="226" width="0" height="5" fill="url(#g1569)"/><rect x="946" y="231" width="0" height="9" fill="url(#g1570)"/><rect x="946" y="240" width="0" height="7" fill="url(#g1571)"/><rect x="946" y="247" width="0" height="12" fill="url(#g1572)"/><rect x="946" y="259" width="0" height="8" fill="url(#g1573)"/><rect x="946" y="267" width="0" height="9" fill="url(#g1574)"/><rect x="946" y="276" width="0" height="10" fill="url(#g1575)"/><rect x="946" y="286" width="0" height="10" fill="url(#g1576)"/><rect x="946" y="296" width="0" height="11" fill="url(#g1577)"/><rect x="946" y="307" width="0" height="3" fill="url(#g1578)"/><rect x="946" y="310" width="0" height="7" fill="url(#g1579)"/><rect x="946" y="317" width="0" height="8" fill="url(#g1580)"/><rect x="946" y="325" width="0" height="11" fill="url(#g1581)"/><rect x="946" y="336" width="0" height="10" fill="url(#g1582)"/><rect x="946" y="346" width="0" height="9" fill="url(#g1583)"/><rect x="946" y="355" width="0" height="8" fill="url(#g1584)"/><rect x="946" y="363" width="0" height="5" fill="url(#g1585)"/><rect x="946" y="368" width="0" height="4" fill="url(#g1586)"/><rect x="946" y="372" width="0" height="5" fill="url(#g1587)"/><rect x="946" y="377" width="0" height="6" fill="url(#g1588)"/><rect x="946" y="383" width="0" height="6" fill="url(#g1589)"/><rect x="946" y="389" width="0" height="6" fill="url(#g1590)"/><rect x="946" y="395" width="0" height="6" fill="url(#g1591)"/><rect x="946" y="401" width="0" height="10" fill="url(#g1592)"/><rect x="946" y="411" width="0" height="9" fill="url(#g1593)"/><rect x="946" y="420" width="0" height="8" fill="url(#g1594)"/><rect x="946" y="428" width="0" height="4" fill="url(#g1595)"/><rect x="946" y="432" width="0" height="5" fill="url(#g1596)"/><rect x="946" y="437" width="0" height="11" fill="url(#g1597)"/><rect x="946" y="448" width="0" height="6" fill="url(#g1598)"/><rect x="946" y="454" width="0" height="6" fill="url(#g1599)"/><rect x="946" y="460" width="0" height="9" fill="url(#g1600)"/><rect x="946" y="469" width="0" height="7" fill="url(#g1601)"/><rect x="946" y="476" width="0" height="5" fill="url(#g1602)"/><rect x="946" y="481" width="0" height="6" fill="url(#g1603)"/><rect x="946" y="487" width="0" height="12" fill="url(#g1604)"/><rect x="946" y="499" width="0" height="8" fill="url(#g1605)"/><rect x="946" y="507" width="0" height="3" fill="url(#g1606)"/><rect x="946" y="510" width="0" height="8" fill="url(#g1607)"/><rect x="946" y="518" width="0" height="5" fill="url(#g1608)"/><rect x="946" y="523" width="0" height="12" fill="url(#g1609)"/><rect x="946" y="535" width="0" height="6" fill="url(#g1610)"/><rect x="946" y="541" width="0" height="8" fill="url(#g1611)"/><rect x="946" y="549" width="0" height="8" fill="url(#g1612)"/><rect x="946" y="557" width="0" height="4" fill="url(#g1613)"/><rect x="946" y="561" width="0" height="3" fill="url(#g1614)"/><rect x="946" y="564" width="0" height="12" fill="url(#g1615)"/><rect x="946" y="576" width="0" height="5" fill="url(#g1616)"/><rect x="946" y="581" width="0" height="10" fill="url(#g1617)"/><rect x="946" y="591" width="0" height="7" fill="url(#g1618)"/><rect x="946" y="598" width="0" height="5" fill="url(#g1619)"/><rect x="946" y="603" width="0" height="5" fill="url(#g1620)"/><rect x="946" y="608" width="0" height="6" fill="url(#g1621)"/><rect x="946" y="614" width="0" height="3" fill="url(#g1622)"/><rect x="946" y="617" width="0" height="7" fill="url(#g1623)"/><rect x="946" y="624" width="0" height="3" fill="url(#g1624)"/><rect x="946" y="627" width="0" height="8" fill="url(#g1625)"/><rect x="946" y="635" width="0" height="12" fill="url(#g1626)"/><rect x="946" y="647" width="0" height="7" fill="url(#g1627)"/><rect x="946" y="654" width="0" height="8" fill="url(#g1628)"/><rect x="946" y="662" width="0" height="9" fill="url(#g1629)"/><rect x="946" y="671" width="0" height="10" fill="url(#g1630)"/><rect x="946" y="681" width="0" height="4" fill="url(#g1631)"/><rect x="946" y="685" width="0" height="4" fill="url(#g1632)"/><rect x="946" y="689" width="0" height="8" fill="url(#g1633)"/><rect x="946" y="697" width="0" height="4" fill="url(#g1634)"/><rect x="946" y="701" width="0" height="3" fill="url(#g1635)"/><rect x="946" y="704" width="0" height="12" fill="url(#g1636)"/><rect x="946" y="716" width="0" height="4" fill="url(#g1637)"/><rect x="854" y="134" width="92" height="1" fill="url(#g1638)"/><rect x="854" y="135" width="92" height="1" fill="url(#g1639)"/><rect x="854" y="137" width="92" height="1" fill="url(#g1640)"/><rect x="854" y="138" width="92" height="1" fill="url(#g1641)"/><rect x="854" y="140" width="92" height="1" fill="url(#g1642)"/><rect x="854" y="141" width="92" height="1" fill="url(#g1643)"/><rect x="854" y="143" width="92" height="1" fill="url(#g1644)"/><rect x="854" y="144" width="92" height="1" fill="url(#g1645)"/><rect x="854" y="145" width="92" height="1" fill="url(#g1646)"/><rect x="854" y="146" width="92" height="1" fill="url(#g1647)"/><rect x="854" y="147" width="92" height="1" fill="url(#g1648)"/><rect x="854" y="148" width="92" height="1" fill="url(#g1649)"/><rect x="854" y="149" width="92" height="1" fill="url(#g1650)"/><rect x="854" y="150" width="92" height="1" fill="url(#g1651)"/><rect x="854" y="151" width="92" height="1" fill="url(#g1652)"/><rect x="854" y="152" width="92" height="1" fill="url(#g1653)"/><rect x="854" y="153" width="92" height="1" fill="url(#g1654)"/><rect x="854" y="154" width="92" height="1" fill="url(#g1655)"/><rect x="854" y="155" width="92" height="1" fill="url(#g1656)"/><rect x="854" y="156" width="92" height="1" fill="url(#g1657)"/><rect x="854" y="157" width="92" height="1" fill="url(#g1658)"/><rect x="854" y="158" width="92" height="1" fill="url(#g1659)"/><rect x="854" y="159" width="92" height="1" fill="url(#g1660)"/><rect x="854" y="160" width="92" height="1" fill="url(#g1661)"/><rect x="854" y="161" width="92" height="1" fill="url(#g1662)"/><rect x="854" y="163" width="92" height="1" fill="url(#g1663)"/><rect x="854" y="164" width="92" height="1" fill="url(#g1664)"/><rect x="854" y="165" width="92" height="1" fill="url(#g1665)"/><rect x="854" y="166" width="92" height="1" fill="url(#g1666)"/><rect x="854" y="167" width="92" height="1" fill="url(#g1667)"/><rect x="854" y="168" width="92" height="1" fill="url(#g1668)"/><rect x="854" y="169" width="92" height="1" fill="url(#g1669)"/><rect x="854" y="170" width="92" height="1" fill="url(#g1670)"/><rect x="854" y="171" width="92" height="1" fill="url(#g1671)"/><rect x="854" y="172" width="92" height="1" fill="url(#g1672)"/><rect x="854" y="173" width="92" height="1" fill="url(#g1673)"/><rect x="854" y="174" width="92" height="1" fill="url(#g1674)"/><rect x="854" y="176" width="92" height="1" fill="url(#g1675)"/><rect x="854" y="177" width="92" height="1" fill="url(#g1676)"/><rect x="854" y="178" width="92" height="1" fill="url(#g1677)"/><rect x="854" y="179" width="92" height="1" fill="url(#g1678)"/><rect x="854" y="180" width="92" height="1" fill="url(#g1679)"/><rect x="854" y="181" width="92" height="1" fill="url(#g1680)"/><rect x="854" y="182" width="92" height="1" fill="url(#g1681)"/><rect x="854" y="183" width="92" height="1" fill="url(#g1682)"/><rect x="854" y="184" width="92" height="1" fill="url(#g1683)"/><rect x="854" y="185" width="92" height="1" fill="url(#g1684)"/><rect x="854" y="186" width="92" height="1" fill="url(#g1685)"/><rect x="854" y="187" width="92" height="1" fill="url(#g1686)"/><rect x="854" y="188" width="92" height="1" fill="url(#g1687)"/><rect x="854" y="189" width="92" height="1" fill="url(#g1688)"/><rect x="854" y="190" width="92" height="1" fill="url(#g1689)"/><rect x="854" y="191" width="92" height="1" fill="url(#g1690)"/><rect x="854" y="192" width="92" height="1" fill="url(#g1691)"/><rect x="854" y="193" width="92" height="1" fill="url(#g1692)"/><rect x="854" y="194" width="92" height="1" fill="url(#g1693)"/><rect x="854" y="195" width="92" height="1" fill="url(#g1694)"/><rect x="854" y="196" width="92" height="1" fill="url(#g1695)"/><rect x="854" y="197" width="92" height="1" fill="url(#g1696)"/><rect x="854" y="198" width="92" height="1" fill="url(#g1697)"/><rect x="854" y="199" width="92" height="1" fill="url(#g1698)"/><rect x="854" y="200" width="92" height="1" fill="url(#g1699)"/><rect x="854" y="201" width="92" height="1" fill="url(#g1700)"/><rect x="854" y="202" width="92" height="1" fill="url(#g1701)"/><rect x="854" y="204" width="92" height="1" fill="url(#g1702)"/><rect x="854" y="206" width="92" height="1" fill="url(#g1703)"/><rect x="854" y="207" width="92" height="1" fill="url(#g1704)"/><rect x="854" y="208" width="92" height="1" fill="url(#g1705)"/><rect x="854" y="209" width="92" height="1" fill="url(#g1706)"/><rect x="854" y="210" width="92" height="1" fill="url(#g1707)"/><rect x="854" y="211" width="92" height="1" fill="url(#g1708)"/><rect x="854" y="212" width="92" height="1" fill="url(#g1709)"/><rect x="854" y="213" width="92" height="1" fill="url(#g1710)"/><rect x="854" y="214" width="92" height="1" fill="url(#g1711)"/><rect x="854" y="215" width="92" height="1" fill="url(#g1712)"/><rect x="854" y="216" width="92" height="1" fill="url(#g1713)"/><rect x="854" y="217" width="92" height="1" fill="url(#g1714)"/><rect x="854" y="222" width="92" height="1" fill="url(#g1715)"/><rect x="854" y="223" width="92" height="1" fill="url(#g1716)"/><rect x="854" y="225" width="92" height="1" fill="url(#g1717)"/><rect x="854" y="226" width="92" height="1" fill="url(#g1718)"/><rect x="854" y="227" width="92" height="1" fill="url(#g1719)"/><rect x="854" y="228" width="92" height="1" fill="url(#g1720)"/><rect x="854" y="229" width="92" height="1" fill="url(#g1721)"/><rect x="854" y="230" width="92" height="1" fill="url(#g1722)"/><rect x="854" y="231" width="92" height="1" fill="url(#g1723)"/><rect x="854" y="232" width="92" height="1" fill="url(#g1724)"/><rect x="854" y="233" width="92" height="1" fill="url(#g1725)"/><rect x="854" y="235" width="92" height="1" fill="url(#g1726)"/><rect x="854" y="236" width="92" height="1" fill="url(#g1727)"/><rect x="854" y="238" width="92" height="1" fill="url(#g1728)"/><rect x="854" y="239" width="92" height="1" fill="url(#g1729)"/><rect x="854" y="241" width="92" height="1" fill="url(#g1730)"/><rect x="854" y="242" width="92" height="1" fill="url(#g1731)"/><rect x="854" y="244" width="92" height="1" fill="url(#g1732)"/><rect x="854" y="247" width="92" height="1" fill="url(#g1733)"/><rect x="854" y="248" width="92" height="1" fill="url(#g1734)"/><rect x="854" y="251" width="92" height="1" fill="url(#g1735)"/><rect x="854" y="252" width="92" height="1" fill="url(#g1736)"/><rect x="854" y="253" width="92" height="1" fill="url(#g1737)"/><rect x="854" y="254" width="92" height="1" fill="url(#g1738)"/><rect x="854" y="255" width="92" height="1" fill="url(#g1739)"/><rect x="854" y="256" width="92" height="1" fill="url(#g1740)"/><rect x="768" y="483" width="178" height="1" fill="url(#g1741)"/><rect x="768" y="484" width="178" height="1" fill="url(#g1742)"/><rect x="768" y="485" width="178" height="1" fill="url(#g1743)"/><rect x="768" y="486" width="178" height="1" fill="url(#g1744)"/><rect x="768" y="487" width="178" height="1" fill="url(#g1745)"/><rect x="768" y="488" width="178" height="1" fill="url(#g1746)"/><rect x="864" y="626" width="82" height="1" fill="url(#g1747)"/><rect x="864" y="627" width="82" height="1" fill="url(#g1748)"/><rect x="864" y="628" width="82" height="1" fill="url(#g1749)"/><rect x="864" y="629" width="82" height="1" fill="url(#g1750)"/><rect x="864" y="632" width="82" height="1" fill="url(#g1751)"/><rect x="864" y="633" width="82" height="1" fill="url(#g1752)"/><rect x="864" y="634" width="82" height="1" fill="url(#g1753)"/><rect x="864" y="635" width="82" height="1" fill="url(#g1754)"/><rect x="864" y="636" width="82" height="1" fill="url(#g1755)"/><rect x="864" y="637" width="82" height="1" fill="url(#g1756)"/><rect x="864" y="638" width="82" height="1" fill="url(#g1757)"/><rect x="864" y="639" width="82" height="1" fill="url(#g1758)"/><rect x="864" y="641" width="82" height="1" fill="url(#g1759)"/><rect x="864" y="642" width="82" height="1" fill="url(#g1760)"/><rect x="864" y="644" width="82" height="1" fill="url(#g1761)"/><rect x="864" y="645" width="82" height="1" fill="url(#g1762)"/><rect x="864" y="646" width="82" height="1" fill="url(#g1763)"/><rect x="864" y="647" width="82" height="1" fill="url(#g1764)"/><rect x="864" y="649" width="82" height="1" fill="url(#g1765)"/><rect x="864" y="650" width="82" height="1" fill="url(#g1766)"/><rect x="864" y="651" width="82" height="1" fill="url(#g1767)"/><rect x="864" y="652" width="82" height="1" fill="url(#g1768)"/><rect x="864" y="653" width="82" height="1" fill="url(#g1769)"/><rect x="864" y="654" width="82" height="1" fill="url(#g1770)"/><rect x="864" y="655" width="82" height="1" fill="url(#g1771)"/><rect x="864" y="656" width="82" height="1" fill="url(#g1772)"/><rect x="864" y="658" width="82" height="1" fill="url(#g1773)"/><rect x="864" y="659" width="82" height="1" fill="url(#g1774)"/><rect x="864" y="660" width="82" height="1" fill="url(#g1775)"/><rect x="864" y="661" width="82" height="1" fill="url(#g1776)"/><rect x="864" y="662" width="82" height="1" fill="url(#g1777)"/><rect x="864" y="663" width="82" height="1" fill="url(#g1778)"/><rect x="864" y="666" width="82" height="1" fill="url(#g1779)"/><rect x="864" y="667" width="82" height="1" fill="url(#g1780)"/><rect x="864" y="668" width="82" height="1" fill="url(#g1781)"/><rect x="864" y="671" width="82" height="1" fill="url(#g1782)"/><rect x="864" y="672" width="82" height="1" fill="url(#g1783)"/><rect x="768" y="704" width="104" height="1" fill="url(#g1784)"/><rect x="768" y="705" width="104" height="1" fill="url(#g1785)"/><rect x="768" y="706" width="104" height="1" fill="url(#g1786)"/><rect x="768" y="707" width="104" height="1" fill="url(#g1787)"/><rect x="768" y="708" width="104" height="1" fill="url(#g1788)"/><rect x="768" y="709" width="104" height="1" fill="url(#g1789)"/><rect x="768" y="710" width="104" height="1" fill="url(#g1790)"/><rect x="768" y="711" width="104" height="1" fill="url(#g1791)"/><rect x="768" y="712" width="104" height="1" fill="url(#g1792)"/><rect x="768" y="713" width="104" height="1" fill="url(#g1793)"/><rect x="768" y="714" width="104" height="1" fill="url(#g1794)"/><rect x="768" y="715" width="104" height="1" fill="url(#g1795)"/><rect x="768" y="716" width="104" height="1" fill="url(#g1796)"/><rect x="768" y="717" width="104" height="1" fill="url(#g1797)"/><rect x="768" y="355" width="178" height="1" fill="url(#g1798)"/><rect x="768" y="356" width="178" height="1" fill="url(#g1799)"/><rect x="768" y="357" width="178" height="1" fill="url(#g1800)"/><rect x="768" y="359" width="178" height="1" fill="url(#g1801)"/><rect x="768" y="360" width="178" height="1" fill="url(#g1802)"/><rect x="768" y="361" width="178" height="1" fill="url(#g1803)"/><rect x="768" y="362" width="178" height="1" fill="url(#g1804)"/><rect x="768" y="363" width="178" height="1" fill="url(#g1805)"/><rect x="768" y="365" width="178" height="1" fill="url(#g1806)"/><rect x="768" y="366" width="178" height="1" fill="url(#g1807)"/><rect x="768" y="367" width="178" height="1" fill="url(#g1808)"/><rect x="768" y="368" width="178" height="1" fill="url(#g1809)"/><rect x="768" y="370" width="178" height="1" fill="url(#g1810)"/><rect x="768" y="372" width="178" height="1" fill="url(#g1811)"/><rect x="768" y="373" width="178" height="1" fill="url(#g1812)"/><rect x="768" y="374" width="178" height="1" fill="url(#g1813)"/><rect x="768" y="375" width="178" height="1" fill="url(#g1814)"/><rect x="854" y="81" width="50" height="274" fill="url(#af)" style="mix-blend-mode:screen"/><rect x="854" y="377" width="50" height="249" fill="url(#af)" style="mix-blend-mode:screen"/><rect x="854" y="673" width="50" height="47" fill="url(#af)" style="mix-blend-mode:screen"/></g>
<path fill="#fff" d="M768 115h178v7h-178zM768 123h178v2h-178zM768 129h178v2h-178zM768 133h178v1h-178zM768 136h178v1h-178zM768 139h178v1h-178zM768 142h178v1h-178zM768 162h178v1h-178zM768 175h178v1h-178zM768 203h178v1h-178zM768 205h178v1h-178zM768 218h178v2h-178zM768 221h178v1h-178zM768 224h178v1h-178zM768 234h178v1h-178zM768 237h178v1h-178zM768 240h178v1h-178zM768 243h178v1h-178zM768 245h178v2h-178zM768 249h178v1h-178zM768 263h178v1h-178zM768 266h178v1h-178zM768 269h178v1h-178zM768 301h178v2h-178zM768 304h178v1h-178zM768 307h178v1h-178zM768 310h178v1h-178zM768 330h178v1h-178zM768 342h178v1h-178zM768 353h178v2h-178zM768 364h178v1h-178zM768 371h178v1h-178zM768 406h178v2h-178zM768 446h178v1h-178zM768 462h178v1h-178zM768 489h178v2h-178zM768 492h178v1h-178zM768 495h178v1h-178zM768 520h178v1h-178zM768 522h178v63h-178zM768 587h178v1h-178zM768 590h178v1h-178zM768 598h178v1h-178zM768 603h178v1h-178zM768 605h178v1h-178zM768 617h178v5h-178zM768 624h178v2h-178zM768 630h178v2h-178zM768 648h178v1h-178zM768 664h178v2h-178zM768 675h178v1h-178zM768 679h178v2h-178zM768 718h178v1h-178z"/>
<path fill="#000" d="M768 81h178v1h-178zM768 83h178v2h-178zM768 87h178v2h-178zM768 90h178v1h-178zM768 94h178v1h-178zM768 109h178v2h-178zM768 220h178v1h-178zM768 250h178v1h-178zM768 262h178v1h-178zM768 289h178v1h-178zM768 296h178v1h-178zM768 328h178v2h-178zM768 335h178v1h-178zM768 358h178v1h-178zM768 369h178v1h-178zM768 376h178v1h-178zM768 380h178v1h-178zM768 384h178v1h-178zM768 405h178v1h-178zM768 449h178v1h-178zM768 481h178v2h-178zM768 494h178v1h-178zM768 615h178v2h-178zM768 623h178v1h-178zM768 640h178v1h-178zM768 643h178v1h-178zM768 657h178v1h-178zM768 669h178v2h-178zM768 674h178v1h-178zM768 690h178v1h-178zM768 694h178v1h-178zM768 696h178v2h-178zM768 700h178v2h-178zM768 703h178v1h-178z"/>
<path d="M771 521.5h178M770 604.5h178" stroke="#fff" stroke-width="1" stroke-dasharray="2 1" fill="none"/>
<path d="M173.5 720v-6M173.5 81v6M214.5 720v-6M214.5 81v6M256.5 720v-6M256.5 81v6M297.5 720v-6M297.5 81v6" stroke="#000" stroke-width="1" fill="none"/>
<path d="M132 586.67h6M308 586.67h-6M132 453.33h6M308 453.33h-6M132 320h6M308 320h-6M132 186.67h6M308 186.67h-6" stroke="#000" stroke-width=".5" fill="none" shape-rendering="auto"/>
<rect x="131.5" y="80.5" width="177" height="640" fill="none" stroke="#000" stroke-width="1"/>
<path d="M385.5 720v-6M385.5 81v6M426.5 720v-6M426.5 81v6M468.5 720v-6M468.5 81v6M509.5 720v-6M509.5 81v6" stroke="#000" stroke-width="1" fill="none"/>
<path d="M345 586.67h6M520 586.67h-6M345 453.33h6M520 453.33h-6M345 320h6M520 320h-6M345 186.67h6M520 186.67h-6" stroke="#000" stroke-width=".5" fill="none" shape-rendering="auto"/>
<rect x="344.5" y="80.5" width="176" height="640" fill="none" stroke="#000" stroke-width="1"/>
<path d="M597.5 720v-6M597.5 81v6M639.5 720v-6M639.5 81v6M680.5 720v-6M680.5 81v6M722.5 720v-6M722.5 81v6" stroke="#000" stroke-width="1" fill="none"/>
<path d="M557 586.67h6M733 586.67h-6M557 453.33h6M733 453.33h-6M557 320h6M733 320h-6M557 186.67h6M733 186.67h-6" stroke="#000" stroke-width=".5" fill="none" shape-rendering="auto"/>
<rect x="556.5" y="80.5" width="177" height="640" fill="none" stroke="#000" stroke-width="1"/>
<path d="M810.5 720v-6M810.5 81v6M851.5 720v-6M851.5 81v6M892.5 720v-6M892.5 81v6M934.5 720v-6M934.5 81v6" stroke="#000" stroke-width="1" fill="none"/>
<path d="M769 586.67h6M945 586.67h-6M769 453.33h6M945 453.33h-6M769 320h6M945 320h-6M769 186.67h6M945 186.67h-6" stroke="#000" stroke-width=".5" fill="none" shape-rendering="auto"/>
<rect x="768.5" y="80.5" width="177" height="640" fill="none" stroke="#000" stroke-width="1"/>
<rect x="1019" y="160" width="16" height="481" fill="url(#cb)"/>
<path d="M1022.5 161v5M1022.5 640v-5M1025.5 161v5M1025.5 640v-5M1028.5 161v5M1028.5 640v-5M1031.5 161v5M1031.5 640v-5" stroke="#000" stroke-width="1" fill="none"/>
<path d="M1020 200.30h5M1034 200.30h-5M1020 266.97h5M1034 266.97h-5M1020 333.63h5M1034 333.63h-5M1020 400.30h5M1034 400.30h-5M1020 466.97h5M1034 466.97h-5M1020 533.63h5M1034 533.63h-5M1020 600.30h5M1034 600.30h-5" stroke="#000" stroke-width=".6" fill="none" shape-rendering="auto"/>
<rect x="1019.5" y="160.5" width="15" height="480" fill="none" stroke="#000" stroke-width="1"/>
<text x="1017.70" y="647.0" font-size=".8" font-weight="bold" text-anchor="middle" stroke="#000" stroke-width=".5" opacity="0.8">0.0</text>
<text x="1021.60" y="647.0" font-size=".8" font-weight="bold" text-anchor="middle" stroke="#000" stroke-width=".5" opacity="0.85">0.2</text>
<text x="1024.60" y="647.0" font-size=".8" font-weight="bold" text-anchor="middle" stroke="#000" stroke-width=".5" opacity="0.85">0.4</text>
<text x="1027.60" y="647.0" font-size=".8" font-weight="bold" text-anchor="middle" stroke="#000" stroke-width=".5" opacity="0.55">0.6</text>
<text x="1030.70" y="647.0" font-size=".8" font-weight="bold" text-anchor="middle" stroke="#000" stroke-width=".5" opacity="0.5">0.8</text>
<text x="1033.80" y="647.0" font-size=".8" font-weight="bold" text-anchor="middle" stroke="#000" stroke-width=".5" opacity="0.45">1.0</text>
<g shape-rendering="auto">
<text x="589.2" y="26.1" font-size="12.6" text-anchor="middle" textLength="128" lengthAdjust="spacingAndGlyphs">2022-09-16 0.0-24.0</text>
<text x="220.6" y="73" font-size="16" text-anchor="middle" textLength="175" lengthAdjust="spacingAndGlyphs">XX, V6*V7=EA19*EA24</text>
<text x="131.65" y="735.7" font-size="12.6" text-anchor="middle" textLength="22.7" lengthAdjust="spacingAndGlyphs">320</text>
<text x="173.11" y="735.7" font-size="12.6" text-anchor="middle" textLength="22.7" lengthAdjust="spacingAndGlyphs">335</text>
<text x="214.57" y="735.7" font-size="12.6" text-anchor="middle" textLength="22.7" lengthAdjust="spacingAndGlyphs">350</text>
<text x="256.03" y="735.7" font-size="12.6" text-anchor="middle" textLength="22.7" lengthAdjust="spacingAndGlyphs">365</text>
<text x="297.49" y="735.7" font-size="12.6" text-anchor="middle" textLength="22.7" lengthAdjust="spacingAndGlyphs">380</text>
<text x="126.55" y="723.5" font-size="12.6" text-anchor="end" textLength="6.95" lengthAdjust="spacingAndGlyphs">0</text>
<text x="126.55" y="590.17" font-size="12.6" text-anchor="end" textLength="6.95" lengthAdjust="spacingAndGlyphs">5</text>
<text x="126.05" y="456.83" font-size="12.6" text-anchor="end" textLength="13.8" lengthAdjust="spacingAndGlyphs">10</text>
<text x="126.05" y="323.5" font-size="12.6" text-anchor="end" textLength="13.8" lengthAdjust="spacingAndGlyphs">15</text>
<text x="126.05" y="190.17" font-size="12.6" text-anchor="end" textLength="13.8" lengthAdjust="spacingAndGlyphs">20</text>
<text x="432.15" y="73" font-size="16" text-anchor="middle" textLength="173" lengthAdjust="spacingAndGlyphs">YY, V6*V7=EA19*EA24</text>
<text x="343.9" y="735.7" font-size="12.6" text-anchor="middle" textLength="22.7" lengthAdjust="spacingAndGlyphs">320</text>
<text x="385.36" y="735.7" font-size="12.6" text-anchor="middle" textLength="22.7" lengthAdjust="spacingAndGlyphs">335</text>
<text x="426.82" y="735.7" font-size="12.6" text-anchor="middle" textLength="22.7" lengthAdjust="spacingAndGlyphs">350</text>
<text x="468.28" y="735.7" font-size="12.6" text-anchor="middle" textLength="22.7" lengthAdjust="spacingAndGlyphs">365</text>
<text x="509.74" y="735.7" font-size="12.6" text-anchor="middle" textLength="22.7" lengthAdjust="spacingAndGlyphs">380</text>
<text x="338.8" y="723.5" font-size="12.6" text-anchor="end" textLength="6.95" lengthAdjust="spacingAndGlyphs">0</text>
<text x="338.8" y="590.17" font-size="12.6" text-anchor="end" textLength="6.95" lengthAdjust="spacingAndGlyphs">5</text>
<text x="338.3" y="456.83" font-size="12.6" text-anchor="end" textLength="13.8" lengthAdjust="spacingAndGlyphs">10</text>
<text x="338.3" y="323.5" font-size="12.6" text-anchor="end" textLength="13.8" lengthAdjust="spacingAndGlyphs">15</text>
<text x="338.3" y="190.17" font-size="12.6" text-anchor="end" textLength="13.8" lengthAdjust="spacingAndGlyphs">20</text>
<text x="644.85" y="73" font-size="16" text-anchor="middle" textLength="173.4" lengthAdjust="spacingAndGlyphs">XY, V6*V7=EA19*EA24</text>
<text x="556.2" y="735.7" font-size="12.6" text-anchor="middle" textLength="22.7" lengthAdjust="spacingAndGlyphs">320</text>
<text x="597.66" y="735.7" font-size="12.6" text-anchor="middle" textLength="22.7" lengthAdjust="spacingAndGlyphs">335</text>
<text x="639.12" y="735.7" font-size="12.6" text-anchor="middle" textLength="22.7" lengthAdjust="spacingAndGlyphs">350</text>
<text x="680.58" y="735.7" font-size="12.6" text-anchor="middle" textLength="22.7" lengthAdjust="spacingAndGlyphs">365</text>
<text x="722.04" y="735.7" font-size="12.6" text-anchor="middle" textLength="22.7" lengthAdjust="spacingAndGlyphs">380</text>
<text x="551.1" y="723.5" font-size="12.6" text-anchor="end" textLength="6.95" lengthAdjust="spacingAndGlyphs">0</text>
<text x="551.1" y="590.17" font-size="12.6" text-anchor="end" textLength="6.95" lengthAdjust="spacingAndGlyphs">5</text>
<text x="550.6" y="456.83" font-size="12.6" text-anchor="end" textLength="13.8" lengthAdjust="spacingAndGlyphs">10</text>
<text x="550.6" y="323.5" font-size="12.6" text-anchor="end" textLength="13.8" lengthAdjust="spacingAndGlyphs">15</text>
<text x="550.6" y="190.17" font-size="12.6" text-anchor="end" textLength="13.8" lengthAdjust="spacingAndGlyphs">20</text>
<text x="856.85" y="73" font-size="16" text-anchor="middle" textLength="173.4" lengthAdjust="spacingAndGlyphs">YX, V6*V7=EA19*EA24</text>
<text x="768.5" y="735.7" font-size="12.6" text-anchor="middle" textLength="22.7" lengthAdjust="spacingAndGlyphs">320</text>
<text x="809.96" y="735.7" font-size="12.6" text-anchor="middle" textLength="22.7" lengthAdjust="spacingAndGlyphs">335</text>
<text x="851.42" y="735.7" font-size="12.6" text-anchor="middle" textLength="22.7" lengthAdjust="spacingAndGlyphs">350</text>
<text x="892.88" y="735.7" font-size="12.6" text-anchor="middle" textLength="22.7" lengthAdjust="spacingAndGlyphs">365</text>
<text x="934.34" y="735.7" font-size="12.6" text-anchor="middle" textLength="22.7" lengthAdjust="spacingAndGlyphs">380</text>
<text x="763.4" y="723.5" font-size="12.6" text-anchor="end" textLength="6.95" lengthAdjust="spacingAndGlyphs">0</text>
<text x="763.4" y="590.17" font-size="12.6" text-anchor="end" textLength="6.95" lengthAdjust="spacingAndGlyphs">5</text>
<text x="762.9" y="456.83" font-size="12.6" text-anchor="end" textLength="13.8" lengthAdjust="spacingAndGlyphs">10</text>
<text x="762.9" y="323.5" font-size="12.6" text-anchor="end" textLength="13.8" lengthAdjust="spacingAndGlyphs">15</text>
<text x="762.9" y="190.17" font-size="12.6" text-anchor="end" textLength="13.8" lengthAdjust="spacingAndGlyphs">20</text>
<text x="431.8" y="754.7" font-size="13" textLength="104.2" lengthAdjust="spacingAndGlyphs">frequency (MHz)</text>
<text transform="translate(100.8 400) rotate(-90)" font-size="13" text-anchor="middle" textLength="66.5" lengthAdjust="spacingAndGlyphs">UT (hours)</text>
<text transform="translate(973.8 400.3) rotate(-90)" font-size="13" text-anchor="middle" textLength="79.5" lengthAdjust="spacingAndGlyphs">phase (deg.)</text>
<text x="1013.8" y="203.3" font-size="12.4" text-anchor="end" textLength="21.1" lengthAdjust="spacingAndGlyphs">150</text>
<text x="1013.8" y="269.97" font-size="12.4" text-anchor="end" textLength="21.1" lengthAdjust="spacingAndGlyphs">100</text>
<text x="1013.8" y="336.63" font-size="12.4" text-anchor="end" textLength="14.1" lengthAdjust="spacingAndGlyphs">50</text>
<text x="1013.8" y="403.3" font-size="12.4" text-anchor="end" textLength="7.1" lengthAdjust="spacingAndGlyphs">0</text>
<text x="1013.8" y="469.97" font-size="12.4" text-anchor="end" textLength="22.1" lengthAdjust="spacingAndGlyphs">−50</text>
<text x="1013.8" y="536.63" font-size="12.4" text-anchor="end" textLength="29.1" lengthAdjust="spacingAndGlyphs">−100</text>
<text x="1013.8" y="603.3" font-size="12.4" text-anchor="end" textLength="29.1" lengthAdjust="spacingAndGlyphs">−150</text>
</g>
</svg>
</body></html>
